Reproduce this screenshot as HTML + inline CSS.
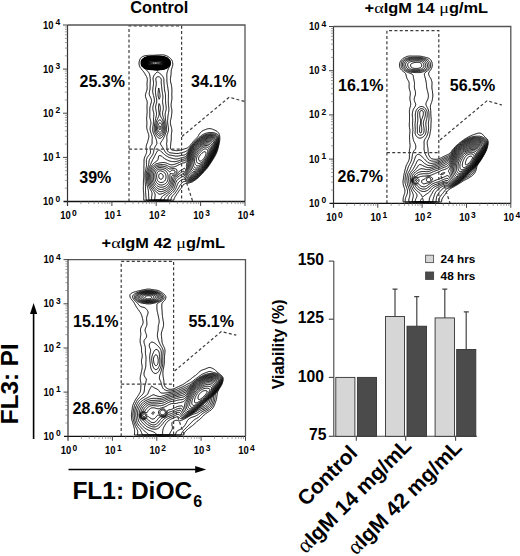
<!DOCTYPE html>
<html><head><meta charset="utf-8"><style>
html,body{margin:0;padding:0;background:#fff;}
svg{display:block;}
text{font-family:"Liberation Sans", sans-serif;fill:#000;}
</style></head><body>
<svg width="520" height="556" viewBox="0 0 520 556">
<text x="130.2" y="12.7" font-size="16.4" font-weight="bold" textLength="58.2" lengthAdjust="spacingAndGlyphs">Control</text>
<path d="M173.5,200.2 172.8,200.2 172.1,200.2 171.4,200.2 170.7,200.2 170.0,200.2 169.3,200.2 168.6,200.2 167.9,200.2 167.2,200.2 166.5,200.2 165.8,200.2 165.1,200.2 164.4,200.2 163.7,200.2 163.0,200.2 162.3,200.2 161.6,200.2 160.9,200.2 160.2,200.2 159.5,200.2 158.8,200.2 158.1,200.2 157.4,200.2 156.7,200.2 156.0,200.2 155.3,200.2 154.6,200.2 153.9,200.2 153.2,200.2 152.5,200.2 151.8,200.2 151.1,200.2 150.4,200.2 149.7,200.2 149.0,200.2 148.3,200.2 147.6,200.2 146.9,200.2 146.2,200.2 145.5,200.2 144.8,200.2 144.1,200.2 143.7,200.2 143.7,199.6 143.7,198.9 143.7,198.2 143.7,197.5 143.7,196.8 143.8,196.3 143.8,195.8 143.8,195.0 143.7,194.7 143.7,194.0 143.7,193.3 143.6,192.6 143.6,191.9 143.5,191.2 143.4,190.5 143.4,190.0 143.4,189.4 143.3,188.8 143.3,188.0 143.4,187.3 143.4,186.6 143.4,186.1 143.4,185.6 143.4,184.9 143.4,184.2 143.4,183.5 143.4,182.8 143.4,182.1 143.4,181.4 143.5,180.7 143.5,180.0 143.6,179.3 143.7,178.6 143.7,177.9 143.7,177.2 143.8,176.8 143.8,176.1 143.8,175.4 143.8,174.8 143.8,174.0 143.8,173.3 143.8,172.6 143.8,171.9 143.8,171.2 143.8,170.5 143.9,169.8 143.9,169.1 143.9,168.4 143.9,167.8 143.9,167.0 143.9,166.3 143.9,165.6 144.0,164.9 144.0,164.2 144.0,163.5 144.0,162.8 144.0,162.1 144.0,161.4 144.0,160.8 144.0,160.0 144.1,159.5 144.2,159.0 144.3,158.3 144.4,157.9 144.7,157.2 144.8,156.9 145.1,156.2 145.3,155.8 145.5,155.3 145.8,154.8 145.9,154.4 146.2,153.8 146.3,153.4 146.5,152.7 146.6,152.3 146.7,151.6 146.6,150.9 146.6,150.4 146.5,149.9 146.3,149.2 146.2,148.5 146.2,148.1 146.2,147.4 146.2,146.8 146.2,146.4 146.3,145.7 146.5,145.0 146.6,144.6 146.9,144.0 147.0,143.6 147.2,143.0 147.4,142.6 147.6,141.9 147.7,141.5 147.9,140.8 148.0,140.4 148.2,139.8 148.3,139.4 148.5,138.7 148.6,138.0 148.7,137.6 148.8,136.9 148.9,136.2 148.8,135.6 148.7,134.8 148.6,134.5 148.4,133.8 148.3,133.4 148.1,132.8 147.9,132.4 147.7,131.7 147.6,131.3 147.4,130.6 147.2,130.2 147.1,129.6 146.9,128.9 146.8,128.6 146.8,127.8 146.7,127.1 146.7,126.4 146.8,125.8 146.8,125.0 146.9,124.3 146.9,124.0 146.9,123.3 146.9,122.6 146.9,122.1 146.9,121.5 146.8,120.8 146.7,120.1 146.7,119.4 146.6,118.8 146.7,118.0 146.7,117.3 146.8,116.6 146.8,115.9 146.9,115.3 146.9,114.9 147.0,114.2 147.0,113.5 147.1,112.8 147.1,112.1 147.1,111.4 147.1,110.7 147.1,110.0 147.1,109.3 147.0,108.6 147.0,107.9 147.0,107.2 147.0,106.5 147.0,105.8 147.1,105.1 147.1,104.4 147.2,103.7 147.2,103.0 147.2,102.3 147.1,101.6 147.0,100.9 146.9,100.5 146.6,99.8 146.5,99.5 146.2,98.8 146.1,98.4 145.8,97.9 145.7,97.4 145.5,96.7 145.5,96.3 145.4,95.6 145.5,94.9 145.5,94.6 145.7,93.9 145.8,93.2 146.0,92.8 146.2,92.2 146.3,91.8 146.6,91.2 146.7,90.8 146.9,90.0 147.0,89.7 147.1,89.0 147.1,88.3 147.2,87.6 147.1,86.9 147.1,86.2 147.1,85.5 147.0,84.8 147.0,84.1 147.0,83.4 147.1,82.7 147.2,82.0 147.2,81.3 147.3,80.9 147.3,80.2 147.3,79.5 147.2,79.0 147.2,78.5 147.0,77.8 146.9,77.4 146.6,76.8 146.4,76.4 146.2,76.0 145.8,75.4 145.6,75.0 145.4,74.7 145.1,74.2 144.8,73.6 144.6,73.2 144.4,72.9 144.1,72.5 143.8,72.0 143.4,71.5 143.1,71.2 142.8,70.8 142.5,70.4 142.3,70.1 142.0,69.8 141.6,69.4 141.3,68.9 140.9,68.5 140.6,68.0 140.4,67.7 140.1,67.3 139.9,66.9 139.6,66.2 139.5,65.9 139.2,65.2 139.2,64.8 139.1,64.2 139.0,63.4 139.1,62.8 139.1,62.0 139.2,61.7 139.4,61.0 139.6,60.3 139.7,59.9 139.9,59.4 140.2,58.9 140.4,58.5 140.6,58.2 140.9,57.8 141.3,57.5 141.7,57.1 142.2,56.8 142.7,56.5 143.1,56.4 143.8,56.1 144.1,56.0 144.8,55.8 145.1,55.7 145.8,55.6 146.6,55.5 147.2,55.4 147.6,55.4 148.3,55.3 149.0,55.3 149.7,55.3 150.4,55.3 151.1,55.3 151.8,55.3 152.5,55.3 153.2,55.3 153.9,55.3 154.6,55.2 155.3,55.2 156.0,55.1 156.7,55.1 157.4,55.1 157.8,55.0 158.4,55.0 159.1,55.0 159.8,54.9 160.6,54.9 161.2,54.9 161.9,54.9 162.6,54.9 163.3,54.9 164.0,55.0 164.4,55.1 165.1,55.3 165.4,55.4 166.1,55.7 166.5,55.8 167.1,56.1 167.6,56.3 167.9,56.5 168.4,56.8 168.9,57.1 169.3,57.4 169.6,57.7 170.0,58.0 170.3,58.3 170.7,58.6 171.1,59.0 171.4,59.5 171.7,59.9 171.9,60.3 172.1,60.7 172.4,61.3 172.5,61.7 172.6,62.4 172.7,63.1 172.8,63.8 172.8,64.2 172.8,64.5 172.7,65.2 172.6,65.9 172.4,66.4 172.3,66.9 172.1,67.5 171.9,68.0 171.8,68.5 171.6,69.0 171.4,69.7 171.3,70.1 171.2,70.8 171.2,71.5 171.1,72.2 171.1,72.9 171.1,73.6 171.1,74.3 171.0,74.7 170.9,75.3 170.8,76.0 170.7,76.8 170.7,77.1 170.6,77.8 170.5,78.5 170.4,79.2 170.4,79.9 170.5,80.6 170.5,81.3 170.7,82.0 170.7,82.3 170.9,83.0 171.1,83.6 171.2,84.1 171.3,84.8 171.4,85.2 171.5,85.8 171.6,86.5 171.7,87.2 171.8,87.9 171.8,88.3 171.8,89.0 171.9,89.7 171.9,90.4 171.9,91.1 171.9,91.8 171.9,92.5 171.8,93.2 171.8,93.9 171.8,94.6 171.8,95.3 171.9,96.0 171.9,96.7 171.9,97.4 171.9,98.1 171.9,98.8 171.8,99.5 171.8,100.0 171.7,100.5 171.6,101.2 171.4,101.9 171.4,102.3 171.2,103.0 171.2,103.7 171.1,104.4 171.1,105.1 171.2,105.8 171.2,106.5 171.3,107.2 171.4,107.5 171.5,108.2 171.7,108.9 171.8,109.4 171.8,110.0 171.9,110.7 171.9,111.4 171.9,112.1 171.8,112.8 171.8,113.5 171.7,113.8 171.6,114.5 171.6,115.2 171.5,115.9 171.4,116.5 171.3,117.0 171.2,117.7 171.1,118.3 170.9,118.8 170.8,119.4 170.7,119.8 170.5,120.5 170.4,121.2 170.4,121.9 170.4,122.6 170.4,123.3 170.5,124.0 170.7,124.7 170.7,125.0 170.9,125.8 171.1,126.2 171.2,126.8 171.4,127.5 171.5,127.8 171.6,128.6 171.7,129.2 171.8,129.6 171.8,130.3 171.8,131.0 171.8,131.7 171.7,132.1 171.6,132.8 171.5,133.4 171.4,134.1 171.4,134.5 171.3,135.2 171.3,135.9 171.3,136.6 171.3,137.3 171.3,138.0 171.3,138.7 171.2,139.4 171.2,140.1 171.1,140.8 171.0,141.1 171.0,141.8 170.9,142.6 170.8,143.2 170.7,143.9 170.7,144.3 170.7,145.0 170.6,145.7 170.5,146.4 170.5,147.1 170.4,147.8 170.5,148.5 170.7,149.0 171.1,149.5 171.4,149.7 171.8,149.9 172.4,150.1 173.1,150.2 173.5,150.3 174.2,150.4 174.9,150.5 175.6,150.6 175.9,150.6 176.6,150.7 177.3,150.6 177.9,150.6 178.4,150.5 179.1,150.4 179.8,150.3 180.1,150.2 180.8,150.0 181.2,149.9 181.9,149.7 182.3,149.6 182.9,149.4 183.5,149.2 184.0,149.0 184.6,148.8 185.1,148.7 185.8,148.5 186.1,148.4 186.8,148.2 187.1,148.0 187.6,147.8 188.1,147.4 188.6,147.1 188.9,146.8 189.2,146.4 189.6,146.1 189.9,145.7 190.2,145.3 190.5,145.0 190.8,144.6 191.1,144.3 191.4,143.9 191.7,143.5 192.1,143.1 192.4,142.7 192.8,142.2 193.1,141.8 193.3,141.5 193.6,141.1 193.9,140.8 194.3,140.4 194.6,140.1 194.9,139.8 195.3,139.4 195.6,139.1 196.0,138.7 196.3,138.3 196.6,138.0 197.0,137.6 197.3,137.3 197.7,136.8 198.0,136.4 198.3,135.9 198.5,135.6 198.7,135.2 199.0,134.6 199.3,134.1 199.5,133.8 199.8,133.4 200.1,133.0 200.4,132.6 200.8,132.2 201.2,131.9 201.5,131.6 201.8,131.3 202.3,131.0 202.9,130.7 203.2,130.5 203.6,130.3 204.3,130.0 204.6,129.9 205.3,129.6 205.7,129.5 206.3,129.2 206.8,129.1 207.4,128.9 207.8,128.8 208.5,128.7 209.2,128.6 209.9,128.6 210.6,128.7 211.3,128.8 211.6,128.9 212.3,129.2 212.7,129.3 213.3,129.6 213.8,129.8 214.2,129.9 214.8,130.2 215.1,130.4 215.8,130.6 216.2,130.8 216.5,131.0 217.0,131.3 217.4,131.7 217.8,132.1 218.1,132.4 218.4,132.8 218.7,133.1 219.0,133.7 219.2,134.1 219.3,134.6 219.5,135.2 219.7,135.9 219.7,136.2 219.8,136.9 219.8,137.6 219.8,138.3 219.8,139.1 219.8,139.8 219.7,140.4 219.7,140.8 219.6,141.5 219.4,142.2 219.3,142.6 219.2,143.2 219.1,143.9 219.0,144.3 218.9,145.0 218.7,145.7 218.6,146.1 218.4,146.8 218.3,147.3 218.2,147.8 218.0,148.5 217.9,148.8 217.7,149.6 217.6,149.9 217.4,150.6 217.2,150.9 217.0,151.6 216.9,152.0 216.6,152.7 216.5,153.1 216.2,153.7 216.0,154.1 215.8,154.4 215.5,155.1 215.3,155.5 215.1,155.8 214.8,156.4 214.5,156.9 214.3,157.2 214.1,157.6 213.8,158.2 213.5,158.7 213.3,159.0 213.0,159.3 212.7,159.9 212.4,160.4 212.2,160.8 212.0,161.1 211.6,161.6 211.3,162.1 211.1,162.5 210.8,162.8 210.6,163.2 210.2,163.7 209.9,164.2 209.7,164.6 209.5,164.9 209.2,165.3 208.8,165.8 208.5,166.3 208.2,166.7 208.0,167.0 207.7,167.4 207.4,167.8 207.1,168.1 206.8,168.6 206.4,169.0 206.0,169.4 205.7,169.8 205.3,170.2 205.0,170.5 204.7,170.9 204.4,171.2 204.1,171.6 203.7,171.9 203.4,172.3 203.1,172.6 202.8,173.0 202.4,173.3 202.1,173.7 201.8,174.0 201.5,174.4 201.1,174.8 200.8,175.1 200.4,175.5 200.1,175.9 199.8,176.2 199.4,176.6 199.0,176.9 198.7,177.2 198.3,177.6 198.0,177.9 197.6,178.2 197.1,178.6 196.7,178.9 196.3,179.3 195.9,179.6 195.6,179.8 195.2,180.1 194.8,180.3 194.3,180.7 193.8,181.0 193.4,181.2 193.1,181.4 192.5,181.8 192.1,182.0 191.7,182.1 191.0,182.4 190.6,182.5 189.9,182.7 189.6,182.8 188.9,183.0 188.2,183.1 187.8,183.2 187.1,183.2 186.4,183.3 185.8,183.4 185.3,183.5 184.7,183.8 184.3,184.0 184.0,184.3 183.6,184.6 183.3,185.0 182.9,185.4 182.6,185.9 182.3,186.3 182.1,186.6 181.9,187.0 181.6,187.5 181.2,188.0 180.9,188.4 180.7,188.8 180.4,189.1 180.1,189.5 179.8,189.9 179.4,190.4 179.1,190.8 178.8,191.2 178.6,191.5 178.3,191.9 178.1,192.3 177.7,192.8 177.4,193.3 177.1,193.6 176.9,194.0 176.6,194.4 176.3,195.0 176.0,195.4 175.8,195.8 175.6,196.1 175.2,196.6 174.9,197.1 174.7,197.5 174.5,197.8 174.2,198.5 174.1,198.9 173.9,199.6 173.8,200.2 173.5,200.2 173.5,200.2 M170.7,200.2 170.0,200.2 169.3,200.2 168.6,200.2 167.9,200.2 167.2,200.2 166.5,200.2 165.8,200.2 165.1,200.2 164.4,200.2 163.7,200.2 163.0,200.2 162.3,200.2 161.6,200.2 160.9,200.2 160.2,200.2 159.5,200.2 158.8,200.2 158.1,200.2 157.4,200.2 156.7,200.2 156.0,200.2 155.3,200.2 154.6,200.2 153.9,200.2 153.2,200.2 152.5,200.2 151.8,200.2 151.1,200.2 150.4,200.2 149.7,200.2 149.0,200.2 148.3,200.2 147.6,200.2 146.9,200.2 146.2,200.2 146.2,199.9 146.2,199.2 146.1,198.5 146.1,197.8 146.0,197.1 145.9,196.4 145.9,195.8 145.8,195.4 145.8,194.7 145.7,194.0 145.7,193.3 145.6,192.6 145.6,191.9 145.6,191.2 145.5,190.5 145.5,189.8 145.5,189.1 145.5,188.4 145.5,187.7 145.5,187.0 145.5,186.6 145.5,185.9 145.4,185.2 145.4,184.5 145.3,183.8 145.3,183.1 145.2,182.4 145.2,181.8 145.1,181.3 145.1,180.7 145.1,180.0 145.1,179.3 145.1,178.6 145.1,177.9 145.1,177.2 145.1,176.5 145.1,175.8 145.1,175.1 145.1,174.4 145.1,173.7 145.1,173.3 145.2,172.6 145.3,171.9 145.4,171.2 145.5,170.8 145.6,170.2 145.8,169.5 145.9,169.1 146.0,168.4 146.1,167.8 146.2,167.4 146.3,166.7 146.4,166.0 146.5,165.3 146.5,164.6 146.5,163.9 146.5,163.2 146.4,162.5 146.4,161.8 146.4,161.1 146.4,160.4 146.5,159.7 146.6,159.3 146.8,158.7 146.9,158.3 147.2,157.6 147.5,157.2 147.7,156.9 147.9,156.5 148.3,156.0 148.6,155.6 149.0,155.2 149.3,154.8 149.6,154.4 149.8,154.1 150.1,153.7 150.3,153.1 150.4,152.7 150.5,152.0 150.5,151.3 150.4,150.6 150.3,150.2 150.2,149.6 150.1,148.9 150.0,148.5 150.0,147.8 150.1,147.4 150.2,146.8 150.4,146.4 150.8,145.8 151.1,145.3 151.3,145.0 151.6,144.6 151.8,144.2 152.0,143.6 152.1,142.9 152.1,142.2 152.1,141.5 152.1,140.8 152.1,140.1 152.1,139.5 152.2,139.1 152.2,138.3 152.3,137.6 152.2,136.9 152.1,136.5 152.0,135.9 151.8,135.2 151.7,134.8 151.4,134.2 151.3,133.8 151.1,133.3 150.9,132.8 150.8,132.3 150.6,131.7 150.4,131.0 150.3,130.6 150.2,129.9 150.1,129.2 150.1,128.6 150.2,127.8 150.2,127.1 150.3,126.4 150.4,126.1 150.6,125.4 150.7,124.7 150.8,124.3 150.9,123.6 150.9,122.9 150.9,122.2 150.8,121.5 150.7,121.2 150.6,120.5 150.4,119.9 150.3,119.4 150.1,118.8 150.0,118.4 149.9,117.7 149.8,117.0 149.8,116.3 149.8,115.6 149.8,114.9 149.8,114.2 149.8,113.5 149.8,112.8 149.8,112.1 149.8,111.4 149.8,110.7 149.8,110.0 149.8,109.3 149.8,108.6 149.9,107.9 150.0,107.2 150.1,106.8 150.2,106.1 150.4,105.5 150.5,105.1 150.7,104.4 150.8,104.0 151.0,103.3 151.1,103.0 151.3,102.3 151.4,101.6 151.5,101.2 151.5,100.5 151.4,100.1 151.3,99.5 151.1,98.8 151.0,98.4 150.8,97.9 150.5,97.4 150.3,97.0 150.1,96.5 149.8,96.0 149.6,95.6 149.4,94.9 149.3,94.6 149.2,93.9 149.2,93.2 149.3,92.5 149.4,92.1 149.5,91.5 149.7,90.8 149.7,90.4 149.9,89.7 150.0,89.0 150.0,88.3 150.1,87.9 150.1,87.2 150.1,86.5 150.1,85.8 150.1,85.2 150.1,84.4 150.2,83.8 150.2,83.0 150.2,82.3 150.3,81.7 150.3,80.9 150.3,80.2 150.3,79.5 150.2,78.8 150.2,78.2 150.1,77.4 150.1,76.9 150.0,76.4 149.9,75.7 149.7,75.0 149.6,74.7 149.4,73.9 149.3,73.6 149.0,73.0 148.7,72.5 148.5,72.2 148.2,71.8 147.9,71.5 147.6,71.2 147.2,70.8 146.9,70.4 146.5,70.1 146.1,69.8 145.7,69.4 145.4,69.0 144.9,68.7 144.4,68.5 144.1,68.3 143.8,68.0 143.2,67.7 142.8,67.3 142.4,66.9 142.1,66.6 141.9,66.2 141.6,65.8 141.3,65.2 141.3,64.8 141.1,64.2 141.1,63.4 141.1,62.8 141.1,62.0 141.2,61.3 141.3,61.0 141.5,60.3 141.7,59.9 142.0,59.6 142.3,59.1 142.7,58.7 143.1,58.5 143.4,58.2 144.1,57.8 144.4,57.6 144.8,57.5 145.5,57.2 145.8,57.1 146.6,56.9 147.2,56.8 147.6,56.7 148.3,56.5 149.0,56.5 149.5,56.5 150.1,56.3 150.8,56.2 151.4,56.2 152.1,56.2 152.8,56.2 153.6,56.2 154.2,56.2 154.9,56.1 155.6,56.1 156.3,56.1 157.1,56.1 157.8,56.1 158.4,56.1 159.1,56.2 159.8,56.2 160.6,56.2 161.2,56.2 161.9,56.3 162.4,56.5 163.0,56.5 163.7,56.6 164.3,56.8 164.8,56.8 165.4,57.1 165.8,57.2 166.5,57.5 166.8,57.6 167.2,57.8 167.9,58.2 168.2,58.4 168.6,58.7 168.9,59.0 169.3,59.4 169.6,59.9 169.9,60.3 170.1,60.6 170.3,61.3 170.3,61.8 170.5,62.4 170.5,63.1 170.5,63.8 170.4,64.5 170.3,64.8 170.1,65.5 170.0,65.9 169.6,66.4 169.3,66.9 169.1,67.3 168.9,67.7 168.6,68.3 168.5,68.7 168.2,69.2 168.0,69.8 167.9,70.1 167.6,70.8 167.5,71.2 167.3,71.8 167.2,72.2 167.0,72.9 166.9,73.6 166.8,74.1 166.8,74.7 166.8,75.3 166.8,76.0 166.8,76.8 166.8,77.4 166.9,77.8 166.9,78.5 166.9,79.2 166.9,79.9 166.9,80.6 166.9,81.3 167.0,82.0 167.1,82.7 167.1,83.4 167.2,83.8 167.3,84.4 167.4,85.2 167.6,85.8 167.6,86.2 167.7,86.9 167.8,87.6 167.9,88.3 167.9,88.7 168.0,89.3 168.2,90.0 168.2,90.7 168.3,91.1 168.4,91.8 168.4,92.5 168.5,93.2 168.5,93.9 168.4,94.6 168.4,95.3 168.4,96.0 168.4,96.7 168.4,97.4 168.4,98.1 168.3,98.8 168.3,99.5 168.3,100.2 168.3,100.9 168.3,101.6 168.3,102.3 168.3,103.0 168.4,103.7 168.4,104.4 168.5,105.1 168.6,105.8 168.6,106.1 168.7,106.8 168.8,107.5 168.8,108.2 168.9,108.9 168.9,109.6 168.9,110.3 168.8,111.0 168.7,111.8 168.6,112.4 168.5,112.8 168.4,113.5 168.3,114.2 168.2,114.5 168.1,115.2 168.0,115.9 167.9,116.6 167.9,117.0 167.8,117.7 167.8,118.4 167.7,119.1 167.7,119.8 167.6,120.5 167.6,121.2 167.6,121.9 167.6,122.6 167.7,123.3 167.8,124.0 167.9,124.7 167.9,125.0 168.1,125.8 168.2,126.4 168.3,126.8 168.4,127.5 168.5,128.2 168.5,128.9 168.5,129.6 168.5,130.3 168.4,131.0 168.2,131.4 168.1,132.1 167.9,132.5 167.7,133.1 167.6,133.5 167.3,134.1 167.2,134.5 167.0,135.2 166.9,135.9 166.8,136.2 166.8,136.9 166.8,137.6 166.8,138.3 166.9,138.7 166.9,139.4 167.0,140.1 166.9,140.8 166.9,141.5 166.8,141.8 166.8,142.6 166.6,143.2 166.5,143.9 166.7,144.6 166.8,145.3 166.8,146.1 166.9,146.4 166.9,147.1 166.9,147.8 166.9,148.5 167.0,149.2 167.1,149.9 167.2,150.2 167.6,150.9 167.8,151.3 168.1,151.6 168.5,152.0 168.9,152.3 169.3,152.5 169.9,152.7 170.3,152.8 171.1,152.9 171.8,153.0 172.1,153.1 172.8,153.1 173.5,153.2 174.2,153.3 174.9,153.4 175.2,153.4 175.9,153.5 176.6,153.5 177.3,153.5 178.1,153.4 178.4,153.4 179.1,153.3 179.8,153.1 180.2,153.1 180.8,152.9 181.6,152.8 182.0,152.7 182.6,152.5 183.3,152.3 183.6,152.2 184.3,152.0 184.7,151.9 185.2,151.6 185.8,151.4 186.1,151.3 186.6,150.9 187.1,150.6 187.5,150.3 187.8,150.0 188.2,149.6 188.5,149.2 188.8,148.8 189.1,148.5 189.3,148.1 189.6,147.8 189.9,147.3 190.3,146.9 190.6,146.4 190.9,146.1 191.2,145.7 191.5,145.3 191.7,145.0 192.1,144.6 192.4,144.2 192.8,143.8 193.1,143.4 193.4,143.0 193.8,142.6 194.1,142.2 194.4,141.8 194.8,141.5 195.1,141.1 195.4,140.8 195.8,140.4 196.2,140.1 196.5,139.8 196.9,139.4 197.3,139.1 197.7,138.7 198.0,138.4 198.3,138.1 198.7,137.8 199.0,137.5 199.4,137.2 199.8,136.9 200.1,136.6 200.5,136.2 200.9,135.9 201.3,135.6 201.8,135.2 202.2,134.9 202.5,134.7 202.9,134.5 203.6,134.2 203.9,134.0 204.4,133.8 205.0,133.6 205.4,133.4 206.0,133.2 206.6,133.1 207.1,133.0 207.8,132.8 208.1,132.7 208.8,132.6 209.5,132.5 210.2,132.5 210.9,132.5 211.6,132.5 212.3,132.6 213.0,132.6 213.7,132.8 214.1,132.8 214.8,133.0 215.1,133.1 215.8,133.4 216.2,133.5 216.7,133.8 217.2,134.1 217.6,134.4 217.9,134.8 218.2,135.2 218.4,135.6 218.6,136.1 218.8,136.6 219.0,137.3 219.0,137.6 219.1,138.3 219.1,139.1 219.1,139.8 219.1,140.4 219.0,141.1 219.0,141.5 218.9,142.2 218.8,142.9 218.6,143.5 218.6,143.9 218.4,144.6 218.3,145.2 218.2,145.7 218.0,146.4 217.9,146.8 217.8,147.4 217.6,148.1 217.5,148.5 217.3,149.2 217.2,149.6 216.9,150.2 216.8,150.6 216.5,151.3 216.4,151.6 216.2,152.1 216.0,152.7 215.8,153.1 215.5,153.7 215.3,154.1 215.1,154.4 214.8,155.1 214.6,155.5 214.4,155.8 214.1,156.4 213.9,156.9 213.7,157.2 213.4,157.7 213.1,158.3 212.9,158.7 212.6,159.0 212.3,159.5 212.0,160.0 211.8,160.4 211.6,160.8 211.3,161.2 210.9,161.7 210.7,162.1 210.5,162.5 210.2,162.8 209.9,163.3 209.5,163.9 209.3,164.2 209.1,164.6 208.8,164.9 208.5,165.4 208.1,165.9 207.8,166.3 207.6,166.7 207.3,167.0 207.1,167.4 206.8,167.8 206.4,168.2 206.0,168.7 205.7,169.1 205.3,169.5 205.0,169.8 204.7,170.2 204.4,170.5 204.1,170.9 203.8,171.2 203.5,171.6 203.2,171.9 202.8,172.3 202.5,172.6 202.2,173.0 201.8,173.4 201.5,173.7 201.2,174.1 200.8,174.5 200.4,174.9 200.1,175.2 199.8,175.6 199.4,175.9 199.0,176.3 198.7,176.6 198.3,176.9 198.0,177.2 197.6,177.5 197.2,177.9 196.7,178.2 196.3,178.6 195.9,178.9 195.6,179.1 195.2,179.4 194.8,179.6 194.2,180.0 193.8,180.3 193.4,180.5 193.0,180.7 192.4,181.0 192.1,181.2 191.5,181.4 191.0,181.6 190.5,181.8 189.9,181.9 189.2,182.0 188.6,182.1 187.8,182.1 187.1,182.0 186.4,181.8 186.1,181.7 185.4,181.5 184.7,181.4 184.0,181.5 183.3,181.8 182.9,182.0 182.6,182.3 182.2,182.6 181.9,182.9 181.6,183.3 181.2,183.7 180.8,184.1 180.6,184.5 180.4,184.9 180.1,185.2 179.8,185.8 179.5,186.3 179.3,186.6 179.1,187.0 178.8,187.6 178.5,188.0 178.3,188.4 178.0,188.8 177.7,189.3 177.4,189.8 177.2,190.1 176.9,190.5 176.6,190.9 176.3,191.4 176.0,191.9 175.7,192.2 175.4,192.6 175.2,192.9 174.9,193.3 174.6,193.7 174.2,194.1 173.8,194.5 173.5,194.8 173.1,195.2 172.8,195.6 172.4,195.9 172.1,196.4 171.8,196.8 171.6,197.1 171.4,197.6 171.2,198.2 171.1,198.9 171.0,199.2 171.0,199.9 170.7,200.2 170.7,200.2 M157.8,70.5 157.1,70.5 156.7,70.4 156.0,70.1 155.6,70.1 154.9,70.0 154.2,69.9 153.6,69.8 153.1,69.8 152.5,69.7 151.8,69.7 151.1,69.7 150.4,69.6 149.7,69.6 149.2,69.4 148.6,69.4 147.9,69.3 147.3,69.0 146.9,69.0 146.2,68.8 145.8,68.6 145.1,68.4 144.8,68.2 144.4,68.0 143.8,67.7 143.4,67.4 143.1,67.1 142.7,66.8 142.3,66.4 142.0,65.9 141.8,65.5 141.6,65.2 141.5,64.5 141.4,63.8 141.4,63.1 141.4,62.4 141.4,61.7 141.6,61.0 141.7,60.6 142.0,60.0 142.3,59.6 142.6,59.2 142.9,58.9 143.4,58.6 143.8,58.3 144.1,58.1 144.6,57.8 145.1,57.6 145.5,57.5 146.2,57.2 146.6,57.1 147.2,56.9 147.9,56.8 148.3,56.7 149.0,56.6 149.7,56.5 150.4,56.5 151.0,56.5 151.4,56.4 152.1,56.3 152.8,56.3 153.6,56.3 154.2,56.3 154.9,56.3 155.6,56.3 156.3,56.3 157.1,56.3 157.8,56.3 158.4,56.3 159.1,56.3 159.8,56.3 160.6,56.4 160.9,56.5 161.6,56.5 162.3,56.6 163.0,56.7 163.4,56.8 164.1,56.9 164.8,57.1 165.1,57.2 165.8,57.4 166.1,57.6 166.8,57.8 167.2,58.0 167.6,58.3 168.0,58.5 168.4,58.9 168.8,59.2 169.1,59.6 169.4,59.9 169.6,60.5 169.9,61.0 170.0,61.6 170.1,62.0 170.1,62.8 170.1,63.4 170.1,64.2 170.0,64.5 169.8,65.2 169.6,65.6 169.3,66.2 169.0,66.6 168.7,66.9 168.2,67.3 167.9,67.6 167.6,67.8 167.2,68.0 166.5,68.3 166.1,68.5 165.5,68.7 165.1,68.9 164.4,69.0 164.1,69.2 163.3,69.4 162.6,69.4 162.3,69.6 161.6,69.7 160.9,69.7 160.2,69.7 159.8,69.8 159.1,70.0 158.5,70.1 158.1,70.3 157.8,70.5 157.8,70.5 M167.9,200.2 167.2,200.2 166.5,200.2 165.8,200.2 165.1,200.2 164.4,200.2 163.7,200.2 163.0,200.2 162.3,200.2 161.6,200.2 160.9,200.2 160.2,200.2 159.5,200.2 158.8,200.2 158.1,200.2 157.4,200.2 156.7,200.2 156.0,200.2 155.3,200.2 154.6,200.2 153.9,200.2 153.2,200.2 152.5,200.2 151.8,200.2 151.1,200.2 150.4,200.2 149.7,200.2 149.0,200.2 148.9,199.9 148.8,199.2 148.8,198.5 148.8,197.8 148.7,197.1 148.7,196.4 148.6,196.1 148.6,195.4 148.6,194.7 148.6,194.0 148.6,193.3 148.5,192.6 148.5,191.9 148.4,191.2 148.3,190.5 148.3,190.1 148.1,189.4 147.9,188.8 147.8,188.4 147.7,187.7 147.6,187.3 147.4,186.6 147.2,186.0 147.1,185.6 147.0,184.9 146.9,184.3 146.8,183.8 146.7,183.1 146.6,182.4 146.6,181.8 146.5,181.4 146.4,180.7 146.4,180.0 146.4,179.3 146.3,178.6 146.3,177.9 146.3,177.2 146.2,176.5 146.2,175.8 146.2,175.1 146.3,174.4 146.3,173.7 146.4,173.0 146.5,172.3 146.6,171.9 146.7,171.2 146.9,170.7 147.0,170.2 147.2,169.5 147.4,169.1 147.6,168.4 147.7,168.1 147.9,167.4 148.0,167.0 148.2,166.3 148.3,166.0 148.5,165.3 148.6,164.6 148.7,164.2 148.8,163.5 148.9,162.8 148.9,162.1 149.0,161.4 149.0,161.1 149.2,160.4 149.3,159.8 149.6,159.3 149.7,159.0 150.1,158.5 150.4,158.0 150.7,157.6 150.9,157.2 151.2,156.9 151.4,156.5 151.8,155.9 152.1,155.5 152.4,155.2 152.6,154.8 152.8,154.3 153.1,153.8 153.2,153.4 153.4,152.7 153.6,152.3 153.7,151.6 153.8,150.9 153.9,150.2 153.9,149.9 154.1,149.2 154.2,148.7 154.4,148.1 154.6,147.8 154.9,147.1 155.1,146.8 155.3,146.4 155.6,145.9 156.0,145.3 156.2,145.0 156.4,144.6 156.7,144.3 156.9,143.6 156.8,142.9 156.8,142.2 156.7,141.5 156.7,141.1 156.5,140.4 156.3,139.8 156.2,139.4 156.0,138.8 155.8,138.3 155.6,137.9 155.4,137.3 155.2,136.9 154.9,136.3 154.7,135.9 154.6,135.6 154.2,134.9 154.1,134.5 153.9,134.1 153.6,133.4 153.4,133.1 153.2,132.5 153.0,132.1 152.9,131.3 152.8,131.0 152.7,130.3 152.7,129.6 152.7,128.9 152.7,128.2 152.8,127.5 152.8,127.1 152.9,126.4 153.1,125.8 153.2,125.0 153.2,124.7 153.3,124.0 153.4,123.3 153.4,122.6 153.5,121.9 153.5,121.2 153.5,120.5 153.5,119.8 153.5,119.1 153.5,118.4 153.6,117.8 153.6,117.3 153.7,116.6 153.7,115.9 153.8,115.2 153.8,114.5 153.8,113.8 153.7,113.1 153.6,112.4 153.5,112.1 153.3,111.4 153.2,111.0 153.1,110.3 152.9,109.6 152.9,108.9 152.8,108.6 152.8,107.9 152.9,107.5 152.9,106.8 153.1,106.1 153.2,105.5 153.3,105.1 153.5,104.4 153.6,104.0 153.9,103.3 154.0,103.0 154.2,102.3 154.3,101.9 154.4,101.2 154.4,100.5 154.4,99.8 154.3,99.1 154.2,98.6 154.2,98.1 154.0,97.4 153.9,97.0 153.7,96.3 153.6,95.7 153.4,95.3 153.2,94.6 153.2,94.2 153.0,93.5 152.9,92.8 152.8,92.5 152.7,91.8 152.7,91.1 152.7,90.4 152.8,89.7 152.8,89.0 152.9,88.7 152.9,87.9 153.0,87.2 153.1,86.5 153.2,86.2 153.3,85.5 153.4,84.8 153.5,84.1 153.5,83.4 153.5,82.7 153.5,82.0 153.4,81.3 153.3,80.6 153.2,80.1 153.1,79.5 153.0,78.8 153.1,78.2 153.2,77.4 153.2,77.1 153.5,76.4 153.6,76.0 153.9,75.6 154.2,75.0 154.5,74.7 154.8,74.3 155.1,73.9 155.5,73.6 155.8,73.2 156.1,72.9 156.5,72.5 157.0,72.2 157.4,72.0 158.1,72.2 158.4,72.3 158.8,72.6 159.2,72.9 159.7,73.2 160.1,73.6 160.5,73.9 160.9,74.3 161.2,74.6 161.6,75.0 161.9,75.3 162.2,75.7 162.5,76.0 162.7,76.4 163.0,76.8 163.3,77.4 163.5,77.8 163.7,78.5 163.8,78.8 163.9,79.5 163.9,80.2 163.9,80.9 163.9,81.7 163.9,82.3 164.0,83.0 164.0,83.8 164.1,84.1 164.1,84.8 164.2,85.5 164.2,86.2 164.3,86.9 164.4,87.6 164.4,88.1 164.4,88.7 164.5,89.3 164.6,90.0 164.7,90.8 164.8,91.1 164.9,91.8 165.1,92.5 165.1,92.8 165.3,93.5 165.4,94.2 165.4,94.9 165.5,95.3 165.5,96.0 165.5,96.7 165.5,97.4 165.5,98.1 165.5,98.8 165.5,99.5 165.5,100.2 165.5,100.9 165.6,101.6 165.6,102.3 165.7,103.0 165.7,103.7 165.8,104.2 165.9,104.8 166.0,105.4 166.1,106.1 166.1,106.8 166.2,107.2 166.2,107.9 166.2,108.6 166.1,109.1 166.1,109.6 165.9,110.3 165.8,110.9 165.7,111.4 165.5,112.1 165.4,112.4 165.3,113.1 165.2,113.8 165.1,114.5 165.1,115.2 165.2,115.9 165.3,116.6 165.3,117.3 165.4,118.0 165.5,118.4 165.5,119.1 165.6,119.8 165.7,120.5 165.8,121.2 165.8,121.6 165.9,122.2 165.9,122.9 166.0,123.6 166.1,124.3 166.2,124.7 166.3,125.4 166.4,126.1 166.5,126.8 166.5,127.1 166.6,127.8 166.6,128.6 166.6,129.2 166.5,129.9 166.5,130.3 166.4,131.0 166.2,131.7 166.1,132.1 165.8,132.8 165.7,133.1 165.4,133.8 165.3,134.1 165.1,134.6 164.9,135.2 164.7,135.6 164.4,136.2 164.3,136.6 164.1,137.2 163.8,137.6 163.7,138.0 163.3,138.7 163.1,139.1 162.9,139.4 162.6,139.8 162.3,140.3 162.0,140.8 161.7,141.1 161.5,141.5 161.2,141.8 160.9,142.4 160.6,142.9 160.5,143.2 160.2,143.9 160.6,144.4 160.9,144.9 161.2,145.3 161.5,145.7 161.7,146.1 162.0,146.4 162.3,146.9 162.6,147.4 162.9,147.8 163.1,148.1 163.3,148.5 163.7,149.2 163.9,149.6 164.1,149.9 164.4,150.5 164.6,150.9 164.8,151.3 165.1,151.7 165.4,152.2 165.8,152.6 166.1,153.0 166.5,153.4 166.8,153.7 167.2,153.9 167.6,154.1 168.1,154.4 168.6,154.7 169.0,154.8 169.6,155.0 170.3,155.2 170.7,155.2 171.4,155.3 172.1,155.4 172.5,155.5 173.1,155.6 173.8,155.8 174.4,155.8 174.9,156.0 175.6,156.1 176.3,156.1 177.0,156.1 177.7,156.1 178.4,156.0 179.1,155.9 179.4,155.8 180.1,155.7 180.8,155.6 181.5,155.5 181.9,155.4 182.6,155.3 183.3,155.2 183.6,155.1 184.3,154.9 184.8,154.8 185.4,154.5 185.8,154.3 186.1,154.0 186.4,153.6 186.8,153.2 187.1,152.7 187.4,152.3 187.6,152.0 187.9,151.6 188.2,151.1 188.5,150.6 188.8,150.2 189.0,149.9 189.2,149.5 189.6,149.0 189.9,148.5 190.2,148.1 190.4,147.8 190.7,147.4 191.0,147.0 191.3,146.5 191.7,146.1 192.0,145.7 192.3,145.3 192.5,145.0 192.8,144.6 193.1,144.3 193.4,143.9 193.8,143.5 194.1,143.1 194.5,142.7 194.8,142.4 195.2,142.0 195.6,141.6 195.9,141.3 196.2,140.9 196.6,140.6 196.9,140.3 197.3,140.0 197.7,139.7 198.0,139.4 198.4,139.1 198.8,138.7 199.2,138.3 199.6,138.0 200.1,137.6 200.4,137.4 200.8,137.1 201.2,136.9 201.5,136.6 202.1,136.2 202.5,136.0 202.9,135.8 203.3,135.6 203.9,135.3 204.3,135.1 204.9,134.8 205.3,134.7 205.9,134.5 206.4,134.4 207.1,134.2 207.4,134.1 208.1,133.9 208.8,133.8 209.2,133.8 209.9,133.7 210.6,133.7 211.3,133.7 212.0,133.7 212.6,133.8 213.0,133.9 213.8,134.0 214.4,134.1 214.8,134.2 215.5,134.5 215.8,134.7 216.2,134.8 216.8,135.2 217.2,135.6 217.5,135.9 217.7,136.2 217.9,136.7 218.2,137.3 218.3,137.8 218.4,138.3 218.5,139.1 218.5,139.8 218.5,140.4 218.5,141.1 218.4,141.8 218.3,142.6 218.3,142.9 218.2,143.6 218.0,144.3 217.9,144.7 217.8,145.3 217.7,146.1 217.6,146.4 217.4,147.1 217.2,147.8 217.2,148.1 216.9,148.8 216.8,149.2 216.6,149.9 216.5,150.2 216.2,150.9 216.1,151.3 215.8,151.9 215.7,152.3 215.5,152.7 215.2,153.4 215.0,153.8 214.8,154.2 214.5,154.8 214.3,155.2 214.1,155.6 213.8,156.2 213.6,156.5 213.4,156.9 213.0,157.5 212.8,157.9 212.6,158.3 212.3,158.8 212.0,159.3 211.8,159.7 211.6,160.0 211.3,160.5 210.9,161.0 210.7,161.4 210.5,161.8 210.2,162.1 209.9,162.7 209.5,163.2 209.3,163.5 209.1,163.9 208.8,164.2 208.5,164.7 208.1,165.3 207.9,165.6 207.6,166.0 207.4,166.3 207.1,166.7 206.8,167.2 206.4,167.6 206.0,168.0 205.7,168.4 205.4,168.8 205.1,169.1 204.8,169.5 204.5,169.8 204.2,170.2 203.9,170.5 203.6,170.9 203.2,171.3 202.9,171.7 202.5,172.0 202.2,172.4 201.8,172.8 201.5,173.2 201.2,173.5 200.8,173.9 200.4,174.3 200.1,174.6 199.8,175.0 199.4,175.3 199.0,175.7 198.7,176.0 198.3,176.3 198.0,176.6 197.7,176.9 197.3,177.2 196.8,177.5 196.4,177.9 195.9,178.2 195.6,178.5 195.2,178.7 194.8,179.0 194.3,179.3 193.8,179.6 193.4,179.8 193.1,180.0 192.4,180.3 192.1,180.5 191.5,180.7 191.0,180.9 190.3,181.0 189.9,181.1 189.2,181.2 188.6,181.2 187.8,181.1 187.5,181.0 186.8,180.7 186.4,180.5 186.1,180.3 185.5,180.0 185.1,179.7 184.7,179.5 184.2,179.3 183.6,179.2 182.9,179.2 182.6,179.4 182.0,179.6 181.6,180.0 181.2,180.2 180.8,180.4 180.4,180.7 180.0,181.0 179.5,181.4 179.2,181.8 178.8,182.1 178.5,182.4 178.3,182.8 178.1,183.2 177.7,183.8 177.5,184.2 177.3,184.6 177.1,185.2 177.0,185.6 176.7,186.3 176.6,186.6 176.3,187.3 176.2,187.7 175.9,188.3 175.7,188.8 175.5,189.1 175.2,189.6 174.9,190.1 174.7,190.5 174.4,190.8 174.2,191.2 173.8,191.6 173.5,192.0 173.1,192.3 172.8,192.6 172.4,193.0 172.1,193.3 171.7,193.6 171.2,194.0 170.8,194.3 170.5,194.7 170.1,195.0 169.8,195.4 169.5,195.8 169.2,196.1 168.9,196.5 168.6,197.1 168.4,197.5 168.2,198.1 168.1,198.5 168.0,199.2 167.9,199.9 167.9,200.2 167.9,200.2 M161.2,69.4 160.6,69.5 159.8,69.6 159.1,69.6 158.4,69.7 157.8,69.7 157.1,69.7 156.3,69.7 155.6,69.7 154.9,69.7 154.2,69.7 153.6,69.6 152.8,69.6 152.1,69.6 151.4,69.6 150.8,69.5 150.3,69.4 149.7,69.3 149.0,69.3 148.3,69.2 147.9,69.0 147.2,68.9 146.6,68.7 146.2,68.6 145.5,68.4 145.1,68.2 144.7,68.0 144.1,67.7 143.8,67.5 143.4,67.2 143.1,66.9 142.7,66.6 142.3,66.1 142.0,65.5 141.9,65.2 141.7,64.5 141.6,64.2 141.6,63.4 141.6,62.8 141.6,62.0 141.6,61.6 141.8,61.0 142.0,60.5 142.3,59.9 142.5,59.6 142.8,59.2 143.2,58.9 143.7,58.5 144.1,58.3 144.4,58.1 144.9,57.8 145.5,57.6 145.8,57.5 146.6,57.3 147.0,57.1 147.6,57.0 148.3,56.9 148.8,56.8 149.3,56.7 150.1,56.6 150.8,56.6 151.4,56.5 152.1,56.5 152.8,56.5 153.2,56.4 153.9,56.4 154.6,56.4 155.3,56.4 156.0,56.4 156.7,56.4 157.4,56.4 158.1,56.4 158.8,56.4 159.1,56.5 159.8,56.5 160.6,56.5 161.2,56.6 161.9,56.7 162.6,56.8 163.0,56.8 163.7,57.0 164.4,57.1 164.8,57.2 165.4,57.4 165.8,57.6 166.4,57.8 166.8,58.0 167.2,58.2 167.7,58.5 168.2,58.9 168.6,59.2 168.9,59.6 169.1,59.9 169.3,60.3 169.6,61.0 169.7,61.3 169.9,62.0 169.9,62.8 169.9,63.4 169.8,64.2 169.7,64.8 169.6,65.2 169.3,65.8 169.0,66.2 168.7,66.6 168.4,66.9 168.0,67.3 167.6,67.6 167.2,67.8 166.8,68.0 166.1,68.3 165.8,68.5 165.1,68.7 164.8,68.8 164.1,69.0 163.6,69.0 163.0,69.2 162.3,69.3 161.6,69.4 161.2,69.4 161.2,69.4 M160.9,138.0 160.2,138.3 159.5,138.3 158.8,138.1 158.4,137.9 158.1,137.6 157.8,137.3 157.4,136.9 157.1,136.5 156.7,136.1 156.4,135.6 156.1,135.2 155.9,134.8 155.6,134.3 155.4,133.8 155.2,133.4 154.9,132.9 154.8,132.4 154.6,131.9 154.4,131.3 154.3,130.6 154.2,130.3 154.2,129.6 154.2,128.9 154.2,128.2 154.2,127.7 154.3,127.1 154.4,126.4 154.5,125.8 154.6,125.0 154.6,124.7 154.7,124.0 154.8,123.3 154.9,122.6 155.0,122.2 155.1,121.5 155.2,120.8 155.3,120.2 155.4,119.8 155.5,119.1 155.6,118.6 155.8,118.0 156.0,117.3 156.1,117.0 156.2,116.3 156.3,115.7 156.4,115.2 156.5,114.5 156.5,113.8 156.5,113.1 156.4,112.4 156.3,112.1 156.2,111.4 156.1,110.7 156.0,110.3 155.9,109.6 155.8,108.9 155.7,108.2 155.6,107.8 155.6,107.2 155.7,106.8 155.7,106.1 155.8,105.4 156.0,104.8 156.1,104.4 156.3,103.7 156.4,103.3 156.6,102.6 156.7,102.0 156.7,101.6 156.8,100.9 156.7,100.2 156.7,99.8 156.6,99.1 156.5,98.4 156.3,97.9 156.3,97.4 156.1,96.7 156.0,96.1 155.9,95.6 155.8,94.9 155.7,94.2 155.6,93.9 155.6,93.2 155.5,92.5 155.5,91.8 155.4,91.1 155.4,90.4 155.5,89.7 155.5,89.0 155.6,88.3 155.7,87.9 155.8,87.2 155.9,86.5 156.0,86.0 156.1,85.5 156.2,84.8 156.3,84.1 156.3,83.4 156.3,82.7 156.2,82.0 156.1,81.3 156.0,80.6 155.9,80.2 155.8,79.5 155.8,78.8 156.0,78.2 156.2,77.8 156.4,77.4 156.8,77.1 157.4,76.8 157.8,76.7 158.4,76.7 158.8,76.8 159.5,77.0 159.8,77.2 160.2,77.5 160.6,77.9 160.9,78.4 161.1,78.8 161.2,79.3 161.3,79.9 161.3,80.6 161.2,81.3 161.2,81.7 161.2,82.3 161.2,83.0 161.3,83.4 161.3,84.1 161.4,84.8 161.5,85.5 161.6,86.2 161.6,86.5 161.7,87.2 161.8,87.9 161.8,88.7 161.9,89.3 161.9,90.0 162.0,90.4 162.1,91.1 162.2,91.8 162.3,92.4 162.4,92.8 162.5,93.5 162.6,94.1 162.7,94.6 162.8,95.3 162.9,96.0 162.9,96.7 162.9,97.4 162.8,98.1 162.8,98.8 162.7,99.5 162.6,99.8 162.6,100.5 162.6,101.2 162.6,101.9 162.6,102.6 162.7,103.0 162.8,103.7 162.9,104.4 163.0,105.0 163.1,105.4 163.2,106.1 163.3,106.8 163.3,107.5 163.3,108.2 163.3,108.9 163.2,109.6 163.0,110.3 163.0,110.7 162.8,111.4 162.7,112.1 162.6,112.5 162.6,113.1 162.6,113.8 162.6,114.5 162.7,114.9 162.8,115.6 163.0,116.2 163.1,116.6 163.3,117.3 163.4,117.7 163.7,118.4 163.8,118.8 164.0,119.4 164.1,119.8 164.2,120.5 164.4,121.2 164.5,121.5 164.6,122.2 164.7,122.9 164.8,123.3 164.9,124.0 165.0,124.7 165.1,125.4 165.1,125.8 165.2,126.4 165.3,127.1 165.3,127.8 165.4,128.6 165.3,129.2 165.3,129.9 165.2,130.6 165.1,131.0 164.9,131.7 164.8,132.2 164.5,132.8 164.4,133.1 164.1,133.8 163.9,134.1 163.7,134.6 163.4,135.2 163.2,135.6 163.0,135.9 162.6,136.4 162.3,136.8 161.9,137.2 161.6,137.6 161.2,137.8 160.9,138.0 160.9,138.0 M163.7,200.2 163.0,200.2 162.3,200.2 161.6,200.2 160.9,200.2 160.2,200.2 159.5,200.2 158.8,200.2 158.1,200.2 157.4,200.2 156.7,200.2 156.0,200.2 155.3,200.2 154.6,200.2 153.9,200.2 153.2,200.2 152.5,200.2 151.8,200.2 151.5,199.9 151.5,199.2 151.6,198.5 151.6,197.8 151.6,197.1 151.7,196.4 151.8,196.1 151.9,195.4 152.0,194.7 152.1,194.0 152.0,193.3 151.9,192.6 151.8,192.2 151.5,191.5 151.3,191.2 151.1,190.8 150.8,190.2 150.5,189.8 150.3,189.4 150.1,188.9 149.8,188.4 149.6,188.0 149.3,187.5 149.1,187.0 149.0,186.6 148.7,185.9 148.6,185.6 148.4,184.9 148.3,184.5 148.1,183.8 148.0,183.1 147.9,182.8 147.8,182.1 147.7,181.4 147.6,180.7 147.6,180.3 147.5,179.6 147.5,178.9 147.4,178.2 147.4,177.5 147.3,176.8 147.3,176.1 147.3,175.4 147.3,174.8 147.4,174.0 147.5,173.3 147.6,172.6 147.7,172.3 147.8,171.6 147.9,171.2 148.2,170.5 148.3,170.1 148.5,169.5 148.6,169.1 148.9,168.4 149.0,168.1 149.3,167.4 149.4,167.0 149.7,166.5 149.9,166.0 150.1,165.6 150.4,164.9 150.5,164.6 150.8,164.1 151.0,163.5 151.2,163.2 151.4,162.5 151.6,162.1 151.8,161.7 152.0,161.1 152.2,160.8 152.5,160.2 152.7,159.7 152.9,159.3 153.2,158.9 153.5,158.3 153.7,157.9 153.9,157.6 154.2,156.9 154.4,156.5 154.6,156.0 154.9,155.5 155.1,155.2 155.3,154.8 155.6,154.2 155.9,153.8 156.0,153.4 156.3,152.8 156.6,152.3 156.8,152.0 157.1,151.5 157.4,151.0 157.8,150.7 158.1,150.4 158.4,150.2 159.1,150.2 159.5,150.2 160.2,150.6 160.6,150.9 160.9,151.2 161.2,151.5 161.6,151.8 161.9,152.2 162.3,152.5 162.6,152.9 163.0,153.2 163.3,153.5 163.7,153.9 164.1,154.2 164.4,154.5 164.8,154.8 165.3,155.2 165.8,155.5 166.1,155.7 166.5,156.0 166.8,156.2 167.4,156.5 167.9,156.9 168.2,157.1 168.7,157.2 169.3,157.5 169.6,157.6 170.3,157.8 170.8,157.9 171.4,158.1 172.1,158.3 172.4,158.3 173.1,158.5 173.7,158.7 174.2,158.8 174.9,158.9 175.6,159.0 176.3,159.0 177.0,158.9 177.7,158.8 178.4,158.7 178.8,158.6 179.4,158.4 179.8,158.3 180.5,158.1 180.9,157.9 181.6,157.8 182.2,157.6 182.6,157.5 183.3,157.4 183.8,157.2 184.3,157.1 184.8,156.9 185.4,156.6 185.8,156.3 186.1,156.0 186.4,155.6 186.7,155.2 186.9,154.8 187.2,154.4 187.5,153.8 187.7,153.4 187.9,153.1 188.2,152.5 188.5,152.0 188.7,151.6 188.9,151.3 189.2,150.7 189.5,150.2 189.7,149.9 189.9,149.5 190.3,149.0 190.6,148.5 190.9,148.1 191.1,147.8 191.4,147.4 191.7,147.0 192.1,146.5 192.4,146.1 192.7,145.7 193.0,145.3 193.3,145.0 193.6,144.6 193.9,144.3 194.2,143.9 194.5,143.6 194.8,143.2 195.2,142.8 195.6,142.5 195.9,142.1 196.2,141.8 196.6,141.4 196.9,141.1 197.3,140.8 197.7,140.4 198.1,140.1 198.5,139.8 198.9,139.4 199.3,139.1 199.8,138.7 200.1,138.5 200.4,138.2 200.8,138.0 201.2,137.6 201.8,137.3 202.2,137.0 202.5,136.8 203.0,136.6 203.6,136.3 203.9,136.1 204.4,135.9 205.0,135.7 205.3,135.5 206.0,135.3 206.4,135.2 207.1,135.0 207.8,134.9 208.1,134.8 208.8,134.7 209.5,134.6 210.2,134.6 210.9,134.6 211.6,134.6 212.3,134.7 213.0,134.8 213.4,134.9 214.1,135.1 214.6,135.2 215.1,135.4 215.5,135.6 216.1,135.9 216.5,136.2 216.8,136.6 217.1,136.9 217.3,137.3 217.6,138.0 217.7,138.3 217.8,139.1 217.9,139.8 217.9,140.4 217.9,141.1 217.9,141.8 217.8,142.6 217.7,143.2 217.6,143.9 217.6,144.3 217.4,145.0 217.3,145.7 217.2,146.1 217.1,146.8 216.9,147.4 216.8,147.8 216.6,148.5 216.5,148.8 216.3,149.6 216.2,149.9 215.9,150.6 215.8,150.9 215.5,151.6 215.4,152.0 215.1,152.6 214.9,153.1 214.8,153.4 214.4,154.1 214.3,154.4 214.1,154.8 213.8,155.5 213.6,155.8 213.4,156.2 213.0,156.8 212.8,157.2 212.6,157.6 212.3,158.0 212.0,158.7 211.8,159.0 211.6,159.3 211.3,159.8 210.9,160.4 210.7,160.8 210.5,161.1 210.2,161.5 209.9,162.0 209.6,162.5 209.4,162.8 209.1,163.2 208.8,163.6 208.5,164.1 208.2,164.6 207.9,164.9 207.7,165.3 207.4,165.6 207.1,166.1 206.8,166.6 206.4,167.0 206.1,167.4 205.8,167.8 205.5,168.1 205.2,168.4 205.0,168.8 204.6,169.2 204.3,169.6 203.9,170.0 203.6,170.3 203.2,170.7 202.9,171.1 202.5,171.5 202.2,171.9 201.8,172.2 201.5,172.6 201.2,173.0 200.8,173.3 200.5,173.7 200.1,174.0 199.8,174.4 199.4,174.7 199.0,175.1 198.7,175.4 198.3,175.7 198.0,176.0 197.7,176.3 197.3,176.6 196.9,176.9 196.5,177.2 196.0,177.5 195.6,177.9 195.2,178.1 194.8,178.3 194.4,178.6 193.8,178.9 193.4,179.1 193.1,179.3 192.4,179.6 192.1,179.8 191.5,180.0 191.0,180.1 190.3,180.3 189.6,180.3 189.2,180.4 188.9,180.3 188.2,180.2 187.7,180.0 187.1,179.7 186.8,179.5 186.4,179.3 186.1,178.9 185.6,178.6 185.3,178.2 184.9,177.9 184.5,177.5 184.2,177.2 183.7,176.8 183.3,176.6 182.6,176.6 182.0,176.8 181.6,177.1 181.2,177.3 180.8,177.5 180.3,177.9 179.8,178.2 179.4,178.4 179.1,178.6 178.6,178.9 178.1,179.3 177.7,179.6 177.4,180.0 177.1,180.3 176.8,180.7 176.6,181.0 176.3,181.7 176.1,182.1 175.9,182.5 175.7,183.1 175.6,183.5 175.4,184.2 175.2,184.7 175.1,185.2 174.9,185.9 174.8,186.3 174.6,187.0 174.4,187.3 174.2,187.9 174.0,188.4 173.8,188.8 173.5,189.3 173.1,189.8 172.9,190.1 172.6,190.5 172.3,190.8 171.9,191.2 171.5,191.5 171.1,191.9 170.7,192.2 170.3,192.6 170.0,192.8 169.6,193.1 169.3,193.4 168.9,193.7 168.6,194.0 168.2,194.3 167.8,194.7 167.4,195.0 167.1,195.4 166.7,195.8 166.4,196.1 166.0,196.4 165.7,196.8 165.4,197.1 165.1,197.6 164.8,198.1 164.5,198.5 164.4,198.9 164.1,199.6 164.1,200.1 163.7,200.2 163.7,200.2 M160.2,69.4 159.5,69.5 158.8,69.5 158.1,69.5 157.4,69.6 156.7,69.6 156.0,69.6 155.3,69.6 154.6,69.6 153.9,69.5 153.2,69.5 152.5,69.5 151.8,69.4 151.3,69.4 150.8,69.4 150.1,69.3 149.3,69.2 148.6,69.1 148.3,69.0 147.6,68.9 146.9,68.7 146.6,68.6 145.8,68.4 145.5,68.2 145.0,68.0 144.4,67.7 144.1,67.5 143.8,67.3 143.3,66.9 143.0,66.6 142.7,66.2 142.3,65.8 142.1,65.2 141.9,64.8 141.8,64.2 141.8,63.4 141.7,62.8 141.8,62.0 141.9,61.3 142.0,60.9 142.3,60.3 142.5,59.9 142.7,59.6 143.1,59.2 143.4,58.9 143.9,58.5 144.4,58.2 144.8,58.0 145.2,57.8 145.8,57.6 146.2,57.5 146.9,57.3 147.5,57.1 147.9,57.0 148.6,56.9 149.3,56.8 149.7,56.8 150.4,56.7 151.1,56.6 151.8,56.6 152.5,56.5 153.2,56.5 153.9,56.5 154.6,56.5 155.3,56.5 156.0,56.5 156.7,56.5 157.4,56.5 158.1,56.5 158.8,56.5 159.5,56.6 160.2,56.6 160.9,56.7 161.6,56.7 162.1,56.8 162.6,56.9 163.3,57.0 164.0,57.1 164.4,57.3 165.1,57.5 165.4,57.6 166.1,57.8 166.5,58.0 166.9,58.2 167.5,58.5 167.9,58.9 168.2,59.2 168.6,59.5 168.9,59.9 169.1,60.3 169.3,60.6 169.6,61.3 169.6,61.9 169.7,62.4 169.7,63.1 169.7,63.8 169.6,64.2 169.5,64.8 169.3,65.4 169.0,65.9 168.8,66.2 168.5,66.6 168.1,66.9 167.7,67.3 167.2,67.6 166.8,67.8 166.5,68.0 165.8,68.3 165.4,68.4 164.8,68.7 164.4,68.8 163.7,68.9 163.0,69.0 162.6,69.1 161.9,69.2 161.2,69.3 160.6,69.4 160.2,69.4 160.2,69.4 M159.1,99.3 159.0,98.8 158.8,98.4 158.6,97.8 158.4,97.2 158.3,96.7 158.2,96.0 158.1,95.3 158.1,94.6 158.1,94.2 158.1,93.5 158.1,93.2 158.1,92.5 158.2,91.8 158.3,91.1 158.3,90.4 158.4,89.7 158.5,89.3 158.6,88.7 158.8,88.0 158.9,88.7 159.1,89.3 159.1,89.8 159.3,90.4 159.4,91.1 159.5,91.8 159.6,92.1 159.7,92.8 159.8,93.5 159.9,93.9 160.0,94.6 160.0,95.3 160.1,96.0 160.0,96.7 159.9,97.4 159.8,97.8 159.5,98.4 159.4,98.8 159.1,99.3 159.1,99.3 M160.6,135.9 159.8,136.1 159.1,136.0 158.8,135.8 158.4,135.6 158.0,135.2 157.6,134.8 157.3,134.5 157.0,134.1 156.7,133.6 156.4,133.1 156.2,132.8 156.0,132.2 155.8,131.7 155.6,131.2 155.5,130.6 155.4,129.9 155.4,129.2 155.4,128.6 155.4,127.8 155.4,127.1 155.5,126.4 155.6,125.8 155.7,125.4 155.8,124.7 155.9,124.0 156.0,123.5 156.1,122.9 156.3,122.2 156.4,121.9 156.5,121.2 156.7,120.7 156.9,120.1 157.1,119.8 157.4,119.1 157.5,118.8 157.8,118.3 158.1,117.7 158.2,117.3 158.4,116.8 158.7,116.3 158.8,115.8 158.9,115.2 159.1,114.5 159.1,113.8 159.1,113.1 159.0,112.4 158.9,111.8 158.8,111.0 158.8,110.7 158.7,110.0 158.6,109.3 158.5,108.6 158.5,107.9 158.5,107.2 158.5,106.5 158.6,105.8 158.8,105.1 158.8,104.8 159.0,104.0 159.1,103.6 159.5,104.0 159.6,104.4 159.8,105.1 159.9,105.4 160.1,106.1 160.2,106.8 160.2,107.2 160.3,107.9 160.3,108.6 160.3,109.3 160.2,110.0 160.2,110.3 160.1,111.0 160.0,111.8 159.9,112.4 159.9,113.1 159.9,113.8 160.0,114.5 160.2,115.2 160.3,115.6 160.6,116.3 160.7,116.6 160.9,117.0 161.2,117.6 161.6,118.0 161.8,118.4 162.0,118.8 162.3,119.3 162.5,119.8 162.7,120.1 163.0,120.8 163.1,121.2 163.3,121.9 163.4,122.2 163.6,122.9 163.7,123.6 163.8,124.0 163.9,124.7 164.0,125.4 164.1,125.8 164.2,126.4 164.2,127.1 164.3,127.8 164.3,128.6 164.3,129.2 164.2,129.9 164.1,130.6 164.0,131.0 163.8,131.7 163.6,132.1 163.3,132.7 163.2,133.1 163.0,133.4 162.6,134.0 162.3,134.5 162.0,134.8 161.7,135.2 161.3,135.6 160.9,135.8 160.6,135.9 160.6,135.9 M160.6,200.2 159.8,200.2 159.1,200.2 158.4,200.2 157.8,200.2 157.1,200.2 156.3,200.2 155.6,200.2 154.9,200.2 154.8,199.9 154.8,199.2 154.8,198.5 154.9,197.8 154.9,197.1 155.0,196.8 155.1,196.1 155.2,195.4 155.1,194.7 155.0,194.0 154.9,193.6 154.6,192.9 154.4,192.6 154.2,192.2 153.9,191.8 153.6,191.3 153.2,190.8 153.0,190.5 152.7,190.1 152.5,189.8 152.1,189.4 151.8,188.9 151.5,188.4 151.3,188.0 151.0,187.7 150.8,187.2 150.4,186.6 150.3,186.3 150.1,185.8 149.8,185.2 149.7,184.9 149.5,184.2 149.3,183.8 149.2,183.1 149.0,182.4 149.0,182.1 148.9,181.4 148.8,180.7 148.7,180.0 148.6,179.6 148.6,178.9 148.5,178.2 148.5,177.5 148.4,176.8 148.4,176.1 148.4,175.4 148.4,174.8 148.5,174.0 148.6,173.3 148.7,173.0 148.8,172.3 149.0,171.6 149.1,171.2 149.3,170.5 149.5,170.2 149.7,169.6 149.9,169.1 150.1,168.7 150.3,168.1 150.5,167.8 150.8,167.3 151.1,166.7 151.3,166.3 151.5,166.0 151.8,165.5 152.1,165.0 152.5,164.6 152.8,164.2 153.1,163.9 153.5,163.5 153.9,163.2 154.2,162.9 154.6,162.6 154.9,162.3 155.3,162.1 155.7,161.8 156.2,161.4 156.7,161.1 157.1,160.8 157.4,160.5 157.7,160.0 157.9,159.7 158.1,159.2 158.2,158.7 158.3,157.9 158.4,157.2 158.4,156.9 158.6,156.2 158.8,155.8 159.5,155.6 160.2,155.6 160.9,155.8 161.2,155.9 161.7,156.2 162.0,156.5 162.4,156.9 162.7,157.2 163.1,157.6 163.6,157.9 164.1,158.3 164.4,158.5 164.8,158.7 165.2,159.0 165.8,159.3 166.1,159.5 166.5,159.7 167.2,160.0 167.6,160.2 167.9,160.4 168.6,160.7 168.9,160.8 169.6,161.0 170.0,161.1 170.7,161.3 171.4,161.4 171.8,161.5 172.4,161.6 173.1,161.6 173.8,161.7 174.6,161.7 175.2,161.6 175.9,161.5 176.4,161.4 177.0,161.3 177.7,161.1 178.1,161.0 178.7,160.8 179.1,160.6 179.6,160.4 180.1,160.2 180.5,160.0 181.2,159.8 181.6,159.7 182.2,159.5 182.7,159.3 183.3,159.2 184.0,159.0 184.3,158.9 185.0,158.7 185.4,158.4 185.8,158.2 186.1,157.8 186.4,157.3 186.7,156.9 186.9,156.5 187.1,156.1 187.4,155.5 187.6,155.2 187.8,154.6 188.1,154.1 188.3,153.8 188.6,153.2 188.8,152.7 189.0,152.3 189.2,151.8 189.5,151.3 189.7,150.9 189.9,150.6 190.3,150.0 190.6,149.6 190.8,149.2 191.0,148.8 191.3,148.4 191.7,147.9 192.0,147.4 192.3,147.1 192.6,146.8 192.8,146.4 193.1,146.1 193.4,145.6 193.8,145.2 194.1,144.8 194.5,144.4 194.8,144.0 195.2,143.7 195.6,143.3 195.9,142.9 196.2,142.6 196.6,142.2 196.9,141.9 197.3,141.6 197.7,141.2 198.0,140.9 198.3,140.6 198.7,140.3 199.0,140.1 199.4,139.8 199.9,139.4 200.4,139.1 200.8,138.7 201.2,138.5 201.5,138.3 201.9,138.0 202.5,137.6 202.9,137.4 203.2,137.2 203.9,136.9 204.3,136.8 204.7,136.6 205.3,136.3 205.7,136.2 206.4,136.0 206.8,135.9 207.4,135.8 208.1,135.6 208.7,135.6 209.2,135.5 209.9,135.5 210.6,135.4 211.3,135.5 212.0,135.5 212.3,135.6 213.0,135.7 213.7,135.9 214.1,136.0 214.7,136.2 215.1,136.5 215.5,136.7 215.9,136.9 216.2,137.3 216.5,137.7 216.9,138.3 217.0,138.7 217.2,139.4 217.2,139.8 217.3,140.4 217.3,141.1 217.3,141.8 217.3,142.6 217.2,142.9 217.2,143.6 217.1,144.3 217.0,145.0 216.9,145.4 216.8,146.1 216.6,146.8 216.5,147.2 216.4,147.8 216.2,148.5 216.1,148.8 215.9,149.6 215.8,149.9 215.5,150.6 215.4,150.9 215.1,151.6 215.0,152.0 214.8,152.4 214.5,153.1 214.4,153.4 214.1,154.0 213.9,154.4 213.7,154.8 213.4,155.4 213.1,155.8 213.0,156.2 212.7,156.7 212.4,157.2 212.2,157.6 212.0,157.9 211.6,158.6 211.4,159.0 211.2,159.3 210.9,159.7 210.6,160.3 210.3,160.8 210.1,161.1 209.8,161.4 209.5,161.9 209.2,162.4 208.9,162.8 208.7,163.2 208.5,163.5 208.1,164.0 207.8,164.5 207.5,164.9 207.2,165.3 207.0,165.6 206.7,166.0 206.4,166.4 206.0,166.9 205.7,167.3 205.3,167.7 205.0,168.1 204.8,168.4 204.5,168.8 204.2,169.1 203.8,169.5 203.5,169.8 203.2,170.2 202.9,170.5 202.5,170.9 202.2,171.3 201.8,171.7 201.5,172.0 201.2,172.4 200.8,172.8 200.4,173.1 200.1,173.5 199.8,173.8 199.4,174.1 199.0,174.5 198.7,174.8 198.3,175.1 198.0,175.4 197.5,175.8 197.1,176.1 196.6,176.5 196.2,176.8 195.9,177.0 195.6,177.2 195.1,177.5 194.5,177.9 194.1,178.1 193.8,178.3 193.2,178.6 192.8,178.8 192.4,178.9 191.7,179.2 191.3,179.3 190.6,179.4 189.9,179.5 189.2,179.5 188.6,179.3 188.2,179.2 187.8,178.9 187.3,178.6 186.8,178.2 186.4,177.9 186.1,177.6 185.8,177.2 185.5,176.8 185.3,176.5 185.0,176.1 184.7,175.6 184.4,175.1 184.2,174.8 184.0,174.4 183.6,174.0 182.9,173.9 182.4,174.0 181.9,174.3 181.6,174.5 181.1,174.8 180.6,175.1 180.1,175.4 179.8,175.7 179.4,175.9 179.1,176.2 178.7,176.5 178.1,176.8 177.7,177.1 177.3,177.4 177.0,177.6 176.6,177.9 176.3,178.2 175.9,178.7 175.6,179.2 175.4,179.6 175.2,180.0 174.9,180.7 174.8,181.0 174.6,181.8 174.5,182.1 174.3,182.8 174.1,183.1 173.9,183.8 173.8,184.2 173.6,184.9 173.5,185.4 173.3,185.9 173.1,186.4 172.9,187.0 172.8,187.3 172.4,188.0 172.2,188.4 172.0,188.8 171.7,189.1 171.4,189.5 171.1,189.9 170.7,190.3 170.3,190.6 170.0,190.9 169.6,191.2 169.2,191.5 168.7,191.9 168.3,192.2 167.9,192.5 167.6,192.8 167.2,193.1 166.8,193.3 166.4,193.6 165.8,194.0 165.4,194.2 165.1,194.5 164.7,194.7 164.1,195.0 163.7,195.3 163.3,195.6 163.0,195.8 162.6,196.1 162.3,196.4 161.9,196.8 161.6,197.3 161.3,197.8 161.1,198.2 160.9,198.8 160.8,199.2 160.6,199.9 160.6,200.2 160.6,200.2 M158.4,69.4 157.8,69.4 157.1,69.5 156.3,69.5 155.6,69.5 154.9,69.5 154.2,69.4 153.6,69.4 152.9,69.4 152.5,69.4 151.8,69.3 151.1,69.3 150.4,69.2 149.7,69.1 149.1,69.0 148.6,69.0 147.9,68.8 147.3,68.7 146.9,68.6 146.2,68.4 145.8,68.2 145.3,68.0 144.8,67.8 144.4,67.6 144.0,67.3 143.5,66.9 143.2,66.6 142.9,66.2 142.6,65.9 142.3,65.4 142.1,64.8 142.0,64.2 142.0,63.8 141.9,63.1 141.9,62.4 142.0,61.7 142.1,61.3 142.3,60.6 142.5,60.3 142.7,59.9 143.1,59.5 143.4,59.1 143.8,58.8 144.2,58.5 144.8,58.2 145.1,58.0 145.5,57.8 146.2,57.6 146.6,57.5 147.2,57.3 147.9,57.1 148.3,57.1 149.0,57.0 149.7,56.9 150.2,56.8 150.8,56.7 151.4,56.7 152.1,56.7 152.8,56.6 153.6,56.6 154.2,56.6 154.9,56.6 155.6,56.6 156.3,56.6 157.1,56.6 157.8,56.6 158.4,56.6 159.1,56.6 159.8,56.7 160.6,56.7 161.2,56.8 161.6,56.8 162.3,56.9 163.0,57.0 163.5,57.1 164.1,57.3 164.8,57.5 165.1,57.6 165.8,57.8 166.1,58.0 166.6,58.2 167.2,58.5 167.6,58.8 167.9,59.1 168.2,59.4 168.6,59.8 168.9,60.3 169.1,60.6 169.3,61.1 169.4,61.7 169.5,62.4 169.5,63.1 169.5,63.8 169.4,64.5 169.3,64.9 169.0,65.5 168.8,65.9 168.6,66.2 168.2,66.6 167.9,67.0 167.5,67.3 166.9,67.7 166.5,67.9 166.1,68.0 165.4,68.3 165.1,68.4 164.4,68.6 164.1,68.7 163.3,68.9 162.6,69.0 162.3,69.1 161.6,69.2 160.9,69.3 160.2,69.3 159.5,69.4 158.8,69.4 158.4,69.4 158.4,69.4 M160.9,133.8 160.2,134.1 159.5,134.1 158.8,133.8 158.4,133.6 158.1,133.2 157.8,132.8 157.5,132.4 157.3,132.1 157.1,131.6 156.8,131.0 156.7,130.5 156.6,129.9 156.5,129.2 156.5,128.6 156.5,127.8 156.5,127.1 156.6,126.4 156.7,125.8 156.8,125.4 156.9,124.7 157.1,124.1 157.2,123.6 157.4,122.9 157.5,122.6 157.8,122.0 158.0,121.5 158.2,121.2 158.4,120.8 158.8,120.4 159.1,120.1 159.8,119.8 160.4,120.1 160.9,120.5 161.2,120.8 161.5,121.2 161.7,121.5 161.9,122.0 162.2,122.6 162.3,122.9 162.5,123.6 162.6,124.0 162.8,124.7 163.0,125.4 163.0,125.8 163.1,126.4 163.2,127.1 163.2,127.8 163.3,128.6 163.2,129.2 163.1,129.9 163.0,130.5 162.8,131.0 162.6,131.5 162.4,132.1 162.2,132.4 161.9,132.8 161.6,133.2 161.2,133.6 160.9,133.8 160.9,133.8 M160.6,194.1 159.8,194.2 159.1,194.1 158.8,194.0 158.2,193.6 157.8,193.3 157.4,193.0 157.1,192.6 156.7,192.3 156.3,191.9 156.0,191.6 155.7,191.2 155.3,190.8 155.0,190.5 154.7,190.1 154.3,189.8 154.0,189.4 153.7,189.1 153.5,188.8 153.2,188.4 152.8,188.0 152.5,187.5 152.2,187.0 151.9,186.6 151.7,186.3 151.4,185.8 151.2,185.2 151.0,184.9 150.8,184.2 150.6,183.8 150.4,183.1 150.3,182.8 150.2,182.1 150.1,181.5 150.0,181.0 149.9,180.3 149.8,179.6 149.7,179.0 149.7,178.6 149.6,177.9 149.6,177.2 149.5,176.5 149.5,175.8 149.5,175.1 149.6,174.4 149.7,173.7 149.7,173.3 149.9,172.6 150.1,172.1 150.2,171.6 150.4,171.0 150.6,170.5 150.8,170.1 151.0,169.5 151.2,169.1 151.4,168.6 151.7,168.1 151.9,167.8 152.1,167.4 152.5,166.9 152.8,166.4 153.2,166.0 153.6,165.7 153.9,165.4 154.2,165.1 154.6,164.8 154.9,164.6 155.5,164.2 156.0,164.0 156.3,163.8 157.1,163.6 157.4,163.5 158.1,163.3 158.5,163.2 159.1,163.1 159.8,162.9 160.5,162.8 160.9,162.8 161.6,162.7 162.3,162.6 163.0,162.5 163.7,162.5 164.4,162.6 165.1,162.7 165.6,162.8 166.1,163.0 166.7,163.2 167.2,163.4 167.6,163.6 168.2,163.9 168.6,164.0 169.1,164.2 169.6,164.4 170.1,164.6 170.7,164.7 171.4,164.8 172.1,164.8 172.8,164.7 173.3,164.6 173.8,164.5 174.6,164.3 174.9,164.2 175.6,163.9 175.9,163.8 176.6,163.6 177.0,163.5 177.6,163.2 178.1,163.0 178.5,162.8 179.1,162.6 179.4,162.4 180.0,162.1 180.5,161.9 180.8,161.7 181.6,161.5 181.9,161.3 182.6,161.1 182.9,161.0 183.6,160.8 184.0,160.7 184.7,160.6 185.1,160.4 185.6,160.0 186.0,159.7 186.3,159.3 186.5,159.0 186.8,158.5 187.1,157.9 187.2,157.6 187.5,157.0 187.7,156.5 187.9,156.2 188.2,155.5 188.3,155.2 188.6,154.6 188.8,154.1 188.9,153.8 189.2,153.1 189.5,152.7 189.6,152.3 189.9,151.8 190.2,151.3 190.4,150.9 190.6,150.5 191.0,150.0 191.3,149.6 191.5,149.2 191.7,148.8 192.1,148.4 192.4,147.9 192.7,147.4 193.0,147.1 193.3,146.8 193.6,146.4 193.8,146.1 194.1,145.7 194.5,145.3 194.8,144.9 195.2,144.5 195.6,144.1 195.9,143.8 196.2,143.4 196.6,143.1 196.9,142.7 197.3,142.4 197.7,142.1 198.0,141.7 198.3,141.4 198.7,141.1 199.1,140.8 199.6,140.4 200.0,140.1 200.4,139.8 200.8,139.5 201.2,139.3 201.5,139.1 202.1,138.7 202.5,138.4 202.9,138.2 203.4,138.0 203.9,137.7 204.3,137.6 204.9,137.3 205.3,137.1 205.9,136.9 206.4,136.8 207.1,136.6 207.4,136.6 208.1,136.4 208.8,136.3 209.5,136.3 210.2,136.3 210.9,136.3 211.6,136.4 212.3,136.5 212.8,136.6 213.4,136.8 213.9,136.9 214.4,137.2 214.8,137.4 215.2,137.6 215.6,138.0 215.9,138.3 216.2,138.9 216.4,139.4 216.5,140.0 216.6,140.4 216.7,141.1 216.7,141.8 216.7,142.6 216.7,143.2 216.6,143.9 216.5,144.5 216.5,145.0 216.4,145.7 216.3,146.4 216.2,146.8 216.0,147.4 215.9,148.1 215.8,148.5 215.6,149.2 215.4,149.6 215.2,150.2 215.1,150.6 214.8,151.3 214.7,151.6 214.4,152.2 214.2,152.7 214.1,153.1 213.8,153.8 213.6,154.1 213.4,154.5 213.1,155.2 212.9,155.5 212.7,155.9 212.4,156.5 212.2,156.9 212.0,157.2 211.6,157.8 211.4,158.3 211.2,158.7 210.9,159.0 210.6,159.6 210.3,160.0 210.1,160.4 209.9,160.8 209.5,161.2 209.2,161.8 209.0,162.1 208.7,162.5 208.5,162.8 208.1,163.4 207.8,163.9 207.5,164.2 207.3,164.6 207.0,164.9 206.8,165.3 206.4,165.8 206.0,166.2 205.7,166.7 205.4,167.0 205.1,167.4 204.8,167.8 204.5,168.1 204.2,168.4 203.9,168.8 203.6,169.2 203.2,169.6 202.9,169.9 202.5,170.3 202.2,170.7 201.8,171.1 201.5,171.4 201.2,171.8 200.8,172.1 200.4,172.5 200.1,172.8 199.8,173.2 199.4,173.5 199.0,173.9 198.7,174.2 198.3,174.5 198.0,174.8 197.6,175.1 197.2,175.4 196.7,175.8 196.2,176.1 195.9,176.3 195.6,176.6 195.1,176.8 194.5,177.2 194.1,177.4 193.8,177.6 193.1,177.9 192.8,178.0 192.2,178.2 191.7,178.4 191.0,178.6 190.6,178.6 189.9,178.6 189.6,178.6 188.9,178.4 188.6,178.2 188.0,177.9 187.6,177.5 187.2,177.2 186.9,176.8 186.6,176.5 186.3,176.1 186.1,175.8 185.8,175.2 185.5,174.8 185.4,174.4 185.2,173.7 185.1,173.3 184.8,172.6 184.7,172.3 184.4,171.6 184.0,171.3 183.3,171.3 182.7,171.6 182.2,171.8 181.9,172.0 181.4,172.3 180.8,172.6 180.5,172.9 180.1,173.1 179.8,173.4 179.4,173.7 179.1,174.0 178.8,174.4 178.4,174.8 178.1,175.1 177.7,175.4 177.3,175.8 176.8,176.1 176.3,176.5 175.9,176.7 175.6,176.9 175.2,177.2 174.8,177.5 174.5,177.9 174.2,178.5 174.0,178.9 173.8,179.5 173.7,180.0 173.5,180.7 173.4,181.0 173.2,181.8 173.1,182.1 172.9,182.8 172.8,183.1 172.6,183.8 172.4,184.3 172.2,184.9 172.1,185.3 171.8,185.9 171.7,186.3 171.4,186.9 171.1,187.3 170.9,187.7 170.7,188.0 170.3,188.4 170.0,188.8 169.6,189.2 169.3,189.5 168.9,189.8 168.6,190.1 168.1,190.5 167.6,190.8 167.2,191.1 166.8,191.4 166.5,191.6 166.0,191.9 165.4,192.2 165.1,192.4 164.7,192.6 164.1,192.9 163.7,193.1 163.1,193.3 162.6,193.5 162.1,193.6 161.6,193.8 160.9,194.0 160.6,194.1 160.6,194.1 M161.6,69.1 160.9,69.2 160.2,69.2 159.5,69.3 158.8,69.3 158.1,69.3 157.4,69.4 156.7,69.4 156.0,69.4 155.3,69.4 154.6,69.4 153.9,69.3 153.2,69.3 152.5,69.3 151.8,69.3 151.1,69.2 150.4,69.1 149.7,69.0 149.3,69.0 148.6,68.9 147.9,68.7 147.6,68.7 146.9,68.5 146.5,68.3 145.8,68.1 145.5,68.0 144.8,67.7 144.4,67.4 144.1,67.2 143.8,66.9 143.4,66.6 143.1,66.2 142.7,65.7 142.4,65.2 142.3,64.8 142.2,64.2 142.1,63.4 142.1,62.8 142.1,62.0 142.3,61.3 142.3,61.0 142.7,60.3 142.9,59.9 143.1,59.6 143.5,59.2 143.9,58.9 144.4,58.5 144.8,58.3 145.1,58.1 145.8,57.8 146.2,57.7 146.9,57.5 147.2,57.4 147.9,57.2 148.4,57.1 149.0,57.1 149.7,57.0 150.4,56.9 151.1,56.8 151.4,56.8 152.1,56.7 152.8,56.7 153.6,56.7 154.2,56.7 154.9,56.7 155.6,56.7 156.3,56.7 157.1,56.7 157.8,56.7 158.4,56.7 159.1,56.7 159.8,56.8 160.4,56.8 160.9,56.8 161.6,56.9 162.3,57.0 163.0,57.1 163.3,57.2 164.1,57.4 164.5,57.5 165.1,57.7 165.5,57.8 166.1,58.1 166.5,58.3 167.0,58.5 167.5,58.9 167.9,59.2 168.2,59.6 168.5,59.9 168.8,60.3 168.9,60.7 169.2,61.3 169.3,62.0 169.3,62.4 169.3,63.1 169.3,63.8 169.3,64.2 169.1,64.8 168.9,65.3 168.6,65.9 168.4,66.2 168.1,66.6 167.7,66.9 167.2,67.3 166.8,67.5 166.5,67.7 165.9,68.0 165.4,68.2 165.0,68.3 164.4,68.5 163.7,68.7 163.3,68.8 162.6,68.9 161.9,69.0 161.6,69.1 161.6,69.1 M160.2,132.1 159.5,132.1 159.1,131.9 158.8,131.7 158.4,131.3 158.1,130.6 158.0,130.3 157.8,129.6 157.7,129.2 157.6,128.6 157.6,127.8 157.7,127.1 157.8,126.6 157.8,126.1 158.0,125.4 158.1,125.0 158.4,124.3 158.5,124.0 158.8,123.6 159.1,123.2 159.5,122.9 160.2,122.9 160.6,123.1 160.9,123.5 161.2,124.0 161.4,124.3 161.6,124.8 161.8,125.4 161.9,126.1 162.0,126.4 162.1,127.1 162.2,127.8 162.1,128.6 162.1,129.2 161.9,129.8 161.8,130.3 161.6,130.8 161.3,131.3 160.9,131.7 160.6,132.0 160.2,132.1 160.2,132.1 M161.6,191.6 160.9,191.6 160.2,191.6 159.8,191.5 159.1,191.4 158.7,191.2 158.1,190.9 157.8,190.7 157.4,190.4 157.0,190.1 156.6,189.8 156.2,189.4 155.8,189.1 155.4,188.8 155.1,188.4 154.7,188.0 154.4,187.7 154.1,187.3 153.9,187.0 153.6,186.6 153.2,186.1 152.9,185.6 152.7,185.2 152.5,184.9 152.1,184.2 152.0,183.8 151.8,183.4 151.6,182.8 151.4,182.3 151.3,181.8 151.2,181.0 151.1,180.6 151.0,180.0 150.9,179.3 150.8,178.6 150.8,177.9 150.8,177.5 150.7,176.8 150.7,176.1 150.7,175.4 150.7,174.8 150.8,174.4 150.9,173.7 151.0,173.0 151.1,172.6 151.3,171.9 151.4,171.6 151.7,170.9 151.8,170.5 152.1,169.9 152.3,169.5 152.5,169.1 152.8,168.6 153.2,168.1 153.5,167.8 153.8,167.4 154.1,167.0 154.5,166.7 154.9,166.3 155.3,166.1 155.6,165.9 156.0,165.6 156.7,165.3 157.1,165.2 157.8,165.0 158.1,164.9 158.8,164.8 159.5,164.7 160.2,164.6 160.6,164.6 161.2,164.6 161.9,164.6 162.6,164.6 163.3,164.6 163.7,164.6 164.4,164.7 165.1,164.9 165.4,165.0 166.1,165.2 166.5,165.3 167.2,165.6 167.6,165.8 167.9,166.0 168.6,166.3 168.9,166.6 169.3,166.7 170.0,167.0 170.3,167.1 171.1,167.2 171.8,167.2 172.4,167.1 172.9,167.0 173.5,167.0 174.2,166.8 174.7,166.7 175.2,166.5 175.7,166.3 176.3,166.1 176.6,165.9 177.1,165.6 177.7,165.4 178.1,165.2 178.6,164.9 179.1,164.7 179.4,164.5 180.0,164.2 180.5,164.0 180.8,163.8 181.4,163.5 181.9,163.4 182.3,163.2 182.9,163.0 183.6,162.9 184.0,162.8 184.7,162.7 185.1,162.5 185.7,162.1 186.0,161.8 186.3,161.4 186.5,161.1 186.8,160.5 187.0,160.0 187.2,159.7 187.5,159.0 187.6,158.7 187.8,158.0 188.0,157.6 188.2,157.1 188.4,156.5 188.6,156.2 188.8,155.5 189.0,155.2 189.2,154.6 189.5,154.1 189.6,153.8 189.9,153.1 190.1,152.7 190.3,152.3 190.6,151.7 190.9,151.3 191.1,150.9 191.3,150.5 191.7,149.9 192.0,149.6 192.2,149.2 192.4,148.8 192.8,148.4 193.1,147.9 193.4,147.5 193.7,147.1 194.0,146.8 194.3,146.4 194.6,146.1 195.0,145.7 195.3,145.3 195.6,145.0 195.9,144.6 196.2,144.3 196.6,143.9 196.9,143.6 197.3,143.2 197.7,142.9 198.0,142.6 198.4,142.2 198.8,141.8 199.3,141.5 199.7,141.1 200.1,140.9 200.4,140.6 200.8,140.4 201.2,140.1 201.7,139.8 202.2,139.5 202.5,139.3 202.9,139.1 203.6,138.7 203.9,138.5 204.4,138.3 205.0,138.1 205.3,138.0 206.0,137.7 206.4,137.6 207.1,137.5 207.8,137.3 208.1,137.3 208.8,137.2 209.5,137.2 210.2,137.2 210.9,137.2 211.6,137.3 212.0,137.4 212.7,137.5 213.0,137.7 213.8,137.9 214.1,138.1 214.5,138.3 214.9,138.7 215.2,139.1 215.5,139.5 215.8,140.1 215.9,140.4 216.0,141.1 216.1,141.8 216.1,142.6 216.1,143.2 216.0,143.9 216.0,144.6 215.9,145.3 215.8,145.8 215.8,146.4 215.6,147.1 215.5,147.7 215.4,148.1 215.2,148.8 215.1,149.2 214.9,149.9 214.8,150.2 214.5,150.9 214.4,151.3 214.1,152.0 213.9,152.3 213.8,152.8 213.5,153.4 213.3,153.8 213.0,154.3 212.8,154.8 212.7,155.2 212.3,155.7 212.1,156.2 211.9,156.5 211.6,157.1 211.3,157.6 211.1,157.9 210.9,158.3 210.6,158.9 210.3,159.3 210.1,159.7 209.9,160.0 209.5,160.6 209.2,161.1 209.0,161.4 208.7,161.8 208.5,162.2 208.1,162.7 207.8,163.2 207.6,163.5 207.3,163.9 207.1,164.2 206.8,164.7 206.4,165.1 206.0,165.6 205.7,166.0 205.5,166.3 205.2,166.7 204.9,167.0 204.6,167.4 204.3,167.8 203.9,168.1 203.6,168.5 203.2,168.9 202.9,169.3 202.5,169.7 202.2,170.1 201.8,170.4 201.5,170.8 201.2,171.2 200.8,171.5 200.4,171.9 200.1,172.2 199.8,172.5 199.4,172.9 199.0,173.2 198.7,173.5 198.3,173.8 198.0,174.1 197.7,174.4 197.2,174.8 196.7,175.1 196.2,175.4 195.9,175.7 195.6,175.9 195.1,176.1 194.5,176.5 194.1,176.6 193.7,176.8 193.1,177.1 192.8,177.2 192.1,177.5 191.7,177.5 191.0,177.6 190.3,177.6 189.8,177.5 189.2,177.4 188.9,177.2 188.4,176.8 188.0,176.5 187.7,176.1 187.4,175.8 187.1,175.4 186.8,174.9 186.5,174.4 186.4,174.0 186.2,173.3 186.1,173.0 185.9,172.3 185.8,171.6 185.7,171.2 185.6,170.5 185.5,169.8 185.4,169.4 185.2,168.8 184.9,168.4 184.3,168.3 184.0,168.5 183.4,168.8 182.9,169.1 182.6,169.3 182.2,169.6 181.8,169.8 181.2,170.2 180.8,170.4 180.5,170.6 180.0,170.9 179.4,171.2 179.1,171.5 178.8,171.9 178.4,172.3 178.2,172.6 178.0,173.0 177.7,173.6 177.4,174.0 177.1,174.4 176.8,174.8 176.4,175.1 175.9,175.4 175.6,175.6 175.2,175.8 174.6,176.1 174.2,176.3 173.8,176.5 173.5,176.8 173.1,177.3 172.9,177.9 172.8,178.2 172.6,178.9 172.4,179.6 172.4,180.0 172.2,180.7 172.1,181.1 171.9,181.8 171.8,182.3 171.6,182.8 171.4,183.4 171.2,183.8 171.1,184.3 170.8,184.9 170.7,185.2 170.3,185.8 170.1,186.3 169.8,186.6 169.6,187.0 169.3,187.4 168.9,187.8 168.6,188.1 168.2,188.4 167.8,188.8 167.4,189.1 166.9,189.4 166.5,189.7 166.1,189.9 165.7,190.1 165.1,190.5 164.8,190.6 164.2,190.8 163.7,191.0 163.2,191.2 162.6,191.4 161.9,191.5 161.6,191.6 161.6,191.6 M160.9,69.1 160.2,69.1 159.5,69.2 158.8,69.2 158.1,69.2 157.4,69.3 156.7,69.3 156.0,69.3 155.3,69.3 154.6,69.3 153.9,69.3 153.2,69.2 152.5,69.2 151.8,69.2 151.1,69.1 150.5,69.0 150.1,69.0 149.3,68.9 148.6,68.8 148.2,68.7 147.6,68.6 146.9,68.4 146.6,68.2 145.9,68.0 145.5,67.8 145.1,67.7 144.5,67.3 144.1,67.0 143.8,66.7 143.4,66.4 143.1,66.0 142.8,65.5 142.6,65.2 142.4,64.5 142.3,64.1 142.3,63.4 142.3,62.8 142.3,62.0 142.4,61.7 142.5,61.0 142.7,60.6 143.1,60.0 143.4,59.6 143.7,59.2 144.1,58.9 144.4,58.7 144.8,58.5 145.3,58.2 145.8,58.0 146.2,57.8 146.9,57.6 147.3,57.5 147.9,57.3 148.6,57.2 149.0,57.1 149.7,57.0 150.4,57.0 151.1,56.9 151.8,56.9 152.5,56.8 152.8,56.8 153.6,56.8 154.2,56.8 154.9,56.8 155.6,56.8 156.3,56.8 157.1,56.8 157.8,56.8 158.4,56.8 159.0,56.8 159.5,56.8 160.2,56.9 160.9,56.9 161.6,57.0 162.3,57.1 162.6,57.2 163.3,57.3 164.1,57.5 164.4,57.6 165.1,57.8 165.4,57.9 166.1,58.2 166.5,58.4 166.8,58.6 167.3,58.9 167.7,59.2 168.0,59.6 168.3,59.9 168.6,60.4 168.9,61.0 169.0,61.3 169.1,62.0 169.1,62.8 169.1,63.4 169.1,64.2 168.9,64.8 168.8,65.2 168.6,65.6 168.2,66.2 167.9,66.6 167.6,66.9 167.2,67.1 166.8,67.4 166.4,67.7 165.8,67.9 165.4,68.1 164.8,68.3 164.4,68.4 163.7,68.6 163.3,68.7 162.6,68.8 161.9,68.9 161.2,69.0 160.9,69.1 160.9,69.1 M159.8,129.7 159.5,129.5 159.2,128.9 159.1,128.6 159.0,127.8 159.1,127.1 159.1,126.7 159.4,126.1 159.8,125.8 160.4,126.1 160.6,126.4 160.8,127.1 160.9,127.8 160.8,128.6 160.6,129.2 160.2,129.6 159.8,129.7 159.8,129.7 M192.1,176.5 191.3,176.6 190.6,176.6 190.3,176.5 189.6,176.2 189.2,176.0 188.9,175.7 188.6,175.4 188.2,175.0 187.8,174.5 187.6,174.0 187.4,173.7 187.2,173.0 187.1,172.6 186.9,171.9 186.8,171.3 186.7,170.9 186.7,170.2 186.6,169.5 186.6,168.8 186.5,168.1 186.5,167.4 186.4,166.8 186.4,166.3 186.4,165.6 186.4,164.9 186.5,164.6 186.6,163.9 186.8,163.3 186.9,162.8 187.1,162.2 187.3,161.8 187.5,161.2 187.7,160.8 187.8,160.2 188.0,159.7 188.2,159.2 188.4,158.7 188.6,158.2 188.7,157.6 188.9,157.2 189.1,156.5 189.3,156.2 189.5,155.5 189.7,155.2 189.9,154.5 190.2,154.1 190.3,153.8 190.6,153.1 190.8,152.7 191.0,152.3 191.3,151.7 191.6,151.3 191.8,150.9 192.1,150.6 192.4,150.0 192.7,149.6 192.9,149.2 193.2,148.8 193.4,148.5 193.8,148.0 194.1,147.6 194.5,147.2 194.8,146.8 195.2,146.4 195.5,146.1 195.8,145.7 196.1,145.3 196.5,145.0 196.8,144.6 197.2,144.3 197.5,143.9 197.9,143.6 198.2,143.2 198.6,142.9 199.0,142.6 199.4,142.3 199.8,142.0 200.1,141.7 200.4,141.5 200.9,141.1 201.4,140.8 201.8,140.5 202.2,140.3 202.6,140.1 203.2,139.8 203.6,139.6 204.0,139.4 204.6,139.1 205.0,139.0 205.7,138.7 206.0,138.6 206.8,138.4 207.1,138.3 207.8,138.2 208.5,138.1 209.2,138.1 209.9,138.1 210.6,138.1 211.3,138.2 211.8,138.3 212.3,138.5 212.9,138.7 213.4,138.9 213.8,139.1 214.1,139.4 214.5,139.8 214.8,140.2 215.0,140.8 215.2,141.1 215.3,141.8 215.4,142.6 215.4,143.2 215.4,143.9 215.4,144.6 215.3,145.3 215.3,146.1 215.2,146.8 215.1,147.1 215.0,147.8 214.8,148.5 214.7,148.8 214.5,149.6 214.4,149.9 214.1,150.6 214.0,150.9 213.8,151.6 213.6,152.0 213.4,152.5 213.2,153.1 213.0,153.4 212.7,154.1 212.5,154.4 212.3,154.8 212.0,155.5 211.8,155.8 211.6,156.2 211.3,156.9 211.1,157.2 210.9,157.6 210.6,158.1 210.3,158.7 210.1,159.0 209.8,159.3 209.5,159.8 209.2,160.4 209.0,160.8 208.7,161.1 208.5,161.5 208.1,162.0 207.8,162.5 207.6,162.8 207.3,163.2 207.1,163.5 206.8,164.0 206.4,164.5 206.0,164.9 205.8,165.3 205.5,165.6 205.2,166.0 204.9,166.3 204.6,166.7 204.3,167.1 203.9,167.5 203.6,167.9 203.2,168.3 202.9,168.7 202.5,169.0 202.2,169.4 201.8,169.8 201.5,170.1 201.2,170.5 200.8,170.8 200.4,171.2 200.1,171.5 199.8,171.9 199.4,172.2 199.0,172.5 198.7,172.8 198.3,173.1 198.0,173.4 197.6,173.7 197.2,174.0 196.7,174.4 196.2,174.7 195.9,174.9 195.6,175.1 194.9,175.4 194.5,175.7 194.1,175.8 193.4,176.1 193.1,176.2 192.4,176.4 192.1,176.5 192.1,176.5 M161.2,189.5 160.6,189.5 160.2,189.4 159.5,189.3 159.0,189.1 158.4,188.9 158.1,188.7 157.6,188.4 157.1,188.0 156.7,187.7 156.3,187.4 156.0,187.1 155.6,186.7 155.3,186.3 155.0,185.9 154.7,185.6 154.4,185.2 154.2,184.9 153.9,184.5 153.6,183.9 153.3,183.5 153.2,183.1 152.9,182.4 152.8,182.1 152.6,181.4 152.5,181.0 152.3,180.3 152.2,179.6 152.1,179.0 152.1,178.6 152.0,177.9 152.0,177.2 152.0,176.5 152.0,175.8 152.0,175.1 152.1,174.4 152.1,173.9 152.3,173.3 152.4,172.6 152.5,172.3 152.8,171.6 152.9,171.2 153.2,170.6 153.4,170.2 153.6,169.8 153.9,169.4 154.2,168.9 154.6,168.5 154.9,168.1 155.3,167.8 155.6,167.5 156.0,167.3 156.3,167.0 157.0,166.7 157.4,166.5 158.0,166.3 158.4,166.3 159.1,166.1 159.8,166.1 160.6,166.1 161.2,166.1 161.9,166.1 162.6,166.2 163.3,166.3 163.9,166.3 164.4,166.5 165.1,166.6 165.4,166.8 166.1,167.0 166.5,167.2 166.9,167.4 167.5,167.8 167.9,168.0 168.2,168.3 168.6,168.5 169.2,168.8 169.6,169.0 170.3,169.0 171.1,168.9 171.4,168.8 172.1,168.7 172.8,168.6 173.5,168.6 174.2,168.6 174.9,168.8 175.2,168.8 175.9,169.0 176.3,169.2 176.7,169.5 176.9,170.2 176.9,170.9 176.9,171.6 176.8,172.3 176.6,172.7 176.3,173.3 176.1,173.7 175.8,174.0 175.4,174.4 174.9,174.7 174.6,174.9 174.1,175.1 173.5,175.3 172.9,175.4 172.4,175.6 172.1,175.8 171.8,176.3 171.6,176.8 171.4,177.5 171.4,177.9 171.3,178.6 171.2,179.3 171.1,179.9 171.0,180.3 170.8,181.0 170.7,181.4 170.5,182.1 170.3,182.5 170.1,183.1 170.0,183.5 169.6,184.1 169.4,184.5 169.2,184.9 168.9,185.3 168.6,185.8 168.2,186.2 167.9,186.5 167.6,186.9 167.2,187.2 166.8,187.4 166.4,187.7 165.8,188.0 165.4,188.3 165.1,188.4 164.4,188.7 164.1,188.9 163.4,189.1 163.0,189.2 162.3,189.4 161.6,189.4 161.2,189.5 161.2,189.5 M159.8,69.1 159.1,69.1 158.4,69.1 157.8,69.2 157.1,69.2 156.3,69.2 155.6,69.2 154.9,69.2 154.2,69.2 153.6,69.2 152.8,69.1 152.1,69.1 151.5,69.0 151.1,69.0 150.4,68.9 149.7,68.9 149.0,68.7 148.6,68.7 147.9,68.5 147.2,68.4 146.9,68.2 146.2,68.0 145.8,67.9 145.4,67.7 144.8,67.3 144.4,67.1 144.1,66.8 143.8,66.5 143.4,66.1 143.1,65.6 142.8,65.2 142.7,64.8 142.6,64.2 142.5,63.4 142.5,62.8 142.5,62.0 142.6,61.3 142.7,61.0 143.0,60.3 143.3,59.9 143.6,59.6 143.9,59.2 144.4,58.9 144.8,58.6 145.1,58.4 145.6,58.2 146.2,58.0 146.6,57.8 147.2,57.6 147.7,57.5 148.3,57.4 149.0,57.2 149.6,57.1 150.1,57.1 150.8,57.0 151.4,57.0 152.1,56.9 152.8,56.9 153.6,56.9 154.2,56.9 154.9,56.8 155.6,56.8 156.3,56.8 157.1,56.8 157.8,56.9 158.4,56.9 159.1,56.9 159.8,56.9 160.6,57.0 161.2,57.1 161.9,57.1 162.3,57.2 163.0,57.3 163.7,57.5 164.1,57.6 164.8,57.8 165.1,57.9 165.8,58.2 166.1,58.4 166.5,58.6 167.0,58.9 167.5,59.2 167.8,59.6 168.1,59.9 168.4,60.3 168.6,60.8 168.8,61.3 168.9,62.0 169.0,62.4 169.0,63.1 168.9,63.6 168.9,64.2 168.7,64.8 168.6,65.2 168.2,65.9 168.0,66.2 167.6,66.6 167.2,66.9 166.8,67.2 166.5,67.4 166.1,67.7 165.4,67.9 165.1,68.1 164.4,68.3 164.1,68.4 163.3,68.6 162.8,68.7 162.3,68.8 161.6,68.9 160.9,69.0 160.2,69.0 159.8,69.1 159.8,69.1 M192.1,175.5 191.6,175.4 191.0,175.4 190.4,175.1 189.9,174.8 189.6,174.5 189.2,174.2 188.9,173.7 188.7,173.3 188.5,173.0 188.2,172.3 188.1,171.9 187.9,171.2 187.8,170.9 187.7,170.2 187.7,169.5 187.6,168.8 187.6,168.1 187.6,167.4 187.6,166.7 187.6,166.0 187.6,165.3 187.7,164.6 187.8,163.9 187.8,163.5 188.0,162.8 188.2,162.1 188.2,161.8 188.4,161.1 188.6,160.7 188.7,160.0 188.9,159.4 189.0,159.0 189.2,158.3 189.4,157.9 189.6,157.3 189.7,156.9 189.9,156.3 190.1,155.8 190.3,155.4 190.6,154.8 190.7,154.4 191.0,153.8 191.2,153.4 191.4,153.1 191.7,152.5 192.0,152.0 192.2,151.6 192.4,151.2 192.8,150.7 193.0,150.2 193.3,149.9 193.5,149.6 193.8,149.1 194.1,148.7 194.5,148.2 194.8,147.8 195.2,147.4 195.5,147.1 195.8,146.8 196.1,146.4 196.4,146.1 196.7,145.7 197.1,145.3 197.4,145.0 197.8,144.6 198.1,144.3 198.5,143.9 198.9,143.6 199.3,143.2 199.7,142.9 200.1,142.6 200.4,142.4 200.8,142.1 201.2,141.8 201.7,141.5 202.2,141.2 202.5,141.0 203.0,140.8 203.6,140.5 203.9,140.3 204.4,140.1 205.0,139.9 205.3,139.7 206.0,139.5 206.5,139.4 207.1,139.3 207.8,139.1 208.5,139.1 209.2,139.1 209.9,139.1 210.6,139.2 211.3,139.3 211.6,139.4 212.3,139.7 212.7,139.9 213.1,140.1 213.6,140.4 213.9,140.8 214.1,141.1 214.4,141.8 214.5,142.2 214.6,142.9 214.7,143.6 214.7,144.3 214.7,145.0 214.7,145.7 214.6,146.4 214.5,147.1 214.4,147.6 214.3,148.1 214.2,148.8 214.1,149.2 213.9,149.9 213.7,150.2 213.5,150.9 213.4,151.3 213.1,152.0 213.0,152.3 212.7,153.0 212.5,153.4 212.3,153.8 212.0,154.4 211.9,154.8 211.6,155.3 211.4,155.8 211.2,156.2 210.9,156.6 210.6,157.2 210.4,157.6 210.2,157.9 209.9,158.5 209.6,159.0 209.4,159.3 209.1,159.7 208.8,160.2 208.5,160.7 208.2,161.1 208.0,161.4 207.8,161.8 207.4,162.3 207.1,162.8 206.8,163.2 206.5,163.5 206.3,163.9 206.0,164.2 205.7,164.7 205.3,165.1 205.0,165.5 204.6,166.0 204.3,166.3 204.0,166.7 203.7,167.0 203.4,167.4 203.1,167.8 202.8,168.1 202.4,168.4 202.1,168.8 201.8,169.1 201.4,169.5 201.1,169.8 200.7,170.2 200.4,170.5 200.0,170.9 199.6,171.2 199.2,171.6 198.8,171.9 198.4,172.3 198.0,172.6 197.7,172.9 197.3,173.2 196.9,173.4 196.6,173.7 196.0,174.0 195.6,174.3 195.2,174.5 194.6,174.8 194.1,174.9 193.7,175.1 193.1,175.3 192.4,175.4 192.1,175.5 192.1,175.5 M163.0,187.1 162.3,187.2 161.6,187.2 160.9,187.2 160.2,187.2 159.5,187.0 159.1,186.9 158.6,186.6 158.1,186.4 157.8,186.1 157.4,185.9 157.0,185.6 156.6,185.2 156.3,184.9 156.0,184.5 155.6,184.2 155.3,183.7 154.9,183.2 154.7,182.8 154.5,182.4 154.2,181.9 154.1,181.4 153.9,180.8 153.8,180.3 153.6,179.6 153.6,179.0 153.5,178.6 153.4,177.9 153.4,177.2 153.4,176.5 153.4,175.8 153.4,175.1 153.5,174.4 153.6,173.8 153.7,173.3 153.8,172.6 154.0,172.3 154.2,171.6 154.4,171.2 154.6,170.9 154.9,170.3 155.3,169.8 155.6,169.5 155.9,169.1 156.3,168.8 156.7,168.5 157.1,168.3 157.4,168.1 158.1,167.8 158.4,167.7 159.1,167.6 159.8,167.5 160.6,167.5 161.2,167.6 161.9,167.7 162.5,167.8 163.0,167.8 163.7,168.0 164.1,168.1 164.8,168.3 165.1,168.4 165.8,168.8 166.1,169.0 166.5,169.2 166.9,169.5 167.4,169.8 167.7,170.2 168.1,170.5 168.4,170.9 168.8,171.2 169.2,171.6 169.6,171.9 170.2,171.6 170.6,171.2 171.0,170.9 171.4,170.6 171.8,170.4 172.4,170.2 172.8,170.1 173.5,170.2 173.8,170.3 174.4,170.5 174.8,170.9 175.0,171.2 175.1,171.9 174.9,172.6 174.7,173.0 174.4,173.3 173.8,173.7 173.5,173.8 172.8,173.9 172.1,173.8 171.5,173.7 171.1,173.5 170.3,173.5 170.1,174.0 170.0,174.4 169.9,175.1 169.9,175.8 169.9,176.5 169.9,177.2 169.9,177.9 169.8,178.6 169.7,179.3 169.6,179.6 169.5,180.3 169.3,181.0 169.2,181.4 169.0,182.1 168.8,182.4 168.6,182.9 168.2,183.5 168.0,183.8 167.7,184.2 167.4,184.5 167.1,184.9 166.7,185.2 166.2,185.6 165.8,185.9 165.4,186.1 165.1,186.3 164.4,186.6 164.1,186.7 163.3,187.0 163.0,187.1 163.0,187.1 M158.4,69.1 157.8,69.1 157.1,69.1 156.3,69.1 155.6,69.1 154.9,69.1 154.2,69.1 153.6,69.1 153.0,69.0 152.5,69.0 151.8,69.0 151.1,68.9 150.4,68.8 149.7,68.8 149.3,68.7 148.6,68.6 147.9,68.4 147.6,68.3 146.9,68.1 146.5,68.0 145.8,67.7 145.5,67.6 145.0,67.3 144.5,66.9 144.1,66.6 143.8,66.3 143.4,65.9 143.2,65.5 143.0,65.2 142.8,64.5 142.7,63.8 142.7,63.4 142.7,62.8 142.7,62.1 142.8,61.7 142.9,61.0 143.1,60.6 143.4,60.1 143.8,59.6 144.1,59.3 144.4,59.0 144.8,58.8 145.2,58.5 145.8,58.2 146.2,58.1 146.9,57.8 147.2,57.7 147.9,57.6 148.3,57.5 149.0,57.3 149.7,57.2 150.4,57.2 150.8,57.1 151.4,57.1 152.1,57.0 152.8,57.0 153.6,57.0 154.2,56.9 154.9,56.9 155.6,56.9 156.3,56.9 157.1,56.9 157.8,56.9 158.4,57.0 159.1,57.0 159.8,57.0 160.6,57.1 161.1,57.1 161.6,57.2 162.3,57.3 163.0,57.4 163.3,57.5 164.1,57.7 164.5,57.8 165.1,58.1 165.5,58.2 166.1,58.5 166.5,58.7 166.8,59.0 167.2,59.2 167.6,59.6 167.9,59.9 168.2,60.5 168.5,61.0 168.6,61.3 168.7,62.0 168.8,62.8 168.8,63.4 168.7,64.2 168.6,64.7 168.4,65.2 168.2,65.5 167.9,66.1 167.6,66.5 167.2,66.8 166.8,67.0 166.5,67.3 165.8,67.7 165.4,67.8 165.0,68.0 164.4,68.2 163.9,68.3 163.3,68.5 162.6,68.6 162.2,68.7 161.6,68.8 160.9,68.9 160.2,68.9 159.5,69.0 158.8,69.0 158.4,69.1 158.4,69.1 M193.8,174.1 193.1,174.2 192.4,174.2 191.7,174.1 191.3,174.0 190.9,173.7 190.5,173.3 190.2,173.0 189.9,172.6 189.6,172.2 189.3,171.6 189.2,171.2 189.0,170.5 188.9,170.2 188.8,169.5 188.7,168.8 188.6,168.1 188.6,167.4 188.6,166.7 188.6,166.0 188.6,165.3 188.7,164.6 188.8,163.9 188.9,163.2 188.9,162.8 189.1,162.1 189.2,161.4 189.3,161.1 189.5,160.4 189.6,159.8 189.7,159.3 189.9,158.7 190.0,158.3 190.2,157.6 190.4,157.2 190.6,156.5 190.7,156.2 191.0,155.6 191.2,155.2 191.3,154.7 191.7,154.1 191.8,153.8 192.1,153.3 192.4,152.7 192.6,152.3 192.8,152.0 193.1,151.5 193.4,150.9 193.6,150.6 193.9,150.2 194.1,149.9 194.5,149.4 194.8,148.9 195.2,148.5 195.5,148.1 195.8,147.8 196.1,147.4 196.4,147.1 196.8,146.8 197.1,146.4 197.4,146.1 197.8,145.7 198.1,145.3 198.4,145.0 198.8,144.6 199.2,144.3 199.6,143.9 200.0,143.6 200.4,143.3 200.8,143.0 201.2,142.8 201.5,142.6 202.1,142.2 202.5,142.0 202.9,141.8 203.5,141.5 203.9,141.3 204.3,141.1 205.0,140.9 205.3,140.7 206.0,140.5 206.4,140.4 207.1,140.3 207.8,140.2 208.5,140.2 209.2,140.2 209.9,140.3 210.6,140.4 210.9,140.5 211.6,140.8 212.0,140.9 212.4,141.1 212.8,141.5 213.2,141.8 213.4,142.2 213.7,142.9 213.8,143.2 213.9,143.9 214.0,144.6 214.0,145.3 214.0,146.1 213.9,146.8 213.9,147.4 213.8,148.1 213.7,148.5 213.5,149.2 213.4,149.6 213.2,150.2 213.0,150.7 212.8,151.3 212.7,151.7 212.4,152.3 212.3,152.7 212.0,153.4 211.9,153.8 211.6,154.2 211.4,154.8 211.2,155.2 210.9,155.7 210.7,156.2 210.5,156.5 210.2,157.0 209.9,157.6 209.7,157.9 209.5,158.3 209.2,158.8 208.9,159.3 208.6,159.7 208.4,160.0 208.1,160.5 207.8,161.0 207.5,161.4 207.2,161.8 207.0,162.1 206.8,162.5 206.4,163.0 206.0,163.5 205.7,163.9 205.4,164.2 205.2,164.6 204.9,164.9 204.6,165.3 204.3,165.6 203.9,166.0 203.6,166.4 203.2,166.8 202.9,167.2 202.5,167.6 202.2,168.0 201.8,168.3 201.5,168.7 201.2,169.0 200.8,169.4 200.4,169.7 200.1,170.0 199.8,170.4 199.4,170.7 199.0,171.0 198.7,171.3 198.3,171.6 197.8,171.9 197.4,172.3 196.9,172.6 196.6,172.8 196.2,173.0 195.7,173.3 195.2,173.6 194.8,173.7 194.1,174.0 193.8,174.1 193.8,174.1 M162.3,184.9 161.6,185.0 160.9,185.0 160.3,184.9 159.8,184.8 159.1,184.6 158.8,184.4 158.4,184.2 157.9,183.8 157.5,183.5 157.1,183.1 156.8,182.8 156.5,182.4 156.3,182.1 156.0,181.6 155.7,181.0 155.6,180.7 155.4,180.0 155.3,179.6 155.1,178.9 155.0,178.2 155.0,177.5 154.9,177.2 154.9,176.5 154.9,175.8 154.9,175.1 154.9,174.7 155.0,174.0 155.2,173.3 155.3,173.0 155.6,172.3 155.7,171.9 156.0,171.4 156.3,170.9 156.7,170.5 157.0,170.2 157.4,169.9 157.8,169.7 158.1,169.5 158.8,169.2 159.3,169.1 159.8,169.1 160.6,169.1 160.9,169.1 161.6,169.3 162.3,169.4 162.7,169.5 163.3,169.7 163.8,169.8 164.4,170.1 164.8,170.3 165.2,170.5 165.7,170.9 166.1,171.2 166.4,171.6 166.7,171.9 166.9,172.3 167.2,172.8 167.5,173.3 167.6,173.7 167.8,174.4 167.9,174.8 168.0,175.4 168.1,176.1 168.1,176.8 168.1,177.5 168.1,178.2 168.0,178.9 167.9,179.6 167.8,180.0 167.6,180.7 167.5,181.0 167.2,181.6 166.9,182.1 166.6,182.4 166.3,182.8 166.0,183.1 165.6,183.5 165.1,183.8 164.8,184.1 164.4,184.2 163.7,184.5 163.3,184.7 162.6,184.9 162.3,184.9 162.3,184.9 M161.2,68.7 160.6,68.8 159.8,68.9 159.1,68.9 158.4,69.0 157.8,69.0 157.1,69.0 156.3,69.0 155.6,69.0 154.9,69.0 154.2,69.0 153.6,69.0 152.8,68.9 152.1,68.9 151.4,68.9 150.8,68.8 150.1,68.7 149.7,68.7 149.0,68.5 148.3,68.4 147.9,68.3 147.2,68.1 146.9,68.0 146.2,67.7 145.8,67.6 145.3,67.3 144.8,67.0 144.4,66.7 144.1,66.4 143.8,66.0 143.4,65.5 143.2,65.2 143.1,64.7 142.9,64.2 142.9,63.4 142.9,62.8 142.9,62.0 143.0,61.3 143.1,61.0 143.4,60.4 143.7,59.9 144.0,59.6 144.4,59.2 144.8,59.0 145.1,58.7 145.5,58.5 146.2,58.2 146.6,58.1 147.2,57.9 147.6,57.8 148.3,57.6 148.7,57.5 149.3,57.4 150.1,57.3 150.8,57.2 151.4,57.2 151.8,57.1 152.5,57.1 153.2,57.1 153.9,57.0 154.6,57.0 155.3,57.0 156.0,57.0 156.7,57.0 157.4,57.0 158.1,57.0 158.8,57.1 159.5,57.1 160.2,57.1 160.6,57.2 161.2,57.3 161.9,57.4 162.6,57.5 163.0,57.6 163.7,57.7 164.2,57.8 164.8,58.0 165.2,58.2 165.8,58.5 166.1,58.7 166.5,58.9 167.0,59.2 167.4,59.6 167.7,59.9 167.9,60.3 168.2,60.9 168.4,61.3 168.5,62.0 168.6,62.8 168.6,63.4 168.5,64.2 168.3,64.8 168.2,65.2 167.9,65.8 167.6,66.2 167.2,66.6 166.8,66.9 166.5,67.1 166.1,67.3 165.5,67.7 165.1,67.8 164.6,68.0 164.1,68.2 163.4,68.3 163.0,68.4 162.3,68.6 161.6,68.7 161.2,68.7 161.2,68.7 M194.8,172.7 194.1,172.8 193.4,172.9 192.8,172.8 192.3,172.6 191.7,172.3 191.3,172.0 191.0,171.6 190.8,171.2 190.6,170.9 190.3,170.3 190.1,169.8 190.0,169.1 189.9,168.8 189.8,168.1 189.7,167.4 189.7,166.7 189.6,166.0 189.7,165.3 189.7,164.6 189.7,163.9 189.8,163.2 189.9,162.5 190.0,162.1 190.1,161.4 190.2,160.8 190.3,160.4 190.5,159.7 190.6,159.0 190.7,158.7 190.9,157.9 191.0,157.6 191.3,156.9 191.4,156.5 191.7,155.8 191.8,155.5 192.1,155.0 192.3,154.4 192.5,154.1 192.8,153.6 193.0,153.1 193.2,152.7 193.4,152.3 193.8,151.8 194.1,151.3 194.3,150.9 194.6,150.6 194.8,150.2 195.2,149.8 195.6,149.3 195.9,148.9 196.2,148.5 196.6,148.1 196.9,147.8 197.2,147.4 197.5,147.1 197.8,146.8 198.2,146.4 198.5,146.1 198.8,145.7 199.2,145.3 199.6,145.0 200.0,144.6 200.4,144.3 200.8,144.0 201.2,143.8 201.5,143.6 202.0,143.2 202.5,143.0 202.9,142.8 203.4,142.6 203.9,142.3 204.3,142.2 205.0,141.9 205.3,141.8 206.0,141.6 206.7,141.5 207.1,141.4 207.8,141.4 208.5,141.4 209.2,141.5 209.5,141.5 210.2,141.7 210.6,141.8 211.3,142.1 211.6,142.3 212.0,142.6 212.3,142.9 212.7,143.5 212.9,143.9 213.0,144.5 213.1,145.0 213.2,145.7 213.2,146.4 213.2,147.1 213.1,147.8 213.0,148.2 212.9,148.8 212.8,149.6 212.7,149.9 212.5,150.6 212.3,151.0 212.1,151.6 212.0,152.0 211.7,152.7 211.6,153.1 211.3,153.7 211.1,154.1 210.9,154.5 210.7,155.2 210.5,155.5 210.2,156.0 209.9,156.5 209.8,156.9 209.5,157.3 209.2,157.9 209.0,158.3 208.7,158.7 208.5,159.0 208.1,159.6 207.9,160.0 207.6,160.4 207.4,160.8 207.1,161.2 206.8,161.7 206.4,162.1 206.2,162.5 205.9,162.8 205.7,163.2 205.3,163.6 205.0,164.0 204.6,164.4 204.3,164.9 203.9,165.3 203.6,165.6 203.3,166.0 203.0,166.3 202.6,166.7 202.3,167.0 202.0,167.4 201.6,167.8 201.3,168.1 200.9,168.4 200.5,168.8 200.2,169.1 199.8,169.5 199.4,169.8 199.0,170.1 198.7,170.4 198.3,170.7 198.0,170.9 197.6,171.2 197.1,171.6 196.6,171.9 196.2,172.1 195.8,172.3 195.2,172.6 194.8,172.7 194.8,172.7 M161.9,182.5 161.2,182.5 160.6,182.5 160.1,182.4 159.5,182.2 159.1,182.1 158.7,181.8 158.3,181.4 158.0,181.0 157.7,180.7 157.4,180.1 157.2,179.6 157.1,179.2 156.9,178.6 156.8,177.9 156.7,177.5 156.6,176.8 156.6,176.1 156.6,175.4 156.7,174.8 156.7,174.4 156.9,173.7 157.1,173.2 157.3,172.6 157.6,172.3 157.8,171.9 158.2,171.6 158.8,171.2 159.1,171.1 159.8,170.9 160.6,170.9 161.2,171.0 161.9,171.2 162.3,171.3 163.0,171.6 163.3,171.8 163.7,172.0 164.1,172.3 164.5,172.6 164.8,173.0 165.1,173.4 165.4,174.0 165.6,174.4 165.8,174.9 165.9,175.4 166.0,176.1 166.0,176.8 166.0,177.5 165.9,178.2 165.8,178.8 165.6,179.3 165.4,179.8 165.1,180.3 164.9,180.7 164.6,181.0 164.2,181.4 163.7,181.8 163.3,182.0 163.0,182.1 162.3,182.4 161.9,182.5 161.9,182.5 M160.6,68.7 159.8,68.8 159.1,68.8 158.4,68.9 157.8,68.9 157.1,68.9 156.3,68.9 155.6,68.9 154.9,68.9 154.2,68.9 153.6,68.9 152.8,68.9 152.1,68.8 151.4,68.8 150.8,68.7 150.4,68.7 149.7,68.6 149.0,68.4 148.6,68.3 147.9,68.2 147.3,68.0 146.9,67.9 146.3,67.7 145.8,67.4 145.5,67.3 145.0,66.9 144.5,66.6 144.2,66.2 143.9,65.9 143.6,65.5 143.4,65.1 143.2,64.5 143.1,63.8 143.1,63.1 143.1,62.4 143.1,61.7 143.3,61.0 143.5,60.6 143.8,60.2 144.1,59.8 144.4,59.4 144.8,59.1 145.1,58.9 145.8,58.5 146.2,58.4 146.6,58.2 147.2,58.0 147.7,57.8 148.3,57.7 149.0,57.6 149.3,57.5 150.1,57.4 150.8,57.3 151.4,57.3 152.1,57.2 152.8,57.2 153.4,57.1 153.9,57.1 154.6,57.1 155.3,57.1 156.0,57.1 156.7,57.1 157.4,57.1 158.1,57.1 158.6,57.1 159.1,57.2 159.8,57.2 160.6,57.3 161.2,57.4 161.9,57.5 162.3,57.5 163.0,57.7 163.7,57.8 164.1,57.9 164.8,58.2 165.1,58.3 165.6,58.5 166.1,58.8 166.5,59.1 166.8,59.3 167.2,59.7 167.6,60.1 167.9,60.6 168.1,61.0 168.2,61.5 168.3,62.0 168.4,62.8 168.4,63.4 168.3,64.2 168.2,64.5 168.0,65.2 167.8,65.5 167.6,65.9 167.2,66.3 166.8,66.7 166.5,66.9 165.9,67.3 165.4,67.5 165.1,67.7 164.4,67.9 164.1,68.1 163.3,68.3 162.9,68.3 162.3,68.5 161.6,68.6 160.9,68.7 160.6,68.7 160.6,68.7 M195.6,171.3 194.8,171.5 194.1,171.5 193.4,171.4 193.1,171.2 192.7,170.9 192.3,170.5 192.0,170.2 191.7,169.8 191.4,169.1 191.3,168.8 191.1,168.1 191.0,167.8 190.9,167.0 190.8,166.3 190.7,165.6 190.7,164.9 190.7,164.2 190.8,163.5 190.8,162.8 190.9,162.1 191.0,161.5 191.1,161.1 191.2,160.4 191.3,159.7 191.4,159.3 191.6,158.7 191.7,158.3 191.9,157.6 192.1,157.2 192.3,156.5 192.4,156.2 192.7,155.5 192.9,155.2 193.1,154.7 193.4,154.1 193.6,153.8 193.8,153.4 194.1,152.8 194.4,152.3 194.6,152.0 194.9,151.6 195.2,151.2 195.6,150.7 195.9,150.3 196.2,149.9 196.5,149.6 196.8,149.2 197.1,148.8 197.4,148.5 197.7,148.1 198.0,147.8 198.3,147.4 198.7,147.1 199.0,146.7 199.4,146.3 199.8,146.0 200.1,145.7 200.5,145.3 200.9,145.0 201.4,144.6 201.8,144.4 202.2,144.2 202.7,143.9 203.2,143.7 203.6,143.5 204.3,143.3 204.6,143.1 205.3,143.0 205.7,142.9 206.4,142.8 207.1,142.7 207.8,142.7 208.5,142.8 209.1,142.9 209.5,143.0 210.2,143.2 210.6,143.5 210.9,143.7 211.3,143.9 211.6,144.3 212.0,145.0 212.1,145.3 212.3,146.1 212.3,146.7 212.4,147.1 212.3,147.5 212.3,148.1 212.2,148.8 212.1,149.6 212.0,149.9 211.8,150.6 211.6,151.1 211.5,151.6 211.3,152.2 211.1,152.7 210.9,153.1 210.7,153.8 210.6,154.1 210.2,154.8 210.1,155.2 209.9,155.5 209.6,156.2 209.4,156.5 209.2,156.9 208.8,157.5 208.6,157.9 208.4,158.3 208.1,158.7 207.8,159.2 207.5,159.7 207.3,160.0 207.0,160.4 206.8,160.8 206.4,161.3 206.1,161.8 205.8,162.1 205.6,162.5 205.3,162.8 205.0,163.2 204.6,163.6 204.3,164.0 203.9,164.4 203.6,164.8 203.2,165.2 202.9,165.6 202.5,165.9 202.2,166.3 201.8,166.6 201.5,167.0 201.2,167.3 200.8,167.7 200.4,168.0 200.1,168.3 199.8,168.6 199.4,168.9 199.0,169.2 198.6,169.5 198.2,169.8 197.7,170.2 197.3,170.4 196.9,170.6 196.4,170.9 195.9,171.1 195.6,171.3 195.6,171.3 M161.6,179.1 160.9,179.2 160.2,179.1 159.8,178.9 159.5,178.6 159.1,178.0 159.0,177.5 158.8,176.9 158.7,176.5 158.7,175.8 158.8,175.3 159.0,174.8 159.1,174.4 159.5,173.9 159.8,173.7 160.6,173.5 161.2,173.6 161.6,173.8 162.1,174.0 162.5,174.4 162.8,174.8 163.0,175.2 163.2,175.8 163.2,176.5 163.1,177.2 163.0,177.5 162.6,178.1 162.3,178.6 161.9,178.9 161.6,179.1 161.6,179.1 M159.5,68.7 158.8,68.8 158.1,68.8 157.4,68.8 156.7,68.8 156.0,68.8 155.3,68.8 154.6,68.8 153.9,68.8 153.2,68.8 152.5,68.7 151.9,68.7 151.4,68.7 150.8,68.6 150.1,68.5 149.3,68.4 149.0,68.3 148.3,68.2 147.7,68.0 147.2,67.9 146.6,67.7 146.2,67.5 145.8,67.3 145.3,66.9 144.8,66.6 144.4,66.3 144.1,65.9 143.9,65.5 143.7,65.2 143.4,64.5 143.3,64.2 143.3,63.4 143.3,62.8 143.3,62.0 143.4,61.5 143.5,61.0 143.8,60.5 144.1,60.0 144.4,59.6 144.8,59.3 145.1,59.1 145.5,58.9 146.1,58.5 146.6,58.3 146.9,58.2 147.6,58.0 148.1,57.8 148.6,57.7 149.3,57.6 150.0,57.5 150.4,57.5 151.1,57.4 151.8,57.3 152.5,57.3 153.2,57.3 153.9,57.2 154.6,57.2 155.3,57.2 156.0,57.2 156.7,57.2 157.4,57.2 158.1,57.2 158.8,57.3 159.5,57.3 160.2,57.4 160.9,57.4 161.5,57.5 161.9,57.6 162.6,57.7 163.3,57.8 163.7,58.0 164.4,58.2 164.8,58.3 165.3,58.5 165.8,58.8 166.1,59.0 166.5,59.3 166.9,59.6 167.2,59.9 167.6,60.4 167.9,61.0 168.0,61.3 168.1,62.0 168.2,62.8 168.2,63.4 168.1,64.2 167.9,64.8 167.8,65.2 167.6,65.6 167.2,66.1 166.8,66.4 166.5,66.7 166.1,67.0 165.6,67.3 165.1,67.5 164.8,67.7 164.1,67.9 163.7,68.0 163.0,68.2 162.4,68.3 161.9,68.4 161.2,68.5 160.6,68.6 159.8,68.7 159.5,68.7 159.5,68.7 M195.6,169.9 194.8,169.9 194.4,169.8 193.8,169.5 193.4,169.2 193.1,168.8 192.9,168.4 192.7,168.1 192.4,167.4 192.3,167.0 192.1,166.3 192.0,166.0 192.0,165.3 191.9,164.6 191.9,163.9 191.9,163.2 191.9,162.5 192.0,161.8 192.1,161.1 192.1,160.8 192.2,160.0 192.4,159.3 192.4,159.0 192.6,158.3 192.8,157.9 193.0,157.2 193.1,156.9 193.4,156.2 193.5,155.8 193.8,155.3 194.0,154.8 194.2,154.4 194.5,154.0 194.8,153.4 195.1,153.1 195.3,152.7 195.6,152.3 195.9,151.8 196.2,151.4 196.6,150.9 196.8,150.6 197.1,150.2 197.4,149.9 197.7,149.6 198.0,149.2 198.3,148.8 198.7,148.4 199.0,148.1 199.4,147.7 199.8,147.3 200.1,147.0 200.4,146.6 200.8,146.3 201.2,146.0 201.6,145.7 202.2,145.3 202.5,145.1 202.9,145.0 203.6,144.7 203.9,144.5 204.6,144.3 205.0,144.2 205.7,144.1 206.4,144.1 207.1,144.1 207.8,144.1 208.5,144.3 208.8,144.4 209.5,144.6 209.9,144.9 210.2,145.1 210.6,145.4 210.9,145.9 211.2,146.4 211.3,147.0 211.4,147.4 211.4,148.1 211.4,148.8 211.3,149.3 211.2,149.9 211.0,150.6 210.9,151.0 210.8,151.6 210.6,152.2 210.4,152.7 210.2,153.2 210.0,153.8 209.9,154.1 209.6,154.8 209.4,155.2 209.2,155.7 208.9,156.2 208.7,156.5 208.5,157.0 208.2,157.6 207.9,157.9 207.7,158.3 207.4,158.8 207.1,159.3 206.9,159.7 206.6,160.0 206.4,160.4 206.0,160.9 205.7,161.4 205.4,161.8 205.1,162.1 204.8,162.5 204.6,162.8 204.3,163.2 203.9,163.5 203.6,163.9 203.2,164.3 202.9,164.7 202.5,165.0 202.2,165.4 201.8,165.7 201.5,166.0 201.1,166.3 200.8,166.7 200.4,167.0 199.9,167.4 199.5,167.8 199.1,168.1 198.7,168.4 198.3,168.6 198.0,168.8 197.5,169.1 196.9,169.4 196.6,169.6 195.9,169.8 195.6,169.9 195.6,169.9 M157.8,68.7 157.1,68.7 156.3,68.7 155.6,68.7 154.9,68.7 154.2,68.7 153.9,68.7 153.2,68.7 152.5,68.6 151.8,68.6 151.1,68.5 150.4,68.4 149.7,68.3 149.3,68.3 148.6,68.1 148.1,68.0 147.6,67.9 147.0,67.7 146.6,67.5 146.2,67.3 145.5,66.9 145.1,66.7 144.8,66.4 144.4,66.0 144.1,65.6 143.9,65.2 143.7,64.8 143.6,64.2 143.5,63.4 143.5,62.8 143.5,62.0 143.6,61.3 143.8,61.0 144.1,60.3 144.4,59.9 144.7,59.6 145.1,59.3 145.5,59.0 145.8,58.8 146.4,58.5 146.9,58.3 147.3,58.2 147.9,58.0 148.6,57.8 149.0,57.8 149.7,57.7 150.4,57.6 150.9,57.5 151.4,57.5 152.1,57.4 152.8,57.4 153.6,57.3 154.2,57.3 154.9,57.3 155.6,57.3 156.3,57.3 157.1,57.3 157.8,57.3 158.4,57.3 159.1,57.4 159.8,57.4 160.6,57.5 160.9,57.5 161.6,57.6 162.3,57.7 162.8,57.8 163.3,58.0 164.1,58.2 164.4,58.3 165.0,58.5 165.4,58.8 165.8,59.0 166.2,59.2 166.7,59.6 167.0,59.9 167.3,60.3 167.6,60.8 167.8,61.3 167.9,61.9 168.0,62.4 168.0,63.1 167.9,63.8 167.9,64.2 167.7,64.8 167.6,65.2 167.2,65.8 166.8,66.2 166.5,66.5 166.1,66.8 165.8,67.0 165.3,67.3 164.8,67.5 164.4,67.7 163.7,67.9 163.3,68.0 162.6,68.2 161.9,68.3 161.6,68.4 160.9,68.5 160.2,68.6 159.5,68.6 158.8,68.7 158.1,68.7 157.8,68.7 157.8,68.7 M196.2,168.1 195.7,168.1 195.2,167.9 194.8,167.7 194.5,167.3 194.1,166.9 193.9,166.3 193.7,166.0 193.5,165.3 193.4,164.9 193.3,164.2 193.2,163.5 193.1,162.8 193.1,162.1 193.1,161.4 193.2,160.8 193.3,160.0 193.4,159.3 193.5,159.0 193.7,158.3 193.8,157.9 194.0,157.2 194.2,156.9 194.5,156.2 194.6,155.8 194.8,155.4 195.2,154.8 195.4,154.4 195.6,154.1 195.9,153.6 196.2,153.1 196.6,152.7 196.8,152.3 197.1,152.0 197.4,151.6 197.7,151.3 198.0,150.9 198.3,150.5 198.7,150.1 199.0,149.7 199.4,149.3 199.8,148.9 200.1,148.5 200.4,148.1 200.8,147.8 201.1,147.4 201.5,147.1 201.8,146.9 202.2,146.6 202.6,146.4 203.2,146.1 203.6,145.9 204.3,145.7 204.6,145.6 205.3,145.5 206.0,145.5 206.8,145.5 207.4,145.6 207.8,145.7 208.5,146.0 208.8,146.1 209.3,146.4 209.7,146.8 209.9,147.1 210.2,147.8 210.3,148.1 210.3,148.8 210.3,149.6 210.2,150.2 210.2,150.6 210.1,151.3 209.9,151.9 209.8,152.3 209.6,153.1 209.4,153.4 209.2,154.1 209.0,154.4 208.8,154.9 208.6,155.5 208.4,155.8 208.1,156.3 207.9,156.9 207.7,157.2 207.4,157.6 207.1,158.2 206.8,158.7 206.6,159.0 206.4,159.3 206.0,159.8 205.7,160.4 205.4,160.8 205.2,161.1 204.9,161.4 204.6,161.8 204.3,162.2 203.9,162.6 203.6,163.0 203.2,163.3 202.9,163.7 202.5,164.0 202.2,164.3 201.8,164.7 201.5,165.0 201.1,165.3 200.7,165.6 200.3,166.0 199.8,166.3 199.4,166.6 199.0,166.9 198.7,167.1 198.2,167.4 197.7,167.7 197.3,167.8 196.6,168.1 196.2,168.1 196.2,168.1 M160.9,68.4 160.2,68.5 159.5,68.5 158.8,68.6 158.1,68.6 157.4,68.6 156.7,68.6 156.0,68.6 155.3,68.6 154.6,68.6 153.9,68.6 153.2,68.6 152.5,68.5 151.8,68.5 151.1,68.4 150.5,68.3 150.1,68.3 149.3,68.2 148.6,68.0 148.3,67.9 147.6,67.7 147.2,67.6 146.6,67.3 146.2,67.1 145.8,66.9 145.3,66.6 144.9,66.2 144.6,65.9 144.3,65.5 144.1,65.2 143.8,64.5 143.8,64.0 143.7,63.4 143.7,62.8 143.7,62.0 143.8,61.7 144.0,61.0 144.1,60.6 144.4,60.2 144.8,59.8 145.1,59.5 145.5,59.2 146.0,58.9 146.6,58.6 146.9,58.5 147.6,58.2 147.9,58.1 148.6,58.0 149.2,57.8 149.7,57.8 150.4,57.7 151.1,57.6 151.8,57.5 152.2,57.5 152.8,57.5 153.6,57.4 154.2,57.4 154.9,57.4 155.6,57.4 156.3,57.4 157.1,57.4 157.8,57.4 158.4,57.4 159.1,57.5 159.5,57.5 160.2,57.6 160.9,57.6 161.6,57.7 162.3,57.8 162.6,57.9 163.3,58.1 163.7,58.2 164.4,58.4 164.8,58.6 165.4,58.9 165.8,59.1 166.1,59.4 166.5,59.7 166.8,60.0 167.2,60.5 167.4,61.0 167.6,61.3 167.7,62.0 167.8,62.8 167.8,63.4 167.7,64.2 167.6,64.7 167.3,65.2 167.2,65.5 166.8,65.9 166.5,66.3 166.1,66.6 165.6,66.9 165.1,67.2 164.8,67.4 164.1,67.7 163.7,67.8 163.0,68.0 162.6,68.1 161.9,68.2 161.2,68.3 160.9,68.4 160.9,68.4 M198.3,165.7 197.7,165.9 196.9,165.9 196.4,165.6 196.0,165.3 195.6,164.9 195.4,164.6 195.2,164.2 194.9,163.5 194.8,163.2 194.7,162.5 194.6,161.8 194.5,161.1 194.5,160.4 194.6,159.7 194.7,159.0 194.8,158.6 195.0,157.9 195.2,157.5 195.4,156.9 195.6,156.5 195.9,155.9 196.1,155.5 196.3,155.2 196.6,154.7 196.9,154.2 197.3,153.8 197.5,153.4 197.8,153.1 198.1,152.7 198.3,152.3 198.7,151.9 199.0,151.5 199.4,151.1 199.8,150.7 200.1,150.3 200.4,149.9 200.8,149.6 201.1,149.2 201.5,148.8 201.8,148.5 202.2,148.2 202.5,148.0 202.9,147.7 203.4,147.4 203.9,147.2 204.5,147.1 205.0,147.0 205.7,147.0 206.4,147.1 206.8,147.1 207.4,147.4 207.8,147.5 208.2,147.8 208.6,148.1 208.8,148.5 209.1,149.2 209.2,149.9 209.2,150.6 209.1,151.3 209.0,152.0 208.8,152.5 208.7,153.1 208.5,153.7 208.4,154.1 208.1,154.6 207.9,155.2 207.8,155.5 207.4,156.2 207.2,156.5 207.1,156.9 206.8,157.4 206.4,157.9 206.2,158.3 206.0,158.7 205.7,159.1 205.3,159.7 205.1,160.0 204.8,160.4 204.6,160.8 204.3,161.1 203.9,161.5 203.6,161.9 203.2,162.3 202.9,162.6 202.5,162.9 202.2,163.2 201.8,163.5 201.4,163.9 200.9,164.2 200.4,164.6 200.1,164.8 199.8,165.0 199.3,165.3 198.7,165.6 198.3,165.7 198.3,165.7 M159.8,68.4 159.1,68.4 158.4,68.5 157.8,68.5 157.1,68.5 156.3,68.5 155.6,68.5 154.9,68.5 154.2,68.5 153.6,68.5 152.8,68.5 152.1,68.4 151.4,68.4 151.1,68.3 150.4,68.2 149.7,68.1 149.1,68.0 148.6,67.9 147.9,67.7 147.6,67.6 146.9,67.3 146.6,67.2 146.1,66.9 145.6,66.6 145.2,66.2 144.8,65.9 144.5,65.5 144.3,65.2 144.1,64.6 144.0,64.2 143.9,63.4 143.9,62.8 143.9,62.0 144.1,61.3 144.2,61.0 144.4,60.5 144.8,60.0 145.1,59.7 145.5,59.4 145.8,59.2 146.3,58.9 146.9,58.6 147.2,58.5 147.9,58.3 148.3,58.2 149.0,58.0 149.7,57.9 150.1,57.8 150.8,57.7 151.4,57.7 152.1,57.6 152.8,57.6 153.6,57.5 154.2,57.5 154.9,57.5 155.6,57.5 156.3,57.5 157.1,57.5 157.8,57.5 158.4,57.5 159.1,57.6 159.8,57.6 160.6,57.7 161.2,57.8 161.7,57.8 162.3,58.0 163.0,58.1 163.3,58.2 164.1,58.5 164.4,58.6 165.1,58.9 165.4,59.1 165.8,59.3 166.1,59.6 166.5,59.9 166.8,60.4 167.2,61.0 167.4,61.3 167.5,62.0 167.5,62.8 167.5,63.4 167.5,64.2 167.3,64.8 167.1,65.2 166.8,65.6 166.5,66.1 166.1,66.4 165.8,66.7 165.3,66.9 164.8,67.3 164.4,67.4 163.7,67.7 163.3,67.8 162.6,67.9 162.3,68.0 161.6,68.2 160.9,68.3 160.2,68.3 159.8,68.4 159.8,68.4 M199.0,163.6 198.6,163.5 198.0,163.4 197.7,163.1 197.3,162.8 196.9,162.4 196.6,161.8 196.5,161.4 196.3,160.8 196.3,160.0 196.3,159.3 196.4,158.7 196.6,157.9 196.7,157.6 196.9,156.9 197.1,156.5 197.3,156.2 197.7,155.6 197.9,155.2 198.2,154.8 198.4,154.4 198.7,154.1 199.0,153.7 199.4,153.3 199.8,152.9 200.1,152.5 200.4,152.1 200.8,151.7 201.2,151.3 201.5,151.0 201.8,150.6 202.2,150.3 202.5,150.0 202.9,149.7 203.2,149.5 203.8,149.2 204.3,149.0 205.0,148.9 205.7,148.9 206.4,149.1 206.8,149.2 207.2,149.6 207.5,149.9 207.8,150.6 207.8,150.9 207.8,151.6 207.8,152.2 207.7,152.7 207.6,153.4 207.4,153.8 207.2,154.4 207.1,154.8 206.8,155.5 206.6,155.8 206.4,156.3 206.1,156.9 205.9,157.2 205.7,157.6 205.3,158.2 205.0,158.7 204.8,159.0 204.6,159.3 204.3,159.7 203.9,160.2 203.6,160.6 203.2,161.0 202.9,161.3 202.5,161.7 202.2,162.0 201.8,162.2 201.5,162.5 200.9,162.8 200.4,163.1 200.1,163.3 199.4,163.5 199.0,163.6 199.0,163.6 M158.8,68.4 158.1,68.4 157.4,68.4 156.7,68.4 156.0,68.4 155.3,68.4 154.6,68.4 153.9,68.4 153.2,68.4 152.8,68.3 152.1,68.3 151.4,68.2 150.8,68.2 150.1,68.1 149.7,68.0 149.0,67.9 148.3,67.7 147.9,67.6 147.2,67.3 146.9,67.2 146.5,66.9 145.9,66.6 145.5,66.3 145.1,66.0 144.8,65.6 144.6,65.2 144.4,64.8 144.2,64.2 144.1,63.4 144.1,62.8 144.1,62.0 144.3,61.3 144.4,60.9 144.8,60.3 145.1,59.9 145.5,59.6 145.8,59.4 146.2,59.1 146.6,58.9 147.2,58.6 147.6,58.5 148.3,58.3 148.7,58.2 149.3,58.1 150.1,57.9 150.7,57.8 151.1,57.8 151.8,57.7 152.5,57.7 153.2,57.7 153.9,57.6 154.6,57.6 155.3,57.6 156.0,57.6 156.7,57.6 157.4,57.6 158.1,57.6 158.8,57.7 159.5,57.7 160.2,57.8 160.9,57.8 161.2,57.9 161.9,58.0 162.6,58.2 163.0,58.3 163.7,58.5 164.1,58.6 164.8,58.9 165.1,59.1 165.4,59.3 165.9,59.6 166.3,59.9 166.6,60.3 166.8,60.7 167.1,61.3 167.2,61.7 167.3,62.4 167.3,63.1 167.3,63.8 167.2,64.4 167.0,64.8 166.8,65.3 166.5,65.8 166.1,66.2 165.8,66.4 165.4,66.7 165.0,66.9 164.4,67.3 164.1,67.4 163.3,67.6 163.0,67.7 162.3,67.9 161.8,68.0 161.2,68.1 160.6,68.2 159.8,68.3 159.1,68.3 158.8,68.4 158.8,68.4 M200.4,161.1 199.9,161.1 199.4,160.8 199.0,160.5 198.8,160.0 198.7,159.7 198.5,159.0 198.6,158.3 198.7,157.7 198.9,157.2 199.0,156.8 199.4,156.2 199.6,155.8 199.9,155.5 200.1,155.2 200.4,154.7 200.8,154.4 201.2,154.0 201.5,153.7 201.8,153.3 202.2,153.0 202.6,152.7 203.1,152.3 203.6,152.0 203.9,151.9 204.6,151.7 205.3,151.8 205.7,152.1 206.0,152.7 206.0,153.4 205.9,154.1 205.7,154.8 205.6,155.2 205.3,155.8 205.2,156.2 205.0,156.5 204.6,157.2 204.4,157.6 204.2,157.9 203.9,158.3 203.6,158.8 203.2,159.2 202.9,159.6 202.5,160.0 202.2,160.3 201.8,160.5 201.5,160.8 200.8,161.1 200.4,161.1 200.4,161.1 M160.9,68.0 160.2,68.1 159.5,68.2 158.8,68.2 158.1,68.3 157.4,68.3 156.7,68.3 156.0,68.3 155.3,68.3 154.6,68.3 153.9,68.3 153.2,68.3 152.5,68.2 151.8,68.2 151.1,68.1 150.4,68.0 150.1,67.9 149.3,67.8 148.7,67.7 148.3,67.5 147.6,67.3 147.2,67.2 146.8,66.9 146.2,66.6 145.8,66.4 145.5,66.1 145.1,65.7 144.8,65.2 144.6,64.8 144.4,64.2 144.4,63.8 144.3,63.1 144.3,62.4 144.4,61.7 144.5,61.3 144.8,60.7 145.1,60.3 145.4,59.9 145.8,59.6 146.2,59.3 146.6,59.1 147.0,58.9 147.6,58.7 147.9,58.5 148.6,58.3 149.3,58.2 149.7,58.1 150.4,58.0 151.1,57.9 151.8,57.9 152.1,57.8 152.8,57.8 153.6,57.8 154.2,57.7 154.9,57.7 155.6,57.7 156.3,57.7 157.1,57.7 157.8,57.7 158.4,57.8 159.1,57.8 159.8,57.8 160.2,57.9 160.9,58.0 161.6,58.1 162.2,58.2 162.6,58.3 163.3,58.5 163.7,58.6 164.4,58.9 164.8,59.1 165.1,59.3 165.6,59.6 166.0,59.9 166.3,60.3 166.6,60.6 166.8,61.2 167.0,61.7 167.1,62.4 167.1,63.1 167.1,63.8 166.9,64.5 166.8,64.8 166.5,65.4 166.1,65.9 165.8,66.2 165.4,66.5 165.1,66.7 164.7,66.9 164.1,67.2 163.7,67.4 163.0,67.6 162.6,67.7 161.9,67.9 161.2,68.0 160.9,68.0 160.9,68.0 M160.2,68.0 159.5,68.1 158.8,68.1 158.1,68.2 157.4,68.2 156.7,68.2 156.0,68.2 155.3,68.2 154.6,68.2 153.9,68.2 153.2,68.2 152.5,68.1 151.8,68.1 151.3,68.0 150.8,67.9 150.1,67.8 149.3,67.7 149.0,67.6 148.3,67.4 147.9,67.3 147.2,67.0 146.9,66.8 146.5,66.6 146.0,66.2 145.6,65.9 145.3,65.5 145.1,65.2 144.8,64.6 144.7,64.2 144.6,63.4 144.6,62.8 144.6,62.0 144.8,61.3 144.9,61.0 145.1,60.5 145.5,60.1 145.8,59.8 146.2,59.5 146.6,59.2 147.2,58.9 147.6,58.8 148.3,58.6 148.6,58.5 149.3,58.3 149.9,58.2 150.4,58.1 151.1,58.0 151.8,58.0 152.5,57.9 153.2,57.9 153.9,57.9 154.2,57.8 154.9,57.8 155.6,57.8 156.3,57.8 157.1,57.8 157.8,57.8 158.1,57.9 158.8,57.9 159.5,57.9 160.2,58.0 160.9,58.1 161.6,58.2 161.9,58.3 162.6,58.4 163.1,58.5 163.7,58.8 164.1,58.9 164.8,59.2 165.1,59.5 165.4,59.7 165.8,60.0 166.1,60.4 166.5,61.0 166.7,61.3 166.8,62.0 166.9,62.4 166.9,63.1 166.8,63.6 166.8,64.2 166.6,64.8 166.4,65.2 166.1,65.6 165.8,66.0 165.4,66.3 165.0,66.6 164.4,66.9 164.1,67.1 163.5,67.3 163.0,67.5 162.3,67.7 161.9,67.7 161.2,67.9 160.6,68.0 160.2,68.0 160.2,68.0 M158.8,68.0 158.1,68.1 157.4,68.1 156.7,68.1 156.0,68.1 155.3,68.1 154.6,68.1 153.9,68.1 153.2,68.0 152.5,68.0 152.1,68.0 151.4,67.9 150.8,67.8 150.1,67.7 149.7,67.6 149.0,67.5 148.4,67.3 147.9,67.1 147.5,66.9 146.9,66.6 146.6,66.4 146.2,66.2 145.8,65.9 145.5,65.5 145.1,64.9 145.0,64.5 144.8,63.8 144.8,63.1 144.8,62.8 144.8,62.4 144.9,61.7 145.1,61.0 145.3,60.6 145.6,60.3 145.9,59.9 146.4,59.6 146.9,59.3 147.2,59.1 147.8,58.9 148.3,58.7 148.9,58.5 149.3,58.4 150.1,58.3 150.7,58.2 151.1,58.2 151.8,58.1 152.5,58.0 153.2,58.0 153.9,58.0 154.6,58.0 155.3,57.9 156.0,57.9 156.7,57.9 157.4,57.9 158.1,58.0 158.8,58.0 159.5,58.1 160.2,58.1 160.9,58.2 161.2,58.3 161.9,58.4 162.6,58.5 163.0,58.7 163.7,58.9 164.1,59.1 164.4,59.2 165.0,59.6 165.4,59.9 165.8,60.3 166.1,60.6 166.3,61.0 166.5,61.6 166.6,62.0 166.6,62.8 166.6,63.4 166.5,64.2 166.5,64.5 166.1,65.2 165.9,65.5 165.6,65.9 165.2,66.2 164.8,66.5 164.4,66.7 164.0,66.9 163.3,67.2 163.0,67.3 162.3,67.5 161.7,67.7 161.2,67.7 160.6,67.8 159.8,67.9 159.1,68.0 158.8,68.0 158.8,68.0 M160.9,67.7 160.2,67.8 159.5,67.8 158.8,67.9 158.1,67.9 157.4,68.0 156.7,68.0 156.0,68.0 155.3,68.0 154.6,68.0 153.9,68.0 153.2,67.9 152.5,67.9 151.8,67.8 151.1,67.7 150.5,67.7 150.1,67.6 149.3,67.4 148.9,67.3 148.3,67.1 147.9,66.9 147.2,66.6 146.9,66.4 146.6,66.2 146.2,65.9 145.8,65.5 145.5,65.1 145.2,64.5 145.1,64.2 145.1,63.4 145.0,62.8 145.1,62.0 145.1,61.7 145.4,61.0 145.6,60.6 145.9,60.3 146.2,59.9 146.7,59.6 147.2,59.3 147.6,59.1 148.2,58.9 148.6,58.8 149.3,58.6 149.7,58.5 150.4,58.4 151.1,58.3 151.8,58.2 152.1,58.2 152.8,58.1 153.6,58.1 154.2,58.1 154.9,58.1 155.6,58.1 156.3,58.1 157.1,58.1 157.8,58.1 158.4,58.1 159.1,58.1 159.8,58.2 160.2,58.2 160.9,58.3 161.6,58.5 162.0,58.5 162.6,58.7 163.2,58.9 163.7,59.1 164.1,59.2 164.7,59.6 165.1,59.9 165.4,60.2 165.8,60.6 166.0,61.0 166.2,61.3 166.3,62.0 166.4,62.8 166.4,63.4 166.3,64.2 166.1,64.6 165.9,65.2 165.6,65.5 165.3,65.9 164.9,66.2 164.4,66.6 164.1,66.7 163.6,66.9 163.0,67.2 162.6,67.3 161.9,67.5 161.2,67.6 160.9,67.7 160.9,67.7 M159.8,67.7 159.1,67.8 158.4,67.8 157.8,67.8 157.1,67.9 156.3,67.9 155.6,67.9 154.9,67.9 154.2,67.8 153.6,67.8 152.8,67.8 152.1,67.7 151.4,67.7 151.1,67.6 150.4,67.5 149.7,67.4 149.3,67.3 148.6,67.1 148.3,66.9 147.6,66.6 147.2,66.4 146.9,66.2 146.5,65.9 146.1,65.5 145.8,65.2 145.5,64.5 145.4,64.2 145.3,63.4 145.3,62.8 145.3,62.0 145.5,61.3 145.7,61.0 145.9,60.6 146.2,60.3 146.6,59.9 147.1,59.6 147.6,59.3 147.9,59.2 148.6,58.9 149.0,58.8 149.7,58.6 150.1,58.5 150.8,58.5 151.4,58.4 152.1,58.3 152.8,58.2 153.6,58.2 153.9,58.2 154.6,58.2 155.3,58.2 156.0,58.2 156.7,58.2 157.4,58.2 158.1,58.2 158.4,58.2 159.1,58.3 159.8,58.3 160.6,58.4 161.2,58.5 161.6,58.6 162.3,58.8 162.8,58.9 163.3,59.1 163.7,59.3 164.3,59.6 164.8,59.9 165.1,60.2 165.4,60.6 165.7,61.0 165.9,61.3 166.1,62.0 166.1,62.8 166.1,63.4 166.0,64.2 165.8,64.8 165.6,65.2 165.3,65.5 165.0,65.9 164.6,66.2 164.1,66.6 163.7,66.7 163.2,66.9 162.6,67.1 162.1,67.3 161.6,67.4 160.9,67.5 160.2,67.6 159.8,67.7 159.8,67.7 M158.8,67.7 158.1,67.7 157.4,67.7 156.7,67.7 156.0,67.7 155.3,67.7 154.6,67.7 153.9,67.7 153.2,67.7 152.7,67.7 152.1,67.6 151.4,67.5 150.8,67.4 150.1,67.3 149.7,67.2 149.0,67.0 148.6,66.9 147.9,66.6 147.6,66.4 147.2,66.2 146.8,65.9 146.4,65.5 146.1,65.2 145.8,64.7 145.7,64.2 145.6,63.4 145.5,62.8 145.6,62.0 145.8,61.3 145.9,61.0 146.2,60.6 146.6,60.2 146.9,59.9 147.4,59.6 147.9,59.3 148.3,59.2 149.0,59.0 149.3,58.9 150.1,58.7 150.8,58.6 151.1,58.5 151.8,58.5 152.5,58.4 153.2,58.4 153.9,58.3 154.6,58.3 155.3,58.3 156.0,58.3 156.7,58.3 157.4,58.3 158.1,58.3 158.8,58.4 159.5,58.4 160.2,58.5 160.6,58.5 161.2,58.7 161.9,58.8 162.3,58.9 163.0,59.1 163.3,59.3 164.0,59.6 164.4,59.9 164.8,60.1 165.1,60.5 165.4,61.0 165.6,61.3 165.8,61.9 165.9,62.4 165.9,63.1 165.8,63.8 165.8,64.2 165.5,64.8 165.3,65.2 165.1,65.5 164.7,65.9 164.2,66.2 163.7,66.5 163.3,66.7 162.7,66.9 162.3,67.1 161.6,67.3 161.2,67.3 160.6,67.5 159.8,67.6 159.1,67.6 158.8,67.7 158.8,67.7 M160.6,67.3 159.8,67.4 159.1,67.5 158.4,67.6 157.8,67.6 157.1,67.6 156.3,67.6 155.6,67.6 154.9,67.6 154.2,67.6 153.6,67.6 152.8,67.5 152.1,67.5 151.4,67.4 150.8,67.3 150.4,67.2 149.7,67.1 149.3,66.9 148.6,66.7 148.3,66.6 147.6,66.2 147.2,66.0 146.9,65.7 146.6,65.3 146.2,64.8 146.0,64.5 145.9,63.8 145.8,63.4 145.8,62.8 145.8,62.0 145.9,61.7 146.2,61.0 146.5,60.6 146.8,60.3 147.2,59.9 147.6,59.7 147.9,59.5 148.6,59.2 149.0,59.1 149.7,58.9 150.1,58.9 150.8,58.7 151.4,58.6 152.1,58.6 152.5,58.5 153.2,58.5 153.9,58.5 154.6,58.4 155.3,58.4 156.0,58.4 156.7,58.4 157.4,58.4 158.1,58.5 158.8,58.5 159.5,58.5 159.8,58.6 160.6,58.7 161.2,58.8 161.7,58.9 162.3,59.1 162.8,59.2 163.3,59.5 163.7,59.6 164.2,59.9 164.6,60.3 164.9,60.6 165.2,61.0 165.4,61.6 165.6,62.0 165.6,62.8 165.6,63.4 165.5,64.2 165.4,64.5 165.1,65.1 164.8,65.5 164.4,65.9 164.1,66.1 163.7,66.3 163.2,66.6 162.6,66.8 162.2,66.9 161.6,67.1 160.9,67.3 160.6,67.3 160.6,67.3 M159.5,67.3 158.8,67.4 158.1,67.4 157.4,67.5 156.7,67.5 156.0,67.5 155.3,67.5 154.6,67.5 153.9,67.5 153.2,67.4 152.5,67.4 151.8,67.3 151.4,67.3 150.8,67.1 150.1,67.0 149.7,66.9 149.0,66.7 148.6,66.5 148.0,66.2 147.6,66.0 147.2,65.7 146.9,65.4 146.6,64.9 146.3,64.5 146.2,64.1 146.1,63.4 146.1,62.8 146.1,62.0 146.2,61.7 146.5,61.0 146.8,60.6 147.1,60.3 147.6,59.9 147.9,59.7 148.3,59.6 149.0,59.3 149.3,59.2 150.1,59.0 150.6,58.9 151.1,58.8 151.8,58.7 152.5,58.7 153.2,58.6 153.9,58.6 154.6,58.6 155.3,58.6 155.6,58.5 156.3,58.5 156.9,58.5 157.4,58.6 158.1,58.6 158.8,58.6 159.5,58.7 160.2,58.8 160.9,58.9 161.2,59.0 161.9,59.1 162.3,59.2 163.0,59.5 163.3,59.7 163.8,59.9 164.3,60.3 164.6,60.6 164.9,61.0 165.1,61.4 165.3,62.0 165.3,62.8 165.3,63.4 165.2,64.2 165.1,64.6 164.8,65.2 164.4,65.5 164.1,65.9 163.7,66.1 163.3,66.3 162.7,66.6 162.3,66.8 161.6,66.9 161.2,67.0 160.6,67.2 159.8,67.3 159.5,67.3 159.5,67.3 M158.1,67.3 157.4,67.3 156.7,67.3 156.0,67.4 155.3,67.4 154.6,67.3 153.9,67.3 153.3,67.3 152.8,67.3 152.1,67.2 151.4,67.1 150.8,67.0 150.4,66.9 149.7,66.7 149.3,66.6 148.6,66.3 148.3,66.2 147.8,65.9 147.4,65.5 147.1,65.2 146.8,64.8 146.6,64.3 146.4,63.8 146.4,63.1 146.4,62.4 146.5,61.7 146.6,61.3 146.9,60.9 147.2,60.5 147.6,60.2 148.0,59.9 148.6,59.6 149.0,59.5 149.7,59.3 150.1,59.2 150.8,59.0 151.4,58.9 151.8,58.9 152.5,58.8 153.2,58.8 153.9,58.7 154.6,58.7 155.3,58.7 156.0,58.7 156.7,58.7 157.4,58.7 158.1,58.7 158.8,58.8 159.5,58.8 160.1,58.9 160.6,59.0 161.2,59.1 161.8,59.2 162.3,59.4 162.8,59.6 163.3,59.9 163.7,60.1 164.1,60.4 164.4,60.8 164.8,61.3 164.9,61.7 165.0,62.4 165.1,63.1 165.0,63.8 164.8,64.5 164.7,64.8 164.4,65.2 164.1,65.6 163.7,65.9 163.1,66.2 162.6,66.4 162.2,66.6 161.6,66.8 161.0,66.9 160.6,67.0 159.8,67.1 159.1,67.2 158.4,67.3 158.1,67.3 158.1,67.3 M159.8,67.0 159.1,67.1 158.4,67.1 157.8,67.2 157.1,67.2 156.3,67.2 155.6,67.2 154.9,67.2 154.2,67.2 153.6,67.2 152.8,67.1 152.1,67.1 151.4,67.0 151.1,66.9 150.4,66.7 149.8,66.6 149.3,66.4 148.9,66.2 148.3,65.9 147.9,65.7 147.6,65.4 147.2,65.0 146.9,64.5 146.8,64.2 146.7,63.4 146.7,62.8 146.7,62.0 146.9,61.4 147.1,61.0 147.4,60.6 147.8,60.3 148.3,60.0 148.6,59.8 149.2,59.6 149.7,59.4 150.4,59.3 150.8,59.2 151.4,59.1 152.1,59.0 152.8,58.9 153.2,58.9 153.9,58.9 154.6,58.8 155.3,58.8 156.0,58.8 156.7,58.8 157.4,58.8 158.1,58.9 158.7,58.9 159.1,58.9 159.8,59.0 160.6,59.1 161.1,59.2 161.6,59.4 162.3,59.6 162.6,59.8 163.0,59.9 163.6,60.3 164.0,60.6 164.3,61.0 164.5,61.3 164.7,62.0 164.8,62.4 164.8,63.1 164.8,63.5 164.6,64.2 164.4,64.7 164.1,65.2 163.7,65.5 163.3,65.8 163.0,66.0 162.6,66.2 161.9,66.5 161.6,66.6 160.9,66.8 160.2,66.9 159.8,67.0 159.8,67.0 M158.8,67.0 158.1,67.0 157.4,67.0 156.7,67.1 156.0,67.1 155.3,67.1 154.6,67.1 153.9,67.0 153.2,67.0 152.6,66.9 152.1,66.9 151.4,66.8 150.8,66.7 150.4,66.6 149.7,66.4 149.3,66.2 148.7,65.9 148.3,65.7 147.9,65.4 147.6,65.0 147.3,64.5 147.1,64.2 147.0,63.4 147.0,62.8 147.0,62.0 147.2,61.4 147.5,61.0 147.8,60.6 148.2,60.3 148.6,60.1 149.0,59.9 149.7,59.6 150.1,59.5 150.8,59.4 151.3,59.2 151.8,59.2 152.5,59.1 153.2,59.0 153.9,59.0 154.6,59.0 155.3,59.0 156.0,59.0 156.7,59.0 157.4,59.0 158.1,59.0 158.8,59.1 159.5,59.1 160.2,59.2 160.6,59.3 161.2,59.5 161.7,59.6 162.3,59.8 162.6,60.0 163.2,60.3 163.6,60.6 163.9,61.0 164.1,61.3 164.4,62.0 164.4,62.4 164.5,63.1 164.4,63.8 164.3,64.2 164.1,64.8 163.7,65.2 163.4,65.5 163.0,65.8 162.6,66.0 162.1,66.2 161.6,66.4 161.0,66.6 160.6,66.7 159.8,66.8 159.1,66.9 158.8,67.0 158.8,67.0 M160.2,66.6 159.5,66.7 158.8,66.8 158.1,66.9 157.4,66.9 156.7,66.9 156.0,66.9 155.3,66.9 154.6,66.9 153.9,66.9 153.2,66.8 152.5,66.8 151.8,66.7 151.3,66.6 150.8,66.5 150.1,66.3 149.7,66.2 149.1,65.9 148.6,65.6 148.3,65.4 147.9,65.0 147.6,64.5 147.4,64.2 147.3,63.4 147.3,62.8 147.3,62.0 147.6,61.4 147.9,61.0 148.2,60.6 148.6,60.3 149.0,60.1 149.4,59.9 150.1,59.7 150.5,59.6 151.1,59.5 151.8,59.3 152.5,59.3 152.8,59.2 153.6,59.2 154.2,59.1 154.9,59.1 155.6,59.1 156.3,59.1 157.1,59.1 157.8,59.1 158.4,59.2 159.1,59.2 159.5,59.3 160.2,59.4 160.9,59.6 161.2,59.7 161.9,59.9 162.3,60.1 162.7,60.3 163.2,60.6 163.6,61.0 163.8,61.3 164.1,62.0 164.1,62.4 164.1,63.1 164.1,63.8 164.0,64.2 163.7,64.8 163.4,65.2 163.0,65.5 162.6,65.7 162.3,65.9 161.6,66.2 161.2,66.3 160.6,66.5 160.2,66.6 160.2,66.6 M159.1,66.6 158.4,66.7 157.8,66.7 157.1,66.7 156.3,66.8 155.6,66.8 154.9,66.8 154.2,66.7 153.6,66.7 152.8,66.7 152.4,66.6 151.8,66.5 151.1,66.4 150.6,66.2 150.1,66.1 149.6,65.9 149.0,65.6 148.6,65.3 148.3,65.0 147.9,64.5 147.8,64.2 147.6,63.4 147.6,62.8 147.7,62.0 147.9,61.4 148.2,61.0 148.6,60.6 149.0,60.4 149.3,60.2 150.0,59.9 150.4,59.8 151.1,59.6 151.4,59.6 152.1,59.5 152.8,59.4 153.6,59.3 154.2,59.3 154.9,59.3 155.6,59.3 156.3,59.3 157.1,59.3 157.8,59.3 158.4,59.4 159.1,59.4 159.8,59.5 160.2,59.6 160.9,59.8 161.5,59.9 161.9,60.1 162.3,60.3 162.8,60.6 163.2,61.0 163.4,61.3 163.7,62.0 163.8,62.4 163.8,63.1 163.7,63.8 163.7,64.2 163.3,64.8 163.0,65.2 162.6,65.4 162.3,65.7 161.9,65.9 161.2,66.1 160.9,66.3 160.2,66.4 159.5,66.6 159.1,66.6 159.1,66.6 M159.8,66.3 159.1,66.4 158.4,66.5 157.8,66.6 157.1,66.6 156.3,66.6 155.6,66.6 154.9,66.6 154.2,66.6 153.6,66.5 152.8,66.5 152.1,66.4 151.4,66.3 151.1,66.2 150.4,66.0 150.1,65.8 149.5,65.5 149.0,65.2 148.6,64.9 148.3,64.5 148.2,64.2 148.0,63.4 148.0,62.8 148.1,62.0 148.3,61.5 148.6,61.0 149.0,60.7 149.3,60.5 149.7,60.3 150.4,60.0 150.8,59.9 151.4,59.8 152.1,59.7 152.6,59.6 153.2,59.5 153.9,59.5 154.6,59.5 155.3,59.5 156.0,59.4 156.7,59.5 157.4,59.5 158.1,59.5 158.8,59.6 159.1,59.6 159.8,59.7 160.6,59.9 160.9,60.0 161.6,60.2 161.9,60.4 162.3,60.6 162.8,61.0 163.0,61.3 163.3,62.0 163.4,62.4 163.4,63.1 163.4,63.8 163.3,64.2 163.0,64.7 162.6,65.1 162.3,65.4 161.9,65.6 161.3,65.9 160.9,66.0 160.2,66.2 159.8,66.3 159.8,66.3 M158.8,66.3 158.1,66.3 157.4,66.4 156.7,66.4 156.0,66.4 155.3,66.4 154.6,66.4 153.9,66.4 153.2,66.3 152.5,66.3 152.1,66.2 151.4,66.1 150.9,65.9 150.4,65.7 150.0,65.5 149.4,65.2 149.0,64.8 148.7,64.5 148.6,64.2 148.4,63.4 148.4,62.8 148.4,62.0 148.6,61.6 149.0,61.1 149.3,60.8 149.7,60.6 150.3,60.3 150.8,60.2 151.4,60.0 151.8,59.9 152.5,59.8 153.2,59.7 153.9,59.7 154.6,59.6 155.3,59.6 156.0,59.6 156.7,59.6 157.4,59.6 158.1,59.7 158.8,59.8 159.5,59.9 160.0,59.9 160.6,60.1 161.1,60.3 161.6,60.5 161.9,60.7 162.3,61.0 162.6,61.4 163.0,62.0 163.0,62.4 163.1,63.1 163.0,63.8 162.9,64.2 162.6,64.6 162.3,65.0 161.9,65.3 161.5,65.5 160.9,65.8 160.6,65.9 159.8,66.1 159.1,66.2 158.8,66.3 158.8,66.3 M159.5,66.0 158.8,66.1 158.1,66.2 157.4,66.2 156.7,66.2 156.0,66.2 155.3,66.2 154.6,66.2 153.9,66.2 153.2,66.1 152.5,66.0 151.8,65.9 151.4,65.8 150.8,65.6 150.4,65.4 149.9,65.2 149.5,64.8 149.2,64.5 149.0,64.2 148.8,63.4 148.8,62.8 148.9,62.0 149.0,61.7 149.3,61.3 149.7,61.0 150.2,60.6 150.8,60.4 151.1,60.3 151.8,60.1 152.5,60.0 152.9,59.9 153.6,59.9 154.2,59.9 154.9,59.8 155.6,59.8 156.3,59.8 157.1,59.8 157.8,59.9 158.4,59.9 158.8,60.0 159.5,60.1 160.2,60.2 160.6,60.3 161.2,60.6 161.6,60.9 161.9,61.1 162.3,61.5 162.6,62.0 162.6,62.6 162.7,63.1 162.6,63.5 162.5,64.2 162.3,64.5 161.9,64.9 161.5,65.2 160.9,65.5 160.6,65.7 159.8,65.9 159.5,66.0 159.5,66.0 M158.4,65.9 157.8,66.0 157.1,66.0 156.3,66.0 155.6,66.0 154.9,66.0 154.2,66.0 153.6,66.0 153.0,65.9 152.5,65.8 151.8,65.7 151.4,65.5 150.8,65.3 150.4,65.1 150.0,64.8 149.7,64.5 149.3,64.0 149.2,63.4 149.2,62.8 149.3,62.0 149.5,61.7 149.8,61.3 150.2,61.0 150.8,60.7 151.1,60.6 151.8,60.4 152.1,60.3 152.8,60.2 153.6,60.1 154.2,60.1 154.9,60.0 155.6,60.0 156.3,60.0 157.1,60.0 157.8,60.1 158.4,60.1 159.1,60.2 159.5,60.3 160.2,60.5 160.6,60.6 161.2,61.0 161.6,61.3 161.9,61.7 162.1,62.0 162.2,62.8 162.2,63.4 162.0,64.2 161.8,64.5 161.5,64.8 161.0,65.2 160.6,65.4 160.1,65.5 159.5,65.7 158.8,65.9 158.4,65.9 158.4,65.9 M158.8,65.6 158.1,65.7 157.4,65.8 156.7,65.8 156.0,65.8 155.3,65.8 154.6,65.8 153.9,65.8 153.2,65.7 152.5,65.6 152.1,65.5 151.4,65.3 151.1,65.1 150.6,64.8 150.2,64.5 149.9,64.2 149.7,63.4 149.7,63.1 149.7,62.6 149.8,62.0 150.1,61.7 150.4,61.3 150.9,61.0 151.4,60.8 151.8,60.6 152.5,60.5 153.2,60.4 153.9,60.3 154.2,60.3 154.9,60.3 155.6,60.2 156.3,60.2 157.1,60.3 157.8,60.3 158.1,60.3 158.8,60.4 159.5,60.6 159.8,60.7 160.6,61.0 160.9,61.2 161.2,61.5 161.6,62.0 161.7,62.4 161.8,63.1 161.7,63.8 161.5,64.2 161.2,64.5 160.9,64.8 160.2,65.2 159.8,65.3 159.1,65.5 158.8,65.6 158.8,65.6 M157.1,65.6 156.3,65.6 155.6,65.6 154.9,65.6 154.5,65.5 153.9,65.5 153.2,65.4 152.5,65.3 152.1,65.2 151.4,64.9 151.1,64.7 150.8,64.5 150.4,64.0 150.2,63.4 150.2,62.8 150.4,62.0 150.6,61.7 151.0,61.3 151.4,61.1 151.8,61.0 152.5,60.8 153.1,60.6 153.6,60.6 154.2,60.5 154.9,60.5 155.6,60.5 156.3,60.5 157.1,60.5 157.8,60.6 158.4,60.6 158.8,60.7 159.5,60.9 159.8,61.0 160.4,61.3 160.8,61.7 161.1,62.0 161.2,62.8 161.2,63.4 161.0,64.2 160.7,64.5 160.2,64.8 159.8,65.0 159.3,65.2 158.8,65.3 158.1,65.5 157.4,65.5 157.1,65.6 157.1,65.6 M157.8,65.2 157.1,65.3 156.3,65.3 155.6,65.3 154.9,65.3 154.2,65.3 153.7,65.2 153.2,65.1 152.5,64.9 152.1,64.8 151.5,64.5 151.1,64.2 150.9,63.8 150.8,63.1 150.9,62.4 151.1,62.0 151.4,61.6 151.9,61.3 152.5,61.1 152.9,61.0 153.6,60.9 154.2,60.8 154.9,60.8 155.6,60.8 156.3,60.8 157.1,60.8 157.8,60.8 158.4,61.0 158.8,61.0 159.5,61.3 159.8,61.5 160.2,61.8 160.6,62.4 160.6,62.8 160.6,63.4 160.5,63.8 160.2,64.3 159.8,64.6 159.3,64.8 158.8,65.0 158.1,65.2 157.8,65.2 157.8,65.2 M157.8,64.9 157.1,64.9 156.3,65.0 155.6,65.0 154.9,65.0 154.2,64.9 153.7,64.8 153.2,64.7 152.5,64.5 152.1,64.3 151.8,64.0 151.6,63.4 151.5,62.8 151.8,62.1 152.1,61.8 152.5,61.6 153.1,61.3 153.6,61.3 154.2,61.2 154.9,61.1 155.6,61.1 156.3,61.1 157.1,61.1 157.8,61.2 158.4,61.3 158.8,61.5 159.3,61.7 159.6,62.0 159.8,62.4 159.9,63.1 159.8,63.6 159.5,64.2 159.1,64.4 158.8,64.6 158.1,64.8 157.8,64.9 157.8,64.9 M157.1,64.5 156.3,64.6 155.6,64.6 154.9,64.6 154.3,64.5 153.9,64.4 153.2,64.2 152.8,64.0 152.5,63.6 152.4,63.1 152.5,62.6 152.8,62.1 153.2,61.9 153.7,61.7 154.2,61.6 154.9,61.5 155.6,61.5 156.3,61.5 157.1,61.5 157.8,61.7 158.1,61.8 158.6,62.0 158.9,62.4 159.1,63.1 158.9,63.8 158.4,64.1 158.1,64.3 157.4,64.5 157.1,64.5 157.1,64.5 M157.1,63.8 156.3,63.9 155.6,64.0 154.9,63.9 154.3,63.8 153.9,63.5 153.8,63.1 153.9,62.6 154.2,62.3 154.9,62.2 155.6,62.1 156.3,62.1 157.1,62.2 157.4,62.4 157.8,62.9 157.8,63.2 157.4,63.7 157.1,63.8 157.1,63.8" fill="none" stroke="#000" stroke-width="1.0" stroke-linejoin="round"/>
<path d="M67.5,25H245V201.5" fill="none" stroke="#555" stroke-width="1.3"/>
<path d="M129,201.5V26H181.6V201.5" fill="none" stroke="#3c3c3c" stroke-width="1.2" stroke-dasharray="3 2.3"/><path d="M129,149.2H181.6" fill="none" stroke="#3c3c3c" stroke-width="1.2" stroke-dasharray="3 2.3"/><path d="M182,136.5L229.2,97.2L245,101.6" fill="none" stroke="#3c3c3c" stroke-width="1.2" stroke-dasharray="3 2.3"/><path d="M183.3,172.7L192.6,201" fill="none" stroke="#3c3c3c" stroke-width="1.2" stroke-dasharray="3 2.3"/>
<path d="M63.5,201.5H245" stroke="#111" stroke-width="1.3"/>
<path d="M67.5,25V206.0" stroke="#333" stroke-width="1.2"/>
<path d="M111.9,201.5v4.5" stroke="#444" stroke-width="1"/>
<path d="M156.2,201.5v4.5" stroke="#444" stroke-width="1"/>
<path d="M200.6,201.5v4.5" stroke="#444" stroke-width="1"/>
<path d="M245.0,201.5v4.5" stroke="#444" stroke-width="1"/>
<path d="M67.5,25.0h-4.5" stroke="#444" stroke-width="1"/>
<path d="M67.5,69.1h-4.5" stroke="#444" stroke-width="1"/>
<path d="M67.5,113.2h-4.5" stroke="#444" stroke-width="1"/>
<path d="M67.5,157.4h-4.5" stroke="#444" stroke-width="1"/>
<path d="M80.9,201.5v2.6 M67.5,188.2h-2.6 M88.7,201.5v2.6 M67.5,180.4h-2.6 M94.2,201.5v2.6 M67.5,174.9h-2.6 M98.5,201.5v2.6 M67.5,170.7h-2.6 M102.0,201.5v2.6 M67.5,167.2h-2.6 M105.0,201.5v2.6 M67.5,164.2h-2.6 M107.6,201.5v2.6 M67.5,161.7h-2.6 M109.8,201.5v2.6 M67.5,159.4h-2.6 M125.2,201.5v2.6 M67.5,144.1h-2.6 M133.0,201.5v2.6 M67.5,136.3h-2.6 M138.6,201.5v2.6 M67.5,130.8h-2.6 M142.9,201.5v2.6 M67.5,126.5h-2.6 M146.4,201.5v2.6 M67.5,123.0h-2.6 M149.4,201.5v2.6 M67.5,120.1h-2.6 M151.9,201.5v2.6 M67.5,117.5h-2.6 M154.2,201.5v2.6 M67.5,115.3h-2.6 M169.6,201.5v2.6 M67.5,100.0h-2.6 M177.4,201.5v2.6 M67.5,92.2h-2.6 M183.0,201.5v2.6 M67.5,86.7h-2.6 M187.3,201.5v2.6 M67.5,82.4h-2.6 M190.8,201.5v2.6 M67.5,78.9h-2.6 M193.8,201.5v2.6 M67.5,76.0h-2.6 M196.3,201.5v2.6 M67.5,73.4h-2.6 M198.6,201.5v2.6 M67.5,71.1h-2.6 M214.0,201.5v2.6 M67.5,55.8h-2.6 M221.8,201.5v2.6 M67.5,48.1h-2.6 M227.3,201.5v2.6 M67.5,42.6h-2.6 M231.6,201.5v2.6 M67.5,38.3h-2.6 M235.2,201.5v2.6 M67.5,34.8h-2.6 M238.1,201.5v2.6 M67.5,31.8h-2.6 M240.7,201.5v2.6 M67.5,29.3h-2.6 M243.0,201.5v2.6 M67.5,27.0h-2.6" stroke="#777" stroke-width="0.7"/>
<text transform="translate(53.6,205.0) scale(0.86,1)" font-size="11.0" text-anchor="end" font-weight="bold">10</text>
<text transform="translate(55.6,201.6) scale(0.9,1)" font-size="9.4" font-weight="bold">0</text>
<text transform="translate(53.6,160.9) scale(0.86,1)" font-size="11.0" text-anchor="end" font-weight="bold">10</text>
<text transform="translate(55.6,157.5) scale(0.9,1)" font-size="9.4" font-weight="bold">1</text>
<text transform="translate(53.6,116.8) scale(0.86,1)" font-size="11.0" text-anchor="end" font-weight="bold">10</text>
<text transform="translate(55.6,113.3) scale(0.9,1)" font-size="9.4" font-weight="bold">2</text>
<text transform="translate(53.6,72.6) scale(0.86,1)" font-size="11.0" text-anchor="end" font-weight="bold">10</text>
<text transform="translate(55.6,69.2) scale(0.9,1)" font-size="9.4" font-weight="bold">3</text>
<text transform="translate(53.6,28.5) scale(0.86,1)" font-size="11.0" text-anchor="end" font-weight="bold">10</text>
<text transform="translate(55.6,25.1) scale(0.9,1)" font-size="9.4" font-weight="bold">4</text>
<text transform="translate(70.7,218.8) scale(0.86,1)" font-size="11.0" text-anchor="end" font-weight="bold">10</text>
<text transform="translate(72.1,215.7) scale(0.9,1)" font-size="9.4" font-weight="bold">0</text>
<text transform="translate(115.1,218.8) scale(0.86,1)" font-size="11.0" text-anchor="end" font-weight="bold">10</text>
<text transform="translate(116.5,215.7) scale(0.9,1)" font-size="9.4" font-weight="bold">1</text>
<text transform="translate(159.4,218.8) scale(0.86,1)" font-size="11.0" text-anchor="end" font-weight="bold">10</text>
<text transform="translate(160.8,215.7) scale(0.9,1)" font-size="9.4" font-weight="bold">2</text>
<text transform="translate(203.8,218.8) scale(0.86,1)" font-size="11.0" text-anchor="end" font-weight="bold">10</text>
<text transform="translate(205.2,215.7) scale(0.9,1)" font-size="9.4" font-weight="bold">3</text>
<text transform="translate(248.2,218.8) scale(0.86,1)" font-size="11.0" text-anchor="end" font-weight="bold">10</text>
<text transform="translate(249.6,215.7) scale(0.9,1)" font-size="9.4" font-weight="bold">4</text>
<text x="79.5" y="86.9" font-size="16" font-weight="bold">25.3%</text>
<text x="191" y="86.9" font-size="16" font-weight="bold">34.1%</text>
<text x="79.3" y="182.5" font-size="16" font-weight="bold">39%</text>
<text x="364.6" y="12.6" font-size="14" font-weight="bold" textLength="123.5" lengthAdjust="spacingAndGlyphs">+<tspan font-weight="normal" font-family="Liberation Serif" font-size="15.5">α</tspan>IgM 14 <tspan font-weight="normal" font-family="Liberation Serif" font-size="15.5">μ</tspan>g/mL</text>
<path d="M441.2,202.0 440.6,202.0 439.9,202.0 439.1,202.0 438.4,202.0 437.8,202.0 437.1,202.0 436.4,202.0 435.6,202.0 434.9,202.0 434.2,202.0 433.6,202.0 432.9,202.0 432.1,202.0 431.4,202.0 430.8,202.0 430.1,202.0 429.4,202.0 428.6,202.0 427.9,202.0 427.2,202.0 426.6,202.0 425.9,202.0 425.1,202.0 424.4,202.0 423.8,202.0 423.1,202.0 422.4,202.0 421.6,202.0 420.9,202.0 420.2,202.0 419.6,202.0 418.9,202.0 418.1,202.0 417.4,202.0 416.8,202.0 416.1,202.0 415.4,202.0 414.6,202.0 413.9,202.0 413.2,202.0 412.6,202.0 411.9,202.0 411.1,202.0 410.4,202.0 409.8,202.0 409.1,202.0 408.4,202.0 407.6,202.0 406.9,202.0 406.2,202.0 405.6,202.0 404.9,202.0 404.1,202.0 403.4,202.0 403.1,202.0 403.1,201.4 403.1,200.8 403.1,200.0 403.1,199.4 403.1,199.0 403.2,198.3 403.3,197.6 403.4,197.0 403.6,196.5 403.8,195.8 403.9,195.5 404.1,194.8 404.3,194.4 404.5,193.8 404.6,193.4 404.8,192.7 404.9,192.2 404.9,191.6 404.9,190.9 404.9,190.2 404.8,189.9 404.7,189.2 404.5,188.6 404.4,188.1 404.1,187.5 404.0,187.1 403.8,186.4 403.7,186.0 403.5,185.3 403.4,185.0 403.2,184.3 403.1,183.6 403.1,183.2 403.0,182.5 403.0,181.8 403.1,181.1 403.1,180.7 403.2,180.1 403.3,179.4 403.4,178.7 403.4,178.0 403.5,177.6 403.6,176.9 403.7,176.2 403.8,175.5 403.8,175.2 404.0,174.5 404.1,173.8 404.2,173.4 404.4,172.8 404.5,172.2 404.6,171.7 404.8,171.0 404.9,170.6 405.0,169.9 405.2,169.2 405.3,168.9 405.5,168.2 405.6,167.8 405.7,167.1 405.9,166.7 406.1,166.1 406.2,165.7 406.5,165.0 406.7,164.7 406.9,164.2 407.2,163.6 407.4,163.3 407.6,162.9 408.0,162.2 408.2,161.9 408.4,161.5 408.6,160.8 408.8,160.5 409.0,159.8 409.1,159.4 409.3,158.8 409.3,158.0 409.4,157.3 409.4,157.0 409.4,156.3 409.4,155.6 409.4,154.9 409.5,154.2 409.4,153.5 409.4,152.8 409.4,152.1 409.4,151.4 409.4,150.7 409.5,150.0 409.6,149.3 409.7,148.6 409.8,148.2 409.9,147.6 410.0,146.8 410.1,146.1 410.1,145.4 410.0,144.8 410.0,144.1 409.9,143.3 409.8,142.6 409.8,142.0 409.7,141.6 409.7,140.9 409.7,140.2 409.6,139.5 409.6,138.8 409.6,138.1 409.6,137.4 409.5,136.7 409.6,136.0 409.6,135.3 409.6,134.6 409.7,133.9 409.8,133.4 409.8,132.8 409.9,132.1 409.9,131.4 409.9,130.8 409.8,130.1 409.8,129.3 409.7,129.0 409.6,128.3 409.5,127.6 409.4,127.2 409.3,126.5 409.3,125.8 409.3,125.1 409.3,124.4 409.3,123.8 409.4,123.0 409.4,122.5 409.4,122.0 409.5,121.3 409.5,120.6 409.5,119.9 409.5,119.2 409.5,118.5 409.5,117.8 409.5,117.1 409.5,116.4 409.5,115.7 409.5,115.0 409.5,114.3 409.5,113.6 409.4,112.9 409.4,112.2 409.4,111.5 409.4,110.8 409.5,110.1 409.6,109.4 409.7,108.7 409.8,108.3 410.0,107.6 410.1,107.2 410.3,106.6 410.4,105.9 410.5,105.5 410.7,104.8 410.7,104.1 410.7,103.4 410.6,102.8 410.4,102.1 410.4,101.7 410.2,101.0 410.1,100.4 410.0,99.9 409.9,99.2 409.9,98.5 409.9,97.8 409.9,97.1 410.0,96.4 410.1,95.9 410.2,95.4 410.3,94.7 410.3,94.0 410.3,93.3 410.3,92.6 410.1,91.9 410.1,91.5 409.9,90.8 409.8,90.4 409.6,89.8 409.4,89.1 409.3,88.8 409.2,88.0 409.1,87.3 409.1,86.7 409.1,85.9 409.1,85.2 409.2,84.5 409.2,83.8 409.1,83.2 409.1,82.6 408.9,82.1 408.7,81.5 408.5,81.0 408.3,80.7 408.0,80.2 407.7,79.7 407.5,79.3 407.3,78.9 406.9,78.3 406.8,77.9 406.6,77.3 406.5,76.8 406.3,76.2 406.2,75.8 406.1,75.1 405.9,74.4 405.8,74.0 405.6,73.6 405.2,73.1 404.9,72.7 404.5,72.4 404.1,72.2 403.8,71.9 403.4,71.6 402.9,71.2 402.5,70.9 402.1,70.5 401.7,70.2 401.4,69.9 401.0,69.5 400.8,69.2 400.5,68.8 400.3,68.4 400.0,67.8 399.8,67.4 399.6,66.7 399.6,66.3 399.5,65.7 399.5,64.9 399.5,64.2 399.6,63.6 399.7,63.2 399.9,62.5 400.0,62.1 400.3,61.6 400.6,61.1 400.8,60.8 401.1,60.4 401.4,60.0 401.7,59.6 402.1,59.3 402.4,59.0 402.8,58.6 403.3,58.3 403.8,58.0 404.1,57.8 404.5,57.6 405.2,57.2 405.6,57.1 406.0,56.9 406.6,56.7 406.9,56.5 407.6,56.3 408.4,56.2 408.7,56.1 409.4,56.1 410.1,56.0 410.8,56.0 411.5,56.1 412.2,56.1 412.9,56.1 413.6,56.1 414.3,56.1 415.0,56.1 415.7,56.1 416.4,56.1 417.1,56.1 417.8,56.1 418.5,56.1 419.2,56.1 419.9,56.2 420.2,56.2 420.9,56.3 421.6,56.4 422.2,56.5 422.7,56.6 423.4,56.8 423.8,56.9 424.4,57.0 425.1,57.2 425.5,57.3 426.2,57.5 426.7,57.6 427.2,57.7 427.9,58.0 428.3,58.1 428.7,58.3 429.4,58.6 429.7,58.9 430.1,59.2 430.4,59.5 430.8,60.0 431.1,60.4 431.3,60.8 431.4,61.1 431.7,61.8 431.9,62.1 432.1,62.8 432.1,63.3 432.2,63.9 432.3,64.6 432.3,65.3 432.2,66.0 432.1,66.4 432.0,67.0 431.8,67.7 431.6,68.1 431.4,68.5 431.1,69.2 430.9,69.5 430.7,69.8 430.4,70.2 430.1,70.7 429.7,71.2 429.4,71.6 429.2,71.9 429.0,72.3 428.7,73.0 428.6,73.6 428.6,73.8 428.7,74.4 428.9,75.1 429.0,75.4 429.3,76.2 429.5,76.5 429.7,76.8 430.1,77.4 430.4,77.9 430.6,78.2 430.8,78.6 431.1,79.2 431.3,79.7 431.4,80.1 431.6,80.7 431.8,81.3 431.9,81.8 432.0,82.4 432.0,83.2 432.0,83.8 432.0,84.5 431.9,85.2 431.9,85.9 431.9,86.7 431.9,87.3 431.9,88.0 432.0,88.8 432.1,89.4 432.2,89.8 432.3,90.5 432.4,91.2 432.5,91.9 432.5,92.2 432.6,93.0 432.7,93.6 432.8,94.3 432.8,95.0 432.8,95.8 432.8,96.4 432.7,97.1 432.6,97.8 432.5,98.5 432.5,98.9 432.3,99.6 432.2,100.3 432.1,100.6 431.9,101.3 431.8,101.8 431.6,102.4 431.4,102.8 431.2,103.4 431.0,103.8 430.8,104.5 430.7,104.8 430.5,105.5 430.4,106.2 430.4,106.9 430.4,107.2 430.4,107.6 430.5,108.3 430.5,109.0 430.6,109.8 430.7,110.4 430.7,111.1 430.8,111.8 430.8,112.2 430.8,112.9 430.8,113.6 430.8,114.3 430.9,115.0 430.9,115.7 431.0,116.4 431.0,117.1 431.1,117.8 431.1,118.1 431.2,118.8 431.2,119.5 431.2,120.2 431.2,120.9 431.1,121.6 431.1,122.0 431.0,122.7 431.0,123.4 431.0,124.1 430.9,124.8 430.9,125.5 430.9,126.2 430.9,126.9 430.9,127.6 430.8,128.3 430.8,128.7 430.7,129.3 430.6,130.1 430.5,130.8 430.4,131.2 430.3,131.8 430.2,132.5 430.1,133.2 430.0,133.6 429.9,134.2 429.8,134.9 429.7,135.3 429.5,136.0 429.4,136.5 429.2,137.1 429.0,137.5 428.7,138.1 428.6,138.4 428.3,139.0 428.1,139.5 427.9,139.8 427.6,140.6 427.5,140.9 427.3,141.6 427.2,142.2 427.2,142.6 427.2,143.3 427.3,143.7 427.3,144.4 427.4,145.1 427.5,145.8 427.6,146.3 427.7,146.8 427.8,147.6 427.9,148.2 428.0,148.6 428.0,149.3 428.1,150.0 428.1,150.7 428.1,151.4 428.2,152.1 428.2,152.8 428.3,153.2 428.4,153.8 428.6,154.6 428.8,154.9 429.0,155.5 429.2,155.9 429.4,156.3 429.7,156.9 430.0,157.3 430.3,157.7 430.7,158.0 431.1,158.4 431.4,158.6 431.9,158.8 432.5,158.9 433.2,159.1 433.6,159.1 434.2,159.2 434.9,159.3 435.6,159.3 436.4,159.3 437.1,159.2 437.8,159.1 438.1,159.1 438.8,158.9 439.1,158.7 439.9,158.5 440.2,158.3 440.7,158.0 441.2,157.8 441.6,157.6 442.1,157.3 442.6,157.0 443.0,156.8 443.4,156.6 444.0,156.3 444.4,156.1 444.8,155.9 445.4,155.6 445.8,155.5 446.3,155.2 446.9,155.0 447.2,154.9 447.9,154.6 448.2,154.4 448.6,154.2 449.1,153.8 449.5,153.5 449.9,153.1 450.2,152.8 450.5,152.4 450.8,152.1 451.1,151.8 451.4,151.4 451.8,151.0 452.1,150.5 452.4,150.0 452.7,149.6 453.0,149.3 453.3,148.9 453.6,148.6 453.9,148.2 454.2,147.8 454.6,147.4 454.9,147.0 455.2,146.7 455.6,146.3 455.9,146.0 456.3,145.6 456.6,145.3 457.0,145.0 457.4,144.7 457.8,144.4 458.2,144.1 458.6,143.7 459.0,143.3 459.4,143.0 459.8,142.7 460.1,142.4 460.5,142.2 460.9,141.9 461.2,141.6 461.7,141.2 462.1,140.9 462.6,140.6 462.9,140.3 463.3,140.1 463.6,139.8 464.1,139.5 464.7,139.1 465.0,138.9 465.4,138.7 465.8,138.4 466.4,138.1 466.8,137.8 467.1,137.6 467.6,137.4 468.2,137.1 468.5,136.9 468.9,136.7 469.6,136.4 469.9,136.2 470.3,136.0 471.0,135.7 471.4,135.5 471.9,135.3 472.4,135.1 472.8,134.9 473.4,134.7 473.8,134.6 474.5,134.3 474.9,134.2 475.5,134.0 475.9,133.8 476.6,133.6 476.9,133.5 477.6,133.3 478.2,133.2 478.7,133.1 479.4,133.1 480.1,133.1 480.4,133.2 481.1,133.5 481.5,133.6 481.9,133.9 482.4,134.2 482.7,134.6 483.1,134.9 483.4,135.3 483.7,135.6 484.0,136.0 484.3,136.3 484.7,136.7 485.1,137.1 485.4,137.4 485.8,137.8 486.2,138.1 486.6,138.4 486.9,138.8 487.2,139.1 487.5,139.5 487.8,140.2 487.9,140.6 488.1,141.2 488.1,141.9 488.2,142.3 488.2,143.0 488.1,143.3 488.1,144.1 488.0,144.8 487.8,145.4 487.8,145.8 487.6,146.5 487.4,147.0 487.3,147.6 487.1,148.2 487.0,148.6 486.8,149.3 486.6,149.6 486.4,150.2 486.2,150.7 486.0,151.1 485.7,151.8 485.6,152.1 485.4,152.5 485.0,153.1 484.8,153.5 484.6,153.8 484.3,154.5 484.1,154.9 483.9,155.2 483.6,155.7 483.3,156.3 483.1,156.7 482.9,157.0 482.5,157.5 482.2,158.0 482.0,158.4 481.8,158.8 481.5,159.2 481.1,159.7 480.9,160.2 480.7,160.5 480.4,160.8 480.1,161.3 479.8,161.8 479.5,162.2 479.2,162.6 479.0,162.9 478.7,163.3 478.4,163.8 478.0,164.3 477.8,164.7 477.5,165.0 477.3,165.5 477.0,166.1 476.9,166.4 476.8,167.1 476.6,167.8 476.6,168.2 476.4,168.9 476.2,169.5 476.1,169.9 475.9,170.5 475.7,171.0 475.5,171.4 475.2,172.0 475.0,172.4 474.8,172.8 474.5,173.2 474.1,173.7 473.8,174.1 473.5,174.5 473.1,174.8 472.8,175.2 472.4,175.5 472.0,175.8 471.7,176.0 471.4,176.3 470.9,176.6 470.4,176.9 469.9,177.3 469.6,177.5 469.2,177.7 468.7,178.0 468.2,178.3 467.9,178.5 467.4,178.7 466.8,179.0 466.4,179.2 466.0,179.4 465.4,179.7 465.0,179.9 464.7,180.1 464.1,180.4 463.6,180.7 463.3,180.9 462.9,181.1 462.4,181.5 461.9,181.8 461.6,182.0 461.2,182.3 460.8,182.5 460.2,182.9 459.8,183.2 459.4,183.4 459.1,183.6 458.6,183.9 458.1,184.3 457.7,184.5 457.4,184.7 456.9,185.0 456.3,185.3 455.9,185.5 455.6,185.7 455.0,186.0 454.6,186.3 454.2,186.5 453.8,186.8 453.2,187.1 452.8,187.3 452.4,187.5 451.9,187.8 451.4,188.1 451.1,188.3 450.7,188.5 450.1,188.8 449.6,189.1 449.3,189.4 448.9,189.6 448.6,189.9 448.2,190.2 447.8,190.6 447.5,190.9 447.2,191.4 446.9,191.9 446.5,192.3 446.3,192.7 446.1,193.0 445.8,193.4 445.4,193.9 445.1,194.4 444.8,194.8 444.5,195.1 444.3,195.5 444.0,195.8 443.7,196.2 443.4,196.7 443.0,197.2 442.8,197.6 442.6,197.9 442.3,198.5 442.1,199.0 441.9,199.3 441.8,200.0 441.7,200.8 441.6,201.4 441.6,201.8 441.2,202.0 441.2,202.0 M438.8,202.0 438.1,202.0 437.4,202.0 436.7,202.0 436.0,202.0 435.3,202.0 434.6,202.0 433.9,202.0 433.2,202.0 432.5,202.0 431.8,202.0 431.1,202.0 430.4,202.0 429.7,202.0 429.0,202.0 428.3,202.0 427.6,202.0 426.9,202.0 426.2,202.0 425.5,202.0 424.8,202.0 424.1,202.0 423.4,202.0 422.7,202.0 422.0,202.0 421.3,202.0 420.6,202.0 419.9,202.0 419.2,202.0 418.5,202.0 417.8,202.0 417.1,202.0 416.4,202.0 415.7,202.0 415.0,202.0 414.3,202.0 413.6,202.0 412.9,202.0 412.2,202.0 411.5,202.0 410.8,202.0 410.1,202.0 409.4,202.0 408.7,202.0 408.0,202.0 407.3,202.0 406.6,202.0 405.9,202.0 405.2,202.0 405.1,201.8 405.2,201.1 405.2,200.4 405.2,200.0 405.3,199.3 405.4,198.6 405.6,198.2 405.7,197.6 405.9,197.2 406.1,196.5 406.3,196.2 406.6,195.5 406.7,195.1 406.9,194.6 407.1,194.1 407.3,193.4 407.4,193.0 407.5,192.3 407.5,191.6 407.5,190.9 407.4,190.2 407.3,189.8 407.2,189.2 406.9,188.5 406.8,188.1 406.6,187.5 406.4,187.1 406.2,186.6 406.0,186.0 405.9,185.7 405.6,185.0 405.5,184.6 405.3,183.9 405.2,183.4 405.1,182.9 405.0,182.2 405.0,181.5 405.0,180.8 405.0,180.1 405.1,179.4 405.1,178.7 405.2,178.0 405.2,177.6 405.3,176.9 405.4,176.2 405.5,175.5 405.6,175.2 405.7,174.5 405.9,173.9 406.0,173.4 406.2,172.8 406.4,172.4 406.6,171.9 406.8,171.3 406.9,170.9 407.2,170.3 407.3,169.9 407.5,169.2 407.7,168.9 407.9,168.2 408.0,167.8 408.2,167.1 408.4,166.8 408.7,166.1 408.8,165.8 409.1,165.3 409.4,164.7 409.6,164.3 409.8,164.0 410.1,163.4 410.4,162.9 410.5,162.6 410.8,162.0 411.0,161.5 411.1,161.2 411.4,160.5 411.5,160.2 411.7,159.4 411.9,159.0 412.0,158.4 412.0,157.7 412.1,157.0 412.2,156.5 412.3,155.9 412.4,155.2 412.5,154.6 412.6,154.2 412.8,153.5 412.9,153.0 413.1,152.4 413.2,152.1 413.6,151.4 413.8,151.1 414.1,150.7 414.4,150.3 414.7,150.0 415.0,149.6 415.4,149.2 415.6,148.6 415.7,147.9 415.7,147.6 415.8,146.8 415.8,146.1 415.7,145.7 415.6,145.1 415.4,144.4 415.3,144.1 415.0,143.4 414.8,143.0 414.6,142.6 414.3,142.1 414.0,141.6 413.9,141.2 413.6,140.6 413.5,140.2 413.3,139.5 413.2,139.1 413.1,138.4 412.9,137.8 412.9,137.4 412.7,136.7 412.6,136.0 412.6,135.3 412.5,134.9 412.5,134.2 412.6,133.8 412.6,133.2 412.7,132.5 412.7,131.8 412.8,131.1 412.9,130.4 412.9,130.1 412.9,129.4 412.9,129.0 412.8,128.3 412.8,127.6 412.7,126.9 412.6,126.2 412.6,125.5 412.5,125.1 412.5,124.4 412.5,123.8 412.6,123.1 412.6,122.7 412.6,122.0 412.7,121.3 412.7,120.6 412.7,119.9 412.7,119.2 412.7,118.5 412.6,117.8 412.5,117.4 412.4,116.8 412.4,116.0 412.3,115.3 412.3,114.6 412.3,113.9 412.4,113.2 412.5,112.5 412.6,112.0 412.7,111.5 412.9,110.8 413.0,110.4 413.2,109.8 413.4,109.4 413.6,109.0 413.9,108.4 414.2,108.0 414.4,107.6 414.6,107.3 415.0,106.7 415.2,106.2 415.4,105.9 415.6,105.2 415.7,104.8 415.7,104.2 415.6,103.8 415.4,103.1 415.2,102.8 415.0,102.3 414.7,101.7 414.6,101.3 414.4,100.6 414.3,100.3 414.2,99.6 414.2,98.9 414.3,98.4 414.4,97.8 414.6,97.1 414.7,96.8 415.0,96.1 415.1,95.8 415.3,95.0 415.4,94.7 415.5,94.0 415.5,93.3 415.5,92.6 415.4,91.9 415.4,91.5 415.2,90.8 415.0,90.2 414.9,89.8 414.7,89.1 414.6,88.8 414.5,88.0 414.4,87.3 414.3,86.7 414.4,85.9 414.4,85.2 414.5,84.5 414.5,83.8 414.5,83.2 414.4,82.4 414.3,81.8 414.2,81.4 414.1,80.7 413.9,80.0 413.9,79.7 413.7,78.9 413.6,78.4 413.5,77.9 413.4,77.2 413.3,76.5 413.2,76.1 413.1,75.4 412.9,75.1 412.6,74.6 412.2,74.3 411.8,74.0 411.1,73.7 410.8,73.6 410.3,73.3 409.8,73.2 409.3,73.0 408.7,72.8 408.4,72.6 407.6,72.3 407.3,72.2 406.8,71.9 406.2,71.7 405.9,71.5 405.5,71.2 404.9,70.9 404.5,70.6 404.1,70.4 403.8,70.1 403.4,69.8 403.1,69.5 402.7,69.2 402.4,68.8 402.1,68.3 401.7,67.8 401.6,67.4 401.4,66.7 401.2,66.3 401.1,65.7 401.1,64.9 401.1,64.2 401.2,63.5 401.3,62.8 401.5,62.5 401.7,62.0 402.0,61.4 402.3,61.1 402.5,60.8 402.9,60.4 403.2,60.0 403.7,59.7 404.1,59.4 404.5,59.2 404.9,59.0 405.5,58.6 405.9,58.5 406.4,58.3 406.9,58.1 407.5,58.0 408.0,57.8 408.7,57.7 409.1,57.6 409.8,57.5 410.4,57.4 411.1,57.4 411.9,57.4 412.6,57.3 413.2,57.3 413.9,57.3 414.6,57.3 415.4,57.3 416.1,57.3 416.8,57.3 417.4,57.3 418.1,57.3 418.9,57.3 419.6,57.3 420.2,57.4 420.9,57.5 421.6,57.6 422.0,57.6 422.7,57.8 423.3,58.0 423.8,58.1 424.4,58.3 424.8,58.4 425.5,58.6 425.9,58.8 426.4,59.0 426.9,59.2 427.2,59.4 427.7,59.7 428.2,60.0 428.6,60.4 429.0,60.7 429.3,61.1 429.6,61.4 429.8,61.8 430.1,62.3 430.2,62.8 430.4,63.4 430.5,63.9 430.6,64.6 430.6,65.3 430.5,66.0 430.4,66.7 430.4,67.0 430.1,67.8 429.9,68.1 429.7,68.5 429.4,69.0 429.0,69.5 428.6,69.8 428.3,70.2 427.9,70.5 427.6,70.8 427.2,71.0 426.9,71.3 426.4,71.6 426.0,71.9 425.5,72.3 425.1,72.6 424.8,73.0 424.6,73.3 424.4,73.7 424.4,74.4 424.4,74.9 424.5,75.4 424.7,76.2 424.8,76.5 425.0,77.2 425.1,77.8 425.3,78.2 425.5,78.9 425.5,79.3 425.7,80.0 425.9,80.6 425.9,81.0 426.1,81.8 426.2,82.4 426.2,82.8 426.3,83.5 426.4,84.2 426.5,84.9 426.5,85.6 426.6,85.9 426.6,86.7 426.7,87.3 426.8,88.0 426.9,88.5 427.0,89.1 427.2,89.8 427.3,90.2 427.4,90.8 427.6,91.5 427.7,91.9 427.9,92.6 428.0,93.0 428.1,93.6 428.2,94.3 428.3,94.9 428.4,95.4 428.4,96.1 428.4,96.8 428.3,97.3 428.2,97.8 428.0,98.5 427.9,98.9 427.6,99.6 427.5,99.9 427.2,100.5 427.0,101.0 426.8,101.3 426.6,101.9 426.3,102.4 426.2,102.8 426.0,103.4 425.9,104.1 426.0,104.8 426.2,105.5 426.4,105.9 426.6,106.3 426.9,106.9 427.1,107.3 427.3,107.6 427.6,108.2 427.9,108.7 428.0,109.0 428.3,109.8 428.4,110.1 428.6,110.8 428.7,111.1 428.8,111.8 428.9,112.5 428.9,113.2 429.0,113.9 429.0,114.6 429.0,115.0 429.0,115.7 429.0,116.4 429.0,117.1 429.0,117.8 429.0,118.2 429.0,118.8 428.9,119.5 428.8,120.2 428.7,120.9 428.6,121.3 428.5,122.0 428.4,122.7 428.4,123.4 428.4,124.1 428.4,124.8 428.5,125.5 428.5,126.2 428.6,126.9 428.6,127.6 428.6,128.3 428.5,129.0 428.5,129.7 428.4,130.4 428.3,130.8 428.2,131.4 428.1,132.1 428.0,132.8 427.9,133.2 427.7,133.9 427.6,134.3 427.4,134.9 427.2,135.3 426.9,136.0 426.7,136.3 426.5,136.7 426.2,137.2 425.9,137.8 425.6,138.1 425.4,138.4 425.1,138.8 424.8,139.4 424.6,139.8 424.4,140.2 424.2,140.9 424.1,141.6 424.1,141.9 424.0,142.6 424.1,143.3 424.1,144.1 424.1,144.6 424.1,145.1 424.1,145.8 424.1,146.5 424.1,146.8 424.1,147.6 424.0,148.2 424.0,148.9 424.1,149.5 424.2,150.0 424.3,150.7 424.4,151.4 424.5,151.8 424.7,152.4 424.8,152.9 425.0,153.5 425.2,153.8 425.5,154.5 425.7,154.9 425.9,155.2 426.2,155.8 426.5,156.3 426.7,156.7 426.9,157.0 427.2,157.6 427.5,158.0 427.7,158.4 428.0,158.8 428.3,159.1 428.6,159.5 429.0,159.8 429.4,160.2 430.1,160.5 430.4,160.6 431.0,160.8 431.4,161.0 432.1,161.1 432.9,161.1 433.6,161.2 434.2,161.2 434.9,161.2 435.6,161.1 436.4,161.0 437.1,160.9 437.4,160.8 438.1,160.6 438.4,160.5 439.1,160.2 439.5,160.1 440.2,159.8 440.6,159.6 440.9,159.4 441.6,159.1 441.9,158.9 442.3,158.7 442.9,158.4 443.4,158.1 443.7,158.0 444.2,157.7 444.8,157.5 445.1,157.3 445.8,157.0 446.1,156.9 446.7,156.7 447.2,156.5 447.6,156.3 448.2,156.0 448.6,155.8 448.9,155.5 449.3,155.2 449.6,154.9 450.0,154.5 450.4,154.1 450.7,153.7 451.1,153.2 451.4,152.8 451.6,152.4 451.9,152.1 452.1,151.8 452.4,151.3 452.8,150.8 453.1,150.3 453.3,150.0 453.6,149.6 453.9,149.3 454.2,148.9 454.6,148.4 454.9,148.0 455.2,147.6 455.6,147.2 455.9,146.9 456.3,146.5 456.6,146.2 457.0,145.9 457.4,145.6 457.7,145.3 458.1,145.0 458.4,144.7 458.8,144.4 459.2,144.1 459.6,143.7 460.1,143.3 460.5,143.0 460.9,142.7 461.2,142.4 461.6,142.2 461.9,141.9 462.3,141.6 462.8,141.2 463.3,140.9 463.6,140.7 464.0,140.5 464.4,140.2 465.0,139.8 465.4,139.6 465.8,139.4 466.2,139.1 466.8,138.9 467.1,138.7 467.6,138.4 468.2,138.2 468.5,138.0 469.2,137.8 469.6,137.6 470.1,137.4 470.6,137.2 471.2,137.1 471.7,136.9 472.4,136.7 472.8,136.7 473.4,136.5 474.1,136.4 474.8,136.3 475.2,136.3 475.9,136.3 476.6,136.2 477.3,136.2 478.0,136.2 478.7,136.2 479.4,136.2 480.1,136.3 480.4,136.4 481.1,136.5 481.6,136.7 482.2,136.9 482.6,137.1 483.2,137.4 483.6,137.5 484.0,137.8 484.5,138.1 485.0,138.4 485.4,138.7 485.7,138.9 486.0,139.3 486.4,139.6 486.8,140.0 487.1,140.6 487.2,140.9 487.4,141.6 487.5,141.9 487.6,142.6 487.6,143.3 487.5,144.1 487.5,144.8 487.4,145.1 487.3,145.8 487.1,146.5 487.1,146.8 486.9,147.6 486.8,148.0 486.6,148.6 486.4,149.1 486.2,149.6 486.0,150.1 485.8,150.7 485.6,151.1 485.4,151.7 485.2,152.1 485.0,152.5 484.6,153.1 484.5,153.5 484.3,153.8 483.9,154.5 483.7,154.9 483.5,155.2 483.2,155.7 482.9,156.3 482.7,156.7 482.5,157.0 482.2,157.5 481.9,158.0 481.6,158.4 481.4,158.8 481.1,159.2 480.8,159.7 480.5,160.2 480.3,160.5 480.1,160.8 479.8,161.3 479.4,161.8 479.1,162.2 478.8,162.6 478.6,162.9 478.3,163.3 478.0,163.8 477.6,164.2 477.3,164.7 477.1,165.0 476.8,165.4 476.6,165.8 476.2,166.3 475.9,166.8 475.8,167.1 475.5,167.7 475.4,168.2 475.2,168.9 475.1,169.2 474.9,169.9 474.7,170.3 474.5,170.7 474.2,171.3 474.0,171.7 473.7,172.0 473.4,172.5 473.1,172.9 472.8,173.3 472.4,173.7 472.0,174.0 471.7,174.4 471.4,174.6 471.0,174.9 470.6,175.2 470.2,175.5 469.7,175.9 469.2,176.2 468.9,176.4 468.5,176.6 468.0,176.9 467.5,177.2 467.1,177.4 466.7,177.6 466.1,177.9 465.8,178.1 465.4,178.3 464.8,178.7 464.4,179.0 464.0,179.2 463.6,179.5 463.3,179.8 462.8,180.1 462.3,180.4 461.9,180.8 461.6,181.1 461.2,181.3 460.9,181.6 460.5,181.9 460.0,182.2 459.5,182.5 459.1,182.9 458.8,183.1 458.4,183.3 458.0,183.6 457.4,183.9 457.0,184.2 456.6,184.4 456.3,184.6 455.7,185.0 455.2,185.2 454.9,185.4 454.4,185.7 453.9,186.0 453.5,186.1 453.0,186.4 452.4,186.7 452.1,186.8 451.4,187.1 451.1,187.3 450.6,187.4 450.0,187.7 449.6,187.8 448.9,188.0 448.4,188.1 447.9,188.3 447.3,188.5 446.9,188.7 446.5,188.9 446.1,189.2 445.7,189.5 445.3,189.9 445.0,190.2 444.8,190.7 444.4,191.2 444.1,191.6 443.8,192.0 443.6,192.3 443.3,192.7 443.0,193.1 442.6,193.5 442.3,193.9 441.9,194.3 441.6,194.7 441.2,195.0 440.9,195.5 440.6,195.8 440.3,196.2 440.1,196.5 439.9,197.0 439.6,197.6 439.4,197.9 439.2,198.6 439.1,199.0 439.1,199.7 439.0,200.4 439.0,201.1 439.0,201.8 438.8,202.0 438.8,202.0 M421.3,72.3 420.6,72.5 419.9,72.5 419.2,72.6 418.5,72.6 417.8,72.6 417.1,72.6 416.4,72.6 415.7,72.6 415.0,72.5 414.3,72.5 413.6,72.5 412.9,72.4 412.2,72.3 411.9,72.3 411.1,72.2 410.4,72.0 410.1,71.9 409.4,71.8 408.9,71.6 408.4,71.4 408.0,71.2 407.3,71.0 406.9,70.8 406.5,70.5 405.9,70.2 405.6,70.0 405.2,69.7 404.9,69.4 404.5,69.1 404.1,68.8 403.8,68.4 403.4,67.9 403.1,67.4 403.0,67.0 402.8,66.5 402.6,66.0 402.5,65.3 402.5,64.6 402.5,63.9 402.6,63.2 402.8,62.8 403.1,62.1 403.3,61.8 403.5,61.4 403.8,61.1 404.2,60.8 404.7,60.4 405.2,60.0 405.6,59.8 405.9,59.6 406.6,59.3 406.9,59.2 407.5,59.0 408.0,58.9 408.7,58.7 409.1,58.6 409.8,58.5 410.4,58.4 411.1,58.3 411.5,58.3 412.2,58.2 412.9,58.2 413.6,58.2 414.3,58.2 415.0,58.2 415.7,58.1 416.4,58.1 417.1,58.1 417.8,58.1 418.5,58.1 419.2,58.1 419.9,58.2 420.6,58.3 420.9,58.3 421.6,58.5 422.4,58.6 422.7,58.7 423.4,58.9 423.8,59.1 424.4,59.3 424.8,59.5 425.2,59.7 425.9,60.0 426.2,60.3 426.6,60.5 426.9,60.8 427.3,61.1 427.6,61.4 427.9,61.9 428.3,62.4 428.5,62.8 428.7,63.2 428.9,63.9 429.0,64.5 429.0,64.9 429.1,65.7 429.0,66.3 428.9,66.7 428.7,67.4 428.6,67.8 428.3,68.2 427.9,68.7 427.6,69.1 427.2,69.5 426.9,69.8 426.6,70.0 426.2,70.3 425.8,70.5 425.2,70.9 424.8,71.1 424.4,71.3 423.8,71.6 423.4,71.7 422.8,71.9 422.4,72.1 421.6,72.3 421.3,72.3 421.3,72.3 M419.9,138.1 419.6,138.1 418.9,138.0 418.4,137.8 417.8,137.4 417.4,137.2 417.1,136.9 416.8,136.6 416.4,136.2 416.1,135.7 415.8,135.3 415.6,134.9 415.4,134.3 415.2,133.9 415.1,133.2 415.1,132.5 415.1,131.8 415.2,131.1 415.3,130.4 415.3,129.7 415.3,129.0 415.2,128.3 415.2,127.6 415.1,126.9 415.1,126.2 415.0,125.5 415.0,124.8 415.0,124.1 415.1,123.4 415.2,122.7 415.2,122.0 415.3,121.3 415.4,120.9 415.4,120.2 415.4,119.5 415.5,118.8 415.4,118.1 415.4,117.4 415.4,116.9 415.3,116.4 415.3,115.7 415.3,115.0 415.3,114.3 415.4,113.9 415.5,113.2 415.6,112.5 415.7,112.1 415.8,111.5 416.1,110.9 416.2,110.4 416.4,110.1 416.8,109.5 417.1,109.0 417.3,108.7 417.7,108.3 418.0,108.0 418.5,107.6 418.9,107.4 419.2,107.2 419.6,106.9 420.2,106.7 420.6,106.6 421.3,106.5 422.0,106.5 422.4,106.6 423.1,106.8 423.4,107.0 423.9,107.3 424.4,107.6 424.8,108.0 425.1,108.3 425.5,108.7 425.8,109.0 426.0,109.4 426.2,109.8 426.6,110.3 426.7,110.8 426.9,111.3 427.0,111.8 427.1,112.5 427.2,113.2 427.2,113.9 427.2,114.6 427.2,115.3 427.2,116.0 427.1,116.8 427.0,117.4 426.9,118.1 426.8,118.5 426.7,119.2 426.6,119.7 426.4,120.2 426.2,120.9 426.1,121.3 426.0,122.0 425.9,122.7 425.8,123.0 425.8,123.8 425.8,124.4 425.9,125.0 425.9,125.5 426.0,126.2 426.1,126.9 426.2,127.5 426.2,127.9 426.3,128.6 426.3,129.3 426.2,130.1 426.2,130.4 426.1,131.1 426.0,131.8 425.9,132.5 425.8,132.8 425.6,133.6 425.5,133.9 425.2,134.6 424.9,134.9 424.7,135.3 424.4,135.6 424.1,136.0 423.8,136.4 423.4,136.7 422.9,137.1 422.4,137.4 422.0,137.6 421.6,137.8 420.9,138.0 420.2,138.1 419.9,138.1 419.9,138.1 M436.0,202.0 435.3,202.0 434.6,202.0 433.9,202.0 433.2,202.0 432.5,202.0 431.8,202.0 431.1,202.0 430.4,202.0 429.7,202.0 429.0,202.0 428.3,202.0 427.6,202.0 426.9,202.0 426.2,202.0 425.5,202.0 424.8,202.0 424.1,202.0 423.4,202.0 422.7,202.0 422.0,202.0 421.3,202.0 420.6,202.0 419.9,202.0 419.2,202.0 418.5,202.0 417.8,202.0 417.1,202.0 416.4,202.0 415.7,202.0 415.0,202.0 414.3,202.0 413.6,202.0 412.9,202.0 412.2,202.0 411.5,202.0 410.8,202.0 410.1,202.0 409.4,202.0 408.8,202.0 408.8,201.4 408.8,200.8 408.8,200.0 408.9,199.3 409.0,198.6 409.1,198.3 409.3,197.6 409.4,197.2 409.6,196.5 409.7,195.8 409.8,195.5 409.9,194.8 409.9,194.1 410.0,193.4 409.9,192.7 409.8,192.0 409.8,191.4 409.7,190.9 409.5,190.2 409.4,189.9 409.2,189.2 409.1,188.8 408.8,188.1 408.7,187.8 408.4,187.1 408.3,186.8 408.0,186.0 407.9,185.7 407.7,185.0 407.6,184.6 407.4,183.9 407.3,183.6 407.2,182.9 407.1,182.2 407.0,181.5 407.0,180.8 406.9,180.3 406.9,179.8 406.9,179.0 406.9,178.3 407.0,178.0 407.0,177.3 407.1,176.6 407.2,175.9 407.3,175.3 407.4,174.8 407.6,174.2 407.8,173.8 408.0,173.3 408.2,172.8 408.4,172.4 408.7,171.9 409.0,171.3 409.2,171.0 409.4,170.6 409.8,170.1 410.0,169.6 410.2,169.2 410.4,168.7 410.7,168.2 410.8,167.8 411.1,167.1 411.3,166.8 411.5,166.3 411.8,165.8 411.9,165.4 412.2,164.9 412.5,164.3 412.7,164.0 412.9,163.6 413.2,162.9 413.4,162.6 413.6,162.0 413.8,161.5 413.9,161.0 414.2,160.5 414.3,160.2 414.6,159.4 414.7,159.1 414.9,158.4 415.0,158.0 415.3,157.3 415.4,157.0 415.7,156.4 416.0,155.9 416.2,155.6 416.5,155.2 416.9,154.9 417.4,154.6 417.8,154.4 418.5,154.3 419.2,154.5 419.6,154.7 419.9,154.9 420.4,155.2 420.8,155.6 421.2,155.9 421.6,156.3 422.0,156.7 422.3,157.0 422.7,157.3 423.1,157.7 423.4,158.0 423.8,158.4 424.1,158.8 424.4,159.1 424.7,159.4 425.1,159.8 425.4,160.2 425.8,160.5 426.2,160.8 426.5,161.2 426.9,161.5 427.2,161.9 427.6,162.1 427.9,162.4 428.4,162.6 429.0,162.9 429.4,163.1 430.1,163.3 430.4,163.3 431.1,163.4 431.8,163.4 432.5,163.3 432.9,163.3 433.6,163.2 434.2,163.1 434.9,163.0 435.3,162.9 436.0,162.7 436.4,162.6 437.1,162.4 437.6,162.2 438.1,162.1 438.6,161.9 439.1,161.7 439.5,161.5 440.2,161.2 440.6,161.1 441.0,160.8 441.6,160.5 441.9,160.3 442.3,160.2 442.9,159.8 443.4,159.6 443.7,159.4 444.2,159.1 444.8,158.8 445.1,158.7 445.7,158.4 446.1,158.2 446.6,158.0 447.2,157.8 447.6,157.7 448.2,157.3 448.6,157.1 448.9,156.8 449.3,156.5 449.6,156.2 450.0,155.8 450.4,155.3 450.7,154.9 450.9,154.6 451.2,154.2 451.5,153.8 451.8,153.4 452.1,152.9 452.4,152.4 452.7,152.1 452.9,151.8 453.1,151.4 453.5,150.9 453.9,150.4 454.1,150.0 454.4,149.6 454.6,149.3 454.9,148.9 455.2,148.5 455.6,148.1 455.9,147.7 456.3,147.3 456.6,147.0 457.0,146.7 457.4,146.3 457.7,146.0 458.1,145.7 458.4,145.4 458.8,145.1 459.3,144.8 459.7,144.4 460.1,144.1 460.5,143.8 460.9,143.5 461.2,143.2 461.6,143.0 461.9,142.6 462.4,142.3 462.9,141.9 463.3,141.7 463.6,141.5 464.0,141.2 464.5,140.9 465.0,140.6 465.4,140.4 465.8,140.2 466.4,139.8 466.8,139.6 467.1,139.5 467.8,139.1 468.2,139.0 468.7,138.8 469.2,138.6 469.6,138.4 470.3,138.2 470.6,138.1 471.4,137.9 472.0,137.8 472.4,137.7 473.1,137.5 473.8,137.4 474.2,137.4 474.9,137.4 475.5,137.3 476.2,137.3 476.9,137.3 477.6,137.3 478.4,137.4 478.7,137.4 479.4,137.5 480.1,137.6 480.8,137.7 481.1,137.8 481.9,137.9 482.3,138.1 482.9,138.3 483.2,138.5 483.9,138.8 484.3,139.1 484.6,139.3 485.0,139.5 485.4,139.8 485.8,140.2 486.1,140.6 486.4,141.0 486.7,141.6 486.8,141.9 486.9,142.6 487.0,143.3 487.0,144.1 486.9,144.8 486.9,145.4 486.8,146.1 486.7,146.5 486.5,147.2 486.4,147.7 486.2,148.2 486.0,148.9 485.9,149.3 485.7,149.9 485.5,150.3 485.4,150.8 485.1,151.4 484.9,151.8 484.6,152.4 484.4,152.8 484.3,153.1 483.9,153.8 483.7,154.2 483.5,154.6 483.2,155.1 482.9,155.6 482.7,155.9 482.5,156.3 482.2,156.9 481.9,157.3 481.7,157.7 481.5,158.1 481.1,158.6 480.9,159.1 480.6,159.4 480.4,159.8 480.1,160.3 479.8,160.8 479.5,161.2 479.2,161.5 479.0,161.9 478.7,162.3 478.4,162.8 478.0,163.3 477.7,163.6 477.5,164.0 477.2,164.3 476.9,164.7 476.6,165.1 476.2,165.6 475.9,166.1 475.6,166.4 475.4,166.8 475.1,167.1 474.9,167.6 474.5,168.1 474.3,168.5 474.1,168.9 473.8,169.5 473.6,169.9 473.4,170.3 473.1,170.8 472.8,171.3 472.5,171.7 472.2,172.0 471.9,172.4 471.5,172.8 471.2,173.1 470.8,173.4 470.4,173.8 470.0,174.1 469.6,174.4 469.2,174.7 468.9,174.9 468.5,175.2 468.0,175.5 467.5,175.9 467.1,176.1 466.8,176.3 466.4,176.6 465.9,176.9 465.4,177.3 465.0,177.6 464.7,177.9 464.4,178.2 464.0,178.4 463.6,178.7 463.2,179.0 462.8,179.4 462.4,179.8 462.0,180.1 461.6,180.4 461.2,180.7 460.9,181.0 460.5,181.3 460.1,181.5 459.7,181.8 459.2,182.2 458.8,182.5 458.4,182.8 458.1,183.0 457.7,183.2 457.1,183.6 456.6,183.9 456.3,184.1 455.9,184.3 455.2,184.6 454.9,184.8 454.5,185.0 453.9,185.3 453.5,185.5 453.1,185.7 452.4,186.0 452.1,186.1 451.4,186.3 451.1,186.5 450.4,186.7 449.9,186.8 449.3,186.8 448.6,186.9 447.9,186.9 447.2,186.8 446.5,186.8 445.8,186.9 445.1,187.1 444.8,187.3 444.4,187.4 443.8,187.8 443.4,188.1 443.0,188.4 442.6,188.7 442.3,189.0 441.9,189.3 441.6,189.7 441.2,190.1 440.9,190.5 440.6,190.9 440.2,191.3 439.9,191.6 439.6,192.0 439.3,192.3 439.0,192.7 438.8,193.0 438.4,193.4 438.1,193.9 437.8,194.4 437.6,194.8 437.4,195.1 437.1,195.8 436.9,196.2 436.7,196.9 436.6,197.2 436.4,197.9 436.4,198.3 436.2,199.0 436.2,199.7 436.1,200.4 436.1,201.1 436.1,201.8 436.0,202.0 436.0,202.0 M420.6,71.3 419.9,71.4 419.2,71.4 418.5,71.5 417.8,71.5 417.1,71.5 416.4,71.5 415.7,71.5 415.0,71.5 414.3,71.5 413.6,71.5 412.9,71.5 412.2,71.4 411.5,71.3 411.1,71.2 410.4,71.1 409.8,70.9 409.4,70.8 408.8,70.5 408.4,70.3 408.0,70.2 407.4,69.8 406.9,69.6 406.6,69.3 406.2,69.1 405.9,68.8 405.6,68.4 405.2,68.0 404.9,67.6 404.5,67.0 404.4,66.7 404.1,66.1 404.0,65.7 403.9,64.9 403.9,64.2 404.0,63.5 404.1,63.0 404.4,62.5 404.6,62.1 404.9,61.8 405.2,61.4 405.6,61.1 406.1,60.8 406.6,60.5 406.9,60.3 407.6,60.0 408.0,59.9 408.6,59.7 409.1,59.6 409.8,59.4 410.3,59.3 410.8,59.3 411.5,59.2 412.2,59.1 412.9,59.1 413.6,59.1 414.3,59.0 415.0,59.0 415.4,59.0 416.1,59.0 416.8,59.0 417.4,58.9 418.1,58.9 418.9,59.0 419.5,59.0 419.9,59.0 420.6,59.1 421.3,59.3 421.6,59.4 422.4,59.6 422.7,59.7 423.4,60.0 423.8,60.1 424.2,60.4 424.8,60.8 425.1,61.0 425.5,61.3 425.9,61.6 426.2,62.0 426.6,62.5 426.8,62.8 427.0,63.2 427.2,63.9 427.3,64.2 427.4,64.9 427.5,65.7 427.4,66.3 427.3,67.0 427.2,67.4 426.9,67.9 426.6,68.4 426.2,68.8 425.9,69.1 425.5,69.4 425.1,69.6 424.8,69.9 424.2,70.2 423.8,70.4 423.4,70.6 422.7,70.8 422.4,70.9 421.6,71.1 420.9,71.2 420.6,71.3 420.6,71.3 M421.6,135.0 420.9,135.2 420.2,135.3 419.6,135.2 419.0,134.9 418.5,134.6 418.1,134.3 417.8,133.9 417.6,133.6 417.4,133.1 417.3,132.5 417.3,131.8 417.4,131.1 417.4,130.4 417.4,129.7 417.4,129.0 417.3,128.3 417.3,127.6 417.3,126.9 417.3,126.2 417.3,125.5 417.3,124.8 417.4,124.1 417.4,123.5 417.5,123.0 417.6,122.3 417.7,121.6 417.8,120.9 417.8,120.6 417.8,119.9 417.8,119.2 417.8,118.5 417.8,118.1 417.7,117.4 417.7,116.8 417.6,116.0 417.6,115.3 417.6,114.6 417.7,113.9 417.7,113.2 417.8,112.7 417.9,112.2 418.0,111.5 418.1,111.1 418.5,110.4 418.7,110.1 419.0,109.8 419.4,109.4 419.9,109.1 420.2,108.9 420.9,108.7 421.3,108.7 421.9,108.7 422.4,108.8 423.1,109.0 423.4,109.2 423.8,109.5 424.1,109.8 424.4,110.2 424.8,110.7 425.0,111.1 425.1,111.5 425.3,112.2 425.3,112.9 425.4,113.6 425.4,114.3 425.3,115.0 425.3,115.7 425.1,116.4 425.1,116.8 424.9,117.4 424.8,117.8 424.6,118.5 424.4,118.8 424.2,119.5 424.1,119.9 423.8,120.6 423.7,120.9 423.5,121.6 423.4,122.3 423.4,122.7 423.3,123.4 423.4,124.1 423.4,124.4 423.5,125.1 423.6,125.8 423.7,126.5 423.8,126.9 423.9,127.6 424.0,128.3 424.1,129.0 424.1,129.7 424.1,130.4 424.0,131.1 423.9,131.8 423.8,132.5 423.7,132.8 423.4,133.5 423.1,133.9 422.8,134.2 422.4,134.6 422.0,134.9 421.6,135.0 421.6,135.0 M432.5,202.0 431.8,202.0 431.1,202.0 430.4,202.0 429.7,202.0 429.0,202.0 428.3,202.0 427.6,202.0 426.9,202.0 426.2,202.0 425.5,202.0 424.8,202.0 424.1,202.0 423.4,202.0 422.7,202.0 422.0,202.0 421.3,202.0 420.6,202.0 419.9,202.0 419.2,202.0 418.5,202.0 417.8,202.0 417.1,202.0 416.4,202.0 415.7,202.0 415.0,202.0 414.3,202.0 413.6,202.0 412.9,202.0 412.2,202.0 412.2,201.8 412.2,201.4 412.3,200.8 412.4,200.0 412.5,199.3 412.6,199.0 412.8,198.3 412.9,197.9 413.1,197.2 413.2,196.6 413.3,196.2 413.3,195.5 413.3,194.8 413.2,194.4 413.0,193.8 412.8,193.4 412.6,192.7 412.4,192.3 412.2,191.9 411.9,191.3 411.8,190.9 411.5,190.4 411.3,189.9 411.1,189.5 410.9,188.8 410.7,188.5 410.4,187.9 410.3,187.4 410.1,187.0 409.9,186.4 409.8,186.0 409.5,185.3 409.4,184.9 409.2,184.3 409.1,183.6 409.0,183.2 408.9,182.5 408.8,181.8 408.8,181.1 408.8,180.4 408.7,179.8 408.7,179.0 408.7,178.3 408.7,177.6 408.8,176.9 408.9,176.2 409.0,175.5 409.1,175.2 409.3,174.5 409.5,174.1 409.8,173.6 410.0,173.1 410.3,172.8 410.5,172.4 410.8,172.0 411.1,171.6 411.5,171.1 411.9,170.7 412.2,170.3 412.5,169.9 412.7,169.6 413.0,169.2 413.2,168.8 413.6,168.3 413.8,167.8 414.0,167.5 414.3,167.0 414.6,166.4 414.7,166.1 415.0,165.6 415.3,165.0 415.5,164.7 415.7,164.3 416.0,163.6 416.2,163.3 416.4,162.8 416.6,162.2 416.8,161.9 417.1,161.2 417.3,160.8 417.6,160.5 418.0,160.2 418.5,159.8 418.9,159.7 419.6,159.7 419.9,159.8 420.6,160.1 420.9,160.3 421.3,160.5 421.8,160.8 422.2,161.2 422.5,161.5 422.8,161.9 423.2,162.2 423.6,162.6 424.0,162.9 424.4,163.3 424.8,163.6 425.1,163.8 425.5,164.0 426.0,164.3 426.6,164.7 426.9,164.9 427.3,165.0 427.9,165.3 428.3,165.4 429.0,165.6 429.7,165.6 430.4,165.6 431.1,165.5 431.7,165.4 432.1,165.3 432.9,165.1 433.2,165.0 433.9,164.8 434.4,164.7 434.9,164.5 435.6,164.3 436.0,164.2 436.7,164.0 437.1,163.9 437.7,163.6 438.1,163.5 438.6,163.3 439.1,163.1 439.5,162.9 440.2,162.6 440.6,162.5 441.0,162.2 441.6,162.0 441.9,161.8 442.4,161.5 443.0,161.2 443.4,161.0 443.7,160.8 444.3,160.5 444.8,160.2 445.1,160.1 445.6,159.8 446.1,159.6 446.5,159.4 447.2,159.1 447.6,158.9 447.9,158.8 448.5,158.4 448.9,158.0 449.3,157.7 449.6,157.4 450.0,157.0 450.2,156.7 450.5,156.3 450.8,155.9 451.1,155.6 451.4,155.1 451.8,154.6 452.0,154.2 452.2,153.8 452.5,153.5 452.8,153.0 453.1,152.5 453.4,152.1 453.6,151.8 453.9,151.4 454.2,150.9 454.6,150.4 454.8,150.0 455.1,149.6 455.4,149.3 455.6,148.9 455.9,148.6 456.3,148.2 456.6,147.8 457.0,147.5 457.4,147.1 457.7,146.8 458.1,146.5 458.5,146.1 458.9,145.8 459.3,145.4 459.8,145.1 460.1,144.8 460.5,144.5 460.9,144.3 461.2,144.0 461.6,143.7 462.0,143.3 462.5,143.0 462.9,142.7 463.3,142.4 463.6,142.2 464.0,141.9 464.6,141.6 465.0,141.3 465.4,141.1 465.8,140.9 466.4,140.6 466.8,140.4 467.2,140.2 467.9,139.9 468.2,139.8 468.8,139.5 469.2,139.3 469.8,139.1 470.3,139.0 470.9,138.8 471.4,138.7 472.0,138.5 472.5,138.4 473.1,138.4 473.8,138.3 474.5,138.2 475.2,138.2 475.9,138.2 476.6,138.2 477.3,138.2 478.0,138.3 478.7,138.3 479.4,138.4 479.8,138.5 480.4,138.6 481.1,138.7 481.5,138.8 482.2,139.0 482.5,139.2 483.2,139.5 483.6,139.7 483.9,139.9 484.4,140.2 484.8,140.6 485.2,140.9 485.6,141.2 485.8,141.6 486.0,142.1 486.2,142.6 486.3,143.3 486.4,144.1 486.4,144.8 486.3,145.4 486.2,146.1 486.1,146.8 486.0,147.2 485.9,147.9 485.7,148.6 485.6,148.9 485.4,149.6 485.3,150.0 485.0,150.7 484.9,151.1 484.6,151.5 484.4,152.1 484.2,152.4 483.9,153.0 483.7,153.5 483.5,153.8 483.2,154.4 483.0,154.9 482.8,155.2 482.5,155.6 482.2,156.3 482.0,156.7 481.8,157.0 481.5,157.5 481.1,158.0 480.9,158.4 480.7,158.8 480.4,159.2 480.1,159.7 479.8,160.2 479.6,160.5 479.3,160.8 479.0,161.3 478.7,161.8 478.4,162.2 478.1,162.6 477.9,162.9 477.6,163.3 477.3,163.7 476.9,164.2 476.6,164.6 476.3,165.0 476.0,165.4 475.7,165.8 475.5,166.1 475.2,166.4 474.9,166.9 474.5,167.3 474.1,167.8 473.8,168.2 473.6,168.5 473.3,168.9 473.0,169.2 472.8,169.6 472.4,170.1 472.0,170.5 471.7,170.9 471.4,171.3 471.0,171.7 470.7,172.0 470.3,172.4 469.9,172.7 469.6,173.1 469.2,173.4 468.9,173.7 468.5,174.0 468.2,174.3 467.9,174.5 467.5,174.8 467.1,175.2 466.7,175.5 466.3,175.9 465.8,176.2 465.4,176.6 465.0,176.9 464.7,177.2 464.4,177.5 464.0,177.9 463.6,178.2 463.3,178.5 462.9,178.7 462.6,179.0 462.2,179.4 461.7,179.8 461.3,180.1 460.9,180.4 460.5,180.7 460.1,181.0 459.8,181.3 459.4,181.5 459.0,181.8 458.5,182.2 458.1,182.5 457.7,182.7 457.4,182.9 456.8,183.2 456.3,183.5 455.9,183.7 455.5,183.9 454.9,184.3 454.6,184.4 454.0,184.6 453.5,184.9 453.1,185.0 452.4,185.3 452.1,185.4 451.4,185.6 451.0,185.7 450.4,185.8 449.6,185.9 448.9,185.8 448.5,185.7 447.9,185.5 447.5,185.3 446.9,185.2 446.1,185.2 445.4,185.3 445.1,185.4 444.4,185.6 444.1,185.7 443.4,186.0 443.0,186.2 442.5,186.4 441.9,186.7 441.6,186.9 441.2,187.1 440.7,187.4 440.2,187.8 439.9,188.0 439.5,188.3 439.1,188.5 438.8,188.8 438.3,189.2 438.0,189.5 437.6,189.9 437.2,190.2 436.9,190.6 436.6,190.9 436.3,191.3 436.0,191.8 435.6,192.3 435.4,192.7 435.3,193.0 434.9,193.7 434.8,194.1 434.6,194.6 434.4,195.1 434.2,195.6 434.0,196.2 433.9,196.7 433.7,197.2 433.6,197.8 433.4,198.3 433.2,199.0 433.1,199.3 432.9,200.0 432.9,200.6 432.8,201.1 432.7,201.8 432.5,202.0 432.5,202.0 M418.1,70.6 417.4,70.6 416.8,70.6 416.1,70.6 415.4,70.7 414.6,70.6 413.9,70.6 413.2,70.6 412.9,70.5 412.2,70.5 411.5,70.3 410.9,70.2 410.4,70.1 409.8,69.8 409.4,69.7 409.1,69.5 408.4,69.2 408.0,68.9 407.6,68.6 407.3,68.3 406.9,67.9 406.6,67.5 406.3,67.0 406.1,66.7 405.9,66.2 405.7,65.7 405.6,64.9 405.6,64.4 405.6,64.2 405.7,63.5 405.9,63.0 406.2,62.5 406.5,62.1 406.9,61.8 407.3,61.5 407.6,61.3 408.1,61.1 408.7,60.9 409.1,60.7 409.8,60.5 410.4,60.4 410.8,60.3 411.5,60.2 412.2,60.1 412.9,60.1 413.3,60.0 413.9,60.0 414.6,60.0 415.4,59.9 416.1,59.9 416.8,59.9 417.4,59.9 418.1,59.8 418.9,59.9 419.6,59.9 420.2,60.0 420.6,60.1 421.3,60.3 421.7,60.4 422.4,60.7 422.7,60.8 423.1,61.1 423.6,61.4 424.1,61.8 424.4,62.1 424.7,62.5 424.9,62.8 425.1,63.2 425.4,63.9 425.5,64.2 425.7,64.9 425.8,65.7 425.7,66.3 425.6,67.0 425.4,67.4 425.1,67.8 424.8,68.3 424.4,68.6 424.1,68.9 423.8,69.2 423.1,69.5 422.7,69.7 422.3,69.8 421.6,70.1 421.1,70.2 420.6,70.3 419.9,70.4 419.2,70.5 418.5,70.5 418.1,70.6 418.1,70.6 M420.9,132.9 420.2,132.9 419.9,132.7 419.6,132.1 419.6,131.4 419.6,130.8 419.6,130.1 419.6,129.3 419.6,128.6 419.6,127.9 419.7,127.2 419.8,126.5 419.9,126.0 420.0,125.5 420.2,124.8 420.3,124.4 420.5,123.8 420.7,123.4 420.8,122.7 420.9,122.0 420.8,121.3 420.7,120.6 420.6,120.1 420.5,119.5 420.4,118.8 420.2,118.4 420.1,117.8 420.0,117.1 419.9,116.5 419.8,116.0 419.8,115.3 419.7,114.6 419.7,113.9 419.7,113.2 419.8,112.5 419.9,111.9 420.0,111.5 420.2,111.1 420.6,110.8 421.3,110.5 422.0,110.6 422.5,110.8 422.9,111.1 423.1,111.5 423.3,112.2 423.3,112.9 423.3,113.6 423.3,114.3 423.2,115.0 423.1,115.6 422.9,116.0 422.7,116.8 422.6,117.1 422.4,117.8 422.2,118.1 422.0,118.7 421.8,119.2 421.6,119.6 421.4,120.2 421.3,120.8 421.1,121.3 421.0,122.0 421.0,122.7 421.1,123.4 421.1,124.1 421.2,124.8 421.3,125.3 421.4,125.8 421.5,126.5 421.6,127.2 421.7,127.6 421.7,128.3 421.8,129.0 421.8,129.7 421.7,130.4 421.7,131.1 421.6,131.4 421.5,132.1 421.3,132.6 420.9,132.9 420.9,132.9 M429.0,202.0 428.3,202.0 427.6,202.0 426.9,202.0 426.2,202.0 425.5,202.0 424.8,202.0 424.1,202.0 423.4,202.0 422.7,202.0 422.0,202.0 421.3,202.0 420.6,202.0 419.9,202.0 419.2,202.0 418.5,202.0 417.8,202.0 417.1,202.0 416.4,202.0 415.7,202.0 415.0,202.0 415.1,201.4 415.2,200.8 415.4,200.2 415.5,199.7 415.7,199.2 416.0,198.6 416.1,198.3 416.4,197.6 416.6,197.2 416.8,196.7 416.9,196.2 417.0,195.5 416.9,194.8 416.8,194.4 416.5,193.8 416.2,193.4 416.0,193.0 415.7,192.7 415.4,192.3 415.0,191.9 414.6,191.5 414.3,191.1 413.9,190.7 413.6,190.2 413.4,189.9 413.1,189.5 412.9,189.2 412.6,188.6 412.3,188.1 412.2,187.8 411.9,187.1 411.7,186.8 411.5,186.3 411.3,185.7 411.1,185.3 411.0,184.6 410.8,183.9 410.7,183.6 410.6,182.9 410.5,182.2 410.5,181.5 410.4,180.9 410.4,180.4 410.4,179.8 410.4,179.0 410.4,178.3 410.4,177.6 410.4,177.3 410.5,176.6 410.7,175.9 410.8,175.4 411.0,174.8 411.1,174.5 411.5,173.9 411.8,173.4 412.0,173.1 412.3,172.8 412.6,172.4 413.0,172.0 413.3,171.7 413.7,171.3 414.0,171.0 414.4,170.6 414.7,170.3 415.1,169.9 415.4,169.6 415.7,169.2 416.1,168.8 416.4,168.4 416.8,167.9 417.0,167.5 417.3,167.1 417.5,166.8 417.8,166.3 418.1,165.8 418.5,165.4 418.8,165.0 419.2,164.8 419.6,164.6 420.2,164.5 420.9,164.7 421.3,164.8 421.7,165.0 422.4,165.4 422.7,165.6 423.1,165.8 423.8,166.1 424.1,166.3 424.5,166.4 425.1,166.8 425.5,166.9 426.0,167.1 426.6,167.3 427.0,167.5 427.6,167.6 428.3,167.7 429.0,167.7 429.7,167.6 430.2,167.5 430.8,167.4 431.4,167.2 431.8,167.0 432.5,166.8 432.9,166.7 433.6,166.5 433.9,166.4 434.6,166.2 434.9,166.0 435.6,165.8 436.0,165.7 436.7,165.5 437.1,165.3 437.8,165.1 438.1,164.9 438.7,164.7 439.1,164.5 439.5,164.3 440.2,164.0 440.6,163.9 441.1,163.6 441.6,163.4 441.9,163.2 442.5,162.9 443.0,162.7 443.4,162.5 443.8,162.2 444.4,161.9 444.8,161.7 445.1,161.5 445.7,161.2 446.1,161.0 446.5,160.8 447.1,160.5 447.6,160.3 447.9,160.1 448.3,159.8 448.8,159.4 449.1,159.1 449.5,158.8 449.8,158.4 450.1,158.0 450.4,157.7 450.7,157.2 451.1,156.7 451.4,156.3 451.6,155.9 451.8,155.6 452.1,155.2 452.4,154.7 452.8,154.2 453.0,153.8 453.2,153.5 453.5,153.1 453.9,152.6 454.2,152.1 454.4,151.8 454.6,151.4 454.9,151.0 455.2,150.5 455.6,150.0 455.9,149.6 456.1,149.3 456.4,148.9 456.7,148.6 457.1,148.2 457.4,147.9 457.8,147.6 458.2,147.2 458.6,146.8 459.0,146.5 459.4,146.1 459.8,145.8 460.1,145.6 460.5,145.3 460.9,145.0 461.2,144.8 461.7,144.4 462.1,144.1 462.6,143.7 462.9,143.5 463.3,143.2 463.6,143.0 464.1,142.6 464.7,142.3 465.0,142.1 465.4,141.9 465.9,141.6 466.4,141.3 466.8,141.1 467.3,140.9 467.9,140.7 468.2,140.5 468.9,140.2 469.2,140.1 469.9,139.9 470.3,139.8 471.0,139.6 471.4,139.5 472.0,139.3 472.8,139.2 473.3,139.1 473.8,139.1 474.5,139.1 475.2,139.0 475.9,139.1 476.6,139.1 477.3,139.1 477.8,139.1 478.4,139.2 479.0,139.3 479.8,139.4 480.4,139.5 480.8,139.6 481.5,139.8 481.9,139.9 482.5,140.2 482.9,140.4 483.2,140.6 483.8,140.9 484.3,141.2 484.6,141.6 485.0,141.9 485.2,142.3 485.4,142.6 485.6,143.3 485.7,143.7 485.8,144.4 485.8,145.1 485.8,145.8 485.7,146.3 485.6,146.8 485.5,147.6 485.4,148.2 485.3,148.6 485.1,149.3 484.9,149.6 484.7,150.3 484.6,150.7 484.3,151.4 484.1,151.8 483.9,152.2 483.7,152.8 483.5,153.1 483.2,153.6 482.9,154.2 482.8,154.6 482.5,154.9 482.2,155.6 482.0,155.9 481.8,156.3 481.5,156.8 481.2,157.3 481.0,157.7 480.8,158.0 480.4,158.6 480.1,159.1 479.9,159.4 479.7,159.8 479.4,160.2 479.0,160.8 478.7,161.2 478.5,161.5 478.3,161.9 478.0,162.3 477.6,162.8 477.3,163.2 477.0,163.6 476.7,164.0 476.5,164.3 476.2,164.7 475.9,165.1 475.5,165.5 475.2,165.9 474.9,166.4 474.5,166.8 474.2,167.1 473.9,167.5 473.6,167.8 473.3,168.2 473.0,168.5 472.7,168.9 472.4,169.3 472.0,169.7 471.7,170.1 471.4,170.5 471.0,170.8 470.6,171.2 470.3,171.5 469.9,171.9 469.6,172.2 469.2,172.5 468.9,172.9 468.5,173.2 468.2,173.5 467.9,173.8 467.5,174.2 467.1,174.5 466.8,174.8 466.4,175.2 466.0,175.5 465.6,175.9 465.2,176.2 464.8,176.6 464.4,176.9 464.0,177.3 463.6,177.6 463.3,177.9 462.9,178.2 462.6,178.5 462.2,178.8 461.9,179.1 461.6,179.4 461.1,179.8 460.7,180.1 460.2,180.4 459.8,180.8 459.4,181.0 459.1,181.3 458.8,181.5 458.2,181.8 457.7,182.2 457.4,182.4 457.0,182.6 456.5,182.9 455.9,183.2 455.6,183.3 455.1,183.6 454.6,183.8 454.2,184.0 453.5,184.2 453.1,184.4 452.4,184.6 452.1,184.7 451.4,184.8 450.7,184.9 450.0,184.9 449.3,184.8 448.9,184.6 448.3,184.3 447.9,184.1 447.6,183.9 446.9,183.7 446.1,183.7 445.4,183.8 444.9,183.9 444.4,184.1 443.9,184.3 443.4,184.5 443.0,184.6 442.3,184.9 441.9,185.1 441.4,185.3 440.9,185.6 440.6,185.7 439.9,186.0 439.5,186.3 439.1,186.5 438.6,186.8 438.1,187.0 437.8,187.2 437.3,187.4 436.7,187.8 436.4,188.0 436.0,188.2 435.6,188.5 435.1,188.8 434.7,189.2 434.4,189.5 434.1,189.9 433.8,190.2 433.5,190.6 433.2,191.2 432.9,191.6 432.7,192.0 432.5,192.4 432.2,193.0 432.0,193.4 431.8,193.8 431.4,194.4 431.2,194.8 431.0,195.1 430.8,195.6 430.4,196.2 430.2,196.5 430.1,196.9 429.8,197.6 429.6,197.9 429.4,198.6 429.4,199.1 429.3,199.7 429.2,200.4 429.2,201.1 429.2,201.8 429.0,202.0 429.0,202.0 M418.5,69.5 417.8,69.6 417.1,69.6 416.4,69.7 415.7,69.7 415.0,69.7 414.3,69.6 413.6,69.6 412.9,69.5 412.6,69.5 411.9,69.3 411.3,69.2 410.8,68.9 410.4,68.8 409.8,68.4 409.4,68.1 409.1,67.8 408.7,67.5 408.4,67.0 408.2,66.7 408.0,66.3 407.8,65.7 407.7,64.9 407.7,64.2 407.9,63.5 408.1,63.2 408.4,62.8 408.9,62.5 409.4,62.2 409.8,62.0 410.3,61.8 410.8,61.7 411.5,61.5 411.9,61.4 412.6,61.3 413.2,61.2 413.9,61.2 414.6,61.1 415.0,61.1 415.7,61.0 416.4,61.0 417.1,60.9 417.8,60.9 418.5,60.9 419.2,61.0 419.9,61.1 420.2,61.2 420.9,61.4 421.3,61.5 421.8,61.8 422.3,62.1 422.7,62.5 423.0,62.8 423.2,63.2 423.4,63.5 423.7,64.2 423.8,64.6 423.9,65.3 423.9,66.0 423.8,66.7 423.6,67.0 423.4,67.4 423.1,67.8 422.7,68.1 422.3,68.4 421.6,68.8 421.3,68.9 420.6,69.1 420.2,69.2 419.6,69.4 418.9,69.5 418.5,69.5 418.5,69.5 M422.7,197.1 422.3,196.9 422.0,196.3 421.8,195.8 421.6,195.5 421.3,195.0 420.9,194.5 420.7,194.1 420.4,193.8 420.0,193.4 419.6,193.0 419.2,192.7 418.9,192.4 418.5,192.1 418.1,191.8 417.8,191.5 417.4,191.3 417.1,190.9 416.7,190.6 416.3,190.2 415.9,189.9 415.6,189.5 415.2,189.2 414.9,188.8 414.6,188.5 414.3,188.0 413.9,187.5 413.7,187.1 413.6,186.8 413.2,186.1 413.1,185.7 412.9,185.2 412.7,184.6 412.5,184.3 412.2,183.6 412.1,183.2 411.9,182.6 411.7,182.2 411.6,181.5 411.5,181.0 411.5,180.4 411.5,179.9 411.6,179.4 411.7,178.7 411.9,178.1 412.0,177.6 412.2,176.9 412.3,176.6 412.4,175.9 412.6,175.5 412.9,174.8 413.1,174.5 413.3,174.1 413.6,173.8 413.9,173.4 414.3,173.0 414.6,172.7 415.0,172.4 415.4,172.0 415.9,171.7 416.4,171.3 416.8,171.1 417.1,170.9 417.4,170.6 417.9,170.3 418.5,169.9 418.9,169.7 419.2,169.5 419.6,169.2 420.2,169.0 420.6,168.9 421.3,168.7 422.0,168.7 422.7,168.8 423.4,168.9 423.8,169.0 424.4,169.1 425.0,169.2 425.5,169.4 426.2,169.5 426.6,169.6 427.2,169.7 427.9,169.7 428.6,169.6 429.0,169.5 429.7,169.4 430.1,169.2 430.8,169.0 431.1,168.9 431.8,168.6 432.1,168.5 432.9,168.2 433.2,168.1 433.9,167.9 434.2,167.8 434.9,167.5 435.3,167.4 436.0,167.2 436.4,167.1 437.1,166.8 437.4,166.7 438.1,166.4 438.4,166.3 438.9,166.1 439.5,165.8 439.9,165.7 440.4,165.4 440.9,165.2 441.2,165.0 441.9,164.7 442.3,164.6 442.8,164.3 443.4,164.1 443.7,163.9 444.2,163.6 444.8,163.4 445.1,163.2 445.5,162.9 446.1,162.6 446.5,162.4 446.9,162.2 447.3,161.9 447.9,161.5 448.2,161.3 448.6,161.0 448.9,160.6 449.3,160.3 449.6,159.9 450.0,159.4 450.2,159.1 450.5,158.8 450.7,158.4 451.1,157.9 451.4,157.4 451.7,157.0 451.9,156.7 452.2,156.3 452.4,155.9 452.8,155.3 453.1,154.9 453.3,154.6 453.5,154.2 453.9,153.7 454.2,153.2 454.4,152.8 454.7,152.4 454.9,152.1 455.2,151.6 455.6,151.1 455.9,150.7 456.1,150.3 456.4,150.0 456.6,149.6 457.0,149.2 457.4,148.8 457.7,148.5 458.1,148.1 458.4,147.8 458.8,147.5 459.1,147.2 459.5,146.8 460.0,146.5 460.4,146.1 460.9,145.8 461.2,145.6 461.6,145.3 461.9,145.0 462.3,144.8 462.7,144.4 463.2,144.1 463.6,143.8 464.0,143.5 464.4,143.3 464.8,143.0 465.4,142.7 465.8,142.5 466.1,142.3 466.7,141.9 467.1,141.8 467.5,141.6 468.2,141.3 468.5,141.2 469.2,140.9 469.6,140.8 470.3,140.6 470.6,140.5 471.4,140.3 471.9,140.2 472.4,140.1 473.1,140.0 473.8,140.0 474.5,139.9 475.2,139.9 475.9,140.0 476.6,140.0 477.3,140.0 478.0,140.1 478.7,140.2 479.0,140.2 479.8,140.3 480.4,140.5 480.8,140.6 481.5,140.8 481.9,140.9 482.5,141.2 482.9,141.5 483.2,141.7 483.6,141.9 484.1,142.3 484.4,142.6 484.6,143.0 484.9,143.7 485.0,144.1 485.1,144.8 485.2,145.4 485.2,146.1 485.1,146.8 485.0,147.5 484.9,147.9 484.8,148.6 484.6,149.1 484.5,149.6 484.3,150.2 484.1,150.7 483.9,151.2 483.7,151.8 483.6,152.1 483.2,152.8 483.1,153.1 482.9,153.5 482.5,154.2 482.4,154.6 482.2,154.9 481.9,155.5 481.6,155.9 481.4,156.3 481.1,156.7 480.8,157.3 480.6,157.7 480.4,158.0 480.1,158.5 479.8,159.1 479.5,159.4 479.3,159.8 479.0,160.2 478.7,160.7 478.4,161.2 478.1,161.5 477.9,161.9 477.6,162.2 477.3,162.7 476.9,163.2 476.6,163.6 476.3,164.0 476.1,164.3 475.8,164.7 475.5,165.0 475.2,165.5 474.9,165.9 474.5,166.3 474.1,166.7 473.8,167.1 473.5,167.5 473.2,167.8 472.9,168.2 472.6,168.5 472.3,168.9 471.9,169.2 471.6,169.6 471.3,169.9 470.9,170.3 470.6,170.6 470.2,171.0 469.9,171.3 469.5,171.7 469.2,172.0 468.8,172.4 468.4,172.8 468.1,173.1 467.7,173.4 467.3,173.8 466.9,174.1 466.6,174.5 466.2,174.8 465.8,175.2 465.4,175.5 465.0,175.9 464.7,176.2 464.4,176.5 464.0,176.8 463.6,177.1 463.3,177.4 462.9,177.7 462.6,178.0 462.2,178.3 461.8,178.7 461.4,179.0 460.9,179.4 460.5,179.7 460.1,180.0 459.8,180.3 459.4,180.5 459.0,180.8 458.5,181.1 458.1,181.4 457.7,181.7 457.4,181.9 456.7,182.2 456.3,182.4 455.9,182.6 455.3,182.9 454.9,183.1 454.4,183.2 453.9,183.5 453.4,183.6 452.8,183.8 452.1,183.9 451.7,183.9 451.1,184.0 450.7,183.9 450.0,183.8 449.6,183.6 449.0,183.2 448.6,183.0 448.2,182.8 447.9,182.5 447.2,182.3 446.9,182.2 446.1,182.2 445.8,182.2 445.1,182.4 444.7,182.5 444.1,182.8 443.7,182.9 443.0,183.2 442.6,183.3 442.0,183.6 441.6,183.8 441.2,183.9 440.6,184.2 440.2,184.4 439.6,184.6 439.1,184.9 438.8,185.0 438.1,185.3 437.8,185.5 437.2,185.7 436.7,185.9 436.3,186.0 435.6,186.3 435.3,186.5 434.7,186.8 434.2,187.0 433.9,187.2 433.6,187.5 433.1,187.8 432.7,188.1 432.4,188.5 432.1,188.8 431.8,189.2 431.4,189.6 431.1,190.1 430.8,190.5 430.4,190.9 430.1,191.3 429.8,191.6 429.5,192.0 429.1,192.3 428.6,192.7 428.3,192.9 427.9,193.2 427.6,193.4 427.0,193.8 426.6,194.0 426.2,194.3 425.9,194.5 425.4,194.8 424.9,195.1 424.5,195.5 424.1,195.8 423.8,196.2 423.4,196.5 423.1,196.8 422.7,197.1 422.7,197.1 M423.1,202.0 422.4,202.0 421.6,202.0 420.9,202.0 420.2,202.0 420.0,201.8 420.2,201.1 420.4,200.8 420.6,200.3 420.9,199.7 421.2,199.3 421.4,199.0 421.7,198.6 422.0,198.3 422.6,198.3 422.7,198.6 422.9,199.3 423.1,199.7 423.2,200.4 423.3,201.1 423.4,201.8 423.1,202.0 423.1,202.0 M418.9,68.2 418.1,68.3 417.4,68.4 416.8,68.4 416.1,68.4 415.4,68.4 414.6,68.4 413.9,68.3 413.2,68.2 412.9,68.1 412.2,67.8 411.9,67.6 411.5,67.4 411.1,67.0 410.8,66.5 410.6,66.0 410.6,65.3 410.7,64.6 410.9,64.2 411.2,63.9 411.6,63.5 412.2,63.3 412.6,63.1 413.2,62.9 413.6,62.8 414.3,62.6 415.0,62.5 415.4,62.5 416.1,62.4 416.8,62.3 417.4,62.3 418.1,62.3 418.9,62.3 419.5,62.5 419.9,62.6 420.3,62.8 420.8,63.2 421.1,63.5 421.4,63.9 421.6,64.6 421.7,64.9 421.7,65.7 421.6,66.0 421.4,66.7 421.1,67.0 420.7,67.4 420.2,67.7 419.9,67.8 419.2,68.1 418.9,68.2 418.9,68.2 M424.8,191.4 424.1,191.5 423.4,191.5 422.7,191.4 422.1,191.3 421.6,191.2 421.0,190.9 420.6,190.8 420.2,190.6 419.6,190.3 419.2,190.0 418.9,189.8 418.5,189.5 418.0,189.2 417.6,188.8 417.2,188.5 416.9,188.1 416.5,187.8 416.2,187.4 416.0,187.1 415.7,186.7 415.4,186.2 415.1,185.7 414.9,185.3 414.6,185.0 414.2,184.6 413.8,184.3 413.5,183.9 413.2,183.6 412.9,183.2 412.6,182.7 412.3,182.2 412.2,181.8 412.1,181.1 412.0,180.4 412.1,179.8 412.2,179.2 412.4,178.7 412.6,178.3 412.9,177.7 413.2,177.3 413.5,176.9 413.8,176.6 414.1,176.2 414.3,175.9 414.6,175.4 415.0,174.9 415.3,174.5 415.7,174.1 416.1,173.8 416.4,173.6 416.8,173.3 417.2,173.1 417.8,172.8 418.1,172.6 418.7,172.4 419.2,172.2 419.7,172.0 420.2,171.9 420.9,171.7 421.3,171.6 422.0,171.5 422.7,171.5 423.4,171.5 424.1,171.5 424.8,171.5 425.5,171.6 426.2,171.7 426.9,171.7 427.6,171.7 428.3,171.6 429.0,171.4 429.4,171.3 430.1,171.1 430.4,170.9 431.1,170.6 431.4,170.5 431.9,170.3 432.5,170.0 432.9,169.9 433.6,169.6 433.9,169.5 434.6,169.3 434.9,169.2 435.6,168.9 436.0,168.8 436.7,168.6 437.1,168.5 437.7,168.2 438.1,168.1 438.6,167.8 439.1,167.6 439.5,167.4 440.1,167.1 440.6,167.0 440.9,166.8 441.6,166.5 441.9,166.3 442.5,166.1 443.0,165.9 443.4,165.8 444.1,165.5 444.4,165.3 445.0,165.0 445.4,164.8 445.8,164.6 446.3,164.3 446.9,164.0 447.2,163.8 447.6,163.6 447.9,163.3 448.3,162.9 448.6,162.6 448.9,162.2 449.3,161.8 449.6,161.3 450.0,160.8 450.2,160.5 450.4,160.2 450.7,159.8 451.1,159.2 451.4,158.8 451.6,158.4 451.8,158.0 452.1,157.6 452.4,157.1 452.7,156.7 453.0,156.3 453.2,155.9 453.5,155.5 453.9,154.9 454.1,154.6 454.3,154.2 454.6,153.8 454.9,153.3 455.2,152.8 455.4,152.4 455.7,152.1 455.9,151.7 456.3,151.2 456.6,150.7 456.9,150.3 457.2,150.0 457.5,149.6 457.8,149.3 458.1,148.9 458.5,148.6 458.9,148.2 459.3,147.9 459.7,147.6 460.1,147.2 460.5,146.9 460.9,146.6 461.2,146.4 461.6,146.1 462.0,145.8 462.4,145.4 462.9,145.1 463.3,144.8 463.6,144.6 464.0,144.4 464.5,144.1 465.0,143.7 465.4,143.5 465.8,143.3 466.3,143.0 466.8,142.7 467.1,142.6 467.7,142.3 468.2,142.1 468.6,141.9 469.2,141.7 469.6,141.6 470.3,141.4 470.9,141.2 471.4,141.2 472.0,141.0 472.8,141.0 473.4,140.9 473.8,140.9 474.5,140.9 475.2,140.9 475.9,140.9 476.2,140.9 476.9,141.0 477.6,141.0 478.4,141.1 479.0,141.2 479.4,141.3 480.1,141.4 480.8,141.6 481.1,141.7 481.7,141.9 482.2,142.2 482.5,142.4 482.9,142.6 483.4,143.0 483.7,143.3 484.0,143.7 484.3,144.4 484.4,144.8 484.5,145.4 484.5,146.1 484.5,146.8 484.4,147.6 484.3,148.2 484.3,148.6 484.1,149.3 483.9,149.8 483.8,150.3 483.6,150.9 483.4,151.4 483.2,151.8 483.0,152.4 482.8,152.8 482.5,153.3 482.3,153.8 482.1,154.2 481.9,154.7 481.6,155.2 481.4,155.6 481.1,156.0 480.8,156.6 480.6,157.0 480.4,157.3 480.1,157.8 479.8,158.4 479.6,158.8 479.3,159.1 479.0,159.6 478.7,160.1 478.5,160.5 478.2,160.8 478.0,161.2 477.6,161.7 477.3,162.2 477.0,162.6 476.8,162.9 476.5,163.3 476.2,163.6 475.9,164.1 475.5,164.5 475.2,165.0 474.9,165.4 474.6,165.8 474.3,166.1 474.0,166.4 473.7,166.8 473.4,167.1 473.1,167.5 472.8,167.9 472.4,168.3 472.0,168.6 471.7,169.0 471.4,169.4 471.0,169.7 470.6,170.1 470.3,170.4 469.9,170.8 469.6,171.1 469.2,171.5 468.9,171.8 468.5,172.1 468.2,172.5 467.9,172.8 467.5,173.1 467.1,173.4 466.8,173.8 466.4,174.1 466.0,174.5 465.6,174.8 465.3,175.2 464.9,175.5 464.5,175.9 464.1,176.2 463.7,176.6 463.3,176.9 462.9,177.2 462.6,177.5 462.2,177.8 461.9,178.1 461.6,178.4 461.2,178.7 460.7,179.0 460.2,179.4 459.8,179.7 459.4,180.0 459.1,180.2 458.8,180.5 458.2,180.8 457.7,181.1 457.4,181.3 457.0,181.5 456.3,181.8 455.9,182.0 455.5,182.2 454.9,182.4 454.6,182.6 453.9,182.8 453.2,182.9 452.8,183.0 452.1,183.0 451.4,183.0 450.9,182.9 450.4,182.6 450.0,182.4 449.6,182.2 449.2,181.8 448.8,181.5 448.4,181.1 447.9,180.8 447.6,180.6 446.9,180.5 446.1,180.5 445.4,180.7 445.1,180.8 444.4,181.1 444.1,181.2 443.4,181.5 443.0,181.6 442.4,181.8 441.9,182.1 441.6,182.2 440.9,182.5 440.6,182.7 440.0,182.9 439.5,183.1 439.1,183.3 438.4,183.6 438.1,183.7 437.4,183.9 437.1,184.1 436.4,184.3 436.0,184.4 435.3,184.6 434.9,184.8 434.4,185.0 433.9,185.2 433.6,185.4 433.0,185.7 432.5,186.0 432.1,186.2 431.8,186.5 431.4,186.8 431.1,187.2 430.8,187.5 430.4,187.9 430.1,188.3 429.7,188.6 429.4,189.0 429.0,189.3 428.6,189.6 428.3,189.9 427.8,190.2 427.2,190.6 426.9,190.7 426.3,190.9 425.9,191.1 425.1,191.3 424.8,191.4 424.8,191.4 M425.5,188.9 424.8,189.0 424.1,189.1 423.4,189.1 422.7,189.1 422.0,189.0 421.6,188.8 420.9,188.6 420.6,188.5 420.0,188.1 419.6,187.9 419.2,187.6 418.9,187.3 418.5,187.0 418.1,186.7 417.8,186.3 417.4,185.8 417.1,185.4 416.8,185.0 416.4,184.8 416.1,184.6 415.4,184.4 415.0,184.2 414.5,183.9 414.0,183.6 413.6,183.2 413.3,182.9 413.1,182.5 412.9,182.2 412.6,181.5 412.6,181.0 412.5,180.4 412.6,180.0 412.7,179.4 412.9,178.8 413.1,178.3 413.4,178.0 413.7,177.6 414.1,177.3 414.6,176.9 415.0,176.7 415.4,176.6 416.1,176.3 416.4,176.1 416.8,175.9 417.2,175.5 417.6,175.2 418.1,174.9 418.5,174.7 419.0,174.5 419.6,174.3 420.2,174.1 420.6,174.1 421.3,173.9 422.0,173.8 422.4,173.8 423.1,173.7 423.8,173.7 424.4,173.7 425.1,173.8 425.8,173.8 426.2,173.8 426.9,173.8 427.2,173.8 427.9,173.7 428.6,173.6 429.1,173.4 429.7,173.3 430.2,173.1 430.8,172.9 431.1,172.7 431.8,172.4 432.1,172.2 432.6,172.0 433.2,171.8 433.6,171.6 434.1,171.3 434.6,171.2 435.0,171.0 435.6,170.8 436.0,170.6 436.7,170.4 437.1,170.3 437.8,170.0 438.1,169.9 438.8,169.6 439.1,169.4 439.6,169.2 440.2,169.0 440.6,168.8 441.1,168.5 441.6,168.3 441.9,168.2 442.6,167.9 443.0,167.8 443.7,167.5 444.1,167.4 444.7,167.1 445.1,167.0 445.6,166.8 446.1,166.5 446.5,166.4 447.0,166.1 447.5,165.8 447.9,165.4 448.2,165.1 448.6,164.7 448.9,164.3 449.1,164.0 449.3,163.6 449.6,163.1 449.9,162.6 450.1,162.2 450.4,161.9 450.7,161.3 450.9,160.8 451.1,160.5 451.4,160.1 451.8,159.5 452.0,159.1 452.2,158.8 452.4,158.4 452.8,157.8 453.1,157.3 453.3,157.0 453.5,156.7 453.9,156.1 454.2,155.6 454.4,155.2 454.6,154.9 454.9,154.5 455.2,153.9 455.5,153.5 455.8,153.1 456.0,152.8 456.3,152.3 456.6,151.8 457.0,151.4 457.2,151.1 457.5,150.7 457.8,150.3 458.1,150.0 458.4,149.6 458.8,149.3 459.1,148.9 459.5,148.6 459.9,148.2 460.3,147.9 460.8,147.6 461.2,147.2 461.6,146.9 461.9,146.7 462.2,146.4 462.6,146.1 463.1,145.8 463.6,145.5 464.0,145.2 464.4,145.0 464.7,144.8 465.3,144.4 465.8,144.1 466.1,143.9 466.6,143.7 467.1,143.4 467.5,143.3 468.1,143.0 468.5,142.8 469.0,142.6 469.6,142.5 470.2,142.3 470.6,142.2 471.4,142.1 472.0,142.0 472.4,141.9 473.1,141.9 473.8,141.8 474.5,141.8 475.2,141.9 475.9,141.9 476.6,141.9 476.9,142.0 477.6,142.0 478.4,142.1 479.0,142.2 479.5,142.3 480.1,142.4 480.8,142.6 481.1,142.8 481.6,143.0 482.2,143.3 482.5,143.6 482.9,143.9 483.2,144.3 483.5,144.8 483.7,145.1 483.8,145.8 483.9,146.5 483.9,147.2 483.8,147.9 483.7,148.6 483.6,149.2 483.5,149.6 483.3,150.3 483.2,150.7 482.9,151.4 482.8,151.8 482.5,152.3 482.3,152.8 482.2,153.1 481.9,153.8 481.7,154.2 481.5,154.6 481.1,155.2 480.9,155.6 480.7,155.9 480.4,156.5 480.2,157.0 480.0,157.3 479.8,157.7 479.4,158.3 479.1,158.8 478.9,159.1 478.7,159.5 478.4,160.0 478.1,160.5 477.8,160.8 477.6,161.2 477.3,161.6 476.9,162.1 476.6,162.6 476.4,162.9 476.1,163.3 475.8,163.6 475.5,164.0 475.2,164.4 474.9,164.9 474.5,165.3 474.1,165.7 473.8,166.1 473.5,166.4 473.2,166.8 472.9,167.1 472.6,167.5 472.3,167.8 472.0,168.2 471.7,168.5 471.3,168.9 471.0,169.3 470.6,169.6 470.3,170.0 469.9,170.3 469.6,170.6 469.2,171.0 468.8,171.3 468.5,171.7 468.1,172.0 467.7,172.4 467.3,172.8 467.0,173.1 466.6,173.4 466.2,173.8 465.8,174.1 465.5,174.5 465.1,174.8 464.7,175.2 464.4,175.5 464.0,175.8 463.6,176.1 463.3,176.4 462.9,176.7 462.6,177.0 462.2,177.3 461.8,177.6 461.3,178.0 460.9,178.3 460.5,178.7 460.1,178.9 459.8,179.2 459.4,179.4 458.9,179.8 458.4,180.1 458.1,180.3 457.7,180.5 457.2,180.8 456.6,181.1 456.3,181.2 455.6,181.5 455.2,181.6 454.6,181.8 454.2,181.9 453.5,182.0 452.8,182.1 452.1,182.0 451.5,181.8 451.1,181.6 450.7,181.3 450.4,181.1 450.0,180.8 449.6,180.4 449.3,180.0 448.9,179.6 448.6,179.2 448.2,178.9 447.9,178.6 447.2,178.4 446.5,178.4 445.8,178.6 445.4,178.8 444.8,179.0 444.4,179.1 443.8,179.4 443.4,179.6 442.9,179.8 442.3,180.0 441.9,180.1 441.3,180.4 440.9,180.6 440.5,180.8 439.9,181.1 439.5,181.3 438.9,181.5 438.4,181.7 438.0,181.8 437.4,182.1 437.0,182.2 436.4,182.4 435.9,182.5 435.3,182.7 434.8,182.9 434.2,183.1 433.9,183.2 433.2,183.6 432.9,183.7 432.5,183.9 431.9,184.3 431.4,184.6 431.1,184.9 430.8,185.1 430.4,185.4 430.1,185.7 429.7,186.0 429.3,186.4 428.9,186.8 428.5,187.1 428.1,187.4 427.7,187.8 427.2,188.1 426.9,188.3 426.6,188.5 425.9,188.8 425.5,188.9 425.5,188.9 M424.4,186.8 423.8,186.8 423.1,186.8 422.7,186.7 422.0,186.6 421.5,186.4 420.9,186.1 420.6,185.9 420.2,185.6 419.9,185.3 419.6,184.9 419.2,184.5 418.9,184.1 418.5,183.8 417.8,183.8 417.1,183.8 416.4,183.8 415.7,183.7 415.3,183.6 414.6,183.3 414.3,183.1 413.9,182.7 413.6,182.3 413.4,181.8 413.2,181.5 413.1,180.8 413.1,180.1 413.2,179.4 413.4,179.0 413.6,178.7 413.9,178.2 414.3,177.9 414.7,177.6 415.4,177.3 415.7,177.2 416.4,177.1 417.1,177.2 417.8,177.3 418.1,177.3 418.9,177.4 419.2,177.2 419.7,176.9 420.2,176.7 420.6,176.5 421.3,176.4 422.0,176.2 422.4,176.2 423.1,176.2 423.8,176.1 424.4,176.1 425.1,176.1 425.9,176.0 426.5,175.9 426.9,175.8 427.6,175.7 428.3,175.6 428.6,175.5 429.4,175.5 430.1,175.4 430.8,175.2 431.1,175.1 431.8,174.9 432.1,174.8 432.8,174.5 433.2,174.3 433.6,174.1 434.2,173.8 434.6,173.7 435.1,173.4 435.6,173.2 436.0,173.0 436.6,172.8 437.1,172.6 437.4,172.4 438.1,172.1 438.4,171.9 438.9,171.7 439.5,171.4 439.9,171.3 440.4,171.0 440.9,170.8 441.2,170.6 441.9,170.3 442.3,170.2 442.9,169.9 443.4,169.8 444.0,169.6 444.4,169.5 445.0,169.2 445.4,169.1 446.0,168.9 446.5,168.7 446.9,168.5 447.5,168.2 447.9,167.9 448.2,167.6 448.6,167.3 448.9,166.8 449.2,166.4 449.4,166.1 449.6,165.5 449.9,165.0 450.0,164.7 450.3,164.0 450.5,163.6 450.7,163.1 451.0,162.6 451.1,162.2 451.4,161.7 451.7,161.2 451.9,160.8 452.1,160.4 452.4,159.8 452.6,159.4 452.8,159.1 453.1,158.6 453.5,158.0 453.7,157.7 453.9,157.3 454.2,156.9 454.5,156.3 454.8,155.9 455.0,155.6 455.2,155.2 455.6,154.6 455.9,154.2 456.1,153.8 456.3,153.5 456.6,153.0 457.0,152.5 457.3,152.1 457.6,151.8 457.8,151.4 458.1,151.1 458.4,150.7 458.8,150.3 459.1,149.9 459.4,149.6 459.8,149.2 460.1,148.9 460.6,148.6 461.0,148.2 461.5,147.9 461.9,147.6 462.2,147.3 462.6,147.1 462.9,146.8 463.4,146.5 464.0,146.1 464.4,145.9 464.7,145.7 465.1,145.4 465.7,145.1 466.1,144.9 466.4,144.7 467.0,144.4 467.5,144.2 467.9,144.0 468.5,143.7 468.9,143.6 469.6,143.4 469.9,143.3 470.6,143.1 471.3,143.0 471.7,143.0 472.4,142.9 473.1,142.8 473.8,142.8 474.5,142.8 475.2,142.9 475.9,142.9 476.6,143.0 477.2,143.0 477.6,143.0 478.4,143.1 479.0,143.3 479.5,143.3 480.1,143.5 480.6,143.7 481.1,144.0 481.5,144.2 481.9,144.4 482.3,144.8 482.6,145.1 482.9,145.6 483.1,146.1 483.2,146.8 483.2,147.6 483.2,148.2 483.1,148.9 482.9,149.6 482.9,150.0 482.7,150.7 482.5,151.1 482.3,151.8 482.1,152.1 481.9,152.8 481.7,153.1 481.5,153.6 481.2,154.2 481.0,154.6 480.8,155.0 480.5,155.6 480.3,155.9 480.1,156.3 479.8,156.9 479.5,157.3 479.3,157.7 479.0,158.2 478.7,158.8 478.5,159.1 478.3,159.4 478.0,159.9 477.6,160.5 477.4,160.8 477.2,161.2 476.9,161.5 476.6,162.0 476.2,162.5 475.9,162.9 475.7,163.3 475.4,163.6 475.1,164.0 474.9,164.4 474.5,164.8 474.1,165.2 473.8,165.6 473.4,166.0 473.1,166.4 472.8,166.8 472.5,167.1 472.2,167.5 471.9,167.8 471.5,168.2 471.2,168.5 470.9,168.9 470.5,169.2 470.2,169.6 469.8,169.9 469.4,170.3 469.1,170.6 468.7,171.0 468.3,171.3 467.9,171.7 467.6,172.0 467.2,172.4 466.8,172.7 466.4,173.1 466.1,173.4 465.8,173.7 465.4,174.0 465.0,174.3 464.7,174.6 464.4,174.9 464.0,175.3 463.6,175.6 463.2,175.9 462.8,176.2 462.4,176.6 462.0,176.9 461.6,177.3 461.2,177.5 460.9,177.8 460.5,178.1 460.1,178.3 459.6,178.7 459.1,179.0 458.8,179.3 458.4,179.5 457.9,179.8 457.4,180.1 457.0,180.2 456.5,180.4 455.9,180.7 455.5,180.8 454.9,181.0 454.2,181.1 453.5,181.1 452.8,181.0 452.2,180.8 451.8,180.5 451.4,180.2 451.1,179.9 450.7,179.5 450.4,179.1 450.1,178.7 449.9,178.3 449.6,177.9 449.3,177.3 449.1,176.9 448.9,176.6 448.6,176.1 448.2,175.8 447.6,175.6 446.9,175.7 446.4,175.9 445.8,176.2 445.4,176.4 444.9,176.6 444.4,176.8 444.1,177.0 443.4,177.3 443.0,177.4 442.3,177.6 441.9,177.8 441.4,178.0 440.9,178.2 440.5,178.3 439.9,178.6 439.5,178.8 438.8,179.0 438.4,179.2 438.0,179.4 437.4,179.6 437.1,179.8 436.4,180.0 436.0,180.1 435.3,180.4 434.9,180.5 434.3,180.8 433.9,181.0 433.6,181.2 433.0,181.5 432.5,181.8 432.1,182.2 431.8,182.4 431.4,182.7 431.1,182.9 430.6,183.2 430.1,183.6 429.7,183.8 429.4,184.0 428.9,184.3 428.5,184.6 428.0,185.0 427.6,185.3 427.2,185.5 426.9,185.8 426.5,186.0 425.9,186.4 425.5,186.5 424.8,186.7 424.4,186.8 424.4,186.8 M454.9,180.1 454.2,180.1 453.9,180.1 453.1,179.9 452.8,179.6 452.4,179.3 452.1,179.0 451.8,178.5 451.4,178.0 451.2,177.6 451.0,177.3 450.7,176.6 450.6,176.2 450.4,175.6 450.2,175.2 450.0,174.5 449.9,174.1 449.7,173.4 449.5,173.1 449.3,172.6 449.0,172.0 448.7,171.7 448.5,171.3 448.6,170.7 448.8,170.3 449.1,169.9 449.3,169.5 449.6,168.9 449.8,168.5 450.0,168.0 450.2,167.5 450.4,167.0 450.5,166.4 450.7,165.9 450.9,165.4 451.1,164.8 451.2,164.3 451.4,163.9 451.6,163.3 451.8,162.9 452.1,162.2 452.2,161.9 452.4,161.5 452.8,160.8 452.9,160.5 453.1,160.1 453.5,159.5 453.7,159.1 453.9,158.8 454.2,158.2 454.5,157.7 454.7,157.3 454.9,157.0 455.2,156.5 455.6,155.9 455.8,155.6 456.0,155.2 456.3,154.8 456.6,154.3 457.0,153.8 457.2,153.5 457.4,153.1 457.7,152.8 458.1,152.3 458.4,151.8 458.7,151.4 459.0,151.1 459.4,150.7 459.7,150.3 460.1,150.0 460.4,149.6 460.9,149.3 461.2,149.0 461.6,148.8 461.9,148.5 462.2,148.2 462.7,147.9 463.2,147.6 463.6,147.3 464.0,147.1 464.4,146.8 464.9,146.5 465.4,146.2 465.8,146.0 466.1,145.8 466.8,145.4 467.1,145.3 467.5,145.1 468.2,144.8 468.5,144.7 469.2,144.5 469.6,144.3 470.3,144.2 470.9,144.1 471.4,144.0 472.0,143.9 472.8,143.9 473.4,143.8 474.1,143.9 474.9,143.9 475.5,143.9 476.2,144.0 476.9,144.0 477.3,144.1 478.0,144.1 478.7,144.3 479.3,144.4 479.8,144.6 480.3,144.8 480.8,145.0 481.1,145.2 481.5,145.5 481.9,145.8 482.2,146.4 482.3,146.8 482.5,147.6 482.5,148.2 482.4,148.9 482.3,149.6 482.2,150.3 482.1,150.7 481.9,151.4 481.7,151.8 481.5,152.4 481.3,152.8 481.1,153.2 480.9,153.8 480.7,154.2 480.4,154.7 480.2,155.2 480.0,155.6 479.8,156.1 479.4,156.7 479.2,157.0 479.0,157.4 478.7,158.0 478.5,158.4 478.3,158.8 478.0,159.2 477.7,159.8 477.4,160.2 477.2,160.5 476.9,160.9 476.6,161.4 476.3,161.9 476.0,162.2 475.8,162.6 475.5,162.9 475.2,163.4 474.9,163.8 474.5,164.2 474.1,164.7 473.8,165.0 473.5,165.4 473.2,165.8 472.9,166.1 472.6,166.4 472.3,166.8 472.0,167.1 471.7,167.5 471.4,167.9 471.0,168.3 470.6,168.6 470.3,169.0 469.9,169.3 469.6,169.6 469.2,170.0 468.9,170.3 468.5,170.6 468.1,171.0 467.7,171.3 467.4,171.7 467.0,172.0 466.6,172.4 466.2,172.8 465.8,173.1 465.4,173.4 465.0,173.8 464.7,174.1 464.4,174.4 464.0,174.7 463.6,175.0 463.3,175.3 462.9,175.6 462.5,175.9 462.1,176.2 461.6,176.6 461.2,176.9 460.9,177.2 460.5,177.4 460.1,177.7 459.7,178.0 459.1,178.3 458.8,178.6 458.4,178.8 457.9,179.0 457.4,179.3 457.0,179.5 456.4,179.8 455.9,179.9 455.2,180.1 454.9,180.1 454.9,180.1 M441.9,174.6 441.2,174.7 440.6,174.7 440.6,174.4 440.9,174.1 441.2,173.8 441.8,173.4 442.3,173.2 442.6,173.1 443.4,172.8 443.7,172.7 444.4,172.7 444.9,172.8 444.6,173.1 444.2,173.4 443.7,173.8 443.4,174.0 443.0,174.2 442.3,174.4 441.9,174.6 441.9,174.6 M424.8,183.7 424.1,183.9 423.4,183.8 422.9,183.6 422.4,183.2 422.1,182.9 421.8,182.5 421.6,182.0 421.6,181.5 421.6,180.9 421.9,180.4 422.2,180.1 422.7,179.8 423.1,179.7 423.8,179.5 424.1,179.4 424.6,179.0 424.9,178.7 425.3,178.3 425.6,178.0 426.0,177.6 426.4,177.3 426.9,177.0 427.2,176.9 427.9,176.7 428.6,176.6 429.4,176.6 430.1,176.8 430.5,176.9 431.1,177.2 431.4,177.4 431.9,177.6 432.4,178.0 432.6,178.3 432.5,178.7 432.3,179.4 432.1,180.0 431.9,180.4 431.8,180.8 431.4,181.2 431.1,181.6 430.8,181.9 430.4,182.2 429.7,182.5 429.4,182.7 428.6,182.9 428.3,182.9 427.6,183.0 426.9,183.1 426.2,183.2 425.9,183.3 425.1,183.6 424.8,183.7 424.8,183.7 M417.1,182.9 416.4,183.0 415.7,182.9 415.4,182.8 414.9,182.5 414.5,182.2 414.2,181.8 413.9,181.3 413.8,180.8 413.8,180.1 413.9,179.6 414.2,179.0 414.5,178.7 414.9,178.3 415.4,178.1 415.7,178.0 416.4,177.9 416.8,178.0 417.4,178.2 417.8,178.4 418.2,178.7 418.5,179.1 418.9,179.7 419.0,180.1 419.0,180.8 418.9,181.3 418.6,181.8 418.3,182.2 417.9,182.5 417.4,182.8 417.1,182.9 417.1,182.9 M455.2,179.1 454.9,179.0 454.2,178.9 453.9,178.7 453.5,178.3 453.1,177.9 452.8,177.5 452.5,176.9 452.3,176.6 452.1,176.1 451.9,175.5 451.8,175.2 451.5,174.5 451.4,173.9 451.3,173.4 451.1,172.8 451.1,172.3 451.0,171.7 450.9,171.0 450.9,170.3 450.9,169.6 451.1,169.0 451.1,168.5 451.3,167.8 451.4,167.4 451.5,166.8 451.7,166.1 451.8,165.8 452.0,165.0 452.1,164.7 452.3,164.0 452.5,163.6 452.7,162.9 452.9,162.6 453.1,162.0 453.3,161.5 453.5,161.2 453.8,160.5 454.0,160.2 454.2,159.8 454.6,159.2 454.8,158.8 455.0,158.4 455.2,157.9 455.6,157.3 455.8,157.0 456.0,156.7 456.3,156.2 456.6,155.6 456.9,155.2 457.1,154.9 457.4,154.6 457.7,154.1 458.1,153.6 458.4,153.1 458.6,152.8 458.9,152.4 459.2,152.1 459.5,151.8 459.8,151.4 460.1,151.0 460.5,150.6 460.9,150.3 461.2,150.0 461.7,149.6 462.1,149.3 462.6,149.0 462.9,148.7 463.3,148.5 463.7,148.2 464.2,147.9 464.7,147.6 465.0,147.4 465.4,147.2 466.0,146.8 466.4,146.6 466.8,146.5 467.4,146.1 467.9,146.0 468.3,145.8 468.9,145.6 469.3,145.4 469.9,145.3 470.6,145.1 471.0,145.1 471.7,145.0 472.4,144.9 473.1,144.9 473.8,144.9 474.5,144.9 475.2,144.9 475.9,145.0 476.6,145.0 477.1,145.1 477.6,145.2 478.4,145.3 478.9,145.4 479.4,145.6 479.8,145.8 480.4,146.1 480.8,146.4 481.1,146.7 481.4,147.2 481.6,147.6 481.7,148.2 481.7,148.9 481.7,149.6 481.5,150.3 481.5,150.7 481.3,151.4 481.1,151.8 480.9,152.4 480.8,152.8 480.5,153.5 480.3,153.8 480.1,154.3 479.8,154.9 479.7,155.2 479.4,155.8 479.1,156.3 478.9,156.7 478.7,157.1 478.4,157.7 478.2,158.0 478.0,158.4 477.6,159.0 477.4,159.4 477.2,159.8 476.9,160.2 476.6,160.8 476.3,161.2 476.1,161.5 475.8,161.9 475.5,162.3 475.2,162.8 474.9,163.2 474.5,163.6 474.2,164.0 473.9,164.3 473.6,164.7 473.4,165.0 473.1,165.4 472.8,165.8 472.4,166.2 472.0,166.6 471.7,167.0 471.4,167.3 471.0,167.7 470.6,168.1 470.3,168.4 469.9,168.8 469.6,169.1 469.2,169.5 468.9,169.8 468.5,170.1 468.2,170.4 467.9,170.7 467.5,171.0 467.1,171.3 466.7,171.7 466.3,172.0 465.9,172.4 465.5,172.8 465.1,173.1 464.7,173.4 464.4,173.8 464.0,174.1 463.6,174.4 463.3,174.6 462.9,174.9 462.6,175.2 462.2,175.5 461.7,175.9 461.2,176.2 460.9,176.5 460.5,176.8 460.1,177.0 459.7,177.3 459.1,177.6 458.8,177.9 458.4,178.1 457.8,178.3 457.4,178.5 457.0,178.7 456.3,178.9 455.6,179.0 455.2,179.1 455.2,179.1 M429.4,181.6 428.6,181.8 427.9,181.7 427.3,181.5 426.9,181.3 426.6,180.9 426.4,180.4 426.3,179.8 426.5,179.0 426.7,178.7 426.9,178.3 427.4,178.0 427.9,177.7 428.4,177.6 429.0,177.6 429.4,177.7 430.0,178.0 430.4,178.3 430.7,178.7 430.8,179.0 430.9,179.8 430.8,180.2 430.4,180.8 430.1,181.1 429.7,181.4 429.4,181.6 429.4,181.6 M416.8,181.3 416.1,181.4 415.7,181.1 415.4,180.7 415.3,180.1 415.5,179.8 416.0,179.4 416.4,179.4 416.8,179.5 417.1,179.8 417.3,180.4 417.1,181.0 416.8,181.3 416.8,181.3 M457.0,177.7 456.3,177.8 455.6,177.8 455.1,177.6 454.7,177.3 454.4,176.9 454.1,176.6 453.9,176.2 453.5,175.6 453.3,175.2 453.1,174.7 452.9,174.1 452.8,173.7 452.6,173.1 452.5,172.4 452.4,172.0 452.3,171.3 452.2,170.6 452.2,169.9 452.3,169.2 452.3,168.5 452.4,167.9 452.5,167.5 452.7,166.8 452.8,166.1 452.9,165.8 453.1,165.0 453.2,164.7 453.4,164.0 453.5,163.6 453.7,162.9 453.9,162.6 454.2,161.9 454.3,161.5 454.6,161.0 454.8,160.5 455.0,160.2 455.2,159.6 455.5,159.1 455.7,158.8 455.9,158.3 456.3,157.7 456.5,157.3 456.7,157.0 457.0,156.5 457.4,156.0 457.6,155.6 457.9,155.2 458.1,154.9 458.4,154.5 458.8,154.0 459.1,153.5 459.4,153.1 459.6,152.8 459.9,152.4 460.2,152.1 460.6,151.8 460.9,151.4 461.3,151.1 461.7,150.7 462.1,150.3 462.6,150.0 462.9,149.7 463.3,149.5 463.6,149.3 464.1,148.9 464.7,148.6 465.0,148.4 465.4,148.2 466.0,147.9 466.4,147.7 466.8,147.5 467.5,147.2 467.9,147.0 468.3,146.8 468.9,146.6 469.3,146.5 469.9,146.3 470.6,146.2 471.0,146.1 471.7,146.0 472.4,146.0 473.1,145.9 473.8,145.9 474.5,146.0 475.2,146.0 475.9,146.1 476.6,146.1 476.9,146.2 477.6,146.3 478.3,146.5 478.7,146.6 479.2,146.8 479.8,147.2 480.1,147.4 480.4,147.8 480.7,148.2 480.8,148.7 480.9,149.3 480.9,150.0 480.8,150.5 480.7,151.1 480.5,151.8 480.4,152.1 480.2,152.8 480.0,153.1 479.8,153.8 479.6,154.2 479.4,154.6 479.1,155.2 478.9,155.6 478.7,156.1 478.4,156.7 478.2,157.0 478.0,157.5 477.7,158.0 477.5,158.4 477.3,158.8 476.9,159.4 476.7,159.8 476.5,160.2 476.2,160.6 475.9,161.1 475.6,161.5 475.4,161.9 475.1,162.2 474.8,162.6 474.5,163.0 474.1,163.5 473.8,163.9 473.4,164.3 473.1,164.7 472.9,165.0 472.6,165.4 472.3,165.8 471.9,166.1 471.6,166.4 471.3,166.8 471.0,167.2 470.6,167.5 470.3,167.9 469.9,168.2 469.6,168.6 469.2,168.9 468.9,169.2 468.5,169.6 468.1,169.9 467.7,170.3 467.3,170.6 466.9,171.0 466.5,171.3 466.1,171.7 465.8,172.0 465.4,172.3 465.0,172.5 464.7,172.8 464.4,173.1 464.0,173.4 463.5,173.8 463.1,174.1 462.6,174.5 462.2,174.8 461.9,175.0 461.6,175.3 461.2,175.5 460.7,175.9 460.1,176.2 459.8,176.5 459.4,176.7 458.9,176.9 458.4,177.2 458.1,177.4 457.4,177.6 457.0,177.7 457.0,177.7 M458.1,176.3 457.4,176.5 456.6,176.5 456.1,176.2 455.7,175.9 455.4,175.5 455.2,175.2 454.9,174.8 454.6,174.1 454.4,173.8 454.2,173.3 454.0,172.8 453.9,172.2 453.7,171.7 453.6,171.0 453.5,170.3 453.5,169.6 453.5,168.9 453.6,168.2 453.7,167.5 453.8,166.8 453.9,166.4 454.0,165.8 454.2,165.0 454.3,164.7 454.5,164.0 454.6,163.6 454.8,162.9 454.9,162.6 455.2,161.9 455.3,161.5 455.6,160.9 455.8,160.5 455.9,160.1 456.3,159.4 456.5,159.1 456.6,158.7 457.0,158.1 457.2,157.7 457.5,157.3 457.7,157.0 458.1,156.4 458.4,155.9 458.6,155.6 458.9,155.2 459.1,154.9 459.4,154.5 459.8,154.0 460.1,153.5 460.5,153.1 460.8,152.8 461.1,152.4 461.4,152.1 461.8,151.8 462.2,151.4 462.6,151.1 462.9,150.8 463.3,150.5 463.6,150.3 464.1,150.0 464.7,149.7 465.0,149.5 465.4,149.3 466.0,148.9 466.4,148.7 466.8,148.6 467.5,148.3 467.9,148.1 468.4,147.9 468.9,147.7 469.4,147.6 469.9,147.4 470.6,147.3 471.0,147.2 471.7,147.1 472.4,147.0 473.1,147.0 473.8,147.0 474.5,147.1 475.2,147.1 475.9,147.2 476.2,147.3 476.9,147.4 477.5,147.6 478.0,147.7 478.4,147.9 479.0,148.2 479.4,148.5 479.7,148.9 479.8,149.3 480.0,150.0 480.0,150.7 479.9,151.4 479.8,152.0 479.6,152.4 479.4,153.1 479.3,153.5 479.0,154.0 478.8,154.6 478.7,154.9 478.4,155.6 478.2,155.9 478.0,156.4 477.7,157.0 477.5,157.3 477.3,157.8 477.0,158.4 476.8,158.8 476.6,159.2 476.2,159.8 476.0,160.2 475.8,160.5 475.5,160.9 475.2,161.4 474.9,161.9 474.6,162.2 474.3,162.6 474.1,162.9 473.8,163.3 473.4,163.7 473.1,164.1 472.8,164.5 472.4,164.9 472.0,165.4 471.7,165.8 471.4,166.1 471.1,166.4 470.8,166.8 470.4,167.1 470.1,167.5 469.7,167.8 469.4,168.2 469.0,168.5 468.6,168.9 468.2,169.2 467.9,169.6 467.5,169.9 467.1,170.2 466.8,170.5 466.4,170.7 466.1,171.0 465.7,171.3 465.3,171.7 464.9,172.0 464.4,172.4 464.0,172.7 463.6,173.0 463.3,173.3 462.9,173.5 462.6,173.8 462.1,174.1 461.6,174.5 461.2,174.8 460.9,175.0 460.5,175.2 459.9,175.5 459.4,175.8 459.1,175.9 458.4,176.2 458.1,176.3 458.1,176.3 M458.8,174.9 458.1,175.0 457.4,174.9 457.0,174.6 456.6,174.2 456.3,173.8 456.1,173.4 455.9,173.1 455.6,172.6 455.4,172.0 455.2,171.7 455.1,171.0 454.9,170.3 454.9,169.8 454.9,169.2 454.9,168.5 454.9,168.2 455.0,167.5 455.1,166.8 455.2,166.1 455.2,165.7 455.4,165.0 455.5,164.3 455.6,164.0 455.8,163.3 455.9,162.8 456.1,162.2 456.3,161.8 456.5,161.2 456.7,160.8 457.0,160.2 457.1,159.8 457.4,159.4 457.7,158.8 457.9,158.4 458.1,158.0 458.4,157.6 458.8,157.0 459.0,156.7 459.3,156.3 459.5,155.9 459.8,155.5 460.1,155.1 460.5,154.6 460.8,154.2 461.1,153.8 461.4,153.5 461.7,153.1 462.0,152.8 462.4,152.4 462.8,152.1 463.2,151.8 463.6,151.4 464.0,151.2 464.4,151.0 464.8,150.7 465.4,150.4 465.8,150.2 466.1,150.0 466.8,149.7 467.1,149.5 467.7,149.3 468.2,149.1 468.6,148.9 469.2,148.7 469.8,148.6 470.3,148.5 471.0,148.3 471.6,148.2 472.0,148.2 472.8,148.2 473.4,148.2 474.1,148.2 474.7,148.2 475.2,148.3 475.9,148.5 476.5,148.6 476.9,148.8 477.4,148.9 478.0,149.3 478.4,149.5 478.7,149.9 478.9,150.3 479.0,151.1 478.9,151.8 478.8,152.4 478.7,153.0 478.5,153.5 478.4,154.0 478.1,154.6 478.0,154.9 477.7,155.6 477.6,155.9 477.3,156.6 477.1,157.0 476.9,157.4 476.6,158.0 476.5,158.4 476.2,158.8 475.9,159.4 475.7,159.8 475.5,160.2 475.2,160.6 474.9,161.1 474.6,161.5 474.3,161.9 474.0,162.2 473.8,162.6 473.4,163.0 473.1,163.4 472.8,163.9 472.4,164.3 472.0,164.7 471.7,165.0 471.4,165.4 471.1,165.8 470.8,166.1 470.5,166.4 470.1,166.8 469.8,167.1 469.4,167.5 469.1,167.8 468.7,168.2 468.3,168.5 467.9,168.9 467.5,169.2 467.1,169.5 466.8,169.8 466.4,170.1 466.1,170.4 465.7,170.6 465.3,171.0 464.8,171.3 464.4,171.7 464.0,172.0 463.6,172.2 463.3,172.5 462.9,172.8 462.4,173.1 461.9,173.4 461.6,173.7 461.2,173.9 460.7,174.1 460.1,174.4 459.8,174.6 459.1,174.8 458.8,174.9 458.8,174.9 M460.5,173.2 459.8,173.4 459.1,173.4 458.4,173.2 458.1,172.9 457.7,172.6 457.4,172.1 457.1,171.7 456.9,171.3 456.6,170.7 456.6,170.3 456.4,169.6 456.4,168.9 456.3,168.2 456.4,167.5 456.4,166.8 456.5,166.1 456.6,165.4 456.7,165.0 456.8,164.3 457.0,163.6 457.0,163.3 457.2,162.6 457.4,162.2 457.6,161.5 457.7,161.2 458.0,160.5 458.2,160.2 458.4,159.7 458.7,159.1 458.9,158.8 459.1,158.4 459.4,157.9 459.8,157.3 460.0,157.0 460.3,156.7 460.5,156.3 460.9,155.8 461.2,155.4 461.5,154.9 461.8,154.6 462.1,154.2 462.4,153.8 462.8,153.5 463.1,153.1 463.5,152.8 464.0,152.4 464.4,152.2 464.7,152.0 465.0,151.7 465.7,151.4 466.1,151.2 466.4,151.0 467.1,150.7 467.5,150.5 468.0,150.3 468.5,150.2 469.0,150.0 469.6,149.8 470.3,149.7 470.6,149.6 471.4,149.5 472.0,149.4 472.8,149.4 473.4,149.4 474.1,149.5 474.9,149.6 475.2,149.7 475.9,149.9 476.2,150.0 476.9,150.3 477.3,150.6 477.6,151.0 477.8,151.4 477.9,152.1 477.8,152.8 477.7,153.5 477.6,153.8 477.4,154.6 477.3,154.9 477.0,155.6 476.9,155.9 476.6,156.7 476.5,157.0 476.2,157.5 476.0,158.0 475.9,158.4 475.5,159.0 475.3,159.4 475.1,159.8 474.9,160.3 474.5,160.8 474.2,161.2 474.0,161.5 473.7,161.9 473.4,162.2 473.1,162.7 472.8,163.1 472.4,163.5 472.0,163.9 471.7,164.3 471.4,164.7 471.1,165.0 470.8,165.4 470.5,165.8 470.1,166.1 469.8,166.4 469.5,166.8 469.1,167.1 468.7,167.5 468.3,167.8 467.9,168.2 467.5,168.5 467.1,168.8 466.8,169.1 466.4,169.4 466.1,169.6 465.7,169.9 465.2,170.3 464.7,170.6 464.4,170.9 464.0,171.2 463.6,171.4 463.2,171.7 462.7,172.0 462.2,172.3 461.9,172.5 461.4,172.8 460.9,173.0 460.5,173.2 460.5,173.2 M460.9,171.7 460.1,171.7 459.8,171.6 459.4,171.3 459.0,171.0 458.8,170.6 458.4,170.0 458.3,169.6 458.1,168.9 458.0,168.5 458.0,167.8 458.0,167.1 458.0,166.4 458.1,165.9 458.1,165.4 458.2,164.7 458.3,164.0 458.4,163.6 458.5,162.9 458.7,162.2 458.9,161.9 459.1,161.2 459.3,160.8 459.4,160.4 459.8,159.8 460.0,159.4 460.1,159.1 460.5,158.5 460.8,158.0 461.0,157.7 461.2,157.3 461.6,156.9 461.9,156.4 462.2,155.9 462.5,155.6 462.7,155.2 463.0,154.9 463.3,154.6 463.7,154.2 464.0,153.8 464.5,153.5 464.9,153.1 465.4,152.8 465.8,152.6 466.1,152.4 466.8,152.1 467.1,151.9 467.6,151.8 468.2,151.5 468.5,151.4 469.2,151.2 469.8,151.1 470.3,150.9 471.0,150.8 471.7,150.8 472.4,150.7 473.1,150.8 473.8,150.9 474.5,151.0 474.9,151.1 475.4,151.4 475.9,151.7 476.2,152.0 476.6,152.4 476.6,152.8 476.7,153.5 476.6,154.1 476.5,154.6 476.3,155.2 476.2,155.6 476.0,156.3 475.9,156.7 475.7,157.3 475.5,157.7 475.2,158.4 475.0,158.8 474.9,159.1 474.5,159.8 474.3,160.2 474.1,160.5 473.8,160.9 473.4,161.4 473.1,161.8 472.8,162.2 472.5,162.6 472.2,162.9 471.9,163.3 471.6,163.6 471.3,164.0 471.0,164.4 470.6,164.7 470.3,165.1 469.9,165.5 469.6,165.9 469.2,166.2 468.9,166.6 468.5,166.9 468.2,167.2 467.9,167.5 467.4,167.8 467.0,168.2 466.5,168.5 466.1,168.8 465.8,169.1 465.4,169.3 465.0,169.6 464.5,169.9 464.0,170.3 463.6,170.5 463.3,170.7 462.7,171.0 462.2,171.2 461.9,171.4 461.2,171.6 460.9,171.7 460.9,171.7 M462.9,169.6 462.2,169.8 461.6,169.8 461.1,169.6 460.7,169.2 460.5,168.9 460.1,168.3 460.0,167.8 459.9,167.1 459.9,166.4 459.9,165.8 459.9,165.0 460.0,164.3 460.1,163.6 460.2,163.3 460.4,162.6 460.5,162.2 460.7,161.5 460.9,161.2 461.2,160.5 461.4,160.2 461.6,159.8 461.9,159.1 462.1,158.8 462.3,158.4 462.6,157.9 462.9,157.3 463.1,157.0 463.4,156.7 463.6,156.3 464.0,155.8 464.4,155.4 464.7,155.0 465.0,154.7 465.4,154.4 465.8,154.1 466.2,153.8 466.8,153.5 467.1,153.3 467.5,153.1 468.2,152.9 468.5,152.8 469.2,152.5 469.6,152.4 470.3,152.3 471.0,152.2 471.7,152.2 472.4,152.3 473.1,152.4 473.4,152.5 474.1,152.8 474.5,153.0 474.9,153.2 475.2,153.7 475.4,154.2 475.4,154.9 475.3,155.6 475.2,156.2 475.1,156.7 474.9,157.3 474.8,157.7 474.5,158.3 474.3,158.8 474.1,159.1 473.8,159.7 473.5,160.2 473.3,160.5 473.1,160.8 472.8,161.3 472.4,161.8 472.0,162.2 471.7,162.6 471.4,162.9 471.1,163.3 470.8,163.6 470.5,164.0 470.2,164.3 469.9,164.7 469.5,165.0 469.2,165.4 468.8,165.8 468.5,166.1 468.1,166.4 467.7,166.8 467.2,167.1 466.8,167.5 466.4,167.7 466.1,167.9 465.7,168.2 465.1,168.5 464.7,168.8 464.4,169.0 463.8,169.2 463.3,169.5 462.9,169.6 462.9,169.6 M464.4,167.5 463.6,167.6 463.3,167.5 462.9,167.1 462.6,166.6 462.4,166.1 462.3,165.4 462.3,164.7 462.4,164.0 462.5,163.3 462.6,162.8 462.7,162.2 462.9,161.6 463.1,161.2 463.3,160.7 463.5,160.2 463.7,159.8 464.0,159.1 464.2,158.8 464.4,158.4 464.7,157.8 465.0,157.3 465.2,157.0 465.5,156.7 465.8,156.3 466.1,155.9 466.5,155.6 466.9,155.2 467.5,154.9 467.9,154.7 468.2,154.5 468.9,154.3 469.2,154.2 469.9,154.0 470.6,153.9 471.4,153.9 472.0,154.0 472.6,154.2 473.1,154.4 473.4,154.7 473.8,155.0 474.0,155.6 474.1,156.3 474.0,157.0 473.8,157.7 473.7,158.0 473.4,158.7 473.3,159.1 473.1,159.4 472.8,160.0 472.4,160.5 472.2,160.8 471.9,161.2 471.6,161.5 471.4,161.9 471.0,162.3 470.6,162.7 470.3,163.1 469.9,163.5 469.6,163.9 469.2,164.3 468.9,164.6 468.5,164.9 468.2,165.3 467.9,165.6 467.5,165.9 467.1,166.1 466.7,166.4 466.1,166.8 465.8,167.0 465.4,167.1 464.7,167.4 464.4,167.5 464.4,167.5 M466.4,164.8 465.8,164.8 465.5,164.3 465.4,163.9 465.4,163.3 465.4,162.9 465.5,162.2 465.7,161.5 465.8,161.2 466.1,160.5 466.2,160.2 466.4,159.6 466.7,159.1 466.9,158.8 467.1,158.3 467.5,157.8 467.9,157.5 468.2,157.1 468.5,156.9 468.9,156.7 469.6,156.4 469.9,156.3 470.6,156.2 471.3,156.3 471.7,156.4 472.1,156.7 472.4,157.1 472.5,157.7 472.4,158.1 472.2,158.8 472.0,159.1 471.7,159.7 471.4,160.2 471.2,160.5 470.9,160.8 470.6,161.2 470.3,161.6 469.9,162.0 469.6,162.3 469.2,162.7 468.9,163.1 468.5,163.4 468.2,163.7 467.9,164.0 467.4,164.3 466.8,164.7 466.4,164.8 466.4,164.8" fill="none" stroke="#000" stroke-width="1.0" stroke-linejoin="round"/>
<path d="M333.5,26.5H510.8V203.3" fill="none" stroke="#555" stroke-width="1.3"/>
<path d="M386.9,203.3V30.6H438.8V203.3" fill="none" stroke="#3c3c3c" stroke-width="1.2" stroke-dasharray="3 2.3"/><path d="M386.9,152.6H438.8" fill="none" stroke="#3c3c3c" stroke-width="1.2" stroke-dasharray="3 2.3"/><path d="M440,140L487,100.8L502,105" fill="none" stroke="#3c3c3c" stroke-width="1.2" stroke-dasharray="3 2.3"/><path d="M441,176L450,203" fill="none" stroke="#3c3c3c" stroke-width="1.2" stroke-dasharray="3 2.3"/>
<path d="M329.5,203.3H510.8" stroke="#111" stroke-width="1.3"/>
<path d="M333.5,26.5V207.8" stroke="#333" stroke-width="1.2"/>
<path d="M377.8,203.3v4.5" stroke="#444" stroke-width="1"/>
<path d="M422.1,203.3v4.5" stroke="#444" stroke-width="1"/>
<path d="M466.5,203.3v4.5" stroke="#444" stroke-width="1"/>
<path d="M510.8,203.3v4.5" stroke="#444" stroke-width="1"/>
<path d="M333.5,26.5h-4.5" stroke="#444" stroke-width="1"/>
<path d="M333.5,70.7h-4.5" stroke="#444" stroke-width="1"/>
<path d="M333.5,114.9h-4.5" stroke="#444" stroke-width="1"/>
<path d="M333.5,159.1h-4.5" stroke="#444" stroke-width="1"/>
<path d="M346.8,203.3v2.6 M333.5,190.0h-2.6 M354.6,203.3v2.6 M333.5,182.2h-2.6 M360.2,203.3v2.6 M333.5,176.7h-2.6 M364.5,203.3v2.6 M333.5,172.4h-2.6 M368.0,203.3v2.6 M333.5,168.9h-2.6 M371.0,203.3v2.6 M333.5,165.9h-2.6 M373.5,203.3v2.6 M333.5,163.4h-2.6 M375.8,203.3v2.6 M333.5,161.1h-2.6 M391.2,203.3v2.6 M333.5,145.8h-2.6 M399.0,203.3v2.6 M333.5,138.0h-2.6 M404.5,203.3v2.6 M333.5,132.5h-2.6 M408.8,203.3v2.6 M333.5,128.2h-2.6 M412.3,203.3v2.6 M333.5,124.7h-2.6 M415.3,203.3v2.6 M333.5,121.7h-2.6 M417.9,203.3v2.6 M333.5,119.2h-2.6 M420.1,203.3v2.6 M333.5,116.9h-2.6 M435.5,203.3v2.6 M333.5,101.6h-2.6 M443.3,203.3v2.6 M333.5,93.8h-2.6 M448.8,203.3v2.6 M333.5,88.3h-2.6 M453.1,203.3v2.6 M333.5,84.0h-2.6 M456.6,203.3v2.6 M333.5,80.5h-2.6 M459.6,203.3v2.6 M333.5,77.5h-2.6 M462.2,203.3v2.6 M333.5,75.0h-2.6 M464.4,203.3v2.6 M333.5,72.7h-2.6 M479.8,203.3v2.6 M333.5,57.4h-2.6 M487.6,203.3v2.6 M333.5,49.6h-2.6 M493.2,203.3v2.6 M333.5,44.1h-2.6 M497.5,203.3v2.6 M333.5,39.8h-2.6 M501.0,203.3v2.6 M333.5,36.3h-2.6 M503.9,203.3v2.6 M333.5,33.3h-2.6 M506.5,203.3v2.6 M333.5,30.8h-2.6 M508.8,203.3v2.6 M333.5,28.5h-2.6" stroke="#777" stroke-width="0.7"/>
<text transform="translate(319.6,206.8) scale(0.86,1)" font-size="11.0" text-anchor="end" font-weight="bold">10</text>
<text transform="translate(321.6,203.4) scale(0.9,1)" font-size="9.4" font-weight="bold">0</text>
<text transform="translate(319.6,162.6) scale(0.86,1)" font-size="11.0" text-anchor="end" font-weight="bold">10</text>
<text transform="translate(321.6,159.2) scale(0.9,1)" font-size="9.4" font-weight="bold">1</text>
<text transform="translate(319.6,118.4) scale(0.86,1)" font-size="11.0" text-anchor="end" font-weight="bold">10</text>
<text transform="translate(321.6,115.0) scale(0.9,1)" font-size="9.4" font-weight="bold">2</text>
<text transform="translate(319.6,74.2) scale(0.86,1)" font-size="11.0" text-anchor="end" font-weight="bold">10</text>
<text transform="translate(321.6,70.8) scale(0.9,1)" font-size="9.4" font-weight="bold">3</text>
<text transform="translate(319.6,30.0) scale(0.86,1)" font-size="11.0" text-anchor="end" font-weight="bold">10</text>
<text transform="translate(321.6,26.6) scale(0.9,1)" font-size="9.4" font-weight="bold">4</text>
<text transform="translate(336.7,220.6) scale(0.86,1)" font-size="11.0" text-anchor="end" font-weight="bold">10</text>
<text transform="translate(338.1,217.5) scale(0.9,1)" font-size="9.4" font-weight="bold">0</text>
<text transform="translate(381.0,220.6) scale(0.86,1)" font-size="11.0" text-anchor="end" font-weight="bold">10</text>
<text transform="translate(382.4,217.5) scale(0.9,1)" font-size="9.4" font-weight="bold">1</text>
<text transform="translate(425.3,220.6) scale(0.86,1)" font-size="11.0" text-anchor="end" font-weight="bold">10</text>
<text transform="translate(426.8,217.5) scale(0.9,1)" font-size="9.4" font-weight="bold">2</text>
<text transform="translate(469.7,220.6) scale(0.86,1)" font-size="11.0" text-anchor="end" font-weight="bold">10</text>
<text transform="translate(471.1,217.5) scale(0.9,1)" font-size="9.4" font-weight="bold">3</text>
<text transform="translate(514.0,220.6) scale(0.86,1)" font-size="11.0" text-anchor="end" font-weight="bold">10</text>
<text transform="translate(515.4,217.5) scale(0.9,1)" font-size="9.4" font-weight="bold">4</text>
<text x="338" y="90.9" font-size="16" font-weight="bold">16.1%</text>
<text x="449.8" y="90.8" font-size="16" font-weight="bold">56.5%</text>
<text x="337.6" y="181.8" font-size="16" font-weight="bold">26.7%</text>
<text x="101.6" y="247.5" font-size="14" font-weight="bold" textLength="123.5" lengthAdjust="spacingAndGlyphs">+<tspan font-weight="normal" font-family="Liberation Serif" font-size="15.5">α</tspan>IgM 42 <tspan font-weight="normal" font-family="Liberation Serif" font-size="15.5">μ</tspan>g/mL</text>
<path d="M183.4,435.0 182.8,435.0 182.1,435.0 181.3,435.0 180.6,435.0 179.9,435.0 179.2,435.0 178.6,435.0 177.8,435.0 177.1,435.0 176.4,435.0 175.8,435.0 175.1,435.0 174.3,435.0 173.6,435.0 172.9,435.0 172.2,435.0 171.6,435.0 170.8,435.0 170.1,435.0 169.4,435.0 168.8,435.0 168.1,435.0 167.3,435.0 166.6,435.0 165.9,435.0 165.2,435.0 164.6,435.0 163.8,435.0 163.1,435.0 162.4,435.0 161.8,435.0 161.1,435.0 160.3,435.0 159.6,435.0 158.9,435.0 158.2,435.0 157.6,435.0 156.8,435.0 156.1,435.0 155.4,435.0 154.8,435.0 154.1,435.0 153.3,435.0 152.6,435.0 151.9,435.0 151.2,435.0 150.6,435.0 149.8,435.0 149.1,435.0 148.4,435.0 147.8,435.0 147.1,435.0 146.3,435.0 145.6,435.0 144.9,435.0 144.2,435.0 143.6,435.0 142.8,435.0 142.1,435.0 141.4,435.0 140.8,435.0 140.1,435.0 139.3,435.0 138.6,435.0 137.9,435.0 137.2,435.0 136.6,435.0 135.8,435.0 135.1,435.0 134.4,435.0 134.4,434.8 134.4,434.1 134.5,433.8 134.5,433.0 134.6,432.4 134.6,431.6 134.6,430.9 134.5,430.2 134.5,429.5 134.4,429.2 134.3,428.5 134.1,427.8 134.0,427.4 133.8,426.8 133.7,426.4 133.5,425.7 133.4,425.2 133.2,424.6 133.1,424.0 132.9,423.6 132.7,422.9 132.6,422.5 132.4,421.9 132.3,421.5 132.1,420.8 132.0,420.4 131.8,419.8 131.7,419.0 131.7,418.6 131.6,418.0 131.5,417.3 131.5,416.6 131.4,415.9 131.4,415.2 131.5,414.5 131.5,413.8 131.6,413.1 131.7,412.7 131.7,412.0 131.8,411.4 131.9,410.6 132.0,410.3 132.1,409.6 132.2,408.9 132.3,408.2 132.3,407.6 132.4,407.1 132.6,406.4 132.7,405.8 132.8,405.4 133.1,404.7 133.2,404.4 133.4,403.8 133.6,403.3 133.8,402.9 134.1,402.3 134.3,401.9 134.5,401.5 134.8,400.9 135.0,400.5 135.2,400.1 135.5,399.7 135.8,399.1 136.1,398.8 136.3,398.4 136.6,398.0 136.9,397.5 137.2,397.0 137.5,396.6 137.7,396.3 137.9,395.9 138.3,395.4 138.6,394.9 138.8,394.5 139.0,394.2 139.3,393.6 139.6,393.1 139.8,392.8 140.1,392.3 140.3,391.8 140.4,391.3 140.5,390.7 140.6,390.0 140.7,389.3 140.7,388.6 140.8,388.2 140.8,387.6 140.8,386.9 140.9,386.1 140.9,385.4 141.0,384.8 141.0,384.1 140.9,383.4 140.8,382.6 140.8,382.1 140.6,381.6 140.5,380.9 140.4,380.6 140.3,379.9 140.2,379.1 140.2,378.4 140.2,377.8 140.3,377.1 140.4,376.4 140.5,376.0 140.6,375.3 140.8,374.7 140.9,374.2 141.0,373.6 141.1,373.1 141.2,372.5 141.4,371.8 141.5,371.4 141.6,370.8 141.8,370.1 141.9,369.7 142.0,369.0 142.1,368.3 142.1,367.7 142.2,367.2 142.2,366.6 142.1,366.2 142.0,365.5 141.9,364.8 141.8,364.1 141.7,363.8 141.6,363.1 141.5,362.4 141.5,361.6 141.5,360.9 141.5,360.2 141.6,359.6 141.8,358.9 141.9,358.5 142.0,357.8 142.1,357.1 142.2,356.8 142.2,356.1 142.2,355.4 142.2,354.6 142.1,354.3 142.0,353.6 141.8,352.9 141.7,352.6 141.6,351.9 141.5,351.1 141.5,350.4 141.5,349.8 141.5,349.1 141.5,348.4 141.4,347.7 141.4,347.3 141.3,346.6 141.1,346.0 141.0,345.6 140.8,344.9 140.7,344.5 140.5,343.8 140.4,343.4 140.3,342.8 140.2,342.1 140.2,341.4 140.1,340.6 140.2,339.9 140.2,339.2 140.3,338.6 140.4,337.9 140.4,337.5 140.5,336.8 140.6,336.1 140.7,335.4 140.8,335.1 140.8,334.4 140.8,333.6 140.8,333.1 140.7,332.6 140.6,331.9 140.5,331.2 140.5,330.5 140.5,329.8 140.5,329.1 140.7,328.4 140.8,328.1 141.1,327.4 141.3,327.0 141.4,326.6 141.8,326.0 142.0,325.6 142.2,325.2 142.5,324.7 142.7,324.2 142.8,323.7 143.0,323.1 143.1,322.4 143.1,321.8 143.0,321.1 142.9,320.4 142.8,320.0 142.7,319.3 142.5,318.6 142.4,318.2 142.3,317.6 142.1,317.2 142.0,316.5 141.8,315.9 141.7,315.4 141.4,314.8 141.3,314.4 141.1,313.9 140.8,313.4 140.6,313.0 140.4,312.6 140.1,312.0 139.7,311.6 139.5,311.2 139.2,310.9 139.0,310.6 138.6,310.2 138.3,309.7 137.9,309.3 137.6,308.8 137.4,308.4 137.1,308.1 136.9,307.7 136.6,307.2 136.3,306.7 136.1,306.4 135.8,305.9 135.5,305.3 135.3,304.9 135.1,304.6 134.8,304.0 134.5,303.6 134.3,303.2 134.1,302.8 133.8,302.3 133.4,301.8 133.2,301.4 132.9,301.1 132.6,300.8 132.3,300.4 132.0,300.0 131.7,299.6 131.3,299.1 131.0,298.6 130.7,298.3 130.5,297.9 130.2,297.4 130.1,296.9 129.9,296.3 129.9,295.9 129.9,295.3 130.0,294.8 130.2,294.4 130.6,293.9 130.9,293.6 131.3,293.3 131.7,293.1 132.3,292.7 132.7,292.6 133.3,292.4 133.8,292.2 134.3,292.0 134.8,291.8 135.5,291.7 135.8,291.6 136.6,291.4 137.0,291.3 137.6,291.1 138.3,291.0 138.6,290.9 139.3,290.7 139.9,290.6 140.4,290.5 141.1,290.3 141.4,290.2 142.1,290.1 142.8,289.9 143.2,289.9 143.9,289.7 144.6,289.6 144.9,289.5 145.6,289.4 146.3,289.3 146.7,289.2 147.4,289.1 148.1,289.1 148.8,289.1 149.5,289.1 150.2,289.2 150.6,289.2 151.2,289.4 151.9,289.5 152.3,289.6 153.0,289.7 153.7,289.8 154.4,289.9 154.8,289.9 155.4,290.0 156.1,290.1 156.8,290.2 157.2,290.3 157.9,290.5 158.2,290.6 158.9,290.9 159.3,291.0 159.9,291.3 160.3,291.5 160.7,291.8 161.1,292.0 161.6,292.4 162.1,292.7 162.4,292.9 162.8,293.2 163.1,293.4 163.6,293.8 164.0,294.1 164.4,294.4 164.7,294.8 165.0,295.1 165.3,295.5 165.6,296.1 165.8,296.6 165.9,297.2 165.8,297.9 165.6,298.6 165.5,299.0 165.2,299.5 164.9,300.0 164.6,300.4 164.3,300.8 164.0,301.1 163.6,301.4 163.3,301.8 162.9,302.1 162.6,302.5 162.4,302.9 162.1,303.3 161.9,303.9 161.8,304.6 161.8,305.3 161.8,306.0 161.8,306.7 161.8,307.4 161.9,308.1 161.9,308.8 162.0,309.5 162.0,310.2 162.1,310.9 162.1,311.6 162.1,311.9 162.2,312.6 162.2,313.4 162.2,314.1 162.3,314.8 162.4,315.4 162.4,316.1 162.5,316.5 162.6,317.2 162.7,317.9 162.8,318.6 162.8,318.9 163.0,319.6 163.1,320.4 163.1,320.7 163.3,321.4 163.4,322.1 163.5,322.8 163.5,323.1 163.6,323.9 163.6,324.6 163.5,325.2 163.5,325.6 163.4,326.3 163.2,327.0 163.1,327.4 163.0,328.1 162.8,328.5 162.6,329.1 162.4,329.5 162.2,330.1 162.1,330.5 161.9,331.2 161.8,331.6 161.6,332.2 161.4,332.9 161.4,333.3 161.3,334.0 161.3,334.7 161.4,335.4 161.4,335.9 161.5,336.4 161.6,337.1 161.6,337.9 161.7,338.6 161.8,338.9 161.8,339.6 161.9,340.3 161.9,341.0 162.0,341.7 162.1,342.1 162.2,342.8 162.4,343.4 162.5,343.8 162.8,344.5 163.0,344.9 163.1,345.3 163.5,345.9 163.6,346.2 163.8,346.7 164.1,347.3 164.3,347.6 164.6,348.3 164.7,348.7 164.8,349.4 164.9,349.9 165.0,350.4 165.0,351.1 164.9,351.9 164.9,352.4 164.9,352.9 164.8,353.6 164.7,354.3 164.6,355.0 164.6,355.6 164.5,356.1 164.5,356.8 164.5,357.4 164.4,358.1 164.4,358.9 164.4,359.6 164.4,360.2 164.4,360.9 164.4,361.6 164.4,362.4 164.3,363.1 164.3,363.8 164.2,364.4 164.1,364.8 164.0,365.5 163.9,366.2 163.8,366.6 163.7,367.2 163.6,367.9 163.5,368.3 163.3,369.0 163.2,369.7 163.1,370.1 163.0,370.8 163.0,371.4 162.9,372.1 162.9,372.9 162.9,373.6 162.9,374.2 163.0,374.9 163.0,375.6 163.1,376.4 163.1,376.8 163.3,377.4 163.4,378.1 163.5,378.8 163.6,379.1 163.7,379.9 163.8,380.6 163.8,381.2 163.9,381.6 163.9,382.3 164.0,383.0 164.1,383.7 164.2,384.2 164.3,384.8 164.5,385.4 164.7,385.8 164.9,386.3 165.2,386.9 165.5,387.2 165.9,387.6 166.3,387.9 166.6,388.1 167.0,388.4 167.4,388.6 168.1,388.9 168.4,389.0 169.1,389.2 169.8,389.3 170.1,389.3 170.8,389.3 171.2,389.3 171.9,389.2 172.6,389.1 173.0,388.9 173.6,388.8 174.1,388.6 174.7,388.4 175.1,388.2 175.7,387.9 176.1,387.7 176.4,387.5 177.1,387.2 177.5,387.0 177.9,386.9 178.6,386.6 178.9,386.4 179.5,386.1 179.9,386.0 180.3,385.8 181.0,385.5 181.3,385.3 181.8,385.1 182.4,384.8 182.8,384.6 183.1,384.4 183.6,384.1 184.1,383.7 184.5,383.5 184.8,383.2 185.2,383.0 185.7,382.6 186.2,382.3 186.6,382.0 186.9,381.7 187.3,381.5 187.7,381.2 188.2,380.9 188.7,380.6 189.1,380.4 189.4,380.1 189.8,379.9 190.2,379.5 190.6,379.1 191.1,378.8 191.4,378.4 191.8,378.1 192.2,377.8 192.6,377.5 192.9,377.2 193.2,377.0 193.6,376.7 194.1,376.4 194.6,376.0 195.0,375.8 195.3,375.5 195.7,375.3 196.1,374.9 196.5,374.6 196.9,374.2 197.3,373.9 197.6,373.6 198.0,373.2 198.3,372.9 198.7,372.5 199.0,372.1 199.4,371.8 199.8,371.4 200.2,371.1 200.6,370.9 200.9,370.7 201.4,370.4 202.0,370.1 202.3,370.0 203.0,369.7 203.4,369.6 204.1,369.4 204.4,369.3 205.1,369.0 205.5,368.9 206.0,368.6 206.5,368.4 206.9,368.3 207.6,368.0 207.9,367.8 208.6,367.6 209.0,367.6 209.7,367.5 210.4,367.6 210.8,367.6 211.4,367.9 211.8,368.0 212.3,368.3 212.8,368.6 213.2,368.8 213.7,369.0 214.2,369.3 214.6,369.6 214.9,369.8 215.3,370.1 215.6,370.4 216.0,370.8 216.3,371.2 216.7,371.6 217.0,372.0 217.4,372.3 217.8,372.6 218.1,372.9 218.6,373.2 219.1,373.6 219.5,373.8 219.8,374.1 220.2,374.4 220.5,374.6 220.9,374.9 221.3,375.3 221.7,375.6 222.0,376.0 222.3,376.4 222.6,376.9 222.9,377.4 223.0,377.9 223.1,378.4 223.1,379.1 223.1,379.9 223.0,380.6 223.0,380.9 222.8,381.6 222.6,382.3 222.5,382.6 222.3,383.3 222.1,383.7 221.9,384.1 221.7,384.8 221.5,385.1 221.2,385.5 220.9,386.1 220.7,386.5 220.5,386.9 220.2,387.3 219.8,387.9 219.6,388.2 219.4,388.6 219.1,389.0 218.8,389.6 218.6,390.0 218.4,390.4 218.1,390.9 217.9,391.4 217.7,391.8 217.5,392.4 217.4,392.8 217.3,393.5 217.2,394.2 217.1,394.9 217.0,395.2 216.9,395.9 216.8,396.6 216.7,397.4 216.7,397.7 216.6,398.4 216.4,399.1 216.3,399.4 216.2,400.1 216.0,400.7 215.8,401.2 215.6,401.8 215.5,402.2 215.3,402.8 215.1,403.3 214.9,403.7 214.7,404.4 214.6,404.7 214.3,405.4 214.1,405.8 213.9,406.2 213.6,406.8 213.4,407.1 213.2,407.5 212.8,408.0 212.5,408.5 212.1,408.9 211.8,409.2 211.4,409.6 211.1,409.9 210.8,410.2 210.4,410.5 210.0,410.7 209.7,411.0 209.1,411.4 208.6,411.7 208.3,411.9 207.9,412.2 207.6,412.4 207.1,412.8 206.6,413.1 206.2,413.4 205.8,413.6 205.5,413.9 205.1,414.2 204.8,414.5 204.3,414.9 203.9,415.2 203.5,415.5 203.2,415.9 202.8,416.2 202.5,416.6 202.2,416.9 201.8,417.3 201.5,417.6 201.2,418.0 200.8,418.4 200.5,418.7 200.1,419.0 199.7,419.4 199.3,419.8 198.8,420.1 198.5,420.3 198.2,420.6 197.8,420.8 197.4,421.1 196.9,421.5 196.5,421.9 196.1,422.2 195.8,422.5 195.4,422.9 195.1,423.2 194.7,423.6 194.4,423.9 194.1,424.3 193.7,424.6 193.3,425.0 192.9,425.3 192.6,425.6 192.2,425.8 191.8,426.1 191.4,426.4 190.9,426.8 190.4,427.1 190.1,427.3 189.8,427.6 189.4,427.9 189.0,428.1 188.6,428.5 188.2,428.9 187.8,429.2 187.4,429.5 187.0,429.9 186.6,430.2 186.3,430.6 185.9,430.9 185.6,431.3 185.3,431.6 185.0,432.0 184.7,432.4 184.5,432.7 184.1,433.2 183.9,433.8 183.8,434.1 183.7,434.8 183.4,435.0 183.4,435.0 M181.0,435.0 180.3,435.0 179.6,435.0 178.9,435.0 178.2,435.0 177.5,435.0 176.8,435.0 176.1,435.0 175.4,435.0 174.7,435.0 174.0,435.0 173.3,435.0 172.6,435.0 171.9,435.0 171.2,435.0 170.5,435.0 169.8,435.0 169.1,435.0 168.4,435.0 167.7,435.0 167.0,435.0 166.3,435.0 165.6,435.0 164.9,435.0 164.2,435.0 163.5,435.0 162.8,435.0 162.1,435.0 161.4,435.0 160.7,435.0 160.0,435.0 159.3,435.0 158.6,435.0 157.9,435.0 157.2,435.0 156.5,435.0 155.8,435.0 155.1,435.0 154.4,435.0 153.7,435.0 153.0,435.0 152.3,435.0 151.6,435.0 150.9,435.0 150.2,435.0 149.5,435.0 148.8,435.0 148.1,435.0 147.4,435.0 146.7,435.0 146.0,435.0 145.3,435.0 144.6,435.0 143.9,435.0 143.2,435.0 142.5,435.0 141.8,435.0 141.1,435.0 140.4,435.0 139.7,435.0 139.0,435.0 138.3,435.0 137.6,435.0 137.5,434.8 137.5,434.1 137.6,433.4 137.6,433.0 137.7,432.4 137.7,431.6 137.6,431.2 137.5,430.6 137.2,430.0 137.1,429.5 136.9,429.2 136.6,428.5 136.4,428.1 136.2,427.8 135.8,427.2 135.6,426.8 135.5,426.4 135.2,425.7 135.0,425.4 134.8,424.8 134.6,424.3 134.4,423.8 134.3,423.2 134.1,422.7 133.9,422.2 133.8,421.5 133.6,421.1 133.5,420.4 133.4,420.1 133.3,419.4 133.1,418.7 133.1,418.2 133.0,417.6 132.9,416.9 132.8,416.2 132.8,415.5 132.8,414.9 132.8,414.1 132.9,413.4 133.0,412.8 133.1,412.3 133.2,411.7 133.3,411.0 133.4,410.4 133.5,409.9 133.6,409.2 133.8,408.6 133.8,408.2 134.0,407.5 134.1,407.0 134.3,406.4 134.4,405.8 134.6,405.4 134.8,404.9 135.0,404.4 135.2,404.0 135.5,403.3 135.7,402.9 135.9,402.6 136.2,402.0 136.4,401.5 136.6,401.2 136.9,400.7 137.2,400.2 137.5,399.8 137.8,399.4 138.1,399.1 138.4,398.8 138.7,398.4 139.0,398.0 139.3,397.7 139.7,397.3 140.1,397.0 140.4,396.6 140.8,396.2 141.1,395.9 141.4,395.5 141.8,395.2 142.1,394.8 142.5,394.5 142.8,394.1 143.2,393.6 143.5,393.1 143.7,392.8 143.9,392.3 144.1,391.8 144.2,391.0 144.3,390.7 144.4,390.0 144.4,389.3 144.5,388.6 144.5,387.9 144.6,387.2 144.6,386.9 144.8,386.1 144.9,385.5 145.1,385.1 145.3,384.4 145.4,384.1 145.6,383.4 145.7,383.0 145.9,382.3 146.0,381.7 146.1,381.2 146.2,380.6 146.3,379.9 146.3,379.1 146.0,378.5 145.7,378.1 145.5,377.8 145.2,377.4 144.9,377.1 144.6,376.5 144.3,376.0 144.2,375.6 144.1,374.9 144.0,374.2 144.0,373.6 144.1,372.9 144.2,372.1 144.3,371.8 144.5,371.1 144.6,370.8 144.9,370.1 145.0,369.7 145.2,369.0 145.3,368.6 145.5,367.9 145.6,367.2 145.7,366.9 145.8,366.2 145.8,365.5 145.8,364.8 145.8,364.1 145.8,363.4 145.9,362.7 145.9,362.0 145.9,361.3 146.0,360.6 146.0,359.9 146.0,359.6 146.0,358.9 146.0,358.1 146.0,357.5 146.0,357.1 145.9,356.4 145.8,355.7 145.7,355.0 145.6,354.6 145.5,353.9 145.5,353.2 145.4,352.6 145.4,351.9 145.4,351.1 145.4,350.4 145.4,349.8 145.4,349.1 145.4,348.4 145.3,347.6 145.3,347.3 145.2,346.6 145.0,345.9 144.9,345.6 144.7,344.9 144.6,344.5 144.4,343.8 144.2,343.4 144.1,342.8 144.0,342.1 144.0,341.4 144.1,340.6 144.2,340.3 144.6,339.7 144.9,339.2 145.2,338.9 145.5,338.6 145.8,338.2 146.1,337.9 146.3,337.3 146.5,336.8 146.6,336.1 146.6,335.4 146.4,334.7 146.3,334.4 146.1,333.6 145.9,333.3 145.6,332.6 145.5,332.2 145.3,331.6 145.2,331.2 145.1,330.5 145.1,329.8 145.2,329.1 145.3,328.8 145.6,328.1 145.8,327.7 146.0,327.2 146.3,326.6 146.4,326.3 146.7,325.6 146.8,325.2 146.9,324.6 146.9,323.9 146.9,323.1 146.9,322.4 146.8,321.8 146.7,321.1 146.7,320.7 146.6,320.0 146.6,319.3 146.6,318.6 146.6,317.9 146.7,317.4 146.8,316.9 147.0,316.1 147.1,315.8 147.4,315.1 147.5,314.8 147.8,314.1 147.9,313.7 148.0,313.0 148.1,312.3 147.9,311.6 147.8,311.1 147.5,310.6 147.2,310.2 147.0,309.9 146.7,309.5 146.3,309.1 146.0,308.7 145.6,308.4 145.3,308.1 144.8,307.8 144.2,307.5 143.9,307.4 143.2,307.2 142.5,307.1 142.1,307.0 141.4,306.8 141.1,306.7 140.5,306.4 140.1,306.1 139.7,305.8 139.3,305.5 139.0,305.1 138.6,304.7 138.3,304.2 138.1,303.9 137.8,303.6 137.5,303.2 137.2,302.9 136.8,302.5 136.4,302.1 136.0,301.8 135.7,301.4 135.3,301.1 134.9,300.8 134.6,300.4 134.2,300.1 133.9,299.7 133.7,299.4 133.4,299.0 133.1,298.4 132.9,297.9 132.7,297.4 132.6,296.9 132.6,296.2 132.7,295.9 133.1,295.3 133.4,294.9 133.8,294.5 134.1,294.2 134.4,294.0 134.8,293.8 135.5,293.4 135.8,293.2 136.2,293.0 136.9,292.7 137.2,292.6 137.9,292.4 138.3,292.2 138.8,292.0 139.3,291.8 139.9,291.6 140.4,291.5 141.1,291.3 141.4,291.2 142.1,291.1 142.8,290.9 143.2,290.9 143.9,290.8 144.6,290.7 145.0,290.6 145.6,290.5 146.3,290.4 147.1,290.4 147.8,290.4 148.4,290.4 149.1,290.4 149.8,290.4 150.6,290.5 151.2,290.5 151.7,290.6 152.3,290.7 153.0,290.8 153.7,290.9 154.2,290.9 154.8,291.0 155.4,291.2 156.1,291.3 156.5,291.4 157.2,291.6 157.6,291.7 158.2,292.0 158.6,292.1 159.2,292.4 159.6,292.6 160.0,292.8 160.5,293.1 161.0,293.4 161.4,293.6 161.8,293.9 162.1,294.2 162.4,294.5 162.8,294.8 163.1,295.2 163.5,295.7 163.8,296.2 163.9,296.6 164.1,297.2 164.1,297.9 163.8,298.6 163.7,299.0 163.4,299.4 163.1,299.7 162.8,300.1 162.4,300.4 162.0,300.8 161.5,301.1 161.1,301.4 160.7,301.6 160.2,301.8 159.6,302.1 159.3,302.3 158.9,302.5 158.3,302.9 157.9,303.1 157.6,303.4 157.2,303.8 157.0,304.2 156.9,304.9 156.9,305.6 156.9,306.4 156.9,307.1 156.9,307.8 156.9,308.4 156.9,309.1 157.0,309.9 157.1,310.6 157.2,311.1 157.3,311.6 157.5,312.3 157.6,312.6 157.7,313.4 157.9,314.1 158.0,314.4 158.1,315.1 158.2,315.8 158.3,316.1 158.5,316.9 158.6,317.5 158.7,317.9 158.8,318.6 158.9,319.2 159.0,319.6 159.1,320.4 159.2,321.1 159.2,321.8 159.1,322.4 159.0,323.1 158.9,323.5 158.7,324.2 158.6,324.6 158.4,325.2 158.3,325.9 158.3,326.6 158.2,327.2 158.2,327.7 158.2,328.4 158.2,329.1 158.1,329.8 158.0,330.5 157.9,331.0 157.8,331.6 157.7,332.2 157.6,332.9 157.5,333.3 157.4,334.0 157.4,334.7 157.4,335.4 157.4,336.1 157.5,336.8 157.6,337.3 157.7,337.9 157.9,338.6 158.0,338.9 158.2,339.6 158.4,339.9 158.6,340.6 158.7,341.0 158.9,341.6 159.1,342.1 159.3,342.6 159.5,343.1 159.7,343.4 160.0,344.1 160.2,344.5 160.3,344.9 160.7,345.5 161.0,345.9 161.2,346.2 161.4,346.6 161.8,347.2 162.0,347.6 162.2,348.0 162.4,348.5 162.7,349.1 162.8,349.4 163.0,350.1 163.1,350.8 163.1,351.5 163.1,352.2 163.1,352.9 163.0,353.6 163.0,354.3 162.9,355.0 162.8,355.7 162.8,356.1 162.8,356.8 162.8,357.4 162.8,358.1 162.8,358.9 162.8,359.5 162.8,359.9 162.8,360.6 162.8,361.3 162.8,362.0 162.8,362.7 162.8,363.2 162.8,363.8 162.7,364.4 162.6,365.1 162.5,365.9 162.4,366.2 162.3,366.9 162.1,367.6 162.0,367.9 161.8,368.6 161.7,369.0 161.5,369.7 161.4,370.1 161.2,370.8 161.1,371.3 160.9,371.8 160.7,372.5 160.6,372.9 160.4,373.6 160.3,373.9 160.0,374.6 159.9,374.9 159.7,375.6 159.6,376.0 159.5,376.7 159.4,377.4 159.4,378.1 159.5,378.8 159.6,379.2 160.0,379.9 160.1,380.2 160.3,380.7 160.6,381.2 160.7,381.6 160.9,382.3 161.1,382.6 161.2,383.4 161.4,383.9 161.5,384.4 161.7,385.1 161.8,385.4 162.0,386.1 162.2,386.5 162.4,387.2 162.6,387.6 162.8,387.9 163.1,388.4 163.5,388.8 163.8,389.1 164.2,389.4 164.6,389.7 165.2,390.0 165.6,390.2 165.9,390.4 166.6,390.6 167.0,390.7 167.7,390.8 168.4,390.9 169.1,391.0 169.8,391.0 170.5,390.9 171.2,390.8 171.8,390.7 172.2,390.6 172.9,390.5 173.4,390.4 174.0,390.2 174.7,390.0 175.1,389.9 175.8,389.7 176.1,389.5 176.7,389.3 177.1,389.1 177.5,388.9 178.2,388.7 178.6,388.5 179.2,388.2 179.6,388.1 180.0,387.9 180.6,387.7 181.0,387.5 181.7,387.2 182.1,387.1 182.5,386.9 183.1,386.6 183.4,386.4 183.9,386.1 184.5,385.8 184.8,385.6 185.2,385.4 185.8,385.1 186.2,384.8 186.6,384.6 187.0,384.4 187.6,384.1 188.0,383.9 188.5,383.7 189.1,383.4 189.4,383.3 190.0,383.0 190.4,382.8 190.8,382.6 191.2,382.3 191.8,381.9 192.2,381.6 192.6,381.3 192.9,381.1 193.2,380.8 193.6,380.5 193.9,380.2 194.3,379.9 194.8,379.5 195.2,379.1 195.7,378.8 196.1,378.5 196.4,378.3 196.8,378.0 197.1,377.8 197.6,377.4 198.1,377.1 198.5,376.8 198.8,376.5 199.2,376.3 199.5,376.0 200.0,375.6 200.5,375.3 200.9,375.0 201.3,374.7 201.7,374.5 202.2,374.2 202.7,374.0 203.0,373.8 203.7,373.6 204.1,373.4 204.6,373.2 205.1,373.0 205.5,372.8 206.2,372.5 206.5,372.4 207.2,372.1 207.6,372.0 208.1,371.8 208.6,371.6 209.3,371.5 210.0,371.6 210.8,371.7 211.2,371.8 211.8,372.0 212.4,372.1 212.8,372.2 213.5,372.4 213.9,372.5 214.6,372.7 215.2,372.9 215.6,373.0 216.3,373.2 216.7,373.4 217.1,373.6 217.8,373.8 218.1,374.0 218.5,374.2 219.1,374.6 219.5,374.9 219.8,375.1 220.2,375.4 220.5,375.7 220.9,376.0 221.3,376.4 221.6,376.7 221.9,377.1 222.3,377.8 222.4,378.1 222.5,378.8 222.6,379.5 222.5,380.2 222.5,380.9 222.3,381.6 222.2,381.9 222.0,382.6 221.9,383.0 221.7,383.7 221.5,384.1 221.2,384.6 221.0,385.1 220.8,385.4 220.5,385.9 220.2,386.5 220.0,386.9 219.8,387.2 219.5,387.7 219.1,388.2 218.9,388.6 218.7,388.9 218.4,389.3 218.1,389.9 217.8,390.4 217.6,390.7 217.4,391.0 217.0,391.5 216.7,392.1 216.5,392.4 216.2,392.8 216.0,393.2 215.6,393.8 215.4,394.2 215.3,394.5 215.2,395.2 215.1,395.9 215.1,396.6 215.0,397.4 215.0,398.0 214.9,398.4 214.8,399.1 214.7,399.8 214.6,400.2 214.4,400.9 214.2,401.5 214.1,401.9 213.9,402.6 213.8,402.9 213.5,403.6 213.4,404.0 213.2,404.5 212.9,405.0 212.8,405.4 212.5,405.9 212.2,406.4 212.0,406.8 211.7,407.1 211.4,407.5 211.1,407.9 210.8,408.3 210.4,408.6 210.0,408.9 209.6,409.2 209.2,409.6 208.6,409.9 208.3,410.2 207.9,410.4 207.5,410.6 206.9,411.0 206.5,411.2 206.2,411.4 205.6,411.7 205.1,412.0 204.8,412.2 204.4,412.4 203.8,412.8 203.4,413.0 203.0,413.3 202.7,413.5 202.3,413.8 201.9,414.1 201.5,414.5 201.1,414.9 200.8,415.2 200.4,415.5 200.0,415.9 199.7,416.2 199.3,416.6 198.9,416.9 198.5,417.2 198.2,417.5 197.8,417.7 197.3,418.0 196.8,418.3 196.4,418.5 196.1,418.7 195.5,419.0 195.0,419.3 194.6,419.6 194.3,419.8 193.9,420.1 193.5,420.4 193.1,420.8 192.7,421.1 192.4,421.5 192.0,421.9 191.7,422.2 191.4,422.5 191.0,422.9 190.7,423.2 190.3,423.6 190.0,423.9 189.6,424.3 189.3,424.6 188.9,425.0 188.6,425.4 188.3,425.7 187.9,426.0 187.6,426.4 187.2,426.8 186.9,427.1 186.5,427.4 186.2,427.8 185.8,428.1 185.5,428.5 185.1,428.9 184.8,429.2 184.4,429.5 184.1,429.9 183.8,430.2 183.4,430.6 183.1,431.0 182.8,431.4 182.4,431.9 182.1,432.4 181.9,432.7 181.7,433.1 181.4,433.8 181.3,434.1 181.2,434.8 181.0,435.0 181.0,435.0 M149.5,303.9 148.8,303.9 148.1,303.9 147.8,303.9 147.1,303.8 146.3,303.8 145.6,303.7 144.9,303.6 144.6,303.5 143.9,303.5 143.2,303.4 142.5,303.2 142.1,303.2 141.4,303.0 140.8,302.9 140.4,302.7 139.7,302.5 139.3,302.4 138.9,302.1 138.3,301.9 137.9,301.7 137.6,301.4 137.1,301.1 136.6,300.8 136.2,300.4 135.8,300.1 135.5,299.7 135.2,299.4 134.9,299.0 134.7,298.6 134.4,298.0 134.3,297.6 134.3,296.9 134.4,296.2 134.6,295.9 134.8,295.5 135.1,295.1 135.5,294.7 135.8,294.4 136.3,294.1 136.9,293.8 137.2,293.5 137.6,293.4 138.2,293.1 138.6,292.9 139.1,292.7 139.7,292.5 140.1,292.3 140.8,292.1 141.1,292.0 141.8,291.8 142.5,291.7 142.8,291.6 143.6,291.5 144.2,291.3 144.6,291.3 145.3,291.2 146.0,291.1 146.7,291.1 147.4,291.0 148.1,291.0 148.8,291.0 149.5,291.0 150.2,291.1 150.9,291.1 151.6,291.2 152.2,291.3 152.6,291.4 153.3,291.5 154.1,291.6 154.4,291.6 155.1,291.8 155.8,292.0 156.1,292.0 156.8,292.3 157.2,292.4 157.9,292.6 158.2,292.8 158.8,293.1 159.3,293.3 159.6,293.5 160.0,293.8 160.5,294.1 160.9,294.4 161.3,294.8 161.7,295.1 162.0,295.5 162.2,295.9 162.4,296.3 162.7,296.9 162.7,297.6 162.6,298.3 162.4,298.6 162.1,299.1 161.8,299.6 161.4,299.9 161.1,300.2 160.7,300.4 160.2,300.8 159.6,301.0 159.3,301.2 158.8,301.4 158.2,301.7 157.9,301.9 157.2,302.1 156.8,302.3 156.2,302.5 155.8,302.7 155.1,302.9 154.8,303.0 154.1,303.1 153.7,303.2 153.0,303.4 152.3,303.5 151.9,303.6 151.2,303.7 150.6,303.8 149.8,303.9 149.5,303.9 149.5,303.9 M156.5,373.3 155.8,373.5 155.1,373.5 154.4,373.2 154.1,373.1 153.7,372.8 153.3,372.5 153.0,372.1 152.6,371.8 152.3,371.3 152.0,370.8 151.8,370.4 151.6,370.0 151.3,369.4 151.2,369.0 150.9,368.3 150.8,367.9 150.7,367.2 150.6,366.6 150.5,366.2 150.4,365.5 150.3,364.8 150.3,364.1 150.2,363.4 150.2,363.1 150.1,362.4 150.0,361.6 149.9,360.9 149.8,360.3 149.8,359.9 149.8,359.2 149.7,358.5 149.7,357.8 149.7,357.1 149.7,356.4 149.8,355.7 149.8,355.1 149.9,354.6 150.0,353.9 150.2,353.2 150.3,352.9 150.4,352.2 150.5,351.5 150.6,351.1 150.6,350.4 150.6,350.1 150.4,349.4 150.2,348.7 150.1,348.4 149.8,347.9 149.6,347.3 149.5,346.9 149.3,346.2 149.2,345.6 149.3,344.9 149.5,344.1 149.6,343.8 149.8,343.4 150.2,343.0 150.6,342.7 150.9,342.4 151.6,342.1 152.3,342.1 153.0,342.2 153.4,342.4 154.0,342.8 154.4,343.0 154.8,343.2 155.1,343.4 155.6,343.8 156.0,344.1 156.4,344.5 156.8,344.9 157.2,345.2 157.5,345.6 157.9,345.9 158.2,346.2 158.5,346.6 158.9,346.9 159.2,347.3 159.4,347.6 159.7,348.0 160.0,348.4 160.3,349.0 160.6,349.4 160.8,349.8 161.0,350.4 161.1,350.8 161.2,351.5 161.3,352.2 161.3,352.9 161.3,353.6 161.3,354.3 161.2,355.0 161.2,355.7 161.2,356.4 161.2,357.1 161.2,357.8 161.3,358.5 161.3,359.2 161.3,359.9 161.4,360.6 161.4,361.3 161.4,362.0 161.4,362.7 161.3,363.4 161.3,364.1 161.2,364.8 161.1,365.5 161.0,365.9 160.8,366.6 160.7,367.0 160.5,367.6 160.3,368.0 160.1,368.6 159.9,369.0 159.6,369.7 159.5,370.1 159.3,370.4 158.9,371.0 158.6,371.4 158.4,371.8 158.1,372.1 157.7,372.5 157.3,372.9 156.8,373.1 156.5,373.3 156.5,373.3 M175.4,435.0 174.7,435.0 174.0,435.0 173.3,435.0 172.6,435.0 171.9,435.0 171.2,435.0 170.5,435.0 169.8,435.0 169.1,435.0 168.4,435.0 167.7,435.0 167.0,435.0 166.3,435.0 165.6,435.0 164.9,435.0 164.2,435.0 163.5,435.0 162.8,435.0 162.1,435.0 161.4,435.0 160.7,435.0 160.0,435.0 159.3,435.0 158.6,435.0 157.9,435.0 157.2,435.0 156.5,435.0 155.8,435.0 155.1,435.0 154.4,435.0 153.7,435.0 153.0,435.0 152.3,435.0 151.6,435.0 150.9,435.0 150.2,435.0 149.5,435.0 148.8,435.0 148.1,435.0 147.4,435.0 146.7,435.0 146.0,435.0 145.3,435.0 144.6,435.0 143.9,435.0 143.2,435.0 142.5,435.0 142.3,434.8 142.2,434.1 142.0,433.8 141.8,433.1 141.6,432.7 141.4,432.3 141.2,431.6 141.0,431.3 140.8,430.9 140.4,430.2 140.2,429.9 140.0,429.5 139.7,429.2 139.3,428.7 139.0,428.3 138.6,427.9 138.3,427.5 138.0,427.1 137.7,426.8 137.4,426.4 137.2,426.0 136.9,425.6 136.6,425.0 136.4,424.6 136.2,424.3 135.9,423.6 135.8,423.2 135.5,422.5 135.4,422.2 135.2,421.5 135.1,421.1 134.9,420.4 134.8,419.8 134.7,419.4 134.6,418.7 134.5,418.0 134.4,417.5 134.4,416.9 134.3,416.2 134.3,415.5 134.2,414.9 134.2,414.1 134.3,413.4 134.4,412.8 134.4,412.3 134.6,411.7 134.7,411.0 134.8,410.6 135.0,409.9 135.1,409.2 135.2,408.9 135.4,408.2 135.5,407.9 135.7,407.1 135.9,406.8 136.1,406.1 136.3,405.8 136.6,405.1 136.8,404.7 136.9,404.4 137.2,403.7 137.5,403.3 137.7,402.9 137.9,402.5 138.3,401.9 138.6,401.5 138.8,401.2 139.1,400.9 139.4,400.5 139.8,400.1 140.2,399.8 140.6,399.4 141.0,399.1 141.4,398.8 141.8,398.5 142.1,398.3 142.5,398.0 143.1,397.7 143.6,397.4 143.9,397.2 144.2,397.0 144.7,396.6 145.2,396.3 145.6,396.0 146.0,395.7 146.3,395.4 146.7,395.1 147.1,394.7 147.4,394.3 147.7,393.9 147.9,393.5 148.1,393.1 148.4,392.4 148.5,392.1 148.8,391.4 148.9,391.0 149.1,390.5 149.4,390.0 149.6,389.6 149.8,389.1 150.1,388.6 150.3,388.2 150.6,387.7 150.8,387.2 151.0,386.9 151.2,386.4 151.6,386.1 151.9,386.2 152.3,386.5 152.8,386.9 153.3,387.2 153.7,387.4 154.1,387.6 154.5,387.9 155.1,388.2 155.4,388.4 156.0,388.6 156.5,388.8 156.8,389.0 157.3,389.3 157.9,389.6 158.2,390.0 158.6,390.3 158.9,390.7 159.3,391.0 159.5,391.4 159.7,391.8 160.0,392.2 160.3,392.5 160.8,392.8 161.4,393.0 162.1,393.1 162.8,393.1 163.5,393.1 164.2,393.0 164.9,393.0 165.6,392.9 166.3,392.9 167.0,392.8 167.4,392.8 168.1,392.7 168.8,392.6 169.4,392.5 170.0,392.4 170.5,392.4 171.2,392.2 171.8,392.1 172.2,392.0 172.9,391.9 173.5,391.8 174.0,391.6 174.7,391.5 175.1,391.4 175.8,391.2 176.4,391.0 176.8,390.9 177.4,390.7 177.8,390.5 178.4,390.4 178.9,390.1 179.2,390.0 179.9,389.7 180.3,389.5 180.9,389.3 181.3,389.1 181.8,388.9 182.4,388.7 182.8,388.5 183.4,388.2 183.8,388.1 184.2,387.9 184.8,387.6 185.2,387.4 185.6,387.2 186.2,386.9 186.6,386.7 187.0,386.5 187.6,386.2 188.0,386.0 188.4,385.8 189.0,385.4 189.4,385.2 189.8,385.0 190.1,384.8 190.6,384.4 191.1,384.1 191.5,383.8 191.8,383.5 192.2,383.2 192.6,382.9 192.9,382.5 193.2,382.2 193.6,381.9 194.0,381.6 194.3,381.2 194.7,380.9 195.2,380.6 195.6,380.2 196.0,379.9 196.4,379.6 196.8,379.3 197.1,379.0 197.4,378.8 197.9,378.4 198.5,378.1 198.8,377.8 199.2,377.6 199.5,377.4 200.1,377.1 200.6,376.7 200.9,376.5 201.3,376.4 202.0,376.0 202.3,375.8 202.7,375.6 203.4,375.3 203.8,375.2 204.4,374.9 204.8,374.8 205.4,374.6 205.8,374.4 206.4,374.2 206.9,374.1 207.6,373.9 207.9,373.8 208.6,373.7 209.3,373.6 209.7,373.5 210.4,373.5 211.1,373.4 211.8,373.5 212.5,373.5 213.1,373.6 213.5,373.6 214.2,373.7 214.9,373.8 215.3,373.9 216.0,374.1 216.5,374.2 217.0,374.5 217.4,374.6 218.1,374.9 218.4,375.2 218.8,375.4 219.2,375.6 219.7,376.0 220.1,376.4 220.5,376.7 220.9,377.0 221.2,377.4 221.5,377.8 221.6,378.1 221.9,378.8 221.9,379.3 222.0,379.9 222.0,380.6 221.9,380.9 221.8,381.6 221.7,382.3 221.6,382.6 221.3,383.4 221.2,383.7 220.9,384.4 220.7,384.8 220.5,385.1 220.2,385.7 220.0,386.1 219.8,386.5 219.5,387.0 219.1,387.5 218.9,387.9 218.7,388.2 218.4,388.7 218.1,389.2 217.8,389.6 217.6,390.0 217.4,390.4 217.0,390.9 216.7,391.4 216.5,391.8 216.2,392.1 216.0,392.4 215.6,392.9 215.3,393.4 214.9,393.8 214.7,394.2 214.4,394.5 214.2,394.9 213.9,395.4 213.6,395.9 213.5,396.3 213.4,397.0 213.4,397.7 213.4,398.4 213.3,399.1 213.2,399.7 213.1,400.1 213.0,400.9 212.8,401.2 212.7,401.9 212.5,402.4 212.3,402.9 212.1,403.3 211.9,404.0 211.7,404.4 211.4,404.9 211.1,405.4 210.9,405.8 210.7,406.1 210.4,406.5 210.0,406.9 209.7,407.3 209.3,407.6 209.0,407.9 208.6,408.2 208.2,408.5 207.6,408.9 207.2,409.1 206.9,409.3 206.4,409.6 205.8,409.9 205.5,410.1 205.1,410.3 204.4,410.6 204.1,410.8 203.6,411.0 203.0,411.2 202.7,411.4 202.2,411.7 201.7,412.0 201.3,412.2 200.9,412.5 200.6,412.8 200.1,413.1 199.7,413.4 199.2,413.8 198.8,414.1 198.5,414.3 198.2,414.6 197.8,414.9 197.2,415.2 196.8,415.4 196.4,415.6 195.8,415.9 195.3,416.1 195.0,416.2 194.3,416.5 193.9,416.6 193.2,416.9 192.9,417.0 192.2,417.2 191.8,417.3 191.1,417.6 190.8,417.8 190.3,418.0 189.8,418.3 189.4,418.6 189.1,418.8 188.7,419.1 188.3,419.4 188.0,419.8 187.6,420.3 187.3,420.8 187.1,421.1 186.9,421.5 186.6,422.2 186.5,422.5 186.2,423.0 185.9,423.6 185.8,423.9 185.5,424.3 185.2,424.8 184.8,425.3 184.6,425.7 184.3,426.0 184.0,426.4 183.7,426.8 183.4,427.1 183.0,427.4 182.6,427.8 182.2,428.1 181.8,428.5 181.3,428.8 181.0,429.0 180.6,429.2 180.0,429.5 179.6,429.7 179.2,429.9 178.6,430.2 178.2,430.4 177.8,430.6 177.3,430.9 177.0,431.3 176.7,431.6 176.4,432.0 176.1,432.6 175.9,433.0 175.8,433.5 175.6,434.1 175.5,434.8 175.4,435.0 175.4,435.0 M150.9,302.9 150.2,302.9 149.5,303.0 148.8,303.0 148.1,303.0 147.4,303.0 146.7,302.9 146.0,302.9 145.6,302.8 144.9,302.8 144.2,302.7 143.6,302.6 143.2,302.5 142.5,302.4 141.8,302.2 141.4,302.1 140.8,301.9 140.4,301.8 139.7,301.5 139.3,301.4 138.8,301.1 138.3,300.8 137.9,300.6 137.6,300.4 137.2,300.1 136.8,299.7 136.5,299.4 136.2,299.0 135.8,298.3 135.7,297.9 135.6,297.2 135.7,296.6 135.8,296.1 136.2,295.5 136.5,295.1 136.9,294.8 137.2,294.5 137.6,294.3 137.9,294.0 138.4,293.8 139.0,293.5 139.3,293.3 139.9,293.1 140.4,292.9 140.9,292.7 141.4,292.5 142.1,292.4 142.5,292.2 143.2,292.1 143.7,292.0 144.2,291.9 144.9,291.8 145.6,291.7 146.3,291.6 146.7,291.6 147.4,291.6 148.1,291.6 148.8,291.6 149.5,291.6 150.2,291.6 150.6,291.7 151.2,291.8 151.9,291.8 152.6,291.9 153.1,292.0 153.7,292.1 154.4,292.3 154.8,292.4 155.4,292.5 156.1,292.7 156.5,292.8 157.1,293.1 157.6,293.3 157.9,293.4 158.5,293.8 158.9,294.0 159.3,294.3 159.6,294.5 160.0,294.8 160.3,295.2 160.7,295.6 161.1,296.1 161.3,296.6 161.4,297.0 161.4,297.6 161.4,297.9 161.1,298.6 160.8,299.0 160.5,299.4 160.1,299.7 159.7,300.1 159.3,300.3 158.9,300.5 158.5,300.8 157.9,301.0 157.6,301.2 156.9,301.4 156.5,301.6 156.0,301.8 155.4,302.0 154.8,302.1 154.4,302.3 153.7,302.4 153.3,302.5 152.6,302.6 151.9,302.7 151.2,302.8 150.9,302.9 150.9,302.9 M156.8,369.4 156.1,369.6 155.4,369.6 155.0,369.4 154.5,369.0 154.2,368.6 153.9,368.3 153.7,367.9 153.3,367.3 153.2,366.9 153.0,366.5 152.8,365.9 152.6,365.4 152.5,364.8 152.4,364.1 152.3,363.8 152.2,363.1 152.0,362.4 151.9,361.7 151.9,361.3 151.8,360.6 151.7,359.9 151.7,359.2 151.7,358.5 151.8,357.8 151.9,357.1 151.9,356.6 152.1,356.1 152.3,355.4 152.4,355.0 152.6,354.4 152.8,353.9 153.0,353.5 153.3,352.9 153.4,352.6 153.7,351.9 153.9,351.5 154.1,351.1 154.4,350.7 154.8,350.2 155.1,349.9 155.4,349.7 156.1,349.5 156.8,349.5 157.3,349.8 157.8,350.1 158.2,350.4 158.5,350.8 158.7,351.1 158.9,351.8 159.1,352.2 159.2,352.9 159.3,353.6 159.3,353.9 159.4,354.6 159.4,355.4 159.5,356.1 159.5,356.8 159.6,357.4 159.6,357.8 159.7,358.5 159.8,359.2 159.8,359.9 159.9,360.6 159.9,361.3 159.9,362.0 159.8,362.7 159.8,363.4 159.7,364.1 159.6,364.4 159.5,365.1 159.3,365.8 159.2,366.2 158.9,366.7 158.7,367.2 158.5,367.6 158.2,368.0 157.9,368.5 157.6,368.9 157.2,369.2 156.8,369.4 156.8,369.4 M169.4,435.0 168.8,435.0 168.1,435.0 167.3,435.0 166.6,435.0 165.9,435.0 165.2,435.0 164.6,435.0 163.8,435.0 163.1,435.0 162.4,435.0 161.8,435.0 161.1,435.0 160.3,435.0 159.6,435.0 158.9,435.0 158.2,435.0 157.6,435.0 156.8,435.0 156.1,435.0 155.4,435.0 154.8,435.0 154.1,435.0 153.3,435.0 152.6,435.0 151.9,435.0 151.2,435.0 150.6,435.0 149.8,435.0 149.1,435.0 148.8,435.0 148.5,434.4 148.2,434.1 147.9,433.8 147.5,433.4 147.1,433.0 146.7,432.8 146.3,432.5 146.0,432.2 145.6,432.0 145.2,431.6 144.8,431.3 144.4,430.9 144.0,430.6 143.6,430.2 143.3,429.9 142.9,429.5 142.6,429.2 142.3,428.9 142.0,428.5 141.7,428.1 141.3,427.8 141.0,427.4 140.7,427.1 140.3,426.8 140.0,426.4 139.6,426.0 139.3,425.7 139.0,425.4 138.6,425.0 138.3,424.5 137.9,424.0 137.7,423.6 137.5,423.2 137.2,422.7 137.1,422.2 136.9,421.7 136.7,421.1 136.6,420.5 136.5,420.1 136.3,419.4 136.2,418.7 136.2,418.4 136.1,417.6 136.0,416.9 135.9,416.2 135.8,415.9 135.8,415.2 135.8,414.5 135.8,413.8 135.8,413.1 135.9,412.8 136.0,412.0 136.2,411.4 136.2,411.0 136.4,410.3 136.6,409.8 136.7,409.2 136.9,408.7 137.1,408.2 137.2,407.8 137.5,407.1 137.6,406.8 137.9,406.2 138.2,405.8 138.3,405.4 138.6,404.8 138.9,404.4 139.1,404.0 139.4,403.6 139.7,403.2 140.1,402.7 140.4,402.3 140.8,401.9 141.1,401.6 141.4,401.3 141.8,401.0 142.1,400.8 142.5,400.5 143.1,400.1 143.6,399.9 143.9,399.6 144.2,399.4 144.9,399.1 145.3,398.9 145.6,398.7 146.2,398.4 146.7,398.1 147.1,397.9 147.5,397.7 148.1,397.4 148.4,397.2 148.9,397.0 149.5,396.7 149.8,396.5 150.2,396.3 150.8,395.9 151.2,395.7 151.6,395.5 152.1,395.2 152.6,395.0 153.0,394.9 153.7,394.8 154.1,394.9 154.8,395.1 155.1,395.3 155.8,395.6 156.1,395.7 156.8,395.9 157.2,396.1 157.9,396.3 158.2,396.3 158.9,396.4 159.6,396.5 160.3,396.5 161.1,396.4 161.5,396.3 162.1,396.1 162.8,395.9 163.1,395.8 163.8,395.6 164.2,395.5 164.9,395.2 165.2,395.1 165.9,394.9 166.3,394.8 167.0,394.6 167.4,394.5 168.1,394.4 168.7,394.2 169.1,394.1 169.8,393.9 170.1,393.8 170.8,393.7 171.6,393.5 171.9,393.4 172.6,393.3 173.3,393.2 173.6,393.1 174.3,393.0 175.1,392.8 175.4,392.8 176.1,392.6 176.7,392.4 177.1,392.3 177.8,392.1 178.2,392.0 178.8,391.8 179.2,391.6 179.7,391.4 180.3,391.2 180.6,391.0 181.3,390.7 181.7,390.6 182.2,390.4 182.8,390.1 183.1,390.0 183.8,389.7 184.1,389.6 184.8,389.3 185.2,389.1 185.6,388.9 186.2,388.6 186.6,388.4 186.9,388.2 187.5,387.9 188.0,387.6 188.3,387.4 188.7,387.1 189.1,386.8 189.5,386.5 189.9,386.1 190.3,385.8 190.7,385.4 191.1,385.1 191.5,384.8 191.8,384.5 192.2,384.2 192.6,383.8 192.9,383.5 193.2,383.2 193.6,382.9 193.9,382.5 194.3,382.2 194.6,381.9 195.0,381.6 195.4,381.2 195.8,380.9 196.2,380.6 196.7,380.2 197.1,379.9 197.4,379.6 197.8,379.4 198.2,379.1 198.6,378.8 199.2,378.4 199.5,378.2 199.9,378.0 200.3,377.8 200.9,377.4 201.3,377.2 201.7,377.0 202.2,376.7 202.7,376.5 203.0,376.3 203.8,376.0 204.1,375.9 204.7,375.6 205.1,375.5 205.8,375.3 206.2,375.2 206.9,375.0 207.2,374.9 207.9,374.7 208.4,374.6 209.0,374.5 209.7,374.4 210.4,374.3 211.1,374.3 211.8,374.3 212.5,374.4 213.2,374.4 213.9,374.5 214.5,374.6 214.9,374.7 215.6,374.9 216.0,375.0 216.7,375.2 217.0,375.4 217.6,375.6 218.1,375.9 218.4,376.1 218.8,376.4 219.3,376.7 219.7,377.1 220.2,377.4 220.5,377.8 220.8,378.1 221.0,378.4 221.2,379.1 221.3,379.5 221.4,380.2 221.4,380.9 221.3,381.6 221.2,382.0 221.1,382.6 220.9,383.3 220.7,383.7 220.5,384.2 220.3,384.8 220.1,385.1 219.8,385.6 219.5,386.1 219.3,386.5 219.1,386.9 218.8,387.4 218.5,387.9 218.3,388.2 218.1,388.6 217.8,389.2 217.4,389.6 217.2,390.0 217.0,390.4 216.7,390.8 216.3,391.3 216.1,391.8 215.8,392.1 215.6,392.4 215.3,392.8 214.9,393.3 214.6,393.7 214.2,394.1 213.9,394.5 213.6,394.9 213.4,395.2 213.1,395.6 212.8,395.9 212.5,396.4 212.1,397.0 212.0,397.4 211.9,398.0 211.8,398.6 211.7,399.1 211.6,399.8 211.5,400.5 211.4,400.9 211.2,401.5 211.1,401.9 210.8,402.6 210.7,402.9 210.4,403.6 210.2,404.0 210.0,404.4 209.7,404.8 209.3,405.3 209.0,405.8 208.7,406.1 208.4,406.4 208.0,406.8 207.6,407.1 207.2,407.4 206.9,407.6 206.5,407.9 206.0,408.2 205.5,408.5 205.1,408.7 204.6,408.9 204.1,409.1 203.8,409.3 203.0,409.6 202.7,409.7 202.1,409.9 201.7,410.2 201.3,410.3 200.7,410.6 200.2,410.9 199.9,411.2 199.5,411.4 199.1,411.7 198.5,412.0 198.2,412.3 197.8,412.5 197.3,412.8 196.8,413.0 196.4,413.2 195.8,413.4 195.3,413.6 194.7,413.8 194.3,413.9 193.6,414.1 193.2,414.2 192.6,414.5 192.2,414.7 191.8,414.9 191.1,415.2 190.8,415.4 190.4,415.6 189.9,415.9 189.4,416.2 189.1,416.4 188.7,416.6 188.1,416.9 187.6,417.2 187.3,417.4 186.8,417.6 186.2,418.0 185.9,418.2 185.6,418.4 184.9,418.7 184.5,418.9 184.1,419.1 183.5,419.4 183.1,419.6 182.8,419.8 182.1,420.1 181.7,420.2 181.1,420.4 180.6,420.6 179.9,420.8 179.6,420.9 178.9,420.9 178.4,420.8 177.8,420.6 177.4,420.4 176.8,420.3 176.1,420.3 175.5,420.4 175.1,420.6 174.5,420.8 174.0,421.0 173.6,421.2 173.2,421.5 172.8,421.9 172.5,422.2 172.2,422.5 171.9,423.2 171.9,423.6 171.9,424.3 171.9,424.7 172.0,425.4 172.2,426.0 172.3,426.4 172.4,427.1 172.4,427.8 172.3,428.5 172.2,428.9 172.0,429.5 171.8,429.9 171.6,430.4 171.2,430.9 171.0,431.3 170.8,431.6 170.5,432.1 170.2,432.7 170.0,433.0 169.8,433.6 169.7,434.1 169.5,434.8 169.4,435.0 169.4,435.0 M151.2,302.2 150.6,302.3 149.8,302.3 149.1,302.4 148.4,302.4 147.8,302.4 147.1,302.4 146.3,302.3 145.6,302.2 145.0,302.1 144.6,302.1 143.9,302.0 143.2,301.8 142.8,301.8 142.1,301.6 141.7,301.4 141.1,301.3 140.7,301.1 140.1,300.8 139.7,300.7 139.2,300.4 138.7,300.1 138.3,299.8 137.9,299.4 137.6,299.1 137.3,298.6 137.1,298.3 136.9,297.7 136.8,297.2 136.9,296.7 137.1,296.2 137.3,295.9 137.6,295.4 137.9,295.1 138.3,294.8 138.8,294.4 139.3,294.1 139.7,293.9 140.1,293.7 140.8,293.4 141.1,293.3 141.8,293.1 142.1,292.9 142.8,292.8 143.2,292.7 143.9,292.5 144.6,292.4 145.0,292.4 145.6,292.3 146.3,292.2 147.1,292.2 147.8,292.1 148.4,292.1 149.1,292.1 149.8,292.2 150.6,292.2 151.2,292.3 151.6,292.4 152.3,292.5 153.0,292.6 153.6,292.7 154.1,292.8 154.8,293.0 155.1,293.1 155.8,293.3 156.1,293.4 156.8,293.7 157.2,293.9 157.6,294.1 158.1,294.4 158.6,294.8 158.9,295.1 159.3,295.5 159.6,295.9 159.8,296.2 160.0,296.6 160.2,297.2 160.1,297.9 159.9,298.3 159.6,298.7 159.3,299.1 158.9,299.4 158.6,299.7 158.1,300.1 157.6,300.4 157.2,300.5 156.7,300.8 156.1,301.0 155.8,301.1 155.1,301.4 154.8,301.5 154.1,301.7 153.5,301.8 153.0,301.9 152.3,302.0 151.6,302.1 151.2,302.2 151.2,302.2 M156.5,365.6 155.8,365.7 155.4,365.5 155.1,365.1 154.8,364.7 154.4,364.1 154.3,363.8 154.1,363.1 153.9,362.7 153.8,362.0 153.7,361.6 153.6,360.9 153.5,360.2 153.5,359.6 153.5,358.9 153.6,358.1 153.7,357.8 153.9,357.1 154.1,356.7 154.4,356.1 154.6,355.7 154.9,355.4 155.3,355.0 155.8,354.8 156.5,354.9 156.8,355.2 157.1,355.7 157.3,356.1 157.6,356.7 157.7,357.1 157.9,357.8 157.9,358.1 158.1,358.9 158.2,359.6 158.2,360.2 158.2,360.9 158.2,361.6 158.1,362.4 158.0,363.1 157.9,363.4 157.6,364.1 157.5,364.4 157.2,364.9 156.8,365.3 156.5,365.6 156.5,365.6 M162.4,435.0 161.8,435.0 161.1,435.0 160.3,435.0 159.6,435.0 158.9,435.0 158.2,435.0 157.6,435.0 156.8,435.0 156.6,434.8 156.5,434.4 156.1,433.9 155.8,433.5 155.4,433.1 155.1,432.9 154.8,432.6 154.3,432.4 153.7,432.0 153.3,431.9 152.8,431.6 152.3,431.5 151.9,431.3 151.2,431.1 150.8,430.9 150.2,430.7 149.8,430.6 149.1,430.4 148.8,430.2 148.1,430.0 147.8,429.8 147.1,429.5 146.7,429.3 146.3,429.1 145.9,428.9 145.4,428.5 144.9,428.2 144.6,427.9 144.2,427.6 143.9,427.3 143.6,426.9 143.2,426.6 142.8,426.2 142.5,425.9 142.1,425.5 141.8,425.2 141.4,424.8 141.1,424.5 140.8,424.1 140.4,423.8 140.1,423.3 139.7,422.9 139.5,422.5 139.2,422.2 139.0,421.8 138.7,421.1 138.6,420.8 138.3,420.1 138.2,419.8 138.1,419.0 137.9,418.6 137.8,418.0 137.7,417.3 137.6,416.6 137.6,416.2 137.5,415.5 137.4,414.9 137.4,414.1 137.4,413.4 137.5,412.8 137.6,412.1 137.7,411.7 137.9,411.0 137.9,410.6 138.2,409.9 138.3,409.5 138.5,408.9 138.7,408.5 139.0,407.9 139.1,407.5 139.3,407.1 139.7,406.4 139.9,406.1 140.1,405.8 140.4,405.3 140.8,404.8 141.1,404.4 141.4,404.0 141.7,403.6 142.0,403.3 142.4,402.9 142.8,402.6 143.2,402.2 143.6,402.0 143.9,401.7 144.2,401.5 144.8,401.2 145.3,400.9 145.6,400.7 146.0,400.5 146.7,400.2 147.1,400.0 147.5,399.8 148.1,399.5 148.4,399.4 149.1,399.1 149.5,399.0 150.2,398.8 150.6,398.7 151.2,398.6 151.9,398.5 152.6,398.4 153.0,398.4 153.7,398.3 154.4,398.3 155.1,398.3 155.8,398.4 156.4,398.4 156.8,398.4 157.6,398.4 158.2,398.5 158.9,398.4 159.6,398.4 160.0,398.4 160.7,398.3 161.4,398.2 161.9,398.0 162.4,397.9 163.0,397.7 163.5,397.5 164.0,397.4 164.6,397.1 164.9,397.0 165.6,396.7 165.9,396.6 166.6,396.4 167.0,396.3 167.7,396.0 168.1,395.9 168.8,395.7 169.1,395.6 169.8,395.4 170.3,395.2 170.8,395.1 171.6,394.9 171.9,394.8 172.6,394.7 173.2,394.5 173.6,394.5 174.3,394.3 175.0,394.2 175.4,394.1 176.1,394.0 176.7,393.9 177.1,393.7 177.8,393.6 178.2,393.5 178.9,393.2 179.2,393.1 179.9,392.8 180.3,392.7 180.9,392.4 181.3,392.3 181.8,392.1 182.4,391.8 182.8,391.7 183.4,391.4 183.8,391.3 184.3,391.0 184.8,390.8 185.2,390.7 185.9,390.4 186.2,390.2 186.6,390.0 187.1,389.6 187.6,389.3 188.0,389.0 188.3,388.7 188.7,388.4 189.1,388.0 189.4,387.7 189.8,387.4 190.1,387.0 190.4,386.7 190.8,386.4 191.1,386.0 191.5,385.7 191.8,385.4 192.2,385.0 192.6,384.7 192.9,384.4 193.3,384.1 193.6,383.7 194.0,383.4 194.4,383.0 194.8,382.6 195.2,382.3 195.6,381.9 196.0,381.6 196.4,381.2 196.8,381.0 197.1,380.7 197.4,380.4 197.8,380.2 198.2,379.9 198.7,379.5 199.2,379.2 199.5,379.0 199.9,378.8 200.4,378.4 200.9,378.1 201.3,377.9 201.7,377.7 202.3,377.4 202.7,377.2 203.1,377.1 203.8,376.8 204.1,376.6 204.8,376.4 205.1,376.2 205.8,376.0 206.2,375.9 206.9,375.7 207.2,375.6 207.9,375.4 208.6,375.3 209.0,375.2 209.7,375.2 210.4,375.1 211.1,375.1 211.8,375.1 212.5,375.1 213.2,375.2 213.8,375.3 214.2,375.4 214.9,375.5 215.4,375.6 216.0,375.8 216.4,376.0 217.0,376.3 217.4,376.4 217.8,376.7 218.4,377.1 218.8,377.3 219.1,377.6 219.5,377.9 219.8,378.2 220.2,378.6 220.5,379.1 220.6,379.5 220.8,380.2 220.8,380.9 220.8,381.6 220.7,382.3 220.5,382.8 220.4,383.4 220.2,383.9 220.0,384.4 219.8,384.8 219.5,385.4 219.3,385.8 219.1,386.1 218.8,386.7 218.5,387.2 218.3,387.6 218.1,387.9 217.8,388.5 217.5,388.9 217.3,389.3 217.0,389.7 216.7,390.2 216.4,390.7 216.1,391.0 215.9,391.4 215.6,391.8 215.3,392.3 214.9,392.7 214.6,393.1 214.4,393.5 214.1,393.9 213.8,394.2 213.5,394.5 213.2,394.9 212.8,395.3 212.5,395.7 212.1,396.1 211.8,396.6 211.4,397.0 211.2,397.4 210.9,397.7 210.7,398.0 210.4,398.6 210.2,399.1 210.1,399.8 210.0,400.1 209.8,400.9 209.7,401.2 209.4,401.9 209.3,402.2 209.0,402.9 208.8,403.3 208.5,403.6 208.3,404.0 207.9,404.5 207.6,404.9 207.2,405.3 206.9,405.7 206.5,406.0 206.2,406.3 205.8,406.5 205.5,406.8 204.9,407.1 204.4,407.4 204.1,407.6 203.4,407.9 203.0,408.0 202.6,408.2 202.0,408.4 201.6,408.5 200.9,408.8 200.6,409.0 200.1,409.2 199.5,409.6 199.2,409.8 198.8,410.0 198.3,410.3 197.8,410.6 197.4,410.8 197.1,411.0 196.5,411.4 196.1,411.6 195.7,411.8 195.3,412.0 194.7,412.4 194.3,412.6 193.9,412.8 193.5,413.1 192.9,413.4 192.6,413.6 192.2,413.8 191.7,414.1 191.1,414.5 190.8,414.7 190.4,414.9 189.9,415.2 189.4,415.5 189.1,415.7 188.7,415.9 188.0,416.2 187.6,416.5 187.3,416.6 186.7,416.9 186.2,417.2 185.9,417.4 185.3,417.6 184.8,417.8 184.4,418.0 183.8,418.2 183.4,418.4 182.8,418.6 182.1,418.7 181.7,418.7 181.0,418.7 180.6,418.6 180.1,418.4 179.7,418.0 179.3,417.6 178.9,417.3 178.6,417.0 178.2,416.8 177.5,416.7 176.8,416.8 176.2,416.9 175.8,417.1 175.4,417.3 174.7,417.6 174.3,417.7 173.7,418.0 173.3,418.2 172.9,418.4 172.2,418.6 171.9,418.7 171.2,419.0 170.8,419.2 170.4,419.4 169.8,419.7 169.4,420.0 169.1,420.2 168.8,420.5 168.3,420.8 168.0,421.1 167.6,421.5 167.3,421.9 167.0,422.2 166.6,422.7 166.3,423.1 166.0,423.6 165.7,423.9 165.5,424.3 165.2,424.6 164.9,425.2 164.6,425.7 164.4,426.0 164.2,426.5 163.9,427.1 163.7,427.4 163.5,428.0 163.3,428.5 163.1,429.0 163.0,429.5 162.9,430.2 162.8,430.6 162.7,431.3 162.6,432.0 162.6,432.7 162.6,433.4 162.5,434.1 162.5,434.8 162.4,435.0 162.4,435.0 M148.8,301.8 148.1,301.8 147.4,301.8 147.1,301.8 146.3,301.7 145.6,301.6 144.9,301.5 144.5,301.4 143.9,301.3 143.2,301.2 142.8,301.1 142.1,300.9 141.8,300.7 141.1,300.4 140.8,300.3 140.3,300.1 139.8,299.7 139.3,299.4 139.0,299.1 138.7,298.6 138.4,298.3 138.3,297.9 138.1,297.2 138.3,296.6 138.4,296.2 138.6,295.8 139.0,295.4 139.3,295.1 139.7,294.8 140.3,294.4 140.8,294.2 141.1,294.0 141.7,293.8 142.1,293.6 142.8,293.4 143.2,293.3 143.9,293.1 144.3,293.1 144.9,292.9 145.6,292.8 146.3,292.8 147.1,292.7 147.7,292.7 148.1,292.7 148.6,292.7 149.1,292.7 149.8,292.8 150.6,292.8 151.2,292.9 151.9,293.0 152.3,293.1 153.0,293.2 153.7,293.4 154.1,293.5 154.8,293.7 155.1,293.8 155.8,294.1 156.1,294.2 156.6,294.4 157.1,294.8 157.6,295.1 157.9,295.4 158.2,295.8 158.5,296.2 158.7,296.6 158.8,297.2 158.7,297.9 158.5,298.3 158.2,298.7 157.9,299.0 157.5,299.4 157.0,299.7 156.5,300.0 156.1,300.2 155.6,300.4 155.1,300.6 154.7,300.8 154.1,301.0 153.5,301.1 153.0,301.2 152.3,301.4 151.9,301.5 151.2,301.6 150.6,301.7 149.8,301.7 149.1,301.8 148.8,301.8 148.8,301.8 M157.2,428.9 156.5,429.1 155.8,429.2 155.1,429.2 154.4,429.2 153.7,429.1 153.0,429.0 152.3,428.9 151.9,428.8 151.2,428.6 150.9,428.5 150.2,428.2 149.8,428.1 149.1,427.8 148.8,427.7 148.3,427.4 147.8,427.2 147.4,427.0 147.0,426.8 146.5,426.4 146.0,426.0 145.6,425.7 145.3,425.4 144.9,425.1 144.6,424.8 144.2,424.5 143.9,424.1 143.6,423.8 143.2,423.4 142.8,423.0 142.5,422.7 142.1,422.3 141.8,421.9 141.5,421.5 141.3,421.1 141.0,420.8 140.8,420.4 140.4,419.8 140.2,419.4 140.1,419.0 139.8,418.4 139.6,418.0 139.4,417.3 139.3,416.9 139.1,416.2 139.0,415.5 139.0,414.9 139.0,414.1 139.1,413.4 139.2,412.8 139.3,412.0 139.4,411.7 139.5,411.0 139.7,410.5 139.9,409.9 140.1,409.5 140.3,408.9 140.5,408.5 140.8,408.0 141.0,407.5 141.2,407.1 141.4,406.8 141.8,406.2 142.1,405.8 142.4,405.4 142.7,405.0 143.0,404.7 143.4,404.4 143.7,404.0 144.1,403.6 144.6,403.3 144.9,403.0 145.3,402.8 145.6,402.6 146.2,402.2 146.7,402.0 147.1,401.8 147.6,401.5 148.1,401.3 148.5,401.2 149.1,401.0 149.6,400.9 150.2,400.7 150.9,400.6 151.6,400.5 151.9,400.5 152.6,400.4 153.3,400.4 154.1,400.4 154.8,400.4 155.4,400.3 156.1,400.3 156.8,400.3 157.6,400.2 158.2,400.2 158.6,400.1 159.3,400.1 160.0,400.0 160.7,399.9 161.4,399.8 161.8,399.7 162.4,399.6 162.8,399.4 163.5,399.2 163.8,399.1 164.6,398.8 164.9,398.7 165.5,398.4 165.9,398.2 166.4,398.0 167.0,397.8 167.3,397.7 168.1,397.5 168.4,397.3 169.1,397.1 169.5,397.0 170.1,396.8 170.6,396.6 171.2,396.5 171.9,396.3 172.2,396.2 172.9,396.0 173.3,395.9 174.0,395.8 174.7,395.7 175.1,395.6 175.8,395.4 176.4,395.3 176.8,395.2 177.5,395.0 178.0,394.9 178.6,394.8 179.2,394.6 179.6,394.5 180.3,394.2 180.6,394.1 181.3,393.9 181.7,393.7 182.3,393.5 182.8,393.3 183.2,393.1 183.8,392.9 184.1,392.7 184.8,392.4 185.2,392.3 185.6,392.1 186.1,391.8 186.6,391.4 186.9,391.2 187.3,390.9 187.6,390.6 188.0,390.3 188.3,389.9 188.7,389.5 189.1,389.2 189.4,388.8 189.8,388.4 190.1,388.0 190.4,387.7 190.8,387.3 191.1,386.9 191.5,386.6 191.8,386.2 192.2,385.9 192.6,385.6 192.9,385.2 193.2,384.9 193.6,384.6 193.9,384.3 194.3,383.9 194.6,383.6 195.0,383.3 195.3,383.0 195.7,382.6 196.1,382.3 196.5,381.9 197.0,381.6 197.4,381.2 197.8,381.0 198.2,380.7 198.5,380.5 198.9,380.2 199.4,379.9 199.9,379.5 200.2,379.3 200.6,379.1 201.1,378.8 201.7,378.5 202.0,378.3 202.4,378.1 203.0,377.8 203.4,377.6 203.9,377.4 204.4,377.2 204.8,377.1 205.5,376.8 205.9,376.7 206.5,376.5 207.1,376.4 207.6,376.2 208.3,376.1 208.8,376.0 209.3,375.9 210.0,375.9 210.8,375.9 211.4,375.9 212.1,375.9 212.8,376.0 213.2,376.0 213.9,376.1 214.6,376.3 214.9,376.4 215.6,376.6 216.0,376.7 216.7,377.0 217.0,377.2 217.4,377.4 217.9,377.8 218.4,378.1 218.8,378.4 219.1,378.7 219.5,379.1 219.8,379.5 219.9,379.9 220.1,380.6 220.2,381.2 220.2,381.9 220.0,382.6 219.9,383.4 219.7,383.7 219.5,384.4 219.3,384.8 219.1,385.2 218.8,385.8 218.6,386.1 218.4,386.5 218.1,387.2 217.9,387.6 217.7,387.9 217.4,388.4 217.1,388.9 216.9,389.3 216.6,389.6 216.3,390.1 216.0,390.7 215.8,391.0 215.5,391.4 215.3,391.8 214.9,392.2 214.6,392.7 214.2,393.1 213.9,393.5 213.7,393.9 213.4,394.2 213.1,394.5 212.8,394.9 212.5,395.2 212.1,395.6 211.8,396.0 211.4,396.4 211.1,396.8 210.8,397.2 210.4,397.6 210.0,398.0 209.7,398.4 209.4,398.8 209.2,399.1 208.9,399.4 208.6,399.9 208.3,400.5 208.2,400.9 207.9,401.3 207.7,401.9 207.5,402.2 207.2,402.7 206.9,403.2 206.6,403.6 206.3,404.0 206.0,404.4 205.6,404.7 205.2,405.0 204.8,405.4 204.4,405.7 204.1,405.9 203.7,406.1 203.1,406.4 202.7,406.6 202.3,406.8 201.7,407.0 201.3,407.2 200.7,407.5 200.2,407.7 199.9,407.9 199.5,408.2 199.0,408.5 198.5,408.9 198.2,409.2 197.8,409.4 197.4,409.7 197.1,410.0 196.7,410.3 196.2,410.6 195.7,411.0 195.3,411.2 195.0,411.5 194.6,411.7 194.2,412.0 193.6,412.4 193.2,412.6 192.9,412.8 192.5,413.1 191.9,413.4 191.5,413.7 191.1,413.9 190.7,414.1 190.1,414.5 189.8,414.7 189.4,414.9 188.8,415.2 188.3,415.5 188.0,415.6 187.5,415.9 186.9,416.2 186.6,416.3 186.0,416.6 185.6,416.8 185.1,416.9 184.5,417.2 184.0,417.3 183.4,417.4 182.8,417.5 182.1,417.4 181.7,417.3 181.1,416.9 180.8,416.6 180.5,416.2 180.3,415.9 179.9,415.5 179.6,415.1 179.2,414.7 178.8,414.5 178.2,414.3 177.5,414.4 177.1,414.5 176.4,414.8 176.1,415.0 175.6,415.2 175.1,415.5 174.7,415.7 174.2,415.9 173.6,416.2 173.3,416.3 172.6,416.6 172.2,416.8 171.8,416.9 171.2,417.2 170.8,417.3 170.1,417.6 169.8,417.7 169.1,418.0 168.8,418.2 168.4,418.4 167.8,418.7 167.3,419.0 167.0,419.2 166.6,419.5 166.3,419.8 165.9,420.1 165.6,420.4 165.2,420.8 164.9,421.1 164.6,421.6 164.2,422.0 163.8,422.4 163.5,422.8 163.1,423.2 162.9,423.6 162.6,423.9 162.3,424.3 162.0,424.6 161.7,425.0 161.4,425.4 161.1,425.7 160.7,426.1 160.3,426.5 160.0,426.9 159.6,427.2 159.3,427.6 158.9,427.9 158.6,428.1 158.0,428.5 157.6,428.7 157.2,428.9 157.2,428.9 M149.8,301.1 149.1,301.2 148.4,301.2 147.8,301.2 147.1,301.2 146.3,301.1 146.0,301.1 145.3,301.0 144.6,300.8 144.2,300.7 143.6,300.5 143.1,300.4 142.5,300.2 142.1,300.0 141.5,299.7 141.1,299.4 140.8,299.2 140.4,298.9 140.1,298.5 139.7,297.9 139.6,297.6 139.6,296.9 139.7,296.5 140.1,295.9 140.4,295.5 140.8,295.2 141.1,295.0 141.4,294.7 142.0,294.4 142.5,294.2 142.9,294.1 143.6,293.9 144.1,293.8 144.6,293.6 145.3,293.5 146.0,293.4 146.3,293.4 147.1,293.3 147.8,293.3 148.4,293.3 149.1,293.3 149.8,293.4 150.2,293.4 150.9,293.5 151.6,293.6 152.3,293.7 152.6,293.8 153.3,294.0 153.7,294.1 154.4,294.3 154.8,294.5 155.4,294.8 155.8,295.0 156.1,295.3 156.5,295.6 156.8,295.9 157.2,296.5 157.3,296.9 157.3,297.6 157.2,298.0 156.8,298.5 156.5,298.8 156.1,299.1 155.8,299.4 155.2,299.7 154.8,299.9 154.4,300.1 153.7,300.3 153.3,300.4 152.6,300.6 152.1,300.8 151.6,300.9 150.9,301.0 150.2,301.1 149.8,301.1 149.8,301.1 M155.4,426.8 154.8,426.9 154.1,427.0 153.3,426.9 152.6,426.8 152.3,426.8 151.6,426.6 151.1,426.4 150.6,426.2 150.2,426.0 149.5,425.7 149.1,425.6 148.8,425.4 148.2,425.0 147.8,424.7 147.4,424.4 147.1,424.2 146.7,423.9 146.3,423.6 146.0,423.2 145.6,422.9 145.3,422.5 144.9,422.2 144.6,421.9 144.2,421.5 143.9,421.1 143.6,420.7 143.2,420.4 142.8,420.1 142.4,419.8 141.9,419.4 141.4,419.1 141.1,418.7 140.8,418.4 140.5,418.0 140.3,417.6 140.1,417.1 139.9,416.6 139.7,415.9 139.7,415.5 139.7,415.1 139.8,414.5 139.9,413.8 140.1,413.4 140.4,412.8 140.5,412.4 140.8,412.0 141.1,411.4 141.3,411.0 141.4,410.5 141.7,409.9 141.8,409.6 142.1,408.9 142.3,408.5 142.5,408.2 142.8,407.6 143.2,407.1 143.4,406.8 143.7,406.4 144.0,406.1 144.3,405.8 144.6,405.4 145.0,405.0 145.4,404.7 145.9,404.4 146.3,404.0 146.7,403.8 147.1,403.6 147.6,403.3 148.1,403.1 148.4,402.9 149.1,402.7 149.5,402.6 150.2,402.4 150.9,402.3 151.6,402.3 151.9,402.2 152.6,402.2 153.3,402.2 154.1,402.2 154.8,402.2 155.4,402.1 156.1,402.1 156.8,402.0 157.6,402.0 158.1,401.9 158.6,401.8 159.3,401.8 160.0,401.7 160.7,401.6 161.1,401.5 161.8,401.4 162.4,401.3 162.8,401.2 163.5,401.0 163.8,400.8 164.6,400.5 164.9,400.4 165.4,400.1 165.9,399.9 166.3,399.7 167.0,399.4 167.3,399.3 167.9,399.1 168.4,398.9 168.9,398.8 169.4,398.6 170.0,398.4 170.5,398.3 171.2,398.1 171.6,398.0 172.2,397.8 172.6,397.7 173.3,397.5 174.0,397.4 174.3,397.3 175.1,397.1 175.4,397.0 176.1,396.8 176.8,396.6 177.1,396.6 177.8,396.4 178.2,396.3 178.9,396.1 179.6,396.0 179.9,395.9 180.6,395.7 181.2,395.6 181.7,395.5 182.4,395.3 182.8,395.1 183.3,394.9 183.8,394.7 184.1,394.5 184.8,394.2 185.2,393.9 185.6,393.7 185.9,393.5 186.3,393.1 186.7,392.8 187.1,392.4 187.4,392.1 187.8,391.8 188.1,391.4 188.4,391.0 188.7,390.7 189.1,390.3 189.4,389.9 189.8,389.5 190.1,389.1 190.4,388.6 190.8,388.3 191.1,387.9 191.4,387.6 191.8,387.2 192.1,386.9 192.5,386.5 192.8,386.1 193.2,385.8 193.6,385.4 193.9,385.1 194.3,384.8 194.6,384.5 195.0,384.2 195.3,383.9 195.7,383.5 196.1,383.2 196.4,382.9 196.8,382.6 197.2,382.3 197.6,381.9 198.1,381.6 198.5,381.3 198.8,381.0 199.2,380.8 199.5,380.5 200.1,380.2 200.6,379.9 200.9,379.7 201.3,379.5 201.8,379.1 202.3,378.9 202.7,378.7 203.2,378.4 203.8,378.2 204.1,378.1 204.8,377.8 205.1,377.7 205.8,377.4 206.2,377.3 206.9,377.1 207.2,377.0 207.9,376.9 208.6,376.8 209.3,376.7 209.7,376.7 210.4,376.6 211.1,376.6 211.8,376.7 212.1,376.7 212.8,376.8 213.5,376.9 214.1,377.1 214.6,377.2 215.2,377.4 215.6,377.6 216.1,377.8 216.7,378.1 217.0,378.3 217.4,378.5 217.9,378.8 218.3,379.1 218.7,379.5 219.0,379.9 219.2,380.2 219.4,380.9 219.5,381.4 219.5,381.9 219.5,382.3 219.4,383.0 219.2,383.7 219.1,384.1 218.8,384.8 218.7,385.1 218.4,385.6 218.2,386.1 218.0,386.5 217.8,386.9 217.4,387.6 217.2,387.9 217.0,388.2 216.7,388.8 216.4,389.3 216.2,389.6 216.0,390.0 215.6,390.6 215.3,391.0 215.1,391.4 214.9,391.8 214.6,392.1 214.2,392.6 213.9,393.0 213.5,393.5 213.2,393.9 212.9,394.2 212.6,394.5 212.3,394.9 212.0,395.2 211.7,395.6 211.4,395.9 211.1,396.3 210.8,396.7 210.4,397.1 210.0,397.4 209.7,397.8 209.3,398.2 209.0,398.5 208.6,398.9 208.3,399.3 207.9,399.7 207.6,400.1 207.2,400.5 206.9,400.9 206.7,401.2 206.4,401.5 206.1,401.9 205.8,402.2 205.5,402.7 205.1,403.1 204.8,403.4 204.4,403.8 204.1,404.1 203.8,404.4 203.4,404.7 202.9,405.0 202.3,405.4 202.0,405.6 201.7,405.8 201.3,406.1 200.8,406.4 200.3,406.8 199.9,407.1 199.5,407.3 199.2,407.6 198.8,407.9 198.5,408.2 198.0,408.5 197.6,408.9 197.2,409.2 196.8,409.6 196.4,409.9 196.1,410.1 195.7,410.4 195.3,410.7 194.9,411.0 194.4,411.4 193.9,411.6 193.6,411.9 193.2,412.1 192.8,412.4 192.2,412.7 191.8,412.9 191.5,413.1 191.0,413.4 190.4,413.7 190.1,413.9 189.7,414.1 189.1,414.5 188.7,414.7 188.3,414.9 187.6,415.2 187.3,415.3 186.8,415.5 186.2,415.8 185.9,415.9 185.2,416.1 184.6,416.2 184.1,416.3 183.4,416.3 183.0,416.2 182.4,416.0 182.1,415.7 181.7,415.2 181.4,414.9 181.2,414.5 181.0,414.1 180.6,413.6 180.3,413.1 180.0,412.8 179.6,412.5 179.2,412.3 178.6,412.3 177.8,412.4 177.5,412.5 176.8,412.7 176.4,412.9 176.0,413.1 175.4,413.4 175.1,413.6 174.7,413.8 174.0,414.1 173.6,414.4 173.3,414.5 172.6,414.9 172.2,415.0 171.8,415.2 171.2,415.4 170.8,415.6 170.1,415.8 169.8,416.0 169.1,416.2 168.8,416.4 168.2,416.6 167.7,416.8 167.3,417.0 166.8,417.3 166.3,417.6 165.9,417.8 165.5,418.0 165.0,418.4 164.6,418.6 164.2,418.9 163.8,419.2 163.5,419.6 163.1,419.9 162.8,420.3 162.4,420.7 162.1,421.1 161.8,421.5 161.5,421.9 161.2,422.2 160.9,422.5 160.6,422.9 160.3,423.2 160.0,423.6 159.6,424.0 159.3,424.4 158.9,424.7 158.6,425.0 158.2,425.4 157.8,425.7 157.2,426.0 156.8,426.3 156.5,426.4 155.8,426.7 155.4,426.8 155.4,426.8 M149.8,300.4 149.1,300.5 148.4,300.5 147.8,300.5 147.1,300.5 146.3,300.4 146.0,300.4 145.3,300.2 144.6,300.1 144.2,299.9 143.6,299.7 143.2,299.5 142.8,299.4 142.3,299.0 141.8,298.6 141.5,298.3 141.3,297.9 141.1,297.5 141.1,296.9 141.2,296.6 141.4,296.1 141.8,295.7 142.1,295.4 142.6,295.1 143.2,294.8 143.6,294.7 144.2,294.5 144.6,294.4 145.3,294.2 146.0,294.1 146.3,294.1 147.1,294.0 147.8,294.0 148.4,294.0 149.1,294.0 149.8,294.1 150.2,294.1 150.9,294.2 151.6,294.3 152.1,294.4 152.6,294.6 153.3,294.8 153.7,295.0 154.1,295.1 154.7,295.5 155.1,295.8 155.4,296.2 155.7,296.6 155.8,297.1 155.8,297.3 155.6,297.9 155.3,298.3 155.0,298.6 154.5,299.0 154.1,299.2 153.7,299.4 153.0,299.7 152.6,299.8 151.9,300.0 151.6,300.1 150.9,300.3 150.2,300.4 149.8,300.4 149.8,300.4 M155.1,424.7 154.4,424.8 153.7,424.9 153.0,424.9 152.3,424.8 151.8,424.6 151.2,424.5 150.8,424.3 150.2,424.0 149.8,423.8 149.5,423.6 149.0,423.2 148.5,422.9 148.1,422.6 147.8,422.2 147.4,421.9 147.1,421.6 146.7,421.2 146.3,420.9 146.0,420.5 145.6,420.2 145.3,419.9 144.9,419.8 144.2,419.6 143.6,419.5 143.2,419.4 142.5,419.1 142.1,418.9 141.8,418.7 141.4,418.4 141.1,418.0 140.8,417.5 140.5,416.9 140.3,416.6 140.2,415.9 140.1,415.2 140.2,414.5 140.4,413.9 140.6,413.4 140.8,413.1 141.1,412.6 141.4,412.2 141.8,411.9 142.1,411.6 142.5,411.4 142.9,411.0 143.2,410.6 143.5,409.9 143.7,409.6 143.9,409.2 144.2,408.6 144.5,408.2 144.8,407.9 145.0,407.5 145.3,407.1 145.6,406.8 146.0,406.4 146.4,406.1 146.8,405.8 147.3,405.4 147.8,405.1 148.1,404.9 148.5,404.7 149.1,404.4 149.5,404.3 150.2,404.1 150.8,404.0 151.2,403.9 151.9,403.9 152.6,403.9 153.3,403.9 154.1,403.9 154.8,403.9 155.4,403.9 156.1,403.9 156.8,403.9 157.6,403.8 158.2,403.8 158.9,403.7 159.3,403.6 160.0,403.6 160.7,403.5 161.4,403.4 161.8,403.3 162.4,403.2 163.1,403.0 163.5,402.9 164.2,402.6 164.6,402.5 165.0,402.2 165.6,402.0 165.9,401.8 166.4,401.5 167.0,401.2 167.3,401.1 167.8,400.9 168.4,400.6 168.8,400.5 169.4,400.2 169.8,400.1 170.5,399.9 170.9,399.8 171.6,399.6 172.2,399.5 172.6,399.4 173.3,399.3 174.0,399.1 174.3,399.0 175.1,398.8 175.4,398.7 176.1,398.5 176.5,398.4 177.1,398.2 177.8,398.0 178.2,398.0 178.9,397.8 179.6,397.7 179.9,397.6 180.6,397.5 181.3,397.4 181.9,397.4 182.4,397.2 183.1,397.0 183.4,396.9 184.0,396.6 184.5,396.3 184.8,396.1 185.2,395.8 185.6,395.5 185.9,395.2 186.2,394.8 186.6,394.4 186.9,394.0 187.3,393.6 187.6,393.2 188.0,392.8 188.3,392.4 188.5,392.1 188.8,391.8 189.1,391.4 189.4,391.0 189.8,390.6 190.1,390.1 190.4,389.7 190.8,389.3 191.1,388.9 191.4,388.6 191.7,388.2 192.0,387.9 192.4,387.6 192.7,387.2 193.1,386.9 193.4,386.5 193.8,386.1 194.2,385.8 194.6,385.4 195.0,385.1 195.3,384.8 195.7,384.5 196.1,384.2 196.4,383.9 196.8,383.6 197.1,383.3 197.4,383.0 197.9,382.6 198.3,382.3 198.8,381.9 199.2,381.7 199.5,381.4 199.9,381.2 200.3,380.9 200.9,380.6 201.3,380.3 201.7,380.1 202.0,379.9 202.7,379.5 203.0,379.3 203.4,379.1 204.1,378.8 204.4,378.7 205.1,378.4 205.5,378.3 206.2,378.1 206.5,378.0 207.2,377.8 207.6,377.7 208.3,377.6 209.0,377.5 209.7,377.5 210.4,377.4 211.1,377.5 211.8,377.5 212.5,377.6 213.1,377.8 213.5,377.8 214.2,378.0 214.6,378.2 215.3,378.4 215.6,378.6 216.1,378.8 216.7,379.1 217.0,379.4 217.4,379.6 217.8,379.9 218.1,380.2 218.4,380.7 218.7,381.2 218.8,381.9 218.8,382.6 218.7,383.4 218.5,384.1 218.4,384.4 218.1,385.1 218.0,385.4 217.8,385.9 217.5,386.5 217.3,386.9 217.0,387.3 216.8,387.9 216.6,388.2 216.3,388.7 216.0,389.3 215.8,389.6 215.6,390.0 215.3,390.4 214.9,391.0 214.7,391.4 214.4,391.8 214.2,392.1 213.9,392.5 213.5,392.9 213.2,393.4 212.8,393.8 212.5,394.2 212.2,394.5 211.9,394.9 211.6,395.2 211.3,395.6 210.9,395.9 210.6,396.3 210.3,396.6 210.0,397.0 209.6,397.4 209.3,397.7 209.0,398.0 208.6,398.4 208.3,398.8 207.9,399.1 207.6,399.4 207.2,399.8 206.9,400.1 206.5,400.5 206.2,400.9 205.8,401.2 205.5,401.6 205.1,401.9 204.8,402.3 204.4,402.6 204.1,403.0 203.7,403.3 203.4,403.6 203.0,404.0 202.6,404.4 202.1,404.7 201.7,405.0 201.3,405.4 200.9,405.6 200.6,405.9 200.2,406.2 199.9,406.5 199.5,406.8 199.1,407.1 198.6,407.5 198.2,407.9 197.8,408.2 197.4,408.5 197.1,408.8 196.8,409.1 196.4,409.3 196.1,409.6 195.6,409.9 195.1,410.3 194.6,410.6 194.3,410.9 193.9,411.1 193.6,411.4 193.0,411.7 192.6,412.0 192.2,412.2 191.8,412.4 191.2,412.8 190.8,413.0 190.4,413.2 189.9,413.4 189.4,413.7 189.1,413.8 188.4,414.1 188.0,414.3 187.6,414.5 186.9,414.7 186.6,414.9 185.9,415.1 185.2,415.2 184.8,415.2 184.3,415.2 183.8,415.1 183.4,414.9 183.0,414.5 182.8,414.1 182.4,413.6 182.1,413.1 181.9,412.8 181.7,412.3 181.4,411.7 181.2,411.4 181.0,411.0 180.6,410.6 179.9,410.3 179.2,410.3 178.6,410.4 177.8,410.6 177.5,410.7 176.8,410.9 176.4,411.1 175.8,411.4 175.4,411.5 175.1,411.7 174.4,412.0 174.0,412.3 173.6,412.5 173.1,412.8 172.6,413.0 172.2,413.1 171.6,413.4 171.2,413.6 170.6,413.8 170.1,414.0 169.7,414.1 169.1,414.4 168.8,414.5 168.2,414.9 167.7,415.2 167.3,415.5 167.0,415.8 166.6,416.1 166.3,416.4 165.9,416.6 165.3,416.9 164.9,417.1 164.4,417.3 163.8,417.5 163.2,417.6 162.8,417.8 162.1,418.0 161.8,418.2 161.4,418.5 161.1,418.9 160.7,419.3 160.3,419.7 160.0,420.1 159.8,420.4 159.5,420.8 159.2,421.1 158.9,421.5 158.6,422.0 158.2,422.4 157.9,422.8 157.6,423.1 157.2,423.4 156.8,423.7 156.5,424.0 156.0,424.3 155.4,424.5 155.1,424.7 155.1,424.7 M149.5,299.7 148.8,299.8 148.1,299.8 147.4,299.8 146.8,299.7 146.3,299.6 145.6,299.5 145.2,299.4 144.6,299.1 144.2,298.9 143.8,298.6 143.3,298.3 143.0,297.9 142.8,297.6 142.8,296.9 142.9,296.6 143.2,296.2 143.6,295.9 144.2,295.5 144.6,295.3 145.1,295.1 145.6,295.0 146.3,294.9 147.1,294.8 147.4,294.8 148.1,294.8 148.8,294.8 149.1,294.8 149.8,294.9 150.6,295.0 151.2,295.1 151.6,295.2 152.3,295.5 152.6,295.6 153.1,295.9 153.5,296.2 153.8,296.6 154.0,297.2 153.7,297.9 153.4,298.3 153.0,298.6 152.6,298.8 152.2,299.0 151.6,299.2 151.2,299.4 150.6,299.5 149.8,299.7 149.5,299.7 149.5,299.7 M153.7,422.6 153.0,422.6 152.3,422.5 151.9,422.5 151.2,422.2 150.9,422.0 150.6,421.8 150.1,421.5 149.6,421.1 149.2,420.8 148.8,420.4 148.5,420.1 148.1,419.8 147.8,419.4 147.4,419.0 147.1,418.8 146.7,418.7 146.3,418.7 145.6,418.9 144.9,419.0 144.2,419.0 143.6,418.9 142.8,418.7 142.5,418.6 142.1,418.4 141.7,418.0 141.4,417.6 141.1,417.3 140.8,416.6 140.7,416.2 140.6,415.5 140.6,414.9 140.8,414.2 140.9,413.8 141.1,413.4 141.4,413.0 141.8,412.6 142.1,412.3 142.6,412.0 143.2,411.7 143.6,411.6 144.2,411.4 144.6,411.3 145.1,411.0 145.3,410.6 145.6,410.1 145.9,409.6 146.1,409.2 146.4,408.9 146.7,408.5 147.1,408.1 147.4,407.7 147.8,407.4 148.1,407.1 148.5,406.8 149.1,406.4 149.5,406.2 149.8,406.1 150.6,405.9 151.0,405.8 151.6,405.7 152.3,405.6 153.0,405.6 153.7,405.6 154.4,405.7 155.0,405.8 155.4,405.8 156.1,405.9 156.8,405.9 157.6,406.0 158.2,406.0 158.9,405.9 159.6,405.8 160.2,405.8 160.7,405.7 161.4,405.5 161.9,405.4 162.4,405.3 163.1,405.1 163.5,405.0 164.2,404.7 164.6,404.6 165.1,404.4 165.6,404.1 165.9,403.9 166.4,403.6 167.0,403.3 167.3,403.1 167.7,402.9 168.3,402.6 168.8,402.4 169.1,402.2 169.8,401.9 170.1,401.8 170.8,401.6 171.2,401.5 171.9,401.4 172.6,401.3 173.3,401.2 173.6,401.2 174.3,401.1 175.1,400.9 175.4,400.8 176.1,400.7 176.6,400.5 177.1,400.3 177.8,400.1 178.2,400.1 178.9,399.9 179.6,399.8 179.9,399.8 180.6,399.7 181.3,399.7 182.1,399.6 182.7,399.4 183.1,399.3 183.6,399.1 184.1,398.8 184.5,398.6 184.8,398.3 185.2,397.9 185.6,397.5 185.9,397.1 186.2,396.6 186.5,396.3 186.7,395.9 187.0,395.6 187.3,395.1 187.6,394.6 187.9,394.2 188.2,393.9 188.5,393.5 188.7,393.1 189.1,392.7 189.4,392.3 189.8,391.8 190.0,391.4 190.3,391.0 190.6,390.7 190.9,390.4 191.1,390.0 191.5,389.5 191.8,389.1 192.2,388.7 192.6,388.3 192.9,388.0 193.2,387.6 193.6,387.3 193.9,386.9 194.3,386.6 194.6,386.3 195.0,386.0 195.3,385.7 195.7,385.4 196.1,385.1 196.5,384.8 196.9,384.4 197.3,384.1 197.7,383.7 198.2,383.4 198.5,383.1 198.8,382.8 199.2,382.6 199.6,382.3 200.1,381.9 200.6,381.6 200.9,381.4 201.3,381.2 201.7,380.9 202.3,380.6 202.7,380.3 203.0,380.2 203.7,379.9 204.1,379.7 204.5,379.5 205.1,379.2 205.5,379.1 206.2,378.9 206.5,378.8 207.2,378.6 207.9,378.5 208.3,378.4 209.0,378.3 209.7,378.3 210.4,378.3 211.1,378.4 211.8,378.4 212.1,378.5 212.8,378.6 213.4,378.8 213.9,378.9 214.5,379.1 214.9,379.3 215.3,379.5 215.9,379.9 216.3,380.1 216.7,380.4 217.0,380.6 217.4,381.0 217.8,381.5 217.9,381.9 218.0,382.6 218.0,383.4 217.8,384.1 217.7,384.4 217.5,385.1 217.4,385.4 217.1,386.1 216.9,386.5 216.7,387.0 216.4,387.6 216.3,387.9 216.0,388.4 215.7,388.9 215.5,389.3 215.3,389.7 214.9,390.3 214.7,390.7 214.4,391.0 214.2,391.4 213.9,391.8 213.5,392.3 213.2,392.8 212.9,393.1 212.6,393.5 212.3,393.9 212.0,394.2 211.7,394.5 211.4,394.9 211.1,395.3 210.8,395.6 210.4,396.0 210.0,396.4 209.7,396.8 209.3,397.1 209.0,397.5 208.6,397.8 208.3,398.2 207.9,398.5 207.6,398.9 207.2,399.2 206.9,399.6 206.5,399.9 206.2,400.3 205.8,400.6 205.5,401.0 205.1,401.3 204.8,401.6 204.4,402.0 204.1,402.3 203.8,402.6 203.4,403.0 203.0,403.3 202.6,403.6 202.2,404.0 201.8,404.4 201.4,404.7 201.0,405.0 200.6,405.4 200.2,405.7 199.9,405.9 199.5,406.2 199.2,406.5 198.8,406.8 198.4,407.1 198.0,407.5 197.6,407.9 197.1,408.2 196.8,408.5 196.4,408.8 196.1,409.1 195.7,409.3 195.3,409.6 194.9,409.9 194.3,410.3 193.9,410.6 193.6,410.8 193.2,411.0 192.7,411.4 192.2,411.6 191.8,411.8 191.4,412.0 190.8,412.4 190.4,412.5 190.0,412.8 189.4,413.0 189.1,413.2 188.3,413.4 188.0,413.6 187.3,413.8 186.9,413.9 186.2,414.0 185.6,414.1 184.8,413.9 184.5,413.7 184.1,413.4 183.8,413.0 183.4,412.5 183.2,412.0 183.1,411.7 182.8,411.0 182.6,410.6 182.4,410.0 182.2,409.6 182.0,409.2 181.7,408.8 181.3,408.5 180.6,408.3 179.9,408.3 179.2,408.4 178.6,408.5 178.2,408.6 177.5,408.8 177.1,408.9 176.4,409.2 176.1,409.3 175.5,409.6 175.1,409.8 174.7,410.0 174.1,410.3 173.6,410.5 173.3,410.7 172.6,411.0 172.2,411.1 171.7,411.4 171.2,411.5 170.7,411.7 170.1,411.9 169.6,412.0 169.1,412.2 168.7,412.4 168.3,412.8 168.0,413.1 167.7,413.7 167.4,414.1 167.2,414.5 167.0,414.9 166.6,415.2 166.3,415.6 165.9,415.9 165.3,416.2 164.9,416.5 164.6,416.6 163.8,416.8 163.2,416.9 162.8,417.0 162.1,417.0 161.4,417.0 160.9,416.9 160.3,416.9 160.0,417.0 159.3,417.3 158.9,417.6 158.7,418.0 158.4,418.4 158.1,418.7 157.8,419.0 157.6,419.4 157.2,419.9 156.8,420.4 156.5,420.8 156.2,421.1 155.8,421.5 155.4,421.8 155.1,422.0 154.8,422.2 154.1,422.5 153.7,422.6 153.7,422.6 M149.5,298.7 148.8,298.8 148.1,298.8 147.4,298.8 146.7,298.7 146.3,298.6 145.7,298.3 145.3,298.0 144.9,297.6 144.8,297.2 144.9,296.9 145.3,296.5 145.7,296.2 146.3,296.0 146.9,295.9 147.4,295.8 148.1,295.7 148.8,295.8 149.5,295.8 149.8,295.9 150.6,296.1 150.9,296.2 151.4,296.6 151.7,296.9 151.7,297.6 151.4,297.9 150.9,298.3 150.6,298.4 149.8,298.6 149.5,298.7 149.5,298.7 M153.7,418.9 153.0,419.0 152.3,419.0 151.6,418.8 151.2,418.6 150.8,418.4 150.3,418.0 149.8,417.7 149.5,417.4 149.1,417.2 148.8,416.9 148.4,416.6 147.8,416.5 147.4,416.8 147.1,417.2 146.7,417.5 146.3,417.8 146.0,418.0 145.3,418.3 144.9,418.4 144.2,418.5 143.6,418.4 143.2,418.3 142.5,418.0 142.1,417.7 141.8,417.4 141.5,416.9 141.3,416.6 141.1,415.9 141.1,415.5 141.1,414.9 141.2,414.5 141.4,413.8 141.7,413.4 142.0,413.1 142.4,412.8 142.8,412.5 143.2,412.3 143.9,412.2 144.6,412.1 145.3,412.2 146.0,412.4 146.3,412.5 147.1,412.5 147.4,412.0 147.6,411.7 147.8,411.3 148.1,410.8 148.4,410.3 148.8,409.9 149.1,409.6 149.4,409.2 149.8,408.9 150.2,408.6 150.6,408.4 150.9,408.2 151.6,407.9 151.9,407.8 152.6,407.8 153.3,407.8 154.1,407.8 154.4,407.9 155.1,408.1 155.5,408.2 156.1,408.4 156.7,408.5 157.2,408.7 157.9,408.8 158.6,408.8 159.3,408.6 159.6,408.5 160.3,408.2 160.7,408.1 161.4,407.9 161.8,407.8 162.4,407.6 163.0,407.5 163.5,407.3 164.1,407.1 164.6,407.0 165.0,406.8 165.6,406.5 165.9,406.4 166.5,406.1 167.0,405.8 167.3,405.6 167.7,405.4 168.2,405.0 168.8,404.7 169.1,404.6 169.5,404.4 170.1,404.1 170.5,403.9 171.2,403.7 171.8,403.6 172.2,403.6 172.9,403.6 173.6,403.6 174.3,403.6 175.1,403.6 175.8,403.5 176.4,403.4 176.8,403.3 177.5,403.1 178.1,402.9 178.6,402.8 179.2,402.7 179.6,402.6 180.3,402.5 181.0,402.3 181.5,402.2 182.1,402.1 182.7,401.9 183.1,401.8 183.5,401.5 184.1,401.2 184.5,400.9 184.8,400.5 185.2,400.1 185.5,399.8 185.7,399.4 186.0,399.1 186.2,398.7 186.6,398.1 186.8,397.7 187.0,397.4 187.3,396.9 187.6,396.3 187.8,395.9 188.1,395.6 188.3,395.1 188.7,394.6 189.0,394.2 189.2,393.9 189.5,393.5 189.8,393.1 190.1,392.6 190.4,392.1 190.7,391.8 191.0,391.4 191.3,391.0 191.5,390.7 191.8,390.3 192.2,389.9 192.6,389.4 192.9,389.0 193.2,388.7 193.6,388.3 193.9,387.9 194.3,387.6 194.6,387.3 195.0,387.0 195.3,386.7 195.7,386.4 196.1,386.1 196.4,385.8 196.8,385.4 197.2,385.1 197.7,384.8 198.1,384.4 198.5,384.1 198.8,383.8 199.2,383.6 199.5,383.3 200.0,383.0 200.5,382.6 200.9,382.3 201.3,382.1 201.7,381.9 202.1,381.6 202.7,381.3 203.0,381.1 203.4,380.9 204.1,380.6 204.4,380.4 204.9,380.2 205.5,380.0 205.9,379.9 206.5,379.7 207.2,379.5 207.6,379.4 208.3,379.3 209.0,379.3 209.7,379.2 210.4,379.3 211.1,379.3 211.8,379.4 212.1,379.5 212.8,379.7 213.3,379.9 213.9,380.1 214.2,380.2 214.9,380.6 215.3,380.8 215.6,381.0 216.0,381.2 216.5,381.6 216.8,381.9 217.0,382.6 217.1,383.0 217.1,383.7 217.0,384.2 216.9,384.8 216.7,385.4 216.6,385.8 216.3,386.5 216.2,386.9 216.0,387.3 215.7,387.9 215.6,388.2 215.3,388.8 215.0,389.3 214.8,389.6 214.6,390.0 214.2,390.6 214.0,391.0 213.7,391.4 213.5,391.8 213.2,392.1 212.8,392.6 212.5,393.0 212.1,393.5 211.8,393.9 211.5,394.2 211.2,394.5 210.9,394.9 210.6,395.2 210.3,395.6 210.0,395.9 209.6,396.3 209.3,396.6 209.0,397.0 208.6,397.4 208.3,397.7 207.9,398.0 207.6,398.4 207.2,398.8 206.9,399.1 206.5,399.4 206.1,399.8 205.8,400.1 205.4,400.5 205.0,400.9 204.7,401.2 204.3,401.5 203.9,401.9 203.6,402.2 203.2,402.6 202.8,402.9 202.4,403.3 202.0,403.6 201.7,404.0 201.3,404.3 200.9,404.6 200.6,404.8 200.2,405.1 199.9,405.4 199.5,405.8 199.1,406.1 198.6,406.4 198.2,406.8 197.8,407.1 197.4,407.4 197.1,407.7 196.8,408.0 196.4,408.2 196.0,408.5 195.5,408.9 195.0,409.2 194.6,409.5 194.3,409.8 193.9,410.0 193.4,410.3 192.9,410.6 192.6,410.8 192.2,411.0 191.5,411.4 191.1,411.5 190.8,411.7 190.1,412.0 189.8,412.1 189.1,412.4 188.7,412.5 188.0,412.7 187.6,412.8 186.9,412.8 186.2,412.8 185.9,412.7 185.5,412.4 185.1,412.0 184.8,411.7 184.5,411.1 184.2,410.6 184.1,410.3 183.8,409.6 183.7,409.2 183.5,408.5 183.4,408.2 183.2,407.5 183.1,407.1 182.8,406.5 182.4,406.1 182.1,406.0 181.3,405.8 180.6,405.9 179.9,406.0 179.3,406.1 178.9,406.2 178.2,406.3 177.8,406.4 177.1,406.7 176.8,406.8 176.1,407.1 175.8,407.3 175.3,407.5 174.7,407.8 174.3,408.0 174.0,408.2 173.3,408.5 172.9,408.7 172.5,408.9 171.9,409.1 171.6,409.3 170.8,409.5 170.3,409.6 169.8,409.7 169.1,409.9 168.8,410.0 168.1,410.2 167.7,410.4 167.3,410.9 167.3,411.4 167.2,412.0 167.1,412.8 167.0,413.2 166.8,413.8 166.6,414.1 166.3,414.6 165.9,415.0 165.6,415.4 165.2,415.6 164.8,415.9 164.2,416.1 163.8,416.2 163.1,416.4 162.4,416.4 161.8,416.4 161.2,416.2 160.7,416.1 160.1,415.9 159.6,415.7 159.3,415.5 158.7,415.2 158.2,415.1 157.7,415.2 157.3,415.5 157.0,415.9 156.7,416.2 156.4,416.6 156.1,416.9 155.7,417.3 155.4,417.6 155.0,418.0 154.6,418.4 154.1,418.7 153.7,418.9 153.7,418.9 M189.4,411.4 188.7,411.5 188.0,411.6 187.3,411.5 186.9,411.4 186.5,411.0 186.2,410.6 185.9,410.3 185.6,409.7 185.3,409.2 185.2,408.9 185.0,408.2 184.8,407.7 184.8,407.1 184.7,406.4 184.6,405.8 184.7,405.0 184.7,404.4 184.8,403.8 185.0,403.3 185.2,402.7 185.4,402.2 185.7,401.9 185.9,401.5 186.2,401.0 186.5,400.5 186.7,400.1 186.9,399.7 187.3,399.1 187.4,398.8 187.6,398.3 188.0,397.7 188.1,397.4 188.3,396.9 188.7,396.3 188.9,395.9 189.1,395.6 189.4,395.1 189.8,394.6 190.0,394.2 190.2,393.9 190.5,393.5 190.8,393.1 191.1,392.6 191.5,392.1 191.8,391.8 192.0,391.4 192.3,391.0 192.6,390.7 192.9,390.2 193.2,389.8 193.6,389.4 193.9,389.0 194.3,388.7 194.6,388.3 195.0,388.0 195.3,387.7 195.7,387.4 196.1,387.1 196.4,386.8 196.8,386.5 197.2,386.1 197.6,385.8 198.1,385.4 198.5,385.1 198.8,384.9 199.2,384.6 199.5,384.4 200.0,384.1 200.5,383.7 200.9,383.4 201.3,383.1 201.7,382.9 202.1,382.6 202.6,382.3 203.0,382.1 203.4,381.9 203.9,381.6 204.4,381.4 204.8,381.2 205.5,381.0 205.8,380.8 206.5,380.6 206.9,380.5 207.6,380.4 208.3,380.3 209.0,380.3 209.7,380.3 210.4,380.3 211.1,380.4 211.8,380.6 212.1,380.7 212.8,380.9 213.2,381.0 213.7,381.2 214.2,381.5 214.6,381.7 214.9,382.0 215.4,382.3 215.7,382.6 216.0,383.1 216.2,383.7 216.2,384.4 216.1,385.1 216.0,385.4 215.8,386.1 215.6,386.6 215.4,387.2 215.3,387.6 215.0,388.2 214.8,388.6 214.6,389.0 214.3,389.6 214.1,390.0 213.9,390.4 213.5,390.9 213.2,391.4 213.0,391.8 212.7,392.1 212.4,392.4 212.1,392.8 211.8,393.2 211.4,393.7 211.1,394.1 210.8,394.5 210.4,394.9 210.1,395.2 209.7,395.6 209.4,395.9 209.1,396.3 208.7,396.6 208.4,397.0 208.1,397.4 207.7,397.7 207.4,398.0 207.0,398.4 206.6,398.8 206.3,399.1 205.9,399.4 205.6,399.8 205.2,400.1 204.8,400.5 204.5,400.9 204.1,401.2 203.8,401.5 203.4,401.8 203.0,402.2 202.7,402.5 202.3,402.8 202.0,403.1 201.7,403.4 201.3,403.7 200.9,404.0 200.5,404.4 200.1,404.7 199.7,405.0 199.3,405.4 198.8,405.7 198.5,406.0 198.2,406.3 197.8,406.6 197.4,406.8 197.0,407.1 196.6,407.5 196.1,407.9 195.7,408.2 195.3,408.4 195.0,408.7 194.6,408.9 194.1,409.2 193.6,409.6 193.2,409.8 192.9,410.0 192.2,410.3 191.8,410.5 191.5,410.6 190.8,410.9 190.4,411.1 189.8,411.3 189.4,411.4 189.4,411.4 M163.8,415.6 163.1,415.7 162.4,415.7 161.8,415.7 161.3,415.5 160.7,415.3 160.3,415.1 159.9,414.9 159.5,414.5 159.2,414.1 158.9,413.8 158.6,413.1 158.6,412.8 158.5,412.0 158.6,411.4 158.8,411.0 159.0,410.6 159.4,410.3 159.8,409.9 160.3,409.6 160.7,409.4 161.1,409.2 161.8,409.0 162.4,408.9 163.1,408.9 163.8,409.0 164.6,409.2 164.9,409.4 165.2,409.7 165.6,410.1 165.9,410.6 166.1,411.0 166.3,411.7 166.3,412.0 166.3,412.7 166.2,413.1 166.0,413.8 165.8,414.1 165.5,414.5 165.1,414.9 164.6,415.2 164.2,415.4 163.8,415.6 163.8,415.6 M153.0,414.2 152.6,414.1 152.1,413.8 151.8,413.4 151.9,412.9 152.3,412.5 152.6,412.3 153.3,412.0 153.4,412.0 154.1,412.2 154.4,412.8 154.1,413.3 153.7,413.7 153.3,414.0 153.0,414.2 153.0,414.2 M144.9,417.7 144.2,417.8 143.6,417.7 143.2,417.6 142.7,417.3 142.3,416.9 142.0,416.6 141.8,416.1 141.7,415.5 141.7,414.9 141.8,414.5 142.1,413.9 142.5,413.5 142.8,413.2 143.2,413.0 143.9,412.8 144.6,412.8 145.3,413.0 145.6,413.2 146.0,413.5 146.3,413.9 146.7,414.5 146.8,414.9 146.8,415.5 146.7,415.9 146.4,416.6 146.1,416.9 145.7,417.3 145.3,417.6 144.9,417.7 144.9,417.7 M189.4,410.3 188.8,410.3 188.3,410.2 188.0,409.9 187.6,409.6 187.3,409.2 186.9,408.7 186.7,408.2 186.5,407.9 186.3,407.1 186.2,406.8 186.2,406.1 186.2,405.4 186.2,404.7 186.3,404.4 186.5,403.6 186.6,403.3 186.9,402.6 187.0,402.2 187.3,401.5 187.5,401.2 187.6,400.8 188.0,400.1 188.1,399.8 188.3,399.3 188.6,398.8 188.7,398.4 189.1,397.7 189.2,397.4 189.4,397.0 189.8,396.4 190.0,395.9 190.2,395.6 190.4,395.2 190.8,394.7 191.1,394.2 191.4,393.9 191.6,393.5 191.8,393.1 192.2,392.6 192.6,392.1 192.8,391.8 193.1,391.4 193.4,391.0 193.6,390.7 193.9,390.3 194.3,389.9 194.6,389.5 195.0,389.2 195.3,388.8 195.7,388.5 196.1,388.2 196.4,387.9 196.8,387.6 197.2,387.2 197.7,386.9 198.1,386.5 198.5,386.2 198.8,386.0 199.2,385.7 199.6,385.4 200.1,385.1 200.6,384.8 200.9,384.5 201.3,384.3 201.7,384.0 202.2,383.7 202.7,383.4 203.0,383.2 203.4,383.0 204.0,382.6 204.4,382.5 204.8,382.3 205.5,382.0 205.8,381.9 206.5,381.7 207.1,381.6 207.6,381.5 208.3,381.4 209.0,381.4 209.7,381.4 210.4,381.5 210.8,381.6 211.4,381.8 212.0,381.9 212.5,382.1 212.9,382.3 213.5,382.6 213.9,382.9 214.2,383.1 214.6,383.4 214.9,383.9 215.1,384.4 215.2,385.1 215.1,385.8 214.9,386.5 214.8,386.9 214.6,387.6 214.5,387.9 214.2,388.5 214.0,388.9 213.9,389.3 213.5,389.9 213.3,390.4 213.1,390.7 212.8,391.1 212.5,391.6 212.1,392.1 211.9,392.4 211.6,392.8 211.3,393.1 211.0,393.5 210.7,393.9 210.4,394.2 210.0,394.6 209.7,395.0 209.3,395.4 209.0,395.8 208.6,396.1 208.3,396.5 207.9,396.9 207.6,397.2 207.2,397.6 206.9,397.9 206.5,398.2 206.2,398.6 205.8,398.9 205.5,399.3 205.1,399.6 204.8,399.9 204.4,400.3 204.1,400.6 203.8,400.9 203.4,401.3 203.0,401.6 202.7,401.9 202.3,402.2 201.9,402.6 201.5,402.9 201.1,403.3 200.7,403.6 200.3,404.0 199.9,404.3 199.5,404.6 199.2,404.9 198.8,405.1 198.5,405.4 198.0,405.8 197.6,406.1 197.1,406.4 196.8,406.7 196.4,407.0 196.1,407.2 195.7,407.5 195.2,407.9 194.7,408.2 194.3,408.4 193.9,408.6 193.5,408.9 192.9,409.2 192.6,409.4 192.0,409.6 191.5,409.8 191.1,409.9 190.4,410.2 189.8,410.3 189.4,410.3 189.4,410.3 M163.8,414.6 163.1,414.8 162.4,414.8 161.8,414.7 161.2,414.5 160.7,414.2 160.3,413.8 160.1,413.4 160.0,413.1 159.9,412.4 160.0,411.7 160.2,411.4 160.4,411.0 160.8,410.6 161.3,410.3 161.8,410.1 162.4,410.0 163.1,410.0 163.8,410.2 164.2,410.4 164.6,410.7 164.9,411.1 165.2,411.7 165.3,412.0 165.3,412.8 165.2,413.1 164.9,413.7 164.6,414.1 164.2,414.4 163.8,414.6 163.8,414.6 M144.6,416.7 143.9,416.7 143.6,416.6 143.1,416.2 142.8,415.8 142.8,415.2 142.8,414.8 143.2,414.3 143.6,414.0 144.2,413.9 144.9,414.1 145.3,414.4 145.6,414.9 145.6,415.5 145.3,416.2 144.9,416.5 144.6,416.7 144.6,416.7 M190.8,408.9 190.1,408.9 189.8,408.8 189.3,408.5 188.9,408.2 188.7,407.9 188.3,407.4 188.1,406.8 188.0,406.4 187.8,405.8 187.8,405.0 187.9,404.4 188.0,403.6 188.1,403.3 188.3,402.6 188.4,402.2 188.7,401.5 188.8,401.2 189.1,400.6 189.2,400.1 189.4,399.7 189.6,399.1 189.8,398.8 190.1,398.0 190.3,397.7 190.4,397.3 190.8,396.6 191.0,396.3 191.2,395.9 191.5,395.5 191.8,394.9 192.1,394.5 192.3,394.2 192.6,393.9 192.9,393.4 193.2,392.8 193.5,392.4 193.8,392.1 194.0,391.8 194.3,391.4 194.6,390.9 195.0,390.5 195.3,390.1 195.7,389.7 196.1,389.4 196.4,389.1 196.8,388.8 197.1,388.5 197.4,388.2 197.8,387.9 198.3,387.6 198.7,387.2 199.2,386.9 199.5,386.6 199.9,386.4 200.3,386.1 200.8,385.8 201.3,385.5 201.7,385.3 202.0,385.0 202.5,384.8 203.0,384.4 203.4,384.2 203.8,384.0 204.4,383.7 204.8,383.6 205.3,383.4 205.8,383.2 206.5,383.0 206.9,382.9 207.6,382.8 208.3,382.8 209.0,382.8 209.7,382.9 210.4,383.0 210.8,383.1 211.4,383.3 211.8,383.4 212.4,383.7 212.8,384.0 213.2,384.2 213.5,384.5 213.9,385.0 214.0,385.4 214.1,386.1 214.0,386.9 213.9,387.4 213.7,387.9 213.5,388.5 213.4,388.9 213.2,389.3 212.8,390.0 212.6,390.4 212.4,390.7 212.1,391.1 211.8,391.7 211.5,392.1 211.2,392.4 210.9,392.8 210.7,393.1 210.4,393.5 210.0,393.9 209.7,394.3 209.3,394.7 209.0,395.1 208.6,395.4 208.3,395.8 207.9,396.2 207.6,396.5 207.2,396.9 206.9,397.2 206.5,397.6 206.2,397.9 205.8,398.3 205.5,398.6 205.1,399.0 204.8,399.3 204.4,399.6 204.1,400.0 203.8,400.3 203.4,400.6 203.0,401.0 202.7,401.3 202.3,401.6 202.0,401.9 201.6,402.2 201.2,402.6 200.8,402.9 200.3,403.3 199.9,403.6 199.5,403.9 199.2,404.2 198.8,404.5 198.5,404.7 198.1,405.0 197.6,405.4 197.1,405.8 196.8,406.0 196.4,406.3 196.1,406.5 195.6,406.8 195.1,407.1 194.6,407.4 194.3,407.6 193.9,407.9 193.2,408.2 192.9,408.3 192.3,408.5 191.8,408.7 191.1,408.9 190.8,408.9 190.8,408.9 M192.9,407.2 192.2,407.4 191.5,407.3 191.0,407.1 190.6,406.8 190.4,406.4 190.1,406.0 189.8,405.4 189.8,405.0 189.7,404.4 189.7,403.6 189.8,403.2 189.9,402.6 190.0,401.9 190.1,401.5 190.4,400.9 190.5,400.5 190.7,399.8 190.8,399.4 191.1,398.8 191.3,398.4 191.5,397.9 191.8,397.4 192.0,397.0 192.2,396.6 192.6,396.0 192.8,395.6 193.0,395.2 193.2,394.9 193.6,394.3 193.9,393.9 194.1,393.5 194.4,393.1 194.6,392.7 195.0,392.2 195.3,391.8 195.6,391.4 195.9,391.0 196.2,390.7 196.5,390.4 196.9,390.0 197.3,389.6 197.7,389.3 198.1,388.9 198.5,388.6 198.8,388.4 199.2,388.1 199.5,387.9 200.0,387.6 200.6,387.2 200.9,387.0 201.3,386.8 201.8,386.5 202.3,386.2 202.7,386.0 203.1,385.8 203.8,385.5 204.1,385.3 204.6,385.1 205.1,384.9 205.6,384.8 206.2,384.6 206.9,384.5 207.4,384.4 207.9,384.4 208.6,384.4 209.0,384.4 209.7,384.5 210.4,384.7 210.8,384.8 211.4,385.1 211.8,385.3 212.1,385.5 212.5,385.8 212.8,386.4 212.9,386.9 212.9,387.6 212.8,387.9 212.7,388.6 212.5,389.1 212.2,389.6 212.1,390.0 211.8,390.5 211.5,391.0 211.2,391.4 211.0,391.8 210.8,392.1 210.4,392.6 210.0,393.0 209.7,393.4 209.4,393.9 209.1,394.2 208.7,394.5 208.4,394.9 208.1,395.2 207.8,395.6 207.4,395.9 207.1,396.3 206.8,396.6 206.4,397.0 206.1,397.4 205.7,397.7 205.4,398.0 205.0,398.4 204.6,398.8 204.3,399.1 203.9,399.4 203.5,399.8 203.2,400.1 202.8,400.5 202.4,400.9 202.0,401.2 201.7,401.5 201.3,401.8 200.9,402.1 200.6,402.4 200.2,402.7 199.9,402.9 199.4,403.3 199.0,403.6 198.5,404.0 198.2,404.2 197.8,404.5 197.4,404.7 197.0,405.0 196.5,405.4 196.1,405.7 195.7,405.9 195.3,406.1 194.7,406.4 194.3,406.7 193.9,406.8 193.2,407.1 192.9,407.2 192.9,407.2 M193.9,405.4 193.2,405.5 192.9,405.3 192.6,405.0 192.2,404.5 192.0,404.0 191.8,403.4 191.8,402.9 191.8,402.2 191.9,401.9 192.0,401.2 192.1,400.5 192.2,400.1 192.5,399.4 192.6,399.1 192.9,398.4 193.0,398.0 193.2,397.6 193.6,397.0 193.7,396.6 193.9,396.3 194.3,395.7 194.5,395.2 194.7,394.9 195.0,394.5 195.3,393.9 195.6,393.5 195.8,393.1 196.1,392.8 196.4,392.3 196.8,391.9 197.1,391.5 197.4,391.1 197.8,390.7 198.2,390.4 198.5,390.1 198.8,389.8 199.2,389.5 199.5,389.3 200.0,388.9 200.6,388.6 200.9,388.4 201.3,388.2 201.8,387.9 202.3,387.6 202.7,387.5 203.3,387.2 203.8,387.0 204.1,386.9 204.8,386.6 205.3,386.5 205.8,386.4 206.5,386.3 207.2,386.2 207.9,386.2 208.6,386.3 209.3,386.4 209.8,386.5 210.4,386.7 210.8,386.9 211.2,387.2 211.5,387.6 211.6,388.2 211.5,388.9 211.4,389.3 211.1,390.0 211.0,390.4 210.8,390.7 210.4,391.3 210.1,391.8 209.9,392.1 209.6,392.4 209.3,392.8 209.0,393.3 208.6,393.7 208.3,394.1 207.9,394.5 207.6,394.9 207.3,395.2 206.9,395.6 206.6,395.9 206.3,396.3 205.9,396.6 205.6,397.0 205.2,397.4 204.9,397.7 204.5,398.0 204.2,398.4 203.8,398.8 203.4,399.1 203.0,399.4 202.7,399.8 202.3,400.1 202.0,400.4 201.7,400.7 201.3,401.0 200.9,401.3 200.6,401.5 200.1,401.9 199.7,402.2 199.2,402.6 198.8,402.9 198.5,403.1 198.2,403.3 197.7,403.6 197.1,404.0 196.8,404.2 196.4,404.4 195.9,404.7 195.3,405.0 195.0,405.1 194.3,405.4 193.9,405.4 193.9,405.4 M196.1,403.0 195.3,403.0 195.0,402.7 194.8,402.2 194.6,401.9 194.5,401.2 194.5,400.5 194.6,399.8 194.7,399.4 194.8,398.8 195.0,398.3 195.2,397.7 195.3,397.3 195.6,396.6 195.8,396.3 196.1,395.8 196.3,395.2 196.5,394.9 196.8,394.5 197.1,393.9 197.3,393.5 197.6,393.1 197.8,392.8 198.2,392.4 198.5,392.0 198.8,391.6 199.2,391.3 199.5,391.0 199.9,390.7 200.4,390.4 200.9,390.0 201.3,389.8 201.7,389.6 202.2,389.3 202.7,389.1 203.0,388.9 203.8,388.7 204.1,388.6 204.8,388.4 205.5,388.3 205.8,388.2 206.5,388.2 207.2,388.2 207.6,388.3 208.3,388.4 209.0,388.6 209.3,388.7 209.7,389.1 209.8,389.6 209.7,390.2 209.5,390.7 209.3,391.1 209.0,391.8 208.8,392.1 208.6,392.4 208.3,392.8 207.9,393.3 207.6,393.7 207.2,394.1 206.9,394.5 206.6,394.9 206.3,395.2 205.9,395.6 205.6,395.9 205.3,396.3 204.9,396.6 204.6,397.0 204.2,397.4 203.9,397.7 203.5,398.0 203.1,398.4 202.7,398.8 202.3,399.1 202.0,399.4 201.7,399.7 201.3,400.0 200.9,400.2 200.6,400.5 200.1,400.9 199.6,401.2 199.2,401.5 198.8,401.7 198.5,401.9 197.9,402.2 197.4,402.5 197.1,402.7 196.4,402.9 196.1,403.0 196.1,403.0 M199.5,399.5 198.8,399.6 198.5,399.4 198.2,398.8 198.1,398.4 198.0,397.7 198.1,397.0 198.2,396.6 198.4,395.9 198.5,395.6 198.8,394.9 199.1,394.5 199.3,394.2 199.5,393.8 199.9,393.4 200.2,393.0 200.6,392.7 200.9,392.4 201.3,392.1 201.8,391.8 202.3,391.4 202.7,391.2 203.1,391.0 203.8,390.8 204.3,390.7 204.8,390.6 205.5,390.6 206.1,390.7 206.5,390.8 207.0,391.0 207.2,391.8 206.9,392.4 206.8,392.8 206.5,393.2 206.2,393.6 205.8,394.1 205.5,394.5 205.2,394.9 204.8,395.2 204.5,395.6 204.2,395.9 203.8,396.3 203.5,396.6 203.1,397.0 202.7,397.4 202.3,397.7 202.0,398.0 201.7,398.2 201.3,398.5 200.9,398.8 200.4,399.1 199.9,399.3 199.5,399.5 199.5,399.5" fill="none" stroke="#000" stroke-width="1.0" stroke-linejoin="round"/>
<path d="M68,259.6H245.5V436.3" fill="none" stroke="#555" stroke-width="1.3"/>
<path d="M121.2,436.3V261.4H173.6V436.3" fill="none" stroke="#3c3c3c" stroke-width="1.2" stroke-dasharray="3 2.3"/><path d="M121.2,384.2H173.6" fill="none" stroke="#3c3c3c" stroke-width="1.2" stroke-dasharray="3 2.3"/><path d="M174.6,371L221.3,331.5L236.3,335.2" fill="none" stroke="#3c3c3c" stroke-width="1.2" stroke-dasharray="3 2.3"/><path d="M176,412L184.5,436" fill="none" stroke="#3c3c3c" stroke-width="1.2" stroke-dasharray="3 2.3"/>
<path d="M64,436.3H245.5" stroke="#111" stroke-width="1.3"/>
<path d="M68,259.6V440.8" stroke="#333" stroke-width="1.2"/>
<path d="M112.4,436.3v4.5" stroke="#444" stroke-width="1"/>
<path d="M156.8,436.3v4.5" stroke="#444" stroke-width="1"/>
<path d="M201.1,436.3v4.5" stroke="#444" stroke-width="1"/>
<path d="M245.5,436.3v4.5" stroke="#444" stroke-width="1"/>
<path d="M68,259.6h-4.5" stroke="#444" stroke-width="1"/>
<path d="M68,303.8h-4.5" stroke="#444" stroke-width="1"/>
<path d="M68,348.0h-4.5" stroke="#444" stroke-width="1"/>
<path d="M68,392.1h-4.5" stroke="#444" stroke-width="1"/>
<path d="M81.4,436.3v2.6 M68,423.0h-2.6 M89.2,436.3v2.6 M68,415.2h-2.6 M94.7,436.3v2.6 M68,409.7h-2.6 M99.0,436.3v2.6 M68,405.4h-2.6 M102.5,436.3v2.6 M68,401.9h-2.6 M105.5,436.3v2.6 M68,399.0h-2.6 M108.1,436.3v2.6 M68,396.4h-2.6 M110.3,436.3v2.6 M68,394.1h-2.6 M125.7,436.3v2.6 M68,378.8h-2.6 M133.5,436.3v2.6 M68,371.0h-2.6 M139.1,436.3v2.6 M68,365.5h-2.6 M143.4,436.3v2.6 M68,361.2h-2.6 M146.9,436.3v2.6 M68,357.8h-2.6 M149.9,436.3v2.6 M68,354.8h-2.6 M152.4,436.3v2.6 M68,352.2h-2.6 M154.7,436.3v2.6 M68,350.0h-2.6 M170.1,436.3v2.6 M68,334.7h-2.6 M177.9,436.3v2.6 M68,326.9h-2.6 M183.5,436.3v2.6 M68,321.4h-2.6 M187.8,436.3v2.6 M68,317.1h-2.6 M191.3,436.3v2.6 M68,313.6h-2.6 M194.3,436.3v2.6 M68,310.6h-2.6 M196.8,436.3v2.6 M68,308.1h-2.6 M199.1,436.3v2.6 M68,305.8h-2.6 M214.5,436.3v2.6 M68,290.5h-2.6 M222.3,436.3v2.6 M68,282.7h-2.6 M227.8,436.3v2.6 M68,277.2h-2.6 M232.1,436.3v2.6 M68,272.9h-2.6 M235.7,436.3v2.6 M68,269.4h-2.6 M238.6,436.3v2.6 M68,266.4h-2.6 M241.2,436.3v2.6 M68,263.9h-2.6 M243.5,436.3v2.6 M68,261.6h-2.6" stroke="#777" stroke-width="0.7"/>
<text transform="translate(54.1,439.8) scale(0.86,1)" font-size="11.0" text-anchor="end" font-weight="bold">10</text>
<text transform="translate(56.1,436.4) scale(0.9,1)" font-size="9.4" font-weight="bold">0</text>
<text transform="translate(54.1,395.6) scale(0.86,1)" font-size="11.0" text-anchor="end" font-weight="bold">10</text>
<text transform="translate(56.1,392.2) scale(0.9,1)" font-size="9.4" font-weight="bold">1</text>
<text transform="translate(54.1,351.5) scale(0.86,1)" font-size="11.0" text-anchor="end" font-weight="bold">10</text>
<text transform="translate(56.1,348.1) scale(0.9,1)" font-size="9.4" font-weight="bold">2</text>
<text transform="translate(54.1,307.3) scale(0.86,1)" font-size="11.0" text-anchor="end" font-weight="bold">10</text>
<text transform="translate(56.1,303.9) scale(0.9,1)" font-size="9.4" font-weight="bold">3</text>
<text transform="translate(54.1,263.1) scale(0.86,1)" font-size="11.0" text-anchor="end" font-weight="bold">10</text>
<text transform="translate(56.1,259.7) scale(0.9,1)" font-size="9.4" font-weight="bold">4</text>
<text transform="translate(71.2,453.6) scale(0.86,1)" font-size="11.0" text-anchor="end" font-weight="bold">10</text>
<text transform="translate(72.6,450.5) scale(0.9,1)" font-size="9.4" font-weight="bold">0</text>
<text transform="translate(115.6,453.6) scale(0.86,1)" font-size="11.0" text-anchor="end" font-weight="bold">10</text>
<text transform="translate(117.0,450.5) scale(0.9,1)" font-size="9.4" font-weight="bold">1</text>
<text transform="translate(159.9,453.6) scale(0.86,1)" font-size="11.0" text-anchor="end" font-weight="bold">10</text>
<text transform="translate(161.3,450.5) scale(0.9,1)" font-size="9.4" font-weight="bold">2</text>
<text transform="translate(204.3,453.6) scale(0.86,1)" font-size="11.0" text-anchor="end" font-weight="bold">10</text>
<text transform="translate(205.7,450.5) scale(0.9,1)" font-size="9.4" font-weight="bold">3</text>
<text transform="translate(248.7,453.6) scale(0.86,1)" font-size="11.0" text-anchor="end" font-weight="bold">10</text>
<text transform="translate(250.1,450.5) scale(0.9,1)" font-size="9.4" font-weight="bold">4</text>
<text x="73" y="326.8" font-size="16" font-weight="bold">15.1%</text>
<text x="188.6" y="327.4" font-size="16" font-weight="bold">55.1%</text>
<text x="72.6" y="413.6" font-size="16" font-weight="bold">28.6%</text>
<path d="M33.6,439V312" stroke="#000" stroke-width="1.6"/>
<path d="M33.6,303L30,314H37.2Z" fill="#000"/>
<text transform="translate(18,424.2) rotate(-90)" font-size="24.3" font-weight="bold">FL3: PI</text>
<path d="M68.5,469.5H197" stroke="#000" stroke-width="1.6"/>
<path d="M206.2,469.5L195.2,466L195.2,473Z" fill="#000"/>
<text x="72.4" y="499.3" font-size="24.5" font-weight="bold">FL1: DiOC<tspan font-size="16" dx="1" dy="8">6</tspan></text>
<path d="M333.8,261.1V436.3H477" fill="none" stroke="#444" stroke-width="1.1"/>
<path d="M333.8,261.1h-5" stroke="#444" stroke-width="1.1"/>
<text x="323.9" y="265.2" font-size="15.7" font-weight="bold" text-anchor="end">150</text>
<path d="M333.8,319.2h-5" stroke="#444" stroke-width="1.1"/>
<text x="323.9" y="323.4" font-size="15.7" font-weight="bold" text-anchor="end">125</text>
<path d="M333.8,377.4h-5" stroke="#444" stroke-width="1.1"/>
<text x="323.9" y="381.5" font-size="15.7" font-weight="bold" text-anchor="end">100</text>
<path d="M333.8,436.3h-5" stroke="#444" stroke-width="1.1"/>
<text x="326.4" y="440.4" font-size="15.7" font-weight="bold" text-anchor="end">75</text>
<path d="M356.3,436.3v4.5" stroke="#444" stroke-width="1.1"/>
<path d="M405.7,436.3v4.5" stroke="#444" stroke-width="1.1"/>
<path d="M455.6,436.3v4.5" stroke="#444" stroke-width="1.1"/>
<rect x="335.8" y="377.4" width="19.1" height="58.9" fill="#d6d6d6" stroke="#333" stroke-width="0.9"/>
<rect x="357.4" y="377.4" width="19.1" height="58.9" fill="#4b4b4b" stroke="#333" stroke-width="0.9"/>
<path d="M395.0,316.5V289.2M392.5,289.2h5" stroke="#444" stroke-width="1.2"/>
<rect x="385.5" y="316.5" width="19.0" height="119.8" fill="#d6d6d6" stroke="#333" stroke-width="0.9"/>
<path d="M416.8,326.2V296.7M414.2,296.7h5" stroke="#444" stroke-width="1.2"/>
<rect x="407" y="326.2" width="19.5" height="110.1" fill="#4b4b4b" stroke="#333" stroke-width="0.9"/>
<path d="M444.8,317.9V289.2M442.3,289.2h5" stroke="#444" stroke-width="1.2"/>
<rect x="435.1" y="317.9" width="19.4" height="118.4" fill="#d6d6d6" stroke="#333" stroke-width="0.9"/>
<path d="M466.2,349.5V311.8M463.8,311.8h5" stroke="#444" stroke-width="1.2"/>
<rect x="456.7" y="349.5" width="19.1" height="86.8" fill="#4b4b4b" stroke="#333" stroke-width="0.9"/>
<rect x="425.6" y="255.2" width="8" height="7.4" fill="#d6d6d6" stroke="#555" stroke-width="0.9"/>
<rect x="425.6" y="272" width="8" height="7.4" fill="#4b4b4b" stroke="#444" stroke-width="0.9"/>
<text x="440.6" y="263.2" font-size="11.8" font-weight="bold">24 hrs</text>
<text x="440.6" y="279.6" font-size="11.8" font-weight="bold">48 hrs</text>
<text transform="translate(284.2,389.3) rotate(-90)" font-size="15.9" font-weight="bold">Viability (%)</text>
<text transform="translate(358.7,454.2) rotate(-45)" font-size="21" font-weight="bold" text-anchor="end">Control</text>
<text transform="translate(412.7,447.1) rotate(-45)" font-size="21" font-weight="bold" text-anchor="end"><tspan font-weight="normal" font-family="Liberation Serif" font-size="22">α</tspan>IgM 14 mg/mL</text>
<text transform="translate(463.2,448.7) rotate(-45)" font-size="21" font-weight="bold" text-anchor="end"><tspan font-weight="normal" font-family="Liberation Serif" font-size="22">α</tspan>IgM 42 mg/mL</text>
</svg></body></html>
